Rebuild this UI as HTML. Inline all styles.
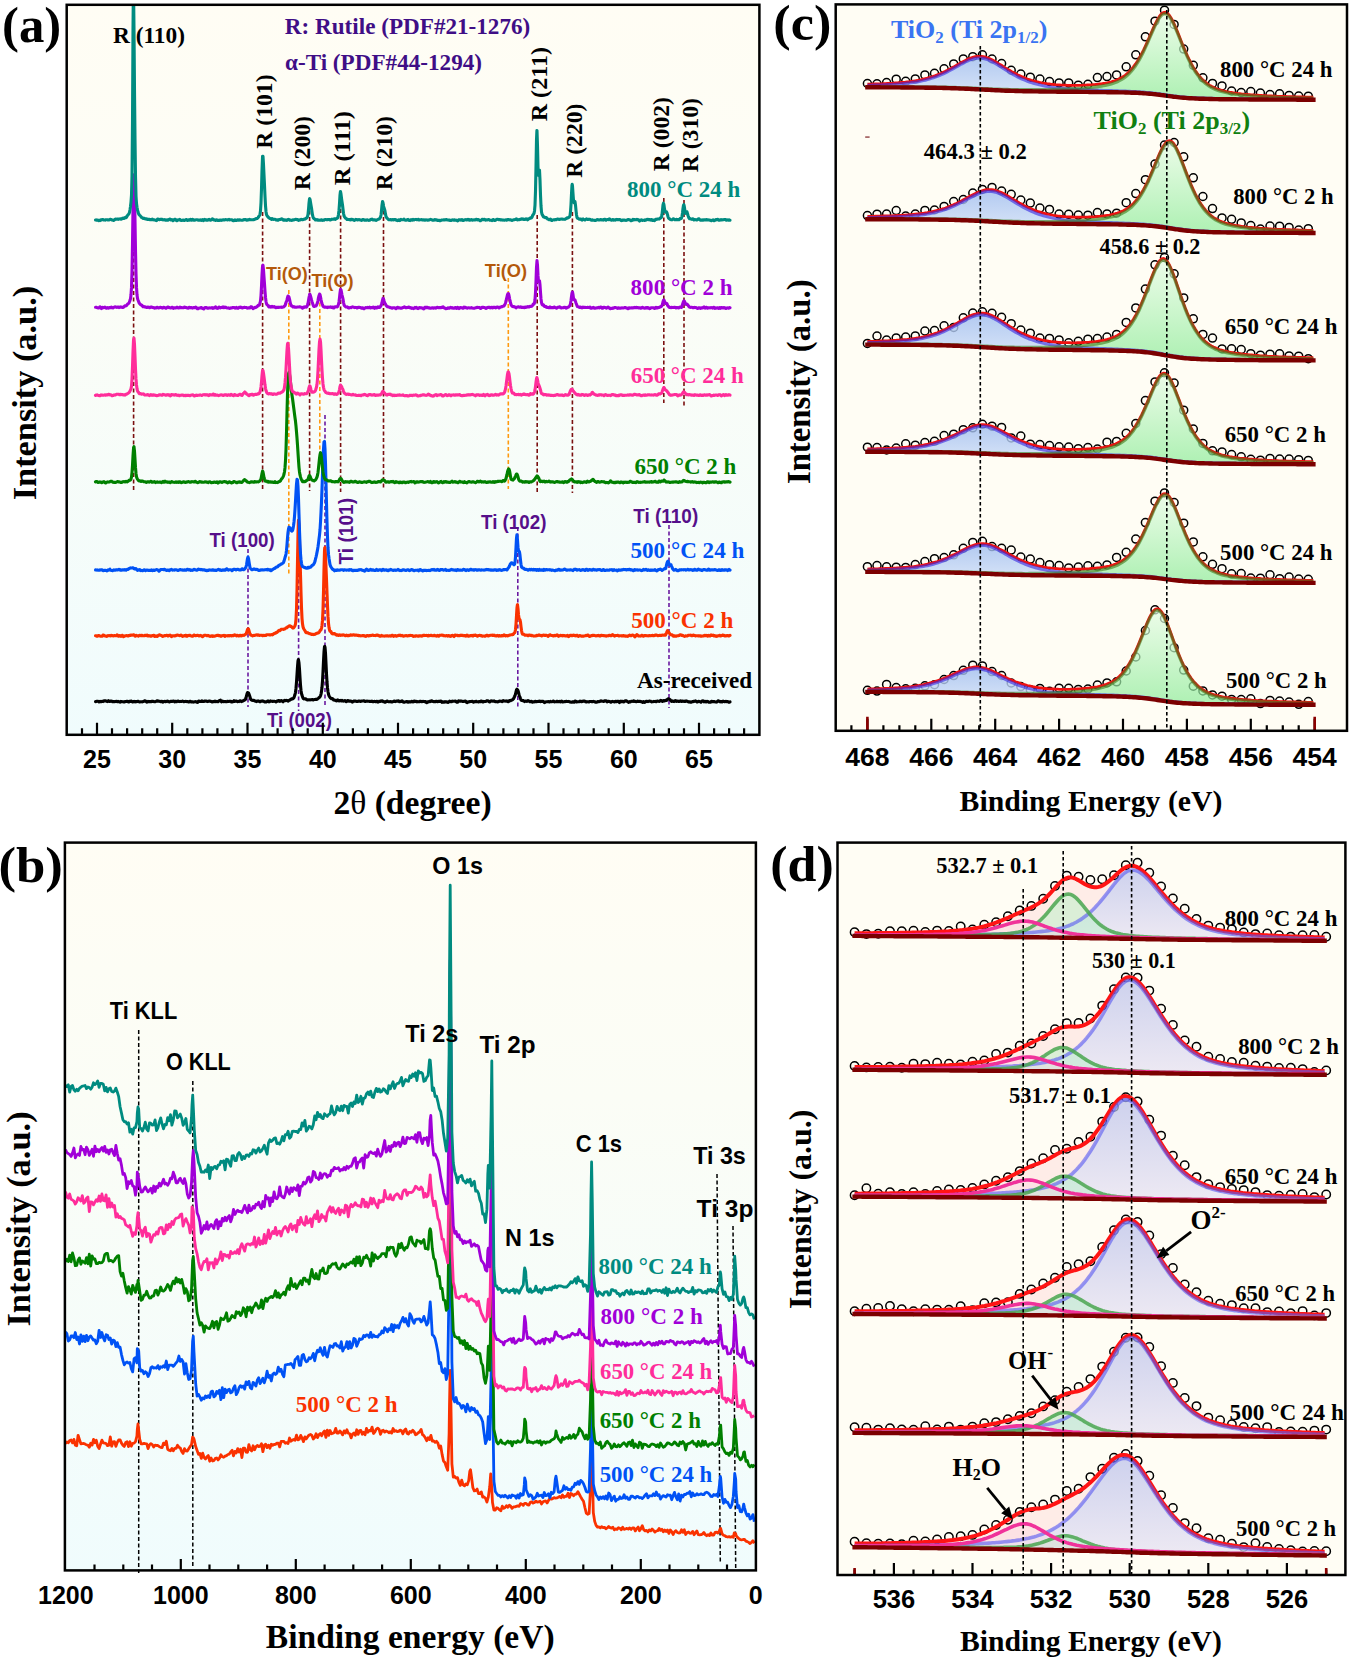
<!DOCTYPE html><html><head><meta charset="utf-8"><style>html,body{margin:0;padding:0;background:#fff}svg{display:block}</style></head><body>
<svg width="1349" height="1661" viewBox="0 0 1349 1661">
<defs>
<linearGradient id="bgA" x1="0" y1="0" x2="0" y2="1"><stop offset="0" stop-color="#fffdf4"/><stop offset="0.35" stop-color="#fcfdf6"/><stop offset="1" stop-color="#f0fcfd"/></linearGradient>
<linearGradient id="bgB" x1="0" y1="0" x2="0" y2="1"><stop offset="0" stop-color="#fffdf4"/><stop offset="0.35" stop-color="#fbfdf6"/><stop offset="1" stop-color="#f0fcfd"/></linearGradient>
<linearGradient id="gG" x1="0" y1="0" x2="0" y2="1"><stop offset="0" stop-color="#e4fce4"/><stop offset="1" stop-color="#8ceb98"/></linearGradient>
<linearGradient id="gB" x1="0" y1="0" x2="0" y2="1"><stop offset="0" stop-color="#9fbdf0"/><stop offset="1" stop-color="#d2e1f9"/></linearGradient>
<linearGradient id="dB" x1="0" y1="0" x2="0" y2="1"><stop offset="0" stop-color="#b9c6f0"/><stop offset="1" stop-color="#e6e8f8"/></linearGradient>
<clipPath id="cA"><rect x="67" y="5" width="692" height="730"/></clipPath>
<clipPath id="cB"><rect x="65" y="843" width="691" height="727"/></clipPath>
<clipPath id="cC"><rect x="836" y="5" width="511" height="726"/></clipPath>
<clipPath id="cD"><rect x="838" y="843" width="507" height="732"/></clipPath>
</defs>
<rect width="1349" height="1661" fill="#fff"/>
<rect x="66.7" y="4.8" width="692.6999999999999" height="730.0" fill="url(#bgA)"/>
<g clip-path="url(#cA)">
<line x1="133.6" y1="200" x2="133.6" y2="491" stroke="#7a1010" stroke-width="1.6" stroke-dasharray="4 2.5"/>
<line x1="262.6" y1="212" x2="262.6" y2="491" stroke="#7a1010" stroke-width="1.6" stroke-dasharray="4 2.5"/>
<line x1="309.6" y1="204" x2="309.6" y2="491" stroke="#7a1010" stroke-width="1.6" stroke-dasharray="4 2.5"/>
<line x1="340.6" y1="196" x2="340.6" y2="492" stroke="#7a1010" stroke-width="1.6" stroke-dasharray="4 2.5"/>
<line x1="383.5" y1="204" x2="383.5" y2="488" stroke="#7a1010" stroke-width="1.6" stroke-dasharray="4 2.5"/>
<line x1="537.2" y1="215" x2="537.2" y2="494" stroke="#7a1010" stroke-width="1.6" stroke-dasharray="4 2.5"/>
<line x1="572.4" y1="212" x2="572.4" y2="493" stroke="#7a1010" stroke-width="1.6" stroke-dasharray="4 2.5"/>
<line x1="663.8" y1="198" x2="663.8" y2="403" stroke="#7a1010" stroke-width="1.6" stroke-dasharray="4 2.5"/>
<line x1="684.0" y1="200" x2="684.0" y2="406" stroke="#7a1010" stroke-width="1.6" stroke-dasharray="4 2.5"/>
<line x1="288.8" y1="290" x2="288.8" y2="575" stroke="#ff9a10" stroke-width="1.6" stroke-dasharray="4 2.5"/>
<line x1="319.8" y1="296" x2="319.8" y2="452" stroke="#ff9a10" stroke-width="1.6" stroke-dasharray="4 2.5"/>
<line x1="508.3" y1="278" x2="508.3" y2="489" stroke="#ff9a10" stroke-width="1.6" stroke-dasharray="4 2.5"/>
<line x1="248.0" y1="549" x2="248.0" y2="707" stroke="#6a1aa0" stroke-width="1.6" stroke-dasharray="4 2.5"/>
<line x1="298.6" y1="560" x2="298.6" y2="711" stroke="#6a1aa0" stroke-width="1.6" stroke-dasharray="4 2.5"/>
<line x1="325.0" y1="415" x2="325.0" y2="707" stroke="#6a1aa0" stroke-width="1.6" stroke-dasharray="4 2.5"/>
<line x1="517.8" y1="527" x2="517.8" y2="708" stroke="#6a1aa0" stroke-width="1.6" stroke-dasharray="4 2.5"/>
<line x1="669.0" y1="525" x2="669.0" y2="708" stroke="#6a1aa0" stroke-width="1.6" stroke-dasharray="4 2.5"/>
</g>
<g clip-path="url(#cA)">
<path d="M95.5 701.6l.5 0 .5-.2 .5-.2 .5 0 .5 0 .5 .4 .5 .3 .5-.3 .5-.2 .5 .3 .5 .1 .5-.2 .5-.3 .5 .2 .5 .1 .5-.4 .5-.2 .5-.3 .5 0 .5 .1 .5 .3 .5 .1 .5 .3 .5 .1 .5-.4 .5-.5 .5 .4 .5 .4 .5-.1 .5-.3 .5 0 .5 0 .5 .2 .5 .4 .5-.2 .5 .1 .5 .2 .5-.3 .5 0 .5 .1 .5-.1 .5-.2 .5 .3 .5 .2 .5-.4 .5 .3 .5 0 .5 0 .5 .5 .5-.3 .5-.5 .5 .1 .5 .2 .5 0 .5 .1 .5 0 .5 .2 .5 0 .5-.4 .5-.1 .5 0 .5-.1 .5-.2 .5 0 .5 .4 .5 .4 .5-.1 .5-.6 .5-.1 .5 .2 .5-.4 .5 .2 .5 .5 .5 .3 .5-.1 .5-.4 .5-.1 .5 .3 .5 .2 .5-.3 .5-.1 .5 .1 .5 0 .5-.2 .5-.2 .5 .2 .5 .2 .5 .4 .5-.1 .5-.1 .5 0 .5-.1 .5 .2 .5-.1 .5-.2 .5-.3 .5 0 .5-.5 .5-.1 .5 .4 .5 .2 .5 .5 .5 .3 .5-.5 .5-.2 .5 .2 .5 .1 .5-.1 .5 0 .5 .2 .5-.1 .5-.4 .5 .1 .5 0 .5-.1 .5 .1 .5 .1 .5 .3 .5 0 .5-.2 .5-.2 .5-.2 .5-.4 .5 .2 .5 .2 .5-.1 .5 .2 .5-.1 .5 .3 .5 0 .5 .2 .5-.2 .5-.2 .5 .6 .5 .3 .5-.5 .5-.2 .5-.1 .5 0 .5 .3 .5-.2 .5-.1 .5-.2 .5-.1 .5 .2 .5 .5 .5 0 .5 .1 .5-.3 .5-.3 .5 0 .5 .1 .5 0 .5 0 .5-.2 .5-.2 .5 .4 .5 .4 .5-.3 .5-.2 .5 .4 .5 .1 .5-.5 .5-.1 .5-.1 .5 0 .5 .4 .5 .1 .5-.1 .5-.1 .5 .1 .5-.1 .5-.1 .5-.2 .5 .1 .5 .5 .5-.1 .5 0 .5-.1 .5-.1 .5 0 .5 .2 .5-.1 .5 0 .5 .2 .5 .3 .5 0 .5-.3 .5-.4 .5-.1 .5 .6 .5 .2 .5-.2 .5 0 .5 .2 .5 .1 .5-.2 .5-.1 .5 0 .5-.3 .5 .3 .5 .2 .5 .2 .5 .2 .5-.3 .5-.9 .5-.2 .5 .4 .5 0 .5 .1 .5 0 .5-.6 .5-.1 .5 .5 .5 .2 .5 0 .5-.1 .5-.3 .5-.1 .5 .1 .5-.1 .5 0 .5 .5 .5 .1 .5-.1 .5-.3 .5-.1 .5-.1 .5 .2 .5 .2 .5 0 .5 .2 .5 .3 .5 .1 .5-.5 .5 .1 .5 0 .5-.3 .5-.2 .5 .2 .5 .4 .5-.1 .5-.1 .5 .1 .5 .2 .5-.4 .5-.6 .5-.1 .5-.3 .5-.2 .5 .9 .5 .7 .5-.3 .5-.4 .5 .1 .5 .5 .5 0 .5-.1 .5-.1 .5 .1 .5 .2 .5 0 .5-.3 .5-.2 .5 .1 .5 .1 .5 0 .5-.3 .5 0 .5 .1 .5 0 .5 .7 .5 0 .5-.4 .5 0 .5-.3 .5-.6 .5 .4 .5 .3 .5-.2 .5-.2 .5 .1 .5 .3 .5 .3 .5-.1 .5-.1 .5 .1 .5-.4 .5-.5 .5 0 .5 .7 .5 .2 .5-.2 .5-.2 .5-.3 .5-.3 .5-.3 .5-.3 .5-.2 .5-.5 .5-1.5 .5-2 .5-2 .5-1.2 .5 0 .5 .4 .5 1.1 .5 1.5 .5 1.5 .5 1.6 .5 1 .5 .3 .5 .2 .5 .2 .5 0 .5-.1 .5 .2 .5 .2 .5 .4 .5-.1 .5 .4 .5 .2 .5-.4 .5-.2 .5 .2 .5-.1 .5 0 .5 .4 .5 .4 .5-.4 .5-.4 .5-.1 .5 .1 .5-.2 .5 .1 .5 .4 .5 0 .5 .4 .5 .2 .5-.2 .5 0 .5 .2 .5-.5 .5-.5 .5-.1 .5 .5 .5 .5 .5-.2 .5-.6 .5-.2 .5 .2 .5 .2 .5 0 .5 .1 .5 0 .5-.1 .5 0 .5 0 .5 .1 .5 .3 .5 .3 .5-.3 .5-.6 .5-.3 .5 0 .5-.3 .5 .1 .5 .7 .5 .1 .5-.4 .5-.5 .5 .2 .5 .2 .5 .5 .5 .4 .5-.6 .5-.6 .5-.2 .5 .2 .5 0 .5-.2 .5 0 .5 .1 .5 .4 .5 .2 .5-.3 .5-.4 .5-.2 .5-.2 .5-.3 .5-.4 .5-.5 .5-.1 .5 .2 .5-.3 .5-.4 .5-.7 .5-1.5 .5-1.5 .5-2.2 .5-4.1 .5-6.2 .5-7.4 .5-7.8 .5-5.9 .4-1.4 .1 .6 .5 3 .5 6.2 .5 8.4 .5 7.4 .5 5.3 .5 3.1 .5 1.8 .5 1.4 .5 1.4 .5 .5 .5 .3 .5-.1 .5 0 .5-.1 .5 .5 .5 .5 .5-.1 .5 .4 .5 0 .5-.3 .5 0 .5 .1 .5 .1 .5-.1 .5-.1 .5 0 .5-.1 .5-.1 .5 .4 .5 .1 .5-.5 .5 0 .5-.1 .5-.1 .5 .2 .5-.1 .5-.1 .5-.5 .5-.3 .5-.4 .5-.5 .5-.3 .5-.6 .5-.9 .5-1.7 .5-2.7 .5-4.1 .5-6.3 .5-9 .5-10.6 .5-9.4 .5-5.3 .2-.3 .3 .8 .5 6.1 .5 10.2 .5 10.5 .5 8 .5 5.9 .5 3.9 .5 2.4 .5 1.6 .5 .8 .5 .7 .5 .7 .5 .3 .5 .4 .5-.1 .5 0 .5 .5 .5 .9 .5 .1 .5 0 .5 .1 .5 .2 .5 .3 .5 .2 .5-.6 .5-.4 .5 .1 .5 .3 .5 .6 .5 .1 .5-.5 .5-.1 .5 .4 .5 .2 .5-.6 .5 .3 .5 .2 .5 .2 .5-.2 .5-.2 .5-.1 .5 .3 .5 .7 .5 0 .5-.5 .5-.4 .5-.2 .5 .4 .5 .3 .5 0 .5-.1 .5-.1 .5 .2 .5 .3 .5 .5 .5 .1 .5-.6 .5-.4 .5 .1 .5-.1 .5 0 .5 0 .5 .1 .5 .2 .5 .1 .5 0 .5-.2 .5-.2 .5-.1 .5 .2 .5 .1 .5 .1 .5-.1 .5-.3 .5 .1 .5-.1 .5 0 .5 0 .5-.2 .5 .4 .5 .3 .5-.1 .5-.1 .5-.1 .5-.1 .5 .1 .5 .1 .5 0 .5-.1 .5 .2 .5 .1 .5-.1 .5 0 .5 0 .5-.3 .5 .4 .5 .2 .5 0 .5-.1 .5-.3 .5 .1 .5 .3 .5 0 .5-.3 .5-.2 .5 .4 .5 .5 .5-.1 .5-.5 .5-.3 .5 .3 .5-.2 .5-.5 .5 .3 .5-.2 .5 0 .5 .4 .5 .5 .5-.2 .5 .2 .5 .5 .5-.1 .5-.5 .5-.4 .5-.3 .5 .2 .5 .4 .5 .1 .5 .1 .5 0 .5-.3 .5 0 .5 .3 .5 .2 .5 0 .5-.2 .5-.2 .5-.1 .5-.4 .5-.1 .5 .5 .5 .1 .5-.2 .5-.4 .5 .1 .5 .1 .5-.3 .5-.2 .5 .6 .5 .5 .5-.1 .5-.3 .5 .1 .5-.1 .5-.6 .5 .4 .5 .6 .5 .3 .5 .2 .5-.1 .5-.3 .5-.1 .5 0 .5-.3 .5 .1 .5 .5 .5 .1 .5-.4 .5-.2 .5 .2 .5 .2 .5-.1 .5 0 .5-.5 .5 0 .5 .2 .5 .3 .5-.1 .5-.7 .5 0 .5 .3 .5-.2 .5 0 .5 .5 .5 .2 .5-.2 .5-.1 .5 .2 .5 0 .5-.1 .5-.4 .5-.1 .5 .2 .5 .1 .5 .2 .5-.1 .5-.3 .5 .1 .5 .2 .5 .1 .5-.2 .5 .1 .5 .6 .5 .5 .5-.2 .5-.6 .5 0 .5 .1 .5-.4 .5-.3 .5 .2 .5 .1 .5-.5 .5-.3 .5 .2 .5 .4 .5 0 .5 .1 .5 .2 .5 0 .5-.1 .5 0 .5-.3 .5-.1 .5 .2 .5 .4 .5-.2 .5-.3 .5 0 .5 .2 .5 0 .5-.5 .5 0 .5 .7 .5 .7 .5-.2 .5-.4 .5 .3 .5 .1 .5-.4 .5-.2 .5 .4 .5 0 .5-.2 .5 0 .5 .5 .5 .1 .5-.3 .5-.5 .5-.4 .5 .3 .5 .1 .5 .2 .5 0 .5-.5 .5-.2 .5 .2 .5 0 .5 0 .5 0 .5-.2 .5-.1 .5 .7 .5 .3 .5 .2 .5 .1 .5-.7 .5-.7 .5 0 .5 .1 .5 .2 .5 0 .5-.2 .5 .2 .5 0 .5 .2 .5 .1 .5-.1 .5 0 .5-.1 .5-.2 .5-.1 .5 .6 .5 .8 .5 .2 .5-.3 .5-.4 .5-.2 .5 .2 .5-.2 .5-.2 .5 0 .5 0 .5-.1 .5-.1 .5-.1 .5 .4 .5 .6 .5-.4 .5-.2 .5 .2 .5-.1 .5-.4 .5 .2 .5 .3 .5 0 .5 0 .5 .1 .5-.3 .5-.1 .5 .1 .5 .1 .5-.6 .5-.1 .5 .4 .5 .4 .5 .2 .5-.2 .5-.4 .5 .1 .5 0 .5-.1 .5 .1 .5-.5 .5-.3 .5 .2 .5 0 .5 .3 .5 .4 .5 .3 .5 .1 .5-.5 .5-.6 .5 0 .5 .1 .5 .1 .5 .2 .5-.2 .5-.2 .5 .5 .5 .2 .5 0 .5 0 .5 .1 .5 0 .5 .2 .5-.1 .5-.1 .5-.3 .5-.4 .5 .1 .5 .2 .5 0 .5-.1 .5 .5 .5-.3 .5-.6 .5-.2 .5 .4 .5 .1 .5-.1 .5 .1 .5 0 .5 .1 .5-.2 .5 .2 .5 .5 .5 .1 .5-.9 .5-.4 .5 .1 .5 .1 .5-.4 .5-.1 .5-.1 .5-.4 .5-.4 .5-.6 .5-1 .5-1 .5-1.1 .5-1.6 .5-2.2 .5-2 .5-.6 .2 .4 .3 .2 .5 .8 .5 1.7 .5 2.1 .5 1.6 .5 1.2 .5 1.4 .5 1.2 .5 .5 .5 .2 .5 0 .5 .2 .5-.1 .5 .4 .5 .6 .5-.2 .5-.4 .5 0 .5 .3 .5 .1 .5-.5 .5-.3 .5 .3 .5 .3 .5 .3 .5 .3 .5-.1 .5-.2 .5-.2 .5 .5 .5 .4 .5-.2 .5-.3 .5 0 .5 .2 .5-.5 .5 0 .5 .3 .5 0 .5-.2 .5 0 .5-.1 .5 .1 .5-.2 .5-.2 .5 .3 .5 .2 .5-.3 .5 .1 .5 .1 .5-.2 .5 0 .5 .1 .5 .7 .5 .5 .5-.2 .5-.5 .5-.1 .5-.1 .5 .1 .5 0 .5-.3 .5 .2 .5 .1 .5 .2 .5-.3 .5-.3 .5 .2 .5 .2 .5-.1 .5-.1 .5-.4 .5-.2 .5 .6 .5 .3 .5-.2 .5 0 .5 .1 .5-.3 .5-.2 .5 .2 .5 .2 .5-.2 .5 .1 .5-.2 .5-.1 .5 .5 .5-.3 .5-.4 .5 .3 .5 .5 .5 .1 .5-.3 .5 0 .5 0 .5-.2 .5 .1 .5-.1 .5-.2 .5 .1 .5 .1 .5 0 .5-.1 .5 .1 .5 .4 .5 0 .5 .2 .5 .1 .5 0 .5 0 .5-.4 .5-.1 .5 .2 .5 .4 .5-.2 .5-1 .5 0 .5 .6 .5 .3 .5-.1 .5-.2 .5 .1 .5 0 .5 0 .5-.2 .5-.5 .5 .2 .5 .2 .5 .2 .5-.2 .5-.2 .5 .1 .5-.2 .5-.2 .5 0 .5 .4 .5 .4 .5 .1 .5-.1 .5 .1 .5-.2 .5 0 .5 .2 .5 0 .5-.3 .5-.1 .5 0 .5 0 .5 0 .5 .2 .5-.1 .5 0 .5-.2 .5 .2 .5 .1 .5 .1 .5 .4 .5 0 .5 .1 .5-.3 .5-.5 .5 0 .5 .2 .5 0 .5-.1 .5-.3 .5-.4 .5 .1 .5-.1 .5 .4 .5 0 .5 0 .5 .1 .5 0 .5-.5 .5-.2 .5 0 .5 0 .5 .5 .5 .6 .5-.3 .5 0 .5-.2 .5 .2 .5 0 .5 .1 .5 .4 .5 .2 .5-.3 .5-.4 .5-.1 .5 .2 .5 .1 .5 .1 .5 .1 .5-.1 .5-.6 .5 .2 .5 .3 .5-.2 .5-.2 .5-.1 .5 0 .5 .6 .5 .7 .5-.4 .5-.8 .5-.2 .5 .4 .5 .2 .5-.3 .5 0 .5 .5 .5 0 .5-.5 .5-.4 .5-.2 .5 .1 .5 0 .5 .5 .5 .2 .5 .3 .5 .4 .5-.3 .5-.4 .5 .2 .5 .1 .5-.5 .5-.2 .5 0 .5 0 .5 .3 .5-.6 .5 0 .5 .4 .5 .2 .5 .1 .5 .1 .5 0 .5-.1 .5-.5 .5 .1 .5 .2 .5 .1 .5 0 .5-.2 .5 .1 .5 .3 .5 0 .5 0 .5 .7 .5-.1 .5-.8 .5 .3 .5 .6 .5-.2 .5-.5 .5-.2 .5-.2 .5 0 .5 .1 .5 .2 .5-.2 .5-.2 .5-.1 .5 .1 .5 0 .5 .3 .5 .4 .5-.1 .5 0 .5-.1 .5-.1 .5-.2 .5 .1 .5 0 .5-.1 .5 .3 .5-.2 .5-.3 .5-.1 .5 .1 .5 .1 .5 0 .5 .2 .5-.5 .5-.6 .5 .1 .5 0 .5 .6 .5 .4 .5-.3 .5-.6 .5 0 .5 .4 .5-.4 .5-.4 .5 .1 .5 .1 .5-.6 .5-.6 .3-.1 .2-.1 .5-.2 .5 .1 .5 .4 .5 .3 .5 .5 .5 .7 .5 .5 .5-.3 .5-.1 .5 .2 .5 .4 .5 .1 .5-.4 .5-.4 .5-.2 .5 .3 .5 .5 .5-.1 .5-.2 .5 .1 .5 .3 .5 0 .5-.2 .5-.2 .5-.3 .5 .3 .5 .4 .5-.5 .5 .2 .5 .2 .5-.1 .5-.1 .5 .2 .5 .1 .5-.2 .5-.4 .5 .2 .5 .1 .5 .1 .5 .3 .5 .3 .5 0 .5-.2 .5 .3 .5 .2 .5 .1 .5-.2 .5-.4 .5-.1 .5 0 .5-.3 .5 .1 .5-.1 .5-.2 .5-.2 .5 .2 .5 .5 .5 .4 .5 0 .5-.3 .5-.3 .5 0 .5 .2 .5 .1 .5 .3 .5 .2 .5-.6 .5-.6 .5-.1 .5 0 .5 .3 .5 .6 .5-.2 .5-.3 .5 .4 .5 .3 .5-.4 .5-.3 .5 .1 .5 .3 .5 .3 .5 .2 .5 .1 .5 0 .5-.1 .5-.4 .5-.6 .5 .2 .5 .2 .5 0 .5 .1 .5-.2 .5 0 .5 .5 .5 0 .5-.1 .5 .2 .5-.1 .5-.5 .5-.7 .5 .2 .5 .2 .5 .1 .5 .4 .5 .2 .5-.4 .5 0 .5 .5 .5-.4 .5-.4 .5 .3 .5 .1 .5-.1 .5 .2 .5-.3 .5-.1 .5 .3 .5 .2 .5-.2 .5 0 .5 .4 .5 .3 .5-.3 .5-.1" fill="none" stroke="#000000" stroke-width="3.1" stroke-linejoin="round" stroke-linecap="round"/>
<path d="M95.5 635.7l.5 .1 .5 .2 .5 .2 .5 0 .5-.3 .5-.4 .5 0 .5 .4 .5 .2 .5 .1 .5 0 .5 .1 .5 0 .5-.6 .5-.6 .5-.1 .5 .3 .5 .5 .5 0 .5 .3 .5 .1 .5 .2 .5-.2 .5-.4 .5-.2 .5 .1 .5 0 .5-.1 .5 .2 .5 .1 .5-.5 .5 0 .5 .1 .5 .2 .5 .2 .5 0 .5-.2 .5-.2 .5 .2 .5 0 .5 .1 .5-.3 .5-.6 .5 .3 .5 .6 .5 .4 .5-.2 .5-.3 .5-.2 .5 .7 .5 .2 .5-.5 .5-.4 .5-.2 .5 .8 .5 .6 .5-.3 .5-.2 .5-.3 .5-.2 .5 .1 .5-.3 .5 0 .5 .3 .5 .2 .5 0 .5-.3 .5-.3 .5-.2 .5 .2 .5-.1 .5-.3 .5 .1 .5 0 .5-.2 .5-.1 .5 .2 .5 .6 .5 .5 .5 0 .5-.7 .5 0 .5 .4 .5-.1 .5 .1 .5 .3 .5-.5 .5-.4 .5 0 .5 .4 .5 0 .5-.4 .5 .1 .5 .5 .5 0 .5-.1 .5 .1 .5-.1 .5-.5 .5 .2 .5 .2 .5-.3 .5-.3 .5 .4 .5 .6 .5 0 .5-.4 .5 .4 .5-.2 .5 .2 .5 .3 .5-.2 .5-.4 .5-.2 .5 .1 .5-.3 .5 0 .5 1 .5 .2 .5-.3 .5-.3 .5 .3 .5 .3 .5-.2 .5-.6 .5-.4 .5-.1 .5-.4 .5 .1 .5 .4 .5 .1 .5 .1 .5 .4 .5 .5 .5-.1 .5-.3 .5-.1 .5-.3 .5 0 .5 .1 .5-.3 .5-.1 .5 0 .5 .4 .5 .4 .5-.4 .5-.2 .5-.2 .5-.2 .5 .3 .5 .8 .5 .4 .5-.5 .5-.4 .5 .1 .5 0 .5 .1 .5 0 .5 0 .5-.1 .5-.3 .5-.2 .5-.3 .5 .1 .5 .1 .5 .1 .5 .1 .5 .2 .5 0 .5-.4 .5-.1 .5 .3 .5 .6 .5 .4 .5-.3 .5-.2 .5 0 .5-.3 .5 .2 .5-.5 .5-.1 .5 1.1 .5 0 .5-.7 .5 0 .5 0 .5-.1 .5-.3 .5 .1 .5 .4 .5 .2 .5 .2 .5 .1 .5 .1 .5-.5 .5-.4 .5-.4 .5 .2 .5 .5 .5-.1 .5 .1 .5-.1 .5-.3 .5 .1 .5 0 .5 .2 .5 .3 .5 0 .5-.4 .5-.1 .5 .2 .5 .2 .5 .5 .5 .4 .5-.4 .5-.5 .5-.3 .5-.2 .5-.1 .5 0 .5 .2 .5 .2 .5 .2 .5-.2 .5-.2 .5 .1 .5 .6 .5 .1 .5 .2 .5-.1 .5-.1 .5-.3 .5 .3 .5 .2 .5-.6 .5 .3 .5 .2 .5-.2 .5 0 .5-.1 .5-.3 .5-.1 .5-.3 .5 0 .5 0 .5 .2 .5 .2 .5-.1 .5 0 .5 .6 .5 .1 .5-.3 .5-.4 .5 .1 .5 .1 .5-.2 .5-.3 .5 .7 .5 .3 .5-.7 .5 .2 .5 0 .5 0 .5 .1 .5-.4 .5 .2 .5 .3 .5-.3 .5-.2 .5 0 .5 .2 .5 .2 .5-.3 .5 0 .5-.2 .5 .2 .5-.3 .5-.5 .5 .3 .5 .1 .5 .3 .5 .3 .5-.5 .5 0 .5 .5 .5 .1 .5 .1 .5-.3 .5-.4 .5 .2 .5 .4 .5-.1 .5-.3 .5-.2 .5-.1 .5 0 .5 .3 .5-.5 .5-.6 .5-.1 .5-.3 .5-1 .5-1.9 .5-1.6 .5-.7 .5 .2 .5 1.7 .5 2 .5 1.1 .5 .9 .5 .5 .5 .1 .5 .1 .5 .5 .5-.3 .5-.2 .5 .1 .5-.1 .5-.2 .5 0 .5-.1 .5-.3 .5 .3 .5 .1 .5-.2 .5-.1 .5 .2 .5 .3 .5-.1 .5-.1 .5 .1 .5-.1 .5 .2 .5 .3 .5-.3 .5 0 .5 .2 .5-.2 .5-.1 .5 .2 .5-.1 .5-.7 .5 0 .5 0 .5 0 .5 0 .5 .1 .5 .1 .5-.1 .5 .1 .5-.1 .5-.2 .5 .1 .5 .2 .5-.4 .5-.6 .5-.3 .5-.3 .5 .1 .5-.2 .5-.6 .5-.1 .5-.1 .5-.5 .5-.5 .5-.6 .5-.4 .5 .2 .5 .1 .5-.7 .5-.6 .5-.2 .5 0 .5 0 .5 0 .5 .2 .5-.3 .5-.1 .5-.2 .5-.4 .5-.5 .5 0 .5-.2 .5-.6 .5-.6 .5 0 .5-.3 .5-.4 .5 0 .5 .3 .5 .4 .5 .2 .5 .5 .5 .7 .5 .2 .5-.2 .5-.6 .5-.7 .5-.9 .5-1.9 .5-4.7 .5-9.8 .5-19.5 .5-28.2 .5-27.3 .4-12.7 .1-1.4 .5 4.6 .5 15.1 .5 17.3 .5 17.8 .5 17.7 .5 15.1 .5 10.5 .5 5.5 .5 2.9 .5 1.6 .5 .9 .5 .8 .5 .8 .5 1 .5 .7 .5 .2 .5-.1 .5 .1 .5 .3 .5 .2 .5 0 .5 .6 .5-.1 .5 0 .5 .4 .5 .3 .5 0 .5 0 .5 0 .5 .2 .5-.1 .5-.2 .5 0 .5-.3 .5-.4 .5-.3 .5 0 .5-.1 .5-.4 .5 0 .5-.3 .5-.8 .5-1 .5-.4 .5-.6 .5-1.6 .5-2.6 .5-5.3 .5-10.2 .5-18.2 .5-22.8 .5-17.8 .2-3.2 .3-.5 .5 8 .5 12 .5 12.4 .5 13.2 .5 12.7 .5 10.6 .5 7.1 .5 3.9 .5 2.5 .5 1.3 .5 .1 .5 .3 .5 1.2 .5 .7 .5 .3 .5 .1 .5-.3 .5 0 .5-.1 .5 .3 .5 .6 .5 .3 .5 .5 .5-.3 .5-.2 .5 .5 .5 .3 .5-.3 .5-.4 .5 .3 .5 .3 .5-.4 .5 0 .5 .3 .5-.1 .5-.3 .5 0 .5 .1 .5 .3 .5 .2 .5 .2 .5-.2 .5-.4 .5 .3 .5 .3 .5 .1 .5-.1 .5-.4 .5-.1 .5 .2 .5-.4 .5-.2 .5 .5 .5 0 .5-.2 .5-.3 .5 0 .5 .1 .5 .3 .5 0 .5-.2 .5 .3 .5-.2 .5 .1 .5 .3 .5-.1 .5-.1 .5 .5 .5-.2 .5 0 .5 .2 .5 .1 .5-.2 .5 0 .5-.1 .5 .1 .5-.2 .5 .1 .5 .5 .5-.1 .5 0 .5 .3 .5-.4 .5-.4 .5 .1 .5-.1 .5 .4 .5 .1 .5-.5 .5-.1 .5 .2 .5-.1 .5-.1 .5 0 .5-.4 .5 .2 .5 .2 .5 .1 .5 0 .5-.1 .5 .2 .5-.1 .5-.3 .5-.2 .5 .1 .5 .3 .5 0 .5 .3 .5 .4 .5 .2 .5-.1 .5-.6 .5-.2 .5 .4 .5 .2 .5 0 .5 0 .5 .1 .5 0 .5-.1 .5-.1 .5 0 .5-.1 .5 .1 .5 0 .5 0 .5 .2 .5-.1 .5-.1 .5-.2 .5 .1 .5 .3 .5-.5 .5-.4 .5 .1 .5 .4 .5 .6 .5-.2 .5-.3 .5-.3 .5 .2 .5 .4 .5 .1 .5-.4 .5 0 .5-.1 .5-.3 .5 .1 .5-.2 .5-.3 .5 .6 .5 .2 .5-.3 .5-.1 .5 .5 .5 .2 .5 .1 .5-.1 .5-.3 .5 0 .5-.1 .5-.1 .5 0 .5 .2 .5 .2 .5-.2 .5-.2 .5 0 .5 0 .5-.2 .5 0 .5 .1 .5 0 .5 0 .5 .2 .5 .6 .5 .1 .5-.4 .5 0 .5 .3 .5-.3 .5-.2 .5 0 .5 .2 .5 .1 .5 0 .5 .1 .5-.4 .5-.1 .5 0 .5 .3 .5-.2 .5 0 .5 .3 .5-.1 .5-.5 .5-.2 .5-.1 .5 .3 .5 .1 .5-.1 .5-.1 .5 0 .5 .1 .5 .4 .5 0 .5-.6 .5 .1 .5 .2 .5 0 .5-.2 .5 0 .5 0 .5 .3 .5 .1 .5-.1 .5 0 .5-.2 .5-.2 .5 .4 .5 .1 .5 0 .5 .3 .5-.1 .5-.6 .5 .1 .5 .7 .5 0 .5-.7 .5-.3 .5 0 .5 0 .5-.1 .5 .2 .5-.2 .5 .2 .5 .4 .5-.1 .5 .1 .5 .2 .5 0 .5-.2 .5-.1 .5 .1 .5 .4 .5-.2 .5-.4 .5 .1 .5 .4 .5 .2 .5 .2 .5-.2 .5-.5 .5-.3 .5-.1 .5 .3 .5 .5 .5 .4 .5-.7 .5-.8 .5 .2 .5 .2 .5-.2 .5 0 .5 .3 .5 .2 .5-.1 .5-.1 .5 .2 .5-.2 .5-.2 .5-.2 .5 .2 .5 .2 .5-.2 .5 .2 .5 .3 .5-.1 .5-.1 .5 0 .5 .5 .5 .1 .5-.5 .5-.6 .5 .2 .5 .7 .5 .3 .5-.2 .5-.1 .5-.4 .5 0 .5 .1 .5-.1 .5-.2 .5 .5 .5 .1 .5-.7 .5-.1 .5 .3 .5-.3 .5-.2 .5 .6 .5 .1 .5 .1 .5 .4 .5-.3 .5-.4 .5-.1 .5-.1 .5 0 .5 .3 .5-.1 .5 .2 .5 .5 .5 0 .5-.1 .5-.1 .5 .1 .5 .1 .5-.1 .5 0 .5-.5 .5-.3 .5-.1 .5 .2 .5 .5 .5 .1 .5-.4 .5-.1 .5-.1 .5-.2 .5 0 .5 .1 .5-.2 .5 .3 .5 .1 .5-.2 .5-.2 .5 .2 .5 .5 .5-.1 .5 .3 .5-.1 .5-.4 .5-.1 .5 .5 .5 .2 .5-.6 .5 0 .5 .4 .5 .1 .5 .1 .5-.4 .5-.2 .5 0 .5 .3 .5-.5 .5-.5 .5 .3 .5 .5 .5 .3 .5-.3 .5-.1 .5 .2 .5 .2 .5-.3 .5 0 .5-.2 .5-.3 .5-.1 .5-.1 .5-.1 .5 0 .5-.3 .5 .2 .5-.1 .5-.7 .5-.6 .5-.4 .5-.9 .5-2.5 .5-5.4 .5-8.2 .5-8.2 .4-2.9 .1-.1 .5 4 .5 6 .5 3.5 .5 .9 .5 .7 .5 2.4 .5 4.4 .5 3.7 .5 2.7 .5 1.2 .5 0 .5 0 .5 .3 .5 .3 .5 .4 .5 .1 .5-.2 .5 .2 .5-.2 .5 .2 .5 .4 .5-.2 .5-.4 .5-.1 .5 .2 .5 .3 .5 .1 .5-.3 .5 .2 .5 .3 .5 0 .5 .1 .5 .2 .5-.1 .5 0 .5 0 .5-.1 .5-.5 .5 .3 .5-.1 .5-.3 .5-.3 .5-.1 .5 .2 .5 .3 .5 .1 .5-.1 .5 .5 .5-.1 .5-.3 .5-.2 .5-.2 .5 0 .5 .2 .5 .2 .5-.1 .5-.2 .5 .1 .5 .1 .5 .4 .5 .5 .5-.3 .5-.6 .5-.5 .5-.1 .5 .2 .5 .5 .5 0 .5 0 .5 0 .5 .3 .5 .2 .5-.4 .5-.2 .5 .1 .5 .2 .5-.4 .5-.3 .5-.1 .5 .3 .5 .7 .5 .4 .5-.4 .5 0 .5-.2 .5-.3 .5 0 .5 .1 .5 .2 .5 .2 .5-.5 .5 .2 .5 .1 .5-.1 .5 .2 .5 .2 .5-.1 .5 0 .5-.2 .5-.3 .5 .8 .5 .4 .5-.2 .5-.5 .5-.5 .5 0 .5-.1 .5 .2 .5 .3 .5-.3 .5-.2 .5-.2 .5 .3 .5 .2 .5-.2 .5 .2 .5 .3 .5-.5 .5-.2 .5 .3 .5 .7 .5 .3 .5-.5 .5-.5 .5 .1 .5 .2 .5 0 .5 .4 .5 .1 .5-.3 .5 0 .5 .2 .5-.1 .5-.4 .5 .1 .5-.2 .5-.2 .5 .2 .5-.1 .5-.3 .5-.2 .5 .4 .5 .8 .5 .3 .5-.2 .5-.2 .5-.4 .5-.1 .5 0 .5-.3 .5 0 .5 .2 .5 0 .5-.1 .5 .2 .5 .2 .5 .1 .5-.1 .5-.2 .5 .1 .5-.1 .5-.2 .5 .2 .5 .3 .5 .2 .5-.2 .5-.6 .5 0 .5 .2 .5 .1 .5-.1 .5 .1 .5 .2 .5-.1 .5-.1 .5 .4 .5 .1 .5-.3 .5 0 .5-.1 .5 .2 .5-.2 .5-.3 .5 0 .5 0 .5 .3 .5 .1 .5-.2 .5-.5 .5-.5 .5 .4 .5 .2 .5 .5 .5 .4 .5-.2 .5-.3 .5 0 .5-.1 .5-.1 .5-.1 .5 .2 .5 .4 .5 0 .5 0 .5-.2 .5 0 .5 0 .5 .2 .5 .1 .5-.2 .5-.3 .5 .1 .5 .4 .5-.2 .5 0 .5 .4 .5 .1 .5-.3 .5 0 .5 .4 .5-.2 .5-.3 .5-.4 .5-.4 .5 .1 .5 .5 .5 .1 .5-.3 .5-.4 .5 0 .5 .1 .5 .1 .5 .6 .5 .6 .5 .3 .5-.6 .5-.7 .5-.6 .5-.4 .5 .5 .5 .6 .5 .4 .5 .1 .5-.1 .5-.1 .5 .2 .5-.1 .5-.5 .5-.2 .5 .1 .5 .7 .5 .2 .5-.4 .5-.4 .5 0 .5 .1 .5 0 .5 .1 .5 .1 .5-.1 .5 .2 .5-.1 .5-.2 .5-.1 .5 .1 .5 .2 .5-.1 .5-.1 .5-.2 .5-.1 .5 .3 .5-.1 .5 .2 .5-.1 .5-.5 .5 0 .5 .1 .5-.1 .5 .1 .5 .4 .5 0 .5 0 .5-.1 .5 0 .5-.2 .5 .2 .5 .1 .5-.1 .5-.3 .5-.2 .5 .3 .5 0 .5-.3 .5-.1 .5 .2 .5 0 .5-1.1 .5-1.1 .5-1.2 .5-1.1 .3 .2 .2 .4 .5 .8 .5 .6 .5 .7 .5 .8 .5 .5 .5 .2 .5 .1 .5-.1 .5 .4 .5 .6 .5 .4 .5-.2 .5-.2 .5 .2 .5 .2 .5 .1 .5-.2 .5-.4 .5 0 .5 0 .5 0 .5-.1 .5-.5 .5-.3 .5 .1 .5 0 .5 .5 .5 0 .5-.1 .5 .4 .5 .3 .5 0 .5 .4 .5-.1 .5-.6 .5 .2 .5 .1 .5 0 .5-.1 .5-.4 .5-.2 .5-.1 .5 .1 .5 0 .5-.2 .5 .2 .5 .4 .5 0 .5-.2 .5-.4 .5 0 .5 .3 .5 .1 .5 .1 .5 .3 .5-.1 .5-.1 .5 .1 .5 0 .5 0 .5 .2 .5 0 .5-.2 .5 0 .5 .2 .5 .2 .5 0 .5-.2 .5 0 .5 0 .5 0 .5-.4 .5-.3 .5 .5 .5-.1 .5-.4 .5 .1 .5 .3 .5 .5 .5-.3 .5-.5 .5 .2 .5 .3 .5 .1 .5-.7 .5-.4 .5 .5 .5 .1 .5-.2 .5-.2 .5 .6 .5 .3 .5-.5 .5 .3 .5 .2 .5 .4 .5-.3 .5-.2 .5 .2 .5-.2 .5-.2 .5 0 .5-.3 .5 0 .5 .6 .5-.2 .5-.3 .5 0 .5-.4 .5-.1 .5 .3 .5 .2 .5 .3 .5 .2 .5-.2 .5 .1 .5-.1 .5-.3 .5 0 .5 .1 .5 .3 .5 0 .5-.3 .5-.3" fill="none" stroke="#fa3200" stroke-width="3.1" stroke-linejoin="round" stroke-linecap="round"/>
<path d="M95.5 569.9l.5 0 .5 .2 .5-.1 .5-.1 .5 .4 .5 0 .5-.2 .5 .1 .5-.2 .5-.1 .5 0 .5-.2 .5 .1 .5 .3 .5 .5 .5 0 .5-.2 .5 .1 .5-.2 .5 0 .5 .1 .5 .1 .5 .3 .5-.5 .5-.4 .5 .3 .5-.2 .5-.5 .5-.3 .5 .8 .5 .5 .5 0 .5 .1 .5 .1 .5-.4 .5-.1 .5-.3 .5 .1 .5 .3 .5-.2 .5-.4 .5 .2 .5 0 .5-.1 .5 .1 .5-.2 .5-.3 .5 .3 .5 .4 .5-.3 .5 .2 .5 .3 .5-.2 .5-.4 .5 .1 .5 .2 .5 .1 .5-.4 .5-.1 .5 .5 .5 .1 .5-.4 .5-.4 .5 0 .5 0 .5-.3 .5-.6 .5-.1 .5-.2 .5-.3 .5 .1 .5 0 .5-.1 .5 0 .5-.2 .5 .4 .5 .5 .5 .3 .5 .1 .5-.4 .5 0 .5 .7 .5 .6 .5 .5 .5-.3 .5-.3 .5 .1 .5-.3 .5 .2 .5 .8 .5-.1 .5-.1 .5 .1 .5 .2 .5-.2 .5-.2 .5-.6 .5 0 .5 .7 .5 .3 .5-.3 .5-.2 .5-.2 .5 0 .5 .5 .5 0 .5-.2 .5 0 .5 .1 .5 0 .5-.3 .5-.2 .5 .4 .5 .3 .5-.5 .5 0 .5 .3 .5 .1 .5-.4 .5-.4 .5 .1 .5-.2 .5 .1 .5 .3 .5 .1 .5 .5 .5 .6 .5-.4 .5-.6 .5-.5 .5-.2 .5 0 .5 0 .5 0 .5 .1 .5 .1 .5-.2 .5-.2 .5 .1 .5 .5 .5 .3 .5 .3 .5-.1 .5-.3 .5-.1 .5 0 .5 .6 .5 0 .5-.6 .5-.3 .5 0 .5-.3 .5 .2 .5 .5 .5 0 .5-.1 .5 .1 .5-.3 .5 .1 .5-.1 .5-.1 .5 .2 .5 .1 .5 .4 .5-.1 .5 .1 .5-.4 .5-.1 .5-.4 .5 0 .5 .4 .5 .1 .5-.1 .5 .2 .5-.2 .5 .1 .5 .2 .5-.2 .5-.2 .5 .5 .5 0 .5-.5 .5-.4 .5-.2 .5 .2 .5 .5 .5-.1 .5-.2 .5 .3 .5 .4 .5-.3 .5 0 .5 .4 .5-.1 .5-.3 .5-.4 .5-.3 .5 .1 .5 .2 .5 .3 .5 .2 .5 .1 .5 0 .5-.3 .5-.5 .5-.3 .5 .3 .5 .1 .5 .1 .5 0 .5-.2 .5 .1 .5 .3 .5 .1 .5 0 .5 .1 .5-.2 .5-.1 .5 .4 .5 .4 .5-.3 .5 .3 .5 .2 .5-.1 .5-.4 .5 .3 .5-.3 .5-.3 .5 .1 .5 .1 .5 0 .5 0 .5 .1 .5-.4 .5-.1 .5 .5 .5 .2 .5-.1 .5-.3 .5 .3 .5 .2 .5-.1 .5-.5 .5-.1 .5-.1 .5-.3 .5 .3 .5 .4 .5-.2 .5-.1 .5 .5 .5 .2 .5-.2 .5-.4 .5 .1 .5 .2 .5-.4 .5 0 .5 .5 .5 0 .5-.8 .5-.7 .5 .2 .5 .4 .5 .4 .5 .3 .5-.2 .5-.2 .5 .1 .5-.1 .5 0 .5 .4 .5 .6 .5-.3 .5-.7 .5-.3 .5 0 .5-.2 .5 .2 .5 .3 .5 .3 .5-.3 .5-.3 .5-.2 .5 .1 .5 .3 .5 .2 .5 .2 .5-.2 .5 .2 .5-.2 .5-.4 .5-.6 .5 .2 .5 .6 .5 .2 .5-.3 .5-.3 .5-.6 .5-.7 .5-1 .5-1.8 .5-3.3 .5-3.4 .5-1.4 .5 1.5 .5 3.2 .5 3.2 .5 2.6 .5 1 .5 .5 .5 .5 .5 .2 .5-.2 .5-.1 .5-.3 .5-.2 .5 .1 .5 .5 .5-.1 .5 .2 .5-.2 .5 0 .5 .3 .5 .3 .5 .3 .5 .2 .5-.2 .5-.2 .5-.2 .5 .2 .5-.1 .5-.2 .5 0 .5 .1 .5 .1 .5 0 .5-.3 .5 0 .5 .1 .5-.3 .5 .2 .5 .2 .5-.6 .5 .2 .5 .3 .5 .1 .5 .3 .5-.5 .5 .6 .5 .4 .5-.3 .5-.5 .5-.3 .5-.4 .5-.2 .5-.5 .5-.1 .5-.1 .5-.7 .5-.3 .5-.2 .5-.3 .5 .1 .5-.5 .5-.7 .5-.3 .5-.3 .5-.3 .5-.3 .5-.3 .5-.2 .5-.4 .5-.2 .5-.4 .5-.6 .5-1.3 .5-1.7 .5-1.8 .5-1.5 .5-2.1 .5-3.6 .5-5.8 .5-6.6 .5-5.6 .5-3.5 .5-1.7 .5 .2 .5 .6 .5 .6 .5 1 .5 1.2 .5 .3 .5-.6 .5-1.7 .5-3 .5-3.8 .5-5.3 .5-7.3 .5-8.3 .5-9 .5-8 .5-4.8 .5 .6 .5 6.6 .5 12.4 .5 15.9 .5 16.1 .5 13.2 .5 9.7 .5 5.9 .5 3.5 .5 2.4 .5 .9 .5 .2 .5 .2 .5 .2 .5 .5 .5 .2 .5-.2 .5 .5 .5 .2 .5-.1 .5-.4 .5-.6 .5 .1 .5 .6 .5-.4 .5-.5 .5 .1 .5-.3 .5-.7 .5-.6 .5-.2 .5-.2 .5-.6 .5-.9 .5-.8 .5-1.5 .5-2.3 .5-1.9 .5-2.2 .5-2.5 .5-2.5 .5-3.1 .5-3.7 .5-4.1 .5-3.9 .5-5.1 .5-8 .5-9.4 .5-10.7 .5-13 .5-14.7 .5-14 .5-11.1 .5-7.2 .5-.4 .5 7.6 .5 14.5 .5 19.4 .5 20.6 .5 18.5 .5 14.9 .5 10.7 .5 6.7 .5 3.9 .5 3.3 .5 2.9 .5 1.5 .5 1 .5 .8 .5 .6 .5 .8 .5 .5 .5-.2 .5 .7 .5 .6 .5-.5 .5-.2 .5 .3 .5 .1 .5-.6 .5 0 .5 .1 .5 .2 .5 0 .5 0 .5-.2 .5-.1 .5-.2 .5 0 .5 .1 .5 0 .5 0 .5 .5 .5-.3 .5-.3 .5 .3 .5 0 .5 .1 .5 0 .5 0 .5-.1 .5-.1 .5 .3 .5 .1 .5-.7 .5 .2 .5 .1 .5-.3 .5 .1 .5 .7 .5 .1 .5 .2 .5-.2 .5-.3 .5 .1 .5 .1 .5 .1 .5-.2 .5-.1 .5 .1 .5 .2 .5-.2 .5-.6 .5 0 .5 .2 .5-.1 .5-.1 .5-.1 .5 .3 .5 .3 .5 .2 .5 0 .5 .3 .5 0 .5 .4 .5-.3 .5-.6 .5-.7 .5-.4 .5 .5 .5 .6 .5 .2 .5-.3 .5 .3 .5-.2 .5-.3 .5-.5 .5 .3 .5 .3 .5 .2 .5-.2 .5-.2 .5 .4 .5 .2 .5 0 .5 .1 .5-.1 .5-.4 .5-.6 .5 .2 .5 .7 .5 .1 .5-.3 .5-.2 .5 0 .5 0 .5-.1 .5 .2 .5 .6 .5-.3 .5-.6 .5-.3 .5 .3 .5 .5 .5 .1 .5-.3 .5-.1 .5-.1 .5 0 .5 .5 .5 .3 .5 .1 .5-.6 .5-.1 .5 .2 .5-.4 .5-.4 .5 .1 .5 .4 .5 .2 .5 .1 .5 .2 .5 .1 .5-.3 .5-.2 .5 0 .5 .3 .5 .1 .5-.2 .5-.1 .5-.3 .5-.4 .5 .2 .5 .6 .5 .2 .5 .2 .5-.2 .5 .1 .5 .1 .5-.2 .5-.5 .5 0 .5 0 .5-.1 .5 .3 .5 .2 .5 0 .5 .2 .5-.4 .5-.2 .5-.1 .5 0 .5 .2 .5 .3 .5 .3 .5-.1 .5-.3 .5-.4 .5-.3 .5 .2 .5 .1 .5 .4 .5 .1 .5 .3 .5 0 .5-.2 .5-.2 .5 0 .5 .1 .5 0 .5-.3 .5 .4 .5 .4 .5-.5 .5-.5 .5-.2 .5 0 .5 .6 .5 0 .5 .2 .5 .5 .5 0 .5-.7 .5 .1 .5 .1 .5-.1 .5-.1 .5 .1 .5 .3 .5-.1 .5-.1 .5 .1 .5 0 .5-.2 .5 .1 .5 .2 .5-.2 .5-.5 .5-.2 .5-.1 .5 0 .5 .3 .5-.1 .5-.4 .5 .4 .5 .4 .5-.2 .5-.1 .5 .2 .5-.3 .5-.4 .5 .1 .5 .5 .5 .4 .5 .1 .5-.4 .5-.5 .5-.1 .5 .1 .5 0 .5-.1 .5 .4 .5 .3 .5-.1 .5-.1 .5-.4 .5-.2 .5 .4 .5 .6 .5 0 .5-.2 .5 .1 .5 0 .5 .2 .5-.2 .5-.3 .5 .1 .5-.4 .5-.3 .5 .1 .5 .3 .5 .2 .5-.1 .5 .1 .5 .3 .5-.3 .5-.1 .5 .6 .5 .1 .5-.5 .5-.6 .5 .2 .5 .4 .5 .2 .5 0 .5-.4 .5 .1 .5 .1 .5 .2 .5 0 .5-.1 .5-.5 .5-.4 .5 .1 .5 .1 .5 .3 .5 .6 .5 .2 .5-.5 .5-.4 .5 0 .5 .2 .5 .5 .5-.1 .5-.2 .5-.5 .5-.4 .5 .1 .5 .3 .5 .3 .5 0 .5-.2 .5 .3 .5 .2 .5-.4 .5-.2 .5 .1 .5 0 .5 .1 .5 .5 .5 0 .5-.6 .5 0 .5 .2 .5 0 .5 0 .5 .1 .5 .2 .5-.3 .5 0 .5 .1 .5 0 .5 .1 .5 .1 .5-.1 .5-.1 .5-.2 .5-.3 .5-.1 .5 .1 .5 .2 .5-.1 .5 0 .5 .3 .5 0 .5-.2 .5 .5 .5 0 .5-.1 .5 .1 .5-.2 .5 .1 .5 .2 .5-.4 .5 0 .5 .1 .5-.3 .5 .1 .5 .5 .5 .2 .5-.5 .5-.1 .5 .2 .5-.3 .5-.2 .5 .2 .5 .2 .5 .2 .5 .2 .5-.1 .5-.2 .5-.3 .5-.3 .5 .1 .5 .1 .5-.1 .5-.1 .5 0 .5 .5 .5-.1 .5-.9 .5-.7 .5-.6 .5-.6 .5-1.1 .5-1.2 .5-1 .5-.7 .5-.4 .5 .2 .5 .2 .5 .6 .5 .7 .5 .4 .5-.4 .5-2 .5-5.6 .5-9.1 .5-9.5 .4-3.3 .1 .2 .5 4.9 .5 7.2 .5 3.8 .5 .1 .5 .9 .5 3.3 .5 4.9 .5 4.1 .5 2.6 .5 .6 .5 .5 .5 .1 .5 0 .5 .6 .5 .5 .5 .1 .5 .2 .5-.1 .5 0 .5 .1 .5 .4 .5 .3 .5-.2 .5-.3 .5-.3 .5 .2 .5 .3 .5-.4 .5-.2 .5 .3 .5 .3 .5 .1 .5-.6 .5 .3 .5 .2 .5-.4 .5 .1 .5 .5 .5 .2 .5-.7 .5-.1 .5 .7 .5 .2 .5-.7 .5-.3 .5 .6 .5 .2 .5 0 .5-.2 .5-.2 .5 .2 .5 .5 .5-.2 .5-.9 .5 .2 .5 .6 .5-.3 .5-.4 .5 .2 .5 .2 .5-.1 .5-.1 .5 0 .5 .1 .5 .1 .5-.2 .5 .1 .5 .2 .5 .4 .5-.2 .5-.1 .5 .1 .5 .1 .5 .1 .5 .1 .5 .3 .5-.2 .5-.5 .5-.1 .5 .2 .5 0 .5-.4 .5-.5 .5 0 .5 .6 .5 .4 .5-.1 .5-.4 .5 .3 .5-.1 .5 .1 .5-.1 .5-.3 .5-.3 .5-.3 .5 .1 .5 .2 .5 .5 .5 .3 .5 .1 .5-.2 .5-.2 .5 .1 .5 0 .5 .1 .5-.1 .5-.3 .5 .2 .5 .1 .5 0 .5 .4 .5 .2 .5-.6 .5-.5 .5-.3 .5 .3 .5 0 .5-.2 .5 .5 .5 .3 .5-.3 .5-.1 .5 0 .5 .2 .5-.3 .5 .4 .5 .5 .5-.2 .5-.2 .5-.3 .5-.2 .5 .3 .5 .1 .5-.2 .5 .3 .5 .4 .5-.2 .5-.8 .5-.2 .5 .2 .5 .7 .5 .2 .5-.2 .5-.5 .5-.2 .5 .3 .5 .1 .5-.1 .5 .2 .5 .2 .5-.2 .5-.6 .5-.2 .5 .4 .5 .3 .5 0 .5-.2 .5 .1 .5 .3 .5 0 .5-.2 .5-.3 .5 .1 .5 .1 .5-.3 .5 0 .5 .4 .5 .4 .5 .1 .5 0 .5-.3 .5-.4 .5-.2 .5 .3 .5 .6 .5 0 .5 0 .5-.1 .5-.2 .5-.1 .5 .1 .5 .2 .5 0 .5-.1 .5-.2 .5-.3 .5 0 .5 .1 .5 .1 .5-.4 .5 .5 .5 .6 .5-.5 .5-.4 .5 .3 .5 .3 .5-.1 .5 0 .5-.1 .5 .2 .5 .6 .5-.5 .5-.6 .5 0 .5 .3 .5 .2 .5 0 .5-.3 .5-.3 .5 .2 .5 0 .5-.2 .5-.3 .5 .1 .5 .1 .5 .1 .5-.2 .5 .3 .5 .1 .5-.3 .5-.1 .5 .2 .5 .1 .5-.5 .5 0 .5 .1 .5 .3 .5 .4 .5-.2 .5 0 .5 .1 .5 .6 .5 0 .5-.3 .5-.7 .5 0 .5 .5 .5-.1 .5-.1 .5 0 .5-.1 .5 .3 .5 0 .5-.1 .5-.1 .5 .1 .5 0 .5 .3 .5 .3 .5-.1 .5-.2 .5-.4 .5-.5 .5 .4 .5 .2 .5-.1 .5-.2 .5-.3 .5 .3 .5 .6 .5 .1 .5-.5 .5-.1 .5 .4 .5 0 .5 .3 .5-.4 .5-.2 .5 .4 .5 .1 .5-.4 .5 .2 .5 0 .5 .1 .5-.5 .5-.3 .5 .5 .5 .5 .5 .4 .5-.1 .5-.5 .5-.5 .5-.2 .5 0 .5-.2 .5-.1 .5-.3 .5 .5 .5 .5 .5 .5 .5-.4 .5-.5 .5-.2 .5-.4 .5-.4 .5-.1 .5 .2 .5-1.2 .5-2.3 .5-2.1 .5-1.4 .3-.4 .2-.1 .5 .8 .5 1.7 .5 1.4 .5 .2 .5-.7 .5 .2 .5 1.3 .5 1.1 .5 1.3 .5 .7 .5 .6 .5 .4 .5-.1 .5-.3 .5-.4 .5 .1 .5 .5 .5 .5 .5 .2 .5 .1 .5-.5 .5-.2 .5 .1 .5-.2 .5-.3 .5 0 .5 .2 .5-.1 .5 0 .5-.1 .5 .2 .5-.1 .5 0 .5-.3 .5 .3 .5 .3 .5-.2 .5-.1 .5-.3 .5-.2 .5 .5 .5 .2 .5-.2 .5 .1 .5-.2 .5-.1 .5 .2 .5 .2 .5 .4 .5-.5 .5 .2 .5 0 .5-.8 .5 0 .5 .5 .5 .2 .5 .2 .5 .1 .5-.5 .5-.5 .5-.3 .5 .5 .5 .2 .5 .3 .5-.1 .5 0 .5 .6 .5 .1 .5-.4 .5-.5 .5-.1 .5 .1 .5-.1 .5 .1 .5 .3 .5 .1 .5 0 .5 0 .5 .2 .5-.5 .5-.7 .5 .3 .5 .6 .5 .2 .5-.2 .5-.2 .5 0 .5 .2 .5-.2 .5-.1 .5 .1 .5 .2 .5-.3 .5-.2 .5 .4 .5 0 .5 .2 .5 .2 .5 .2 .5-.1 .5-.5 .5-.2 .5 .1 .5 .6 .5 .1 .5-.1 .5-.6 .5-.2 .5 .6 .5 0 .5-.1 .5 0 .5 .1 .5-.2 .5-.3 .5 .3 .5-.1 .5 .1 .5 .6 .5-.2 .5-.6 .5-.4 .5 .5 .5 .3" fill="none" stroke="#0052f5" stroke-width="3.1" stroke-linejoin="round" stroke-linecap="round"/>
<path d="M95.5 481.9l.5-.3 .5-.1 .5 .1 .5 .5 .5 .3 .5 0 .5-.4 .5 .1 .5 .1 .5-.2 .5 .2 .5 .5 .5-.2 .5-.2 .5-.3 .5-.2 .5-.2 .5 .4 .5 .7 .5 .3 .5-.2 .5-.4 .5-.3 .5-.2 .5 .1 .5 .1 .5-.1 .5 0 .5-.4 .5-.4 .5 0 .5 0 .5 .3 .5 .6 .5 0 .5 .1 .5 .3 .5 0 .5-.3 .5 .2 .5-.1 .5-.2 .5-.2 .5-.4 .5 0 .5 .3 .5 .2 .5-.1 .5 .1 .5 .3 .5 .2 .5-.1 .5-.1 .5-.5 .5-.1 .5 0 .5-.1 .5 .1 .5 .3 .5-.4 .5-.3 .5 .4 .5 .2 .5-.3 .5-.2 .5-.5 .5-.5 .5-.3 .5 .1 .5-.3 .5-1.1 .5-1.8 .5-4.4 .5-7.3 .5-9.1 .5-7.3 .1-1.2 .4-1 .5 4.7 .5 7.9 .5 8.4 .5 5.7 .5 3.3 .5 1.6 .5 .8 .5 .7 .5 .7 .5 .3 .5 .2 .5-.1 .5 .3 .5 .3 .5-.4 .5-.2 .5 .4 .5 0 .5 .2 .5 .3 .5-.1 .5 .2 .5 0 .5 .4 .5 .1 .5-.5 .5-.2 .5 0 .5 .3 .5 .1 .5-.3 .5 0 .5-.3 .5-.2 .5 .3 .5 .7 .5 0 .5-.3 .5-.1 .5 0 .5-.4 .5 .5 .5 .6 .5-.4 .5-.1 .5 0 .5-.2 .5 .2 .5 .2 .5 0 .5-.2 .5-.1 .5 .1 .5 .2 .5 .3 .5-.2 .5-.6 .5-.4 .5 .6 .5 .2 .5-.6 .5-.4 .5 .4 .5 .4 .5-.2 .5 0 .5 .4 .5 .2 .5-.2 .5-.2 .5 .1 .5 .5 .5 0 .5-.6 .5-.4 .5 .1 .5 .3 .5 0 .5 .3 .5 0 .5 0 .5 .1 .5-.2 .5-.3 .5 .3 .5 .3 .5-.5 .5-.1 .5 .4 .5-.3 .5-.3 .5 0 .5 .5 .5 .4 .5 0 .5-.2 .5-.1 .5-.4 .5 0 .5 0 .5 .3 .5 .2 .5 0 .5-.3 .5 .2 .5-.3 .5-.3 .5 0 .5-.1 .5 .3 .5 .2 .5 0 .5 .1 .5-.2 .5-.1 .5-.3 .5 .2 .5 0 .5 0 .5 .2 .5-.1 .5-.5 .5 0 .5 .4 .5 .4 .5 .2 .5 .2 .5 0 .5-.2 .5-.4 .5-.4 .5 0 .5 .2 .5 .3 .5 .1 .5-.1 .5 0 .5 .2 .5 0 .5-.1 .5-.1 .5-.3 .5 0 .5 .3 .5 .1 .5-.1 .5 .1 .5 .4 .5-.5 .5-.1 .5 0 .5-.2 .5 .4 .5 .5 .5 0 .5-.2 .5-.1 .5-.1 .5 .1 .5-.3 .5-.1 .5 .2 .5 .2 .5 0 .5-.3 .5-.3 .5 .7 .5 .6 .5-.4 .5-.6 .5-.3 .5 .1 .5 0 .5 .2 .5 0 .5 .3 .5-.1 .5-.6 .5 .1 .5-.1 .5-.2 .5 .2 .5 .3 .5 .1 .5-.2 .5 .6 .5 .4 .5-.3 .5-.3 .5-.3 .5-.2 .5 .3 .5 .3 .5 .3 .5 .3 .5-.3 .5-.2 .5-.1 .5-.7 .5-.2 .5 .2 .5 .2 .5 .2 .5 .2 .5 .4 .5 .1 .5-.4 .5-.3 .5 .1 .5 0 .5-.4 .5 .2 .5 .2 .5 .1 .5 .2 .5-.2 .5-.7 .5-.4 .5-.6 .5-.5 .5-.5 .3 .2 .2 .1 .5 .4 .5 .3 .5 .4 .5 .9 .5 .2 .5 .2 .5 0 .5 .1 .5 .2 .5-.2 .5-.2 .5-.4 .5 .2 .5-.1 .5 0 .5 .1 .5 .2 .5 0 .5-.6 .5 0 .5 .2 .5 .2 .5-.1 .5-.1 .5-.1 .5 .2 .5 0 .5-.4 .5-.4 .5-.5 .5-.5 .5-1.4 .5-2.5 .5-2.7 .5-2.1 .1-.3 .4 .9 .5 2.6 .5 2.9 .5 2 .5 1.2 .5 .6 .5-.1 .5-.2 .5 .3 .5 .5 .5-.5 .5 .3 .5 .6 .5-.1 .5-.4 .5 .2 .5 .4 .5 0 .5-.4 .5 .2 .5 .2 .5 .2 .5 0 .5-.6 .5-.3 .5 .5 .5 .5 .5-.1 .5 0 .5 .1 .5-.5 .5-.1 .5-.3 .5-.3 .5-.2 .5-.4 .5-1 .5-.8 .5-.7 .5-.5 .5-.9 .5-1.1 .5-1.6 .5-2.4 .5-4.1 .5-7 .5-11.2 .5-17 .5-20.1 .5-18.5 .5-13.2 .5-7.1 .5-1.3 .5 1.8 .5 3.7 .5 4.4 .5 4.8 .5 4.6 .5 3.6 .5 3.4 .5 3.7 .5 3.9 .5 3.8 .5 4 .5 3.7 .5 3.6 .5 4.8 .5 5.7 .5 6.3 .5 7.1 .5 7.6 .5 7.6 .5 6.9 .5 4.7 .5 2.9 .5 2 .5 1.8 .5 1 .5 .9 .5 1.1 .5 0 .5-.4 .5 .4 .5 0 .5-.2 .5-.1 .5-.6 .5-.3 .5-.2 .5-.2 .5-.6 .5-1.7 .5-1.7 .5-.6 .1 .3 .4 .4 .5 1.3 .5 1 .5 .8 .5 .7 .5 .3 .5 0 .5 .4 .5 .2 .5-.6 .5-.1 .5-.2 .5-.8 .5-1.1 .5-1.1 .5-1.7 .5-2.9 .5-4.4 .5-4.9 .5-4.6 .5-3.9 .5-1.9 .5 1.5 .5 3.9 .5 5 .5 4.8 .5 4 .5 3 .5 1.9 .5 1.5 .5 .9 .5 .6 .5 0 .5 .2 .5 .1 .5 .3 .5 .5 .5 .1 .5 0 .5-.1 .5 0 .5-.2 .5 .2 .5 .4 .5 .3 .5 0 .5 0 .5 .2 .5 0 .5 .1 .5 0 .5-.3 .5-.1 .5 .1 .5-.1 .5 .2 .5 .2 .5-.5 .5-1 .5-1.1 .5-.7 .5-.2 .1 .1 .4 0 .5 .8 .5 1.1 .5 .6 .5 .5 .5 .8 .5 .1 .5-.2 .5-.4 .5-.2 .5 .3 .5 0 .5 0 .5-.1 .5 0 .5 .1 .5 .3 .5 .2 .5-.4 .5-.6 .5-.2 .5 0 .5 .4 .5 .4 .5 .1 .5-.2 .5 0 .5-.3 .5-.3 .5 0 .5 .4 .5 .4 .5-.1 .5 .4 .5 .1 .5-.4 .5-.2 .5-.1 .5 .2 .5 .2 .5 0 .5 .3 .5 0 .5-.2 .5-.1 .5-.1 .5-.1 .5-.2 .5 .2 .5 0 .5 .1 .5 .3 .5-.5 .5-.2 .5 0 .5-.4 .5 0 .5 0 .5 .2 .5 .4 .5 .3 .5 .3 .5 .1 .5-.1 .5-.2 .5-.2 .5 .1 .5-.3 .5 .1 .5 .4 .5 0 .5-.1 .5 0 .5-.2 .5-.5 .5 0 .5-.1 .5 .2 .5 .1 .5 .2 .5-.4 .5-.8 .5-.5 .5-.5 .5 .2 .5 .3 .5 .1 .5 0 .5 .7 .5 .7 .5 .3 .5 0 .5-.4 .5 .1 .5 0 .5 .2 .5 .2 .5 0 .5-.3 .5-.1 .5-.3 .5 0 .5 .4 .5-.1 .5-.4 .5 .2 .5 .5 .5 .5 .5 0 .5-.4 .5-.6 .5 .2 .5 .4 .5 .1 .5-.1 .5 .1 .5 .4 .5 0 .5-.6 .5-.1 .5 .4 .5-.1 .5 .3 .5 0 .5-.5 .5-.1 .5 0 .5 .2 .5 .3 .5 .2 .5-.2 .5-.2 .5 0 .5-.2 .5 .1 .5 .3 .5-.5 .5-.2 .5 0 .5-.3 .5-.1 .5 .5 .5 0 .5-.2 .5 0 .5-.1 .5 0 .5 .7 .5 .6 .5-.2 .5-.5 .5-.5 .5 0 .5 .1 .5 .3 .5 0 .5-.1 .5-.1 .5-.2 .5-.1 .5 .2 .5-.3 .5 0 .5 .2 .5 .1 .5 .4 .5 .2 .5-.1 .5-.1 .5 0 .5-.1 .5-.4 .5 .1 .5-.2 .5 0 .5 .2 .5 .2 .5 .3 .5-.2 .5-.6 .5 .5 .5 .7 .5 .1 .5-.2 .5-.5 .5-.6 .5 .1 .5 .6 .5 .1 .5-.4 .5 0 .5-.1 .5-.3 .5 .5 .5 .7 .5 .2 .5-.3 .5-.1 .5-.5 .5-.5 .5-.1 .5 .6 .5 .4 .5 .3 .5-.2 .5-.5 .5-.3 .5 .5 .5-.1 .5-.4 .5-.2 .5 .6 .5 .2 .5-.3 .5 .1 .5 .2 .5 .1 .5 0 .5 .1 .5-.4 .5-.3 .5-.3 .5-.4 .5 .5 .5 .6 .5-.1 .5-.2 .5-.1 .5-.3 .5 .3 .5 .4 .5 0 .5-.1 .5 .4 .5 .2 .5-.4 .5-.3 .5-.6 .5 0 .5 .5 .5 .2 .5-.1 .5-.1 .5 .1 .5 .5 .5 .1 .5-.6 .5-.3 .5 .6 .5 .2 .5-.1 .5 .1 .5 .3 .5-.4 .5-.4 .5-.5 .5 0 .5 .2 .5 .3 .5 0 .5 .1 .5 .2 .5-.4 .5-.1 .5 .1 .5-.1 .5 .3 .5 .2 .5 0 .5 .3 .5-.3 .5-.3 .5-.5 .5-.2 .5 .2 .5 .3 .5 .1 .5-.1 .5-.6 .5-.1 .5 .4 .5 .6 .5-.2 .5-.2 .5 0 .5 .4 .5-.1 .5-.2 .5-.2 .5 .5 .5 .2 .5 .1 .5 0 .5-.3 .5-.1 .5 .2 .5-.1 .5-.2 .5 0 .5 0 .5 .3 .5 .1 .5 0 .5 0 .5-.6 .5 .2 .5 .4 .5-.5 .5-.2 .5 .5 .5-.1 .5-.3 .5 0 .5-.3 .5-.2 .5 .2 .5 0 .5-.2 .5 0 .5 0 .5 .2 .5 .2 .5 0 .5-.5 .5-.5 .5-.1 .5 .4 .5 .3 .5-.5 .5-1.1 .5-1.1 .5-2 .5-2 .5-2.5 .5-1.9 .5-1 .1-.2 .4 .3 .5 1.4 .5 2.7 .5 3.1 .5 2.6 .5 .7 .5 0 .5 .2 .5 .2 .5-.6 .5-.5 .5-.7 .5-1.2 .5-1 .5-1.1 .5-1 .5 .2 .5 1 .5 1.7 .5 2 .5 1.3 .5 .6 .5 .3 .5 0 .5 .1 .5-.1 .5 .4 .5 .6 .5 0 .5-.4 .5 0 .5 .5 .5 0 .5-.7 .5 0 .5 .4 .5 .1 .5-.3 .5 .1 .5 .3 .5 .4 .5-.4 .5-.4 .5 0 .5 .3 .5-.2 .5-.4 .5-.1 .5-.4 .5-.3 .5-.4 .5-.6 .5-.7 .5-.9 .5-.7 .5-.7 .5-.7 .5 .2 .5 .9 .5 .6 .5 1.1 .5 1.6 .5 1 .5 .3 .5-.2 .5-.3 .5 .3 .5 .3 .5-.2 .5-.2 .5-.2 .5 .3 .5 .6 .5-.1 .5-.4 .5-.1 .5 .2 .5 .2 .5-.2 .5-.2 .5-.3 .5 .3 .5 .6 .5 .1 .5-.4 .5 0 .5 .3 .5-.1 .5-.1 .5 .3 .5 .2 .5 .1 .5-.1 .5-.4 .5 0 .5-.2 .5-.2 .5 .1 .5 .3 .5-.1 .5 .3 .5 .1 .5-.1 .5 .1 .5 .1 .5 0 .5-.3 .5-.2 .5 .3 .5 .5 .5-.3 .5-.6 .5-.1 .5 0 .5 .2 .5 .4 .5 .1 .5-.7 .5 .1 .5-.2 .5-.6 .5-.5 .5-.5 .5-.3 .5-.3 .5-.4 .5 .4 .5 .5 .5 .8 .5 .5 .5 .5 .5 .3 .5 .1 .5-.2 .5-.1 .5 .3 .5 .4 .5-.1 .5-.7 .5 .1 .5 .3 .5-.3 .5 .3 .5 .7 .5-.1 .5-.5 .5 .3 .5 .2 .5-.2 .5-.2 .5-.2 .5-.3 .5 .1 .5 .3 .5 .2 .5 .1 .5-.7 .5-.6 .5 .4 .5 .4 .5 0 .5-.3 .5-.2 .5 0 .5-.5 .5-.3 .5-.6 .5-.2 .1 .2 .4-.6 .5 .4 .5 .8 .5 .5 .5 .4 .5 .1 .5 .3 .5 .5 .5-.3 .5-.4 .5-.2 .5 .2 .5 .4 .5 .1 .5-.2 .5-.1 .5 0 .5-.4 .5 .2 .5 .1 .5 0 .5 .1 .5-.1 .5 .2 .5 .6 .5 .1 .5-.2 .5-.1 .5 .1 .5 .1 .5 .2 .5 .1 .5-.5 .5-.3 .5-.5 .5-.8 .5 .4 .5 .7 .5 .3 .5 0 .5 .3 .5 .1 .5-.3 .5 .4 .5 .1 .5-.5 .5-.2 .5 .3 .5-.2 .5-.2 .5 0 .5 .1 .5 .3 .5 .2 .5 0 .5-.3 .5-.4 .5 .1 .5 .3 .5 .2 .5 .4 .5-.6 .5-.2 .5 .3 .5 0 .5-.2 .5-.1 .5 .2 .5 .2 .5-.1 .5-.2 .5 .1 .5 .1 .5-.4 .5-.8 .5 .1 .5 .4 .5 .2 .5 .3 .5 .3 .5-.1 .5-.2 .5 .1 .5 .2 .5-.3 .5 .1 .5 .3 .5-.5 .5-.5 .5 .3 .5 .1 .5 .1 .5 .3 .5-.1 .5-.1 .5 .2 .5-.1 .5-.1 .5 0 .5-.1 .5-.1 .5-.1 .5 0 .5-.3 .5 .2 .5 .4 .5 0 .5-.2 .5 0 .5 .1 .5 0 .5-.1 .5 0 .5 .2 .5-.1 .5-.1 .5-.5 .5 .1 .5 .6 .5-.1 .5-.2 .5 0 .5-.1 .5-.2 .5-.3 .5 .2 .5 .3 .5 .4 .5 .1 .5-.2 .5 .2 .5-.6 .5-.7 .5 .2 .5 .8 .5-.1 .5-.5 .5-.3 .5-.1 .5 .3 .5-.2 .5 0 .3-.6 .2-.5 .5 .6 .5 .3 .5 .4 .5 .6 .5 0 .5 .2 .5-.2 .5-.1 .5 .1 .5 .1 .5 .4 .5 .1 .5-.2 .5 0 .5-.1 .5-.1 .5 .1 .5-.1 .5 0 .5-.2 .5 .1 .5 0 .5-.2 .5-.1 .5 .2 .5 .2 .5-.1 .5 .3 .5 .2 .5-.4 .5-.5 .5 .3 .5 .2 .5-.1 .5 0 .5-.2 .5-.5 .5-.5 .5-.4 .5 .1 .5 .2 .5 .4 .5 .2 .5 .1 .5 .2 .5 .1 .5-.4 .5 .1 .5 .2 .5 .2 .5 0 .5 0 .5 0 .5 .3 .5-.1 .5-.4 .5 .1 .5 .2 .5 .4 .5-.2 .5-.2 .5 .1 .5 0 .5 .2 .5 .4 .5-.1 .5 0 .5-.1 .5-.2 .5 .4 .5 0 .5-.2 .5-.3 .5 .2 .5 0 .5 0 .5 .5 .5-.3 .5-.3 .5 .1 .5 .2 .5 .1 .5 0 .5 .1 .5-.2 .5-.6 .5-.2 .5 .1 .5 .4 .5 .4 .5-.3 .5-.4 .5 .1 .5 .3 .5-.2 .5-.1 .5-.1 .5-.2 .5 .4 .5 .2 .5-.1 .5-.4 .5-.1 .5 .1 .5 .3 .5 .1 .5 .2 .5 .4 .5-.2 .5-.6 .5 .1 .5 .4 .5-.1 .5 .3 .5 0 .5-.6 .5-.1 .5 0 .5-.3 .5 0 .5 .3 .5 .2 .5-.1 .5-.2 .5-.1 .5 0 .5 .2 .5-.5 .5 .2 .5 .3 .5-.2 .5 .3" fill="none" stroke="#008000" stroke-width="3.1" stroke-linejoin="round" stroke-linecap="round"/>
<path d="M95.5 395.4l.5-.3 .5-.1 .5-.1 .5 .3 .5 .1 .5 .1 .5 .2 .5 0 .5 .1 .5-.4 .5-.4 .5 .2 .5 0 .5-.1 .5 .3 .5 0 .5-.2 .5-.2 .5 .2 .5 .1 .5-.2 .5-.2 .5-.1 .5 .3 .5-.4 .5-.4 .5 .2 .5 .3 .5 .3 .5-.1 .5 0 .5 .2 .5 .6 .5 0 .5-.1 .5-.5 .5-.1 .5-.1 .5 .2 .5-.1 .5-.6 .5-.1 .5-.1 .5 0 .5 .1 .5 0 .5 0 .5 .4 .5 .1 .5-.4 .5 0 .5 .2 .5-.1 .5 0 .5 .4 .5 .1 .5-.2 .5-.1 .5 .4 .5-.2 .5-.7 .5-.1 .5-.1 .5-.4 .5-.2 .5-.4 .5-.5 .5-.6 .5-.9 .5-.9 .5-1.4 .5-2.6 .5-7 .5-12.4 .5-14.9 .5-11.2 .1-1.2 .4-1.2 .5 6.5 .5 11.7 .5 12.7 .5 9.8 .5 6.1 .5 3.6 .5 2.2 .5 1.1 .5 .4 .5 1 .5 .4 .5-.3 .5 .1 .5 .4 .5 .3 .5-.2 .5-.1 .5 .1 .5-.1 .5 .5 .5 .5 .5 .1 .5 0 .5 0 .5 0 .5-.2 .5-.2 .5 .1 .5 .3 .5 .4 .5 .2 .5-.5 .5-.4 .5-.1 .5 .4 .5 .4 .5-.2 .5-.3 .5 0 .5 .3 .5 0 .5-.1 .5 .2 .5 .2 .5 0 .5 .2 .5-.1 .5-.2 .5-.1 .5-.3 .5-.2 .5 0 .5 0 .5 .3 .5 .1 .5 .1 .5-.3 .5-.7 .5 .3 .5 0 .5 .2 .5 .1 .5 .3 .5 .1 .5-.5 .5 .1 .5 0 .5-.3 .5 .5 .5 0 .5-.2 .5 .4 .5 .6 .5-.7 .5-.7 .5 .1 .5 .2 .5 .1 .5 0 .5 0 .5 .2 .5-.2 .5-.3 .5 .1 .5 .3 .5 .4 .5-.1 .5-.2 .5 .1 .5 .3 .5 .2 .5-.4 .5 0 .5 0 .5-.3 .5 .1 .5 0 .5 0 .5 .3 .5 .3 .5-.1 .5-.3 .5 .2 .5 .2 .5-.5 .5 0 .5 .2 .5 0 .5 0 .5 0 .5 .2 .5 0 .5-.3 .5-.1 .5-.1 .5-.1 .5-.1 .5 0 .5 .6 .5 .5 .5 0 .5-.4 .5-.4 .5 .2 .5-.3 .5 .2 .5 .2 .5-.3 .5 .1 .5 0 .5-.3 .5-.1 .5 .2 .5 .1 .5 .3 .5-.1 .5-.5 .5-.1 .5 0 .5-.2 .5 .1 .5 .3 .5-.1 .5-.3 .5 .2 .5 .2 .5-.2 .5 .1 .5 .7 .5-.1 .5-.8 .5-.1 .5 .3 .5-.1 .5 .1 .5 .1 .5-.1 .5-.7 .5-.2 .5 .6 .5 .6 .5-.2 .5-.3 .5 .4 .5 .2 .5-.2 .5 0 .5 .3 .5 .2 .5-.2 .5-.1 .5-.2 .5-.2 .5-.1 .5 .2 .5 0 .5 .1 .5 .3 .5 .1 .5-.3 .5-.4 .5 .2 .5-.1 .5-.2 .5 .2 .5 .5 .5 0 .5-.5 .5-.2 .5 .2 .5 .2 .5 .2 .5-.7 .5-.2 .5 .3 .5 .3 .5 .2 .5 .4 .5 .1 .5-.6 .5-.5 .5-.1 .5 .5 .5 .3 .5-.1 .5 .2 .5 0 .5 .1 .5-.4 .5-.5 .5-.2 .5-.2 .5 0 .5 .6 .5 .5 .5 .1 .5-.6 .5-.8 .5-.7 .5-.4 .5-.6 .3-.3 .2 .2 .5 .4 .5 .4 .5 1 .5 .5 .5 0 .5 .3 .5 .6 .5 .3 .5-.3 .5-.8 .5 0 .5 .2 .5-.4 .5-.2 .5 .1 .5 .8 .5 .1 .5-.3 .5-.3 .5-.2 .5 0 .5 0 .5-.1 .5 .1 .5-.4 .5-.3 .5 .2 .5-.3 .5-.6 .5-1.1 .5-1.9 .5-3 .5-5.2 .5-6.1 .5-4.9 .1-.6 .4 .3 .5 2.7 .5 3.7 .5 4 .5 4.2 .5 3.2 .5 2.3 .5 1.4 .5 .9 .5 .6 .5 .1 .5 .3 .5 0 .5-.4 .5 0 .5 .3 .5 .2 .5 0 .5-.2 .5 .5 .5 .2 .5-.4 .5-.3 .5 .1 .5 .2 .5 .1 .5 0 .5 0 .5-.1 .5-.2 .5-.7 .5-.1 .5 .2 .5-.2 .5 0 .5-.3 .5-.2 .5-.4 .5-.2 .5-.2 .5-.6 .5-.6 .5-.9 .5-2.6 .5-4.2 .5-5.7 .5-8.1 .5-9.6 .5-9.2 .5-6.2 .3-.8 .2 .6 .5 4.5 .5 8.1 .5 9.3 .5 9.3 .5 7 .5 3.8 .5 2.6 .5 1.8 .5 1.2 .5 .5 .5-.2 .5 .5 .5 .4 .5 0 .5 .5 .5 .8 .5 .1 .5-.6 .5-.5 .5 .4 .5 .4 .5 0 .5 .5 .5 .5 .5-.6 .5-.4 .5 .1 .5 0 .5 0 .5 .1 .5 .2 .5-.2 .5-.4 .5 .1 .5 .1 .5-.1 .5 .1 .5-.4 .5-1 .5-1 .5-1.5 .5-2.2 .5-1.6 .1-.2 .4 .1 .5 1.5 .5 2.4 .5 1.6 .5 .7 .5 .1 .5-.1 .5-.2 .5 0 .5-.3 .5-.5 .5-.9 .5-1.6 .5-1.7 .5-2.6 .5-5.3 .5-8.5 .5-10.5 .5-10.6 .5-7.5 .5-3 .5 2.7 .5 8.2 .5 10.6 .5 9.9 .5 7.9 .5 5.6 .5 3.3 .5 2.4 .5 1 .5 .5 .5 1 .5 .5 .5 .1 .5 .5 .5-.2 .5 .3 .5 .1 .5-.2 .5 .4 .5 .2 .5-.1 .5-.1 .5 .2 .5-.2 .5 0 .5 .1 .5 .2 .5 .4 .5-.4 .5-.1 .5 .2 .5 .2 .5 .2 .5-.1 .5-.5 .5-.4 .5-.6 .5-1.1 .5-2.2 .5-2.9 .5-1.6 .1 .7 .4 .1 .5 .6 .5 1.2 .5 1 .5 1.2 .5 1.5 .5 1.3 .5 .6 .5 .3 .5 .5 .5 .4 .5 0 .5-.2 .5-.2 .5 .3 .5 .1 .5-.2 .5 0 .5 .4 .5 .1 .5 .1 .5 .1 .5 .1 .5-.3 .5-.3 .5 .3 .5 .2 .5 .1 .5-.1 .5 0 .5 .4 .5 .2 .5 0 .5 0 .5-.1 .5 0 .5 0 .5-.1 .5-.1 .5 .2 .5 .3 .5-.4 .5-.3 .5-.1 .5 .1 .5-.1 .5-.4 .5-.1 .5 .3 .5-.1 .5 .4 .5 .3 .5 .3 .5 .1 .5-.4 .5-.5 .5-.2 .5 .1 .5 0 .5-.2 .5 .3 .5 .3 .5 .1 .5-.1 .5-.1 .5-.2 .5-.2 .5-.1 .5 .6 .5 .4 .5-.2 .5-.2 .5-.1 .5 .2 .5-.2 .5 .1 .5-.2 .5-.1 .5 .2 .5-.2 .5-.4 .5-.6 .5-1.1 .5-1 .5-.3 .5 .3 .5 .8 .5 .7 .5 .5 .5 .5 .5 .4 .5 .4 .5 .1 .5-.5 .5-.1 .5-.3 .5 .2 .5 0 .5-.3 .5 .2 .5 .6 .5 .2 .5-.1 .5 .1 .5 .5 .5-.4 .5-.1 .5 .5 .5-.1 .5-.2 .5 .2 .5-.1 .5 0 .5-.2 .5-.2 .5 .3 .5-.1 .5-.4 .5 .1 .5 .4 .5-.1 .5 0 .5 .1 .5-.2 .5-.3 .5 .5 .5 .3 .5 .1 .5 .1 .5-.2 .5 0 .5 .1 .5-.2 .5 .4 .5 .1 .5-.1 .5 0 .5-.4 .5-.3 .5 .2 .5 0 .5 0 .5 0 .5 .2 .5-.2 .5-.3 .5 .2 .5 0 .5-.3 .5-.1 .5 0 .5 .1 .5 .3 .5 .5 .5 .2 .5-.1 .5-.1 .5 0 .5-.1 .5-.4 .5 .1 .5-.1 .5-.2 .5-.2 .5 0 .5 0 .5-.1 .5 .3 .5 .1 .5 0 .5 .2 .5-.1 .5-.2 .5-.3 .5-.4 .5-.3 .5 .4 .5 .6 .5-.2 .5 .4 .5 .3 .5-.1 .5 .3 .5 .3 .5-.1 .5 .1 .5-.5 .5-.5 .5 0 .5-.2 .5-.3 .5 .3 .5 .7 .5-.3 .5-.3 .5 0 .5 .1 .5-.1 .5-.2 .5-.2 .5-.1 .5 .3 .5 .6 .5 .6 .5 0 .5-.1 .5-.4 .5-.4 .5-.3 .5-.1 .5-.2 .5 .5 .5 .6 .5 0 .5-.1 .5-.5 .5-.3 .5 .1 .5 .4 .5 .5 .5 .1 .5-.6 .5-.2 .5 0 .5-.1 .5-.1 .5 .3 .5 .2 .5-.1 .5-.4 .5 0 .5-.1 .5 .4 .5-.2 .5 0 .5 0 .5-.1 .5-.2 .5 .1 .5 .8 .5 0 .5 .1 .5 .2 .5-.3 .5-.1 .5 0 .5 .2 .5-.1 .5-.2 .5-.1 .5 .1 .5 0 .5-.6 .5 .1 .5 .1 .5-.1 .5-.2 .5 .4 .5-.1 .5 0 .5-.2 .5-.2 .5 0 .5-.1 .5 .2 .5 .3 .5 .2 .5 .1 .5 .2 .5 .4 .5-.4 .5-.6 .5-.1 .5 .1 .5 .1 .5-.1 .5 .2 .5 .5 .5-.2 .5-.3 .5 0 .5 .2 .5 .3 .5 0 .5-.4 .5-.7 .5 .5 .5 .7 .5 .2 .5-.7 .5-.4 .5 .2 .5-.2 .5-.3 .5 .4 .5 .6 .5 .2 .5-.3 .5-.2 .5 .3 .5-.5 .5-.2 .5 0 .5 .5 .5 .1 .5 0 .5-.3 .5-.1 .5-.2 .5-.3 .5 .5 .5 .2 .5-.4 .5 0 .5 .2 .5 .2 .5-.2 .5-.4 .5-.4 .5-.4 .5 .1 .5 .2 .5-.1 .5 0 .5 0 .5-.3 .5-.5 .5-.7 .5-1.4 .5-2.1 .5-3 .5-4 .5-3.8 .5-3.8 .5-2.1 .3-.3 .2 .3 .5 1.6 .5 3.4 .5 4.4 .5 3.9 .5 3 .5 2.2 .5 1.6 .5 .8 .5 .1 .5-.1 .5 .3 .5 .7 .5 .5 .5-.1 .5 0 .5 .2 .5-.2 .5 0 .5-.1 .5-.1 .5 .5 .5 0 .5-.3 .5-.1 .5 .4 .5 .3 .5-.5 .5-.2 .5 .1 .5-.4 .5-.2 .5 .4 .5 .2 .5 .1 .5 0 .5 .2 .5-.1 .5-.2 .5 .1 .5 .4 .5 .2 .5-.1 .5-.6 .5-.9 .5 .1 .5 .4 .5 0 .5-.2 .5 .3 .5-.4 .5-.7 .5-1 .5-2.2 .5-3.5 .5-4.1 .5-3.6 .3-1.1 .2 .2 .5 2 .5 2.8 .5 2 .5 .8 .5 1.3 .5 1.5 .5 1.7 .5 2 .5 1.5 .5 .3 .5 0 .5 .7 .5 .4 .5-.4 .5 .2 .5 .1 .5-.1 .5 0 .5 .2 .5 .4 .5-.1 .5-.2 .5 .2 .5-.2 .5 .1 .5 .3 .5 .1 .5 0 .5 0 .5-.1 .5 .1 .5 .1 .5 .1 .5-.3 .5 .1 .5 0 .5-.3 .5-.1 .5-.1 .5-.4 .5 .1 .5 .3 .5 0 .5 .4 .5-.1 .5-.1 .5 .1 .5 0 .5-.2 .5-.1 .5 .2 .5 .4 .5 .1 .5 0 .5-.4 .5-.4 .5-.3 .5 .5 .5 .1 .5-.2 .5 .2 .5 0 .5-.3 .5-.3 .5-1.1 .5-1.5 .5-1.3 .5-1 .5-.4 .5 0 .5 .6 .5 .8 .5 .7 .5 .6 .5 .6 .5 .6 .5 .5 .5 .5 .5 .4 .5 .4 .5 0 .5-.6 .5 .3 .5 .5 .5 .1 .5-.3 .5 .2 .5 .1 .5-.4 .5-.4 .5 .1 .5 .2 .5 .3 .5 .1 .5 .4 .5-.3 .5-.4 .5-.1 .5 0 .5 .5 .5 .3 .5-.2 .5-.2 .5-.3 .5 .2 .5 .1 .5-.7 .5-.1 .5-.5 .5-1.1 .5-.3 .1 .4 .4 .5 .5 .2 .5 .3 .5 .6 .5 .2 .5 .2 .5 .2 .5 .2 .5 0 .5 .2 .5-.3 .5-.2 .5 .3 .5-.1 .5-.5 .5 .2 .5-.1 .5 .1 .5 .3 .5-.1 .5 .1 .5 .2 .5 .4 .5-.5 .5-.5 .5-.1 .5 .2 .5 .3 .5 .2 .5 .2 .5-.1 .5-.1 .5 0 .5-.1 .5 .2 .5 .2 .5-.2 .5-.5 .5-.4 .5 .2 .5 .1 .5-.3 .5 .3 .5 .3 .5-.1 .5 .1 .5 .6 .5 .1 .5-.3 .5 .2 .5-.1 .5-.2 .5 .3 .5-.5 .5-.3 .5-.1 .5 .1 .5-.1 .5 .4 .5 .3 .5-.1 .5 0 .5 .1 .5-.2 .5 0 .5 0 .5-.1 .5 0 .5 0 .5-.1 .5-.2 .5 .1 .5 .2 .5-.1 .5-.3 .5-.1 .5 .2 .5 .2 .5 .1 .5 0 .5-.2 .5-.1 .5-.5 .5-.2 .5 .3 .5 0 .5 0 .5 .3 .5 .2 .5-.1 .5 .1 .5-.1 .5-.3 .5 0 .5 .5 .5 .3 .5 .3 .5 .1 .5-.3 .5-.2 .5-.1 .5-.1 .5-.1 .5 .1 .5 .3 .5-.5 .5 .2 .5 .2 .5-.2 .5-.2 .5 0 .5-.1 .5-.1 .5 .2 .5 0 .5 .1 .5 .1 .5-.2 .5 .1 .5 0 .5 .1 .5 0 .5-.1 .5-.3 .5-.1 .5 .1 .5 .3 .5 .3 .5 0 .5-.4 .5-.3 .5-.6 .5-.2 .5 .2 .5 0 .5-.4 .5-.2 .5-.1 .5-1.2 .5-1.5 .5-1.1 .5-1.4 .3-.6 .2 .1 .5 .8 .5 1.3 .5 .3 .5 .2 .5 .4 .5 .5 .5 .9 .5 .4 .5 .8 .5 .9 .5 .6 .5 .3 .5 .2 .5 .2 .5-.4 .5 0 .5 .1 .5-.2 .5-.2 .5 0 .5-.1 .5-.1 .5 0 .5 0 .5 .2 .5 .1 .5 .8 .5 .3 .5-.4 .5-.5 .5-.1 .5 .3 .5-.1 .5-.3 .5-.3 .5-.3 .5-.7 .5-.9 .5-.8 .5 0 .5 .5 .5 .5 .5 .7 .5 .8 .5 .4 .5 .1 .5-.4 .5 .4 .5 .1 .5-.4 .5 0 .5 .4 .5-.1 .5 0 .5 .3 .5 0 .5 0 .5-.1 .5 .2 .5 .3 .5-.4 .5-.5 .5 .4 .5 .1 .5-.1 .5 .2 .5-.2 .5 .4 .5 0 .5 .1 .5-.4 .5-.3 .5 .2 .5 .3 .5 .2 .5-.1 .5-.3 .5 .2 .5 .1 .5-.4 .5-.3 .5 .2 .5 .4 .5 0 .5-.4 .5-.1 .5 .3 .5-.2 .5 0 .5-.2 .5-.1 .5 .3 .5 .4 .5 .5 .5 .2 .5-.4 .5 0 .5-.1 .5-.4 .5 0 .5 .3 .5-.2 .5-.1 .5-.1 .5 0 .5 .1 .5 .3 .5 .1 .5-.5 .5-.3 .5 .1 .5-.2 .5 .4 .5 .7 .5 .3 .5-.5 .5-.5 .5-.1 .5-.4 .5 .4 .5 .7 .5-.2 .5-.7 .5-.1 .5 .6 .5 0 .5-.2 .5 .1 .5-.3 .5-.2 .5 .4 .5 .1" fill="none" stroke="#ff2d9a" stroke-width="3.1" stroke-linejoin="round" stroke-linecap="round"/>
<path d="M95.5 307.2l.5 0 .5 .3 .5 .1 .5 .2 .5 .1 .5 .1 .5-.4 .5-.4 .5-.4 .5 .4 .5 1 .5 .4 .5-1 .5-.3 .5 .4 .5 .1 .5-.3 .5-.1 .5-.3 .5 .4 .5 .6 .5 .2 .5-.5 .5-.2 .5 .3 .5 .2 .5-.3 .5-.3 .5 .2 .5 .1 .5-.5 .5-.2 .5 .5 .5 .2 .5 .1 .5-.3 .5-.4 .5-.1 .5-.2 .5 0 .5 .1 .5 .3 .5 .1 .5-.4 .5 0 .5 .2 .5 .4 .5-.2 .5-.3 .5 .1 .5-.2 .5 0 .5 .4 .5 0 .5 .1 .5-.3 .5-.4 .5-.6 .5-.4 .5 .1 .5-.1 .5-.3 .5-.6 .5-.8 .5-.4 .5-.1 .5-.6 .5-1.3 .5-1.3 .5-1.8 .5-3.8 .5-7.4 .5-15.5 .5-27.6 .5-35.7 .5-28.4 .1-3.5 .4-2 .5 17.5 .5 28.9 .5 29.6 .5 22.9 .5 13.8 .5 7.4 .5 3.6 .5 1.6 .5 1.3 .5 1.3 .5 .8 .5 .6 .5 .6 .5 .3 .5 .1 .5 .3 .5 .8 .5 .6 .5 0 .5-.2 .5 .4 .5 .1 .5-.1 .5 .2 .5 .4 .5 0 .5-.4 .5 0 .5 .1 .5 .1 .5 .4 .5-.2 .5-.4 .5 0 .5 .1 .5-.1 .5 .4 .5 .1 .5 0 .5 .3 .5 .2 .5-.3 .5-.1 .5 .3 .5-.4 .5-.4 .5 0 .5 .6 .5 .1 .5 0 .5-.2 .5-.2 .5-.2 .5 .1 .5 .3 .5 .3 .5 .1 .5-.5 .5-.3 .5 .2 .5 .3 .5-.2 .5 .4 .5 .3 .5-.3 .5-.4 .5-.5 .5 0 .5 0 .5 .4 .5 .2 .5 0 .5 .3 .5-.1 .5-.3 .5-.3 .5-.1 .5 .6 .5 .5 .5-.4 .5-.1 .5 0 .5 .2 .5 0 .5-.5 .5-.4 .5 .4 .5 .5 .5 0 .5-.1 .5-.4 .5-.3 .5 .5 .5 .1 .5-.2 .5 0 .5 .2 .5-.1 .5 .1 .5-.4 .5-.4 .5 .3 .5 .1 .5 .1 .5 .2 .5 .1 .5 .3 .5 .1 .5-.4 .5-.5 .5 .2 .5 .4 .5-.2 .5-.2 .5 .2 .5 .3 .5 .1 .5-.2 .5-.3 .5 0 .5 .1 .5-.2 .5-.4 .5 .2 .5 .3 .5 .7 .5 .5 .5-.1 .5-.4 .5-.3 .5 .1 .5-.1 .5-.1 .5-.4 .5 .1 .5 .5 .5 .4 .5 0 .5 .5 .5-.1 .5-1.1 .5-.3 .5 0 .5 .1 .5 0 .5 .3 .5 .4 .5 0 .5-.2 .5-.2 .5 0 .5 .1 .5 0 .5 0 .5-.2 .5-.2 .5 .6 .5 .3 .5-.5 .5-.4 .5 .4 .5-.5 .5-.7 .5 .6 .5 .6 .5 .2 .5 .2 .5-.2 .5-.5 .5-.6 .5 .1 .5 .6 .5 .1 .5-.4 .5 0 .5 .1 .5-.6 .5-.1 .5 .6 .5 .2 .5-.3 .5-.4 .5 .3 .5 .2 .5 .3 .5 .1 .5 .1 .5 0 .5-.1 .5 .3 .5 .2 .5-.1 .5-.1 .5-.3 .5 .1 .5-.1 .5-.4 .5 0 .5 0 .5 .1 .5 .3 .5 .2 .5-.3 .5-.2 .5-.2 .5 .4 .5 .5 .5 0 .5-.3 .5-.5 .5-.2 .5 .1 .5-.3 .5 .2 .5 .4 .5 .1 .5 .2 .5-.4 .5-.1 .5-.1 .5 0 .5 0 .5 .1 .5 0 .5 .1 .5 .4 .5 .1 .5-.3 .5 0 .5 0 .5 .1 .5 0 .5-.9 .5-.3 .5 0 .5 .4 .5 .7 .5 .8 .5-.4 .5-.1 .5-.3 .5-.6 .5 .1 .5 .2 .5-.5 .5-.3 .5-.4 .5-.8 .5-.2 .5 0 .5-.6 .5-1.5 .5-2.4 .5-5.2 .5-9.2 .5-11.3 .5-8.2 .1-1.1 .4-.6 .5 4.9 .5 7 .5 7 .5 7.3 .5 6 .5 4.1 .5 2.3 .5 .8 .5 .4 .5 .5 .5 .9 .5 .5 .5-.6 .5 .1 .5 .4 .5 .3 .5-.4 .5-.3 .5 .6 .5 0 .5-.2 .5-.2 .5 .1 .5 .4 .5 .5 .5 0 .5-.3 .5 .1 .5-.1 .5 0 .5 .2 .5-.1 .5-.2 .5 0 .5 .1 .5-.2 .5 0 .5 .3 .5-.2 .5-.1 .5-.1 .5-.4 .5-.7 .5-.2 .5-1.3 .5-1.9 .5-1.3 .5-1.5 .5-2.2 .5-1.5 .2 .1 .3 .4 .5 .7 .5 1.9 .5 2.4 .5 2.3 .5 1.2 .5 .9 .5 .2 .5 .3 .5 .6 .5 0 .5-.3 .5 .4 .5 .2 .5-.2 .5 .2 .5 0 .5-.2 .5-.1 .5 0 .5 0 .5-.1 .5 0 .5 0 .5 .2 .5 .1 .5 0 .5 .5 .5 .5 .5-.4 .5-.6 .5 .2 .5-.1 .5-.3 .5-.3 .5 .2 .5 .2 .5-.6 .5-1.2 .5-1.9 .5-2.8 .5-3 .5-2.4 .1-.8 .4 0 .5 1.5 .5 1.9 .5 2.1 .5 1.8 .5 1.4 .5 1.6 .5 1.4 .5 .3 .5 0 .5-.3 .5-.1 .5-.1 .5-.8 .5-1.2 .5-1.3 .5-2.1 .5-2.9 .5-2 .5-1.1 .1-.5 .4 .6 .5 2.2 .5 2.8 .5 2.4 .5 1.5 .5 1.3 .5 1.4 .5 .5 .5 .2 .5 .3 .5 .1 .5-.3 .5 .2 .5 0 .5 .3 .5 .1 .5-.5 .5 .1 .5 0 .5 0 .5 0 .5-.3 .5 .1 .5 .5 .5 .1 .5-.5 .5 0 .5 .9 .5-.1 .5-.6 .5-.5 .5-.1 .5 .1 .5-.1 .5 .3 .5-.4 .5-.8 .5-1.5 .5-2.5 .5-4 .5-4.8 .5-3.4 .1-.2 .4 .5 .5 2.5 .5 2.7 .5 1.8 .5 2.2 .5 3.1 .5 2.5 .5 1 .5 .5 .5 .4 .5 .4 .5 0 .5-.1 .5 .3 .5 .5 .5 .3 .5 0 .5-.2 .5-.3 .5 0 .5 .1 .5-.3 .5-.2 .5-.2 .5 .2 .5 .1 .5 0 .5 .4 .5-.1 .5-.1 .5 .1 .5 .1 .5 .4 .5-.2 .5-.3 .5-.2 .5 0 .5 .2 .5 0 .5 .1 .5 .3 .5 .3 .5-.3 .5-.2 .5 .3 .5 .8 .5-.1 .5-.4 .5-.3 .5-.4 .5 .1 .5 .1 .5-.1 .5-.3 .5 .1 .5 .3 .5-.2 .5-.4 .5 .5 .5 .3 .5-.3 .5-.2 .5-.1 .5 .2 .5-.3 .5-.2 .5 .6 .5 .6 .5-.7 .5-.3 .5 .3 .5 .3 .5 0 .5-.8 .5-.3 .5 .3 .5 .3 .5 .1 .5-.3 .5-.9 .5-.7 .5-1 .5-1.9 .5-2.6 .5-1.7 .5 .4 .5 1.9 .5 1.7 .5 1 .5 .7 .5 1.1 .5 .6 .5 .5 .5 .4 .5 .2 .5 0 .5 .2 .5 .2 .5 .2 .5 .2 .5 0 .5 .2 .5 .3 .5-.2 .5-.2 .5 0 .5 0 .5 0 .5 0 .5 .5 .5 .3 .5-.3 .5-.7 .5-.4 .5 .2 .5 .5 .5 .1 .5-.2 .5 .1 .5 .3 .5-.2 .5 .2 .5-.1 .5-.5 .5 0 .5-.1 .5-.3 .5-.3 .5 .2 .5 .6 .5 .1 .5-.1 .5-.2 .5 0 .5-.1 .5-.3 .5 0 .5 .6 .5 .1 .5-.2 .5 .2 .5 .5 .5 .1 .5-.4 .5 .2 .5 .4 .5-.2 .5-.4 .5-.6 .5 .5 .5-.1 .5-.4 .5 .6 .5 .5 .5 .1 .5-.2 .5-.5 .5-.3 .5 0 .5 .2 .5 .1 .5-.1 .5 .1 .5 .3 .5 .2 .5 .5 .5-.2 .5-1 .5-.4 .5-.1 .5 .1 .5 .4 .5-.3 .5 0 .5 .3 .5 .3 .5-.2 .5 0 .5 .4 .5 0 .5 0 .5-.1 .5-.4 .5 0 .5 .1 .5 .4 .5-.1 .5-.3 .5 .2 .5-.2 .5 .3 .5-.2 .5-.4 .5-.2 .5 .3 .5 .1 .5 0 .5 0 .5-.2 .5 .1 .5 0 .5-.3 .5 .2 .5-.4 .5-.3 .5 .4 .5 .6 .5 .2 .5 .1 .5 .4 .5 .2 .5-.1 .5-.1 .5-.4 .5-.3 .5 .3 .5 .2 .5-.3 .5-.4 .5-.2 .5 .5 .5-.1 .5-.3 .5 .3 .5 .3 .5-.1 .5 .2 .5-.2 .5-.5 .5 .1 .5 .5 .5 .3 .5-.2 .5-.8 .5 .3 .5 .5 .5 .4 .5-.2 .5-.7 .5-.2 .5 0 .5 .3 .5-.1 .5 .5 .5 .1 .5-.5 .5-.7 .5 .3 .5 .3 .5-.3 .5 .2 .5 .3 .5 .2 .5 0 .5-.2 .5-.2 .5 .1 .5 .1 .5 .1 .5 0 .5-.1 .5-.3 .5 .4 .5 .1 .5 .1 .5 0 .5 .1 .5 0 .5-.4 .5-.1 .5 0 .5-.2 .5-.3 .5 .2 .5 .1 .5-.1 .5-.1 .5 .1 .5 .6 .5 .3 .5-.1 .5-.7 .5-.3 .5 .2 .5-.2 .5 .2 .5 0 .5 .1 .5 .2 .5 .3 .5 .3 .5-.3 .5-.5 .5 .1 .5-.3 .5 0 .5-.2 .5 .3 .5 .4 .5-.3 .5-.2 .5 0 .5 .3 .5 .2 .5-.6 .5-.1 .5 .2 .5-.2 .5 .2 .5 .5 .5-.2 .5-.4 .5-.2 .5-.1 .5 .2 .5 .4 .5 .4 .5-.2 .5-.6 .5-.2 .5 0 .5-.4 .5 0 .5 0 .5-.4 .5-.1 .5-.1 .5-.9 .5-.9 .5-1.2 .5-1.8 .5-2.4 .5-2 .5-2.1 .5-1.1 .1-.1 .4 .3 .5 1.7 .5 2.8 .5 2.4 .5 2.1 .5 1.7 .5 .9 .5 .7 .5 .3 .5 .1 .5 .2 .5-.1 .5 .3 .5 .1 .5 .4 .5 .4 .5-.3 .5-.3 .5-.1 .5-.1 .5-.2 .5 .1 .5 .4 .5 0 .5-.4 .5 .3 .5 .3 .5-.1 .5-.2 .5 .2 .5-.2 .5 .4 .5 0 .5-.6 .5 .2 .5 .2 .5-.2 .5-.3 .5-.2 .5-.1 .5 .3 .5 .1 .5-.4 .5-.3 .5 0 .5 .1 .5-.1 .5-.3 .5-.5 .5-1 .5-.7 .5 .2 .5-.9 .5-3.6 .5-6.8 .5-11.7 .5-13.6 .5-6.8 .5 4.9 .5 10.2 .5 6.1 .5-.2 .5-.8 .5 4.2 .5 7.4 .5 6.5 .5 3.6 .5 1.8 .5 .5 .5 .3 .5-.2 .5 .7 .5 .8 .5 .1 .5 0 .5 .1 .5 .7 .5 .1 .5-.1 .5 .1 .5 .2 .5 .2 .5-.4 .5-.5 .5 .4 .5 .5 .5-.1 .5-.2 .5 .1 .5 .1 .5-.2 .5-.5 .5 .1 .5 .5 .5 0 .5 .3 .5 .3 .5-.4 .5-.3 .5-.2 .5 0 .5-.1 .5-.4 .5 .1 .5 .8 .5 .2 .5 0 .5-.1 .5-.1 .5 .1 .5-.1 .5-.3 .5 .1 .5-.2 .5 .4 .5 .5 .5-.3 .5-.2 .5-.4 .5-.1 .5-.2 .5-.4 .5-.6 .5-.7 .5-1.5 .5-3.3 .5-4.1 .5-3.3 .3-1 .2-.1 .5 2.6 .5 3.5 .5 1.6 .5 0 .5 .3 .5 1.6 .5 1.4 .5 1.3 .5 1.5 .5 .8 .5 .1 .5 0 .5 .6 .5 .1 .5-.3 .5-.1 .5 .4 .5 .3 .5 .2 .5-.5 .5-.3 .5 .2 .5 .1 .5 .1 .5-.2 .5 .1 .5 .1 .5 0 .5-.1 .5-.1 .5 .2 .5 0 .5 .1 .5-.3 .5-.3 .5 .6 .5 .6 .5-.1 .5 0 .5-.2 .5-.4 .5-.1 .5 .6 .5 .3 .5-.1 .5-.2 .5 0 .5-.1 .5 0 .5-.1 .5-.1 .5-.3 .5 .1 .5 .3 .5-.4 .5-.4 .5 .2 .5 .1 .5 .9 .5 .1 .5-.3 .5-.5 .5-.2 .5 .2 .5 .1 .5 0 .5 .2 .5 .3 .5-.2 .5-.6 .5-.3 .5 .4 .5 .2 .5 .5 .5 .5 .5 0 .5-.3 .5 .1 .5 .1 .5-.4 .5-.1 .5 .1 .5-.3 .5-.2 .5-.1 .5 .1 .5 .1 .5 .2 .5 .1 .5 .4 .5-.2 .5-.4 .5 .1 .5 .1 .5 .3 .5-.1 .5-.2 .5-.1 .5-.1 .5 .1 .5 .1 .5-.1 .5-.1 .5-.2 .5 .1 .5-.1 .5 .3 .5 .2 .5 0 .5 .1 .5 .5 .5-.5 .5-.4 .5 0 .5 .3 .5-.1 .5 0 .5-.3 .5 .1 .5 .1 .5 .1 .5-.3 .5-.1 .5 .1 .5-.3 .5 .1 .5 .2 .5-.3 .5 .3 .5 0 .5-.2 .5 .3 .5 .2 .5-.3 .5 .1 .5 .3 .5 0 .5-.3 .5-.4 .5-.1 .5 .3 .5 .4 .5 .1 .5 .1 .5 0 .5-.3 .5-.3 .5 .3 .5 .2 .5-.6 .5 .2 .5 .3 .5 .2 .5 .5 .5-.1 .5-.5 .5-.4 .5 .1 .5-.1 .5 .1 .5 0 .5-.1 .5 .4 .5 .4 .5-.2 .5-.6 .5-.4 .5 .6 .5 .2 .5-.4 .5-.2 .5 .1 .5-.2 .5 0 .5-.4 .5-.2 .5-.1 .5-.5 .5-.6 .5-1.5 .5-2.4 .5-1.4 .3-.4 .2 .2 .5 1.2 .5 1.4 .5 .7 .5-.1 .5-.1 .5 .6 .5 1.4 .5 .9 .5 .3 .5 .7 .5 .3 .5 0 .5 .2 .5 .1 .5-.3 .5 0 .5 .1 .5-.1 .5 .1 .5 0 .5-.2 .5 0 .5 .4 .5 .3 .5-.3 .5-.2 .5 .2 .5 .1 .5 .1 .5-.1 .5-.5 .5-.2 .5-.1 .5 .1 .5 .3 .5-1 .5-1.9 .5-1.6 .5-1.5 .5-.6 .5 .5 .5 1.2 .5 1.4 .5 .5 .5-.2 .5-.2 .5 .5 .5 .8 .5 .6 .5 .8 .5 .4 .5 .2 .5 .1 .5-.2 .5 0 .5 .2 .5 .2 .5 0 .5 .1 .5-.1 .5-.2 .5 .2 .5-.1 .5 .1 .5 .2 .5 .3 .5 .3 .5 .1 .5-.5 .5-.3 .5 0 .5 .5 .5 .2 .5-.3 .5-.3 .5 .1 .5 0 .5-.1 .5-.5 .5-.4 .5 .6 .5 .6 .5-.3 .5-.6 .5 .1 .5 .3 .5 .6 .5-.2 .5-.3 .5 .1 .5 0 .5 .1 .5-.1 .5-.2 .5 .1 .5 0 .5 .4 .5-.2 .5-.5 .5 0 .5 .9 .5 .1 .5-.5 .5 .3 .5-.1 .5-.3 .5 0 .5 .2 .5 .3 .5-.4 .5-.2 .5 .7 .5-.1 .5-.7 .5-.1 .5 .1 .5 .2 .5 .2 .5-.1 .5-.3 .5 .1 .5 .3 .5 .3 .5 .2 .5-.4 .5-.1 .5-.1 .5 0 .5 .3 .5-.2 .5-.4 .5 .1" fill="none" stroke="#a000d8" stroke-width="3.1" stroke-linejoin="round" stroke-linecap="round"/>
<path d="M95.5 220l.5-.1 .5 .3 .5 0 .5-.1 .5 .3 .5 .2 .5-.3 .5-.1 .5 .4 .5-.2 .5-.6 .5-.1 .5 0 .5-.2 .5 0 .5 .4 .5 .1 .5 0 .5 .1 .5-.3 .5-.1 .5 .1 .5-.1 .5 .1 .5 .2 .5 0 .5 0 .5-.3 .5-.2 .5-.2 .5 .1 .5 .2 .5 .4 .5 .1 .5 0 .5 .3 .5-.1 .5-.4 .5-.6 .5-.3 .5 .2 .5 .1 .5-.1 .5-.2 .5 0 .5 .4 .5-.4 .5 0 .5 0 .5-.2 .5 .4 .5 0 .5-.5 .5-.4 .5-.2 .5 0 .5 .4 .5-.3 .5-.5 .5-.3 .5 .2 .5-.3 .5-1 .5-.8 .5-.7 .5-.4 .5-.7 .5-1.4 .5-2.5 .5-3.3 .5-4.4 .5-7.1 .5-18.9 .5-54.2 .5-91.6 .4-44.5 .1-1 .5 44.5 .5 61.3 .5 48.2 .5 37.5 .5 19.7 .5 7.5 .5 3.8 .5 2.6 .5 2.1 .5 1.5 .5 1 .5 .6 .5 .4 .5 .5 .5 .8 .5 .6 .5 .2 .5 .2 .5 .5 .5 .2 .5-.2 .5 .2 .5 .4 .5 0 .5-.1 .5 .2 .5 .3 .5 .1 .5-.2 .5 .3 .5-.1 .5-.1 .5 .4 .5 0 .5-.2 .5 .2 .5-.4 .5-.2 .5 .4 .5 .3 .5 .1 .5 0 .5 .2 .5 .1 .5 .3 .5 .1 .5-.8 .5-.8 .5 .1 .5 .3 .5 .2 .5 0 .5-.3 .5 0 .5 .2 .5-.1 .5-.2 .5 .5 .5 .2 .5-.1 .5 0 .5-.2 .5 .2 .5 .4 .5 .1 .5-.2 .5-.3 .5 0 .5 .4 .5-.1 .5-.6 .5-.4 .5 0 .5 .3 .5 .6 .5 0 .5-.3 .5 .4 .5 .6 .5-.3 .5-.7 .5-.2 .5-.2 .5 0 .5 .7 .5 .8 .5-.1 .5-.6 .5-.2 .5 .1 .5 0 .5-.6 .5 .1 .5 .7 .5 .2 .5 .1 .5-.1 .5-.1 .5-.3 .5 .2 .5 .3 .5-.1 .5-.3 .5-.1 .5-.3 .5-.2 .5 .6 .5 .4 .5-.3 .5-.4 .5 .3 .5 0 .5-.5 .5-.3 .5 .7 .5 .3 .5-.3 .5-.7 .5 .1 .5 .7 .5 .2 .5-.1 .5-.2 .5-.1 .5-.1 .5-.1 .5 0 .5 .2 .5 .1 .5 .2 .5 0 .5-.2 .5 .2 .5-.3 .5 .2 .5 .3 .5-.2 .5-.6 .5 .5 .5 .5 .5-.4 .5-.8 .5 .1 .5 .3 .5 .2 .5 .2 .5-.1 .5 .2 .5-.2 .5-.6 .5-.1 .5 .3 .5 .3 .5 .2 .5-.1 .5-.2 .5-.7 .5-.4 .5 .7 .5 .4 .5-.1 .5-.1 .5 .5 .5 .3 .5-.4 .5-.4 .5 .2 .5 .5 .5-.1 .5 0 .5 .2 .5-.2 .5-.3 .5 .2 .5 .2 .5-.1 .5-.1 .5-.3 .5-.1 .5 0 .5 .2 .5-.1 .5-.1 .5-.2 .5 .1 .5 .1 .5 0 .5 .1 .5-.1 .5-.2 .5-.2 .5 .5 .5-.1 .5-.1 .5 0 .5 .3 .5-.2 .5 .3 .5 .4 .5 .2 .5-.2 .5-.4 .5-.3 .5 .5 .5 .2 .5-.1 .5-.2 .5-.3 .5 0 .5 .4 .5-.1 .5-.4 .5 .2 .5 .1 .5 .1 .5 0 .5 .1 .5 0 .5-.3 .5-.4 .5 .2 .5-.1 .5-.2 .5 .1 .5 0 .5 .4 .5 .2 .5-.3 .5 0 .5 0 .5-.2 .5-.3 .5 .2 .5 .1 .5 0 .5 0 .5 .1 .5-.1 .5 0 .5 0 .5-.2 .5-.1 .5-.2 .5-.3 .5-.3 .5 .1 .5-.1 .5-.5 .5-.4 .5-.7 .5-.9 .5-.6 .5-1.2 .5-3.7 .5-7.8 .5-14 .5-18.2 .5-13 .1-1.4 .4 .2 .5 8.2 .5 10.4 .5 10.3 .5 10.9 .5 9.4 .5 5.9 .5 3.1 .5 1.1 .5 .7 .5 .5 .5 .5 .5 .6 .5 .1 .5 .4 .5 0 .5 .5 .5 .3 .5-.7 .5 .1 .5 .7 .5 0 .5-.2 .5 0 .5 0 .5 .4 .5 .3 .5-.2 .5 .1 .5 .4 .5 .1 .5-.5 .5-.2 .5-.1 .5-.1 .5 0 .5-.1 .5-.4 .5 0 .5 .4 .5 .5 .5 .3 .5-.3 .5 0 .5 .3 .5 0 .5-.2 .5 .1 .5 .3 .5-.4 .5-.4 .5-.1 .5 .3 .5 .3 .5 .3 .5-.2 .5 .1 .5 .2 .5-.1 .5-.4 .5 .2 .5-.1 .5-.2 .5-.1 .5-.1 .5-.2 .5-.2 .5 .4 .5 .1 .5-.2 .5 .4 .5 .5 .5-.3 .5-.2 .5 .1 .5-.4 .5-.2 .5 0 .5 .1 .5 .3 .5-.2 .5-.3 .5-.1 .5 0 .5-.2 .5-.2 .5-.4 .5-.3 .5-.4 .5-1.1 .5-2.3 .5-4.8 .5-6.3 .5-4.3 .1-.2 .4 .6 .5 3 .5 2.9 .5 2.8 .5 3.6 .5 3.3 .5 2.1 .5 1.2 .5 .5 .5 .1 .5 .5 .5 .7 .5 0 .5-.3 .5-.1 .5 .3 .5 .4 .5-.2 .5 0 .5 .1 .5 0 .5 0 .5-.2 .5-.2 .5 .1 .5 .5 .5-.2 .5-.2 .5 .1 .5-.3 .5-.2 .5-.1 .5 .1 .5 .1 .5 .1 .5-.1 .5-.2 .5 0 .5 0 .5 .1 .5 .3 .5 0 .5-.3 .5-.3 .5 .1 .5-.2 .5 .1 .5 0 .5-.3 .5-.2 .5 .2 .5 .3 .5-.4 .5-.4 .5-.1 .5-.4 .5-1 .5-2.5 .5-4.3 .5-6.8 .5-8.2 .4-3.6 .1 0 .5 2.5 .5 4.1 .5 3.5 .5 3.3 .5 4.3 .5 4 .5 2.5 .5 1 .5 .6 .5 .8 .5 .2 .5 .4 .5 .6 .5 0 .5 0 .5 .1 .5 .1 .5 0 .5 0 .5 .3 .5-.4 .5-.3 .5 .3 .5 .2 .5-.1 .5 .3 .5 .4 .5 .1 .5-.5 .5-.2 .5-.3 .5 .1 .5 .3 .5 .1 .5 0 .5-.2 .5-.1 .5 .1 .5 .3 .5 .1 .5 .1 .5 .2 .5-.3 .5-.6 .5 0 .5 .2 .5 .1 .5 .4 .5 0 .5-.2 .5 0 .5 .2 .5-.3 .5 0 .5 .2 .5 .2 .5 .1 .5-.2 .5-.2 .5-.4 .5-.1 .5-.2 .5-.2 .5 .6 .5 .3 .5-.1 .5-.1 .5 .2 .5-.1 .5 .3 .5 .2 .5-.3 .5-.2 .5-.3 .5-.2 .5-.2 .5-.1 .5-.4 .5-.8 .5-.8 .5-2.1 .5-4.4 .5-5.5 .5-3.5 .1 0 .4 1.1 .5 3.1 .5 2.2 .5 1.1 .5 2.1 .5 3 .5 2.3 .5 .9 .5 .8 .5 .3 .5 .6 .5 .4 .5 .2 .5 .1 .5-.1 .5-.2 .5 .3 .5 .2 .5-.2 .5-.2 .5 0 .5 .3 .5-.2 .5-.2 .5 0 .5 0 .5 .3 .5 .5 .5 .1 .5 .2 .5-.2 .5-.5 .5 .3 .5 .4 .5-.1 .5-.8 .5-.3 .5 .4 .5 0 .5-.1 .5 .1 .5-.3 .5-.3 .5 .5 .5 .3 .5 .3 .5 0 .5-.2 .5-.3 .5-.3 .5-.1 .5 .4 .5 .5 .5 .2 .5 .1 .5-.6 .5-.4 .5 .5 .5 .1 .5-.6 .5-.2 .5 .5 .5 .1 .5-.3 .5-.1 .5-.1 .5-.1 .5 .1 .5 .3 .5 0 .5-.4 .5 0 .5 .6 .5-.1 .5-.2 .5 0 .5 0 .5-.1 .5 .2 .5 .2 .5 .1 .5-.4 .5 0 .5 .4 .5 .2 .5-.4 .5-.1 .5 .1 .5 .2 .5 .1 .5-.1 .5 0 .5-.1 .5-.2 .5-.2 .5-.2 .5 .2 .5 .1 .5 .2 .5 .3 .5 0 .5 .1 .5-.3 .5-.5 .5 .3 .5 .2 .5-.2 .5-.1 .5 .4 .5 .4 .5-.1 .5-.2 .5 .1 .5 .2 .5 .3 .5-.2 .5-.4 .5-.1 .5 0 .5-.1 .5 0 .5 0 .5-.2 .5-.1 .5 .2 .5-.1 .5-.2 .5-.1 .5 .4 .5 .1 .5 0 .5 .1 .5-.1 .5 .1 .5 .3 .5-.2 .5 .2 .5 .1 .5-.5 .5-.1 .5 0 .5 .2 .5-.2 .5-.1 .5 .5 .5 0 .5-.3 .5 .3 .5 .2 .5 .5 .5-.3 .5-.7 .5-.3 .5 0 .5 .2 .5 .2 .5 .1 .5-.3 .5-.4 .5 .3 .5 .6 .5 0 .5-.3 .5-.2 .5 0 .5-.2 .5-.1 .5 .3 .5 0 .5-.3 .5-.3 .5 .6 .5 .2 .5-.4 .5 .5 .5-.1 .5-.4 .5-.1 .5 .5 .5 .1 .5-.1 .5-.2 .5-.1 .5 .2 .5-.1 .5 0 .5-.4 .5-.2 .5 .3 .5 .3 .5-.4 .5 0 .5 .5 .5 .4 .5 .4 .5 0 .5-.4 .5-.4 .5-.6 .5 0 .5 .3 .5 0 .5-.3 .5 0 .5 .3 .5 .5 .5-.1 .5-.2 .5 0 .5 0 .5-.2 .5-.1 .5-.1 .5 .5 .5 .3 .5-.1 .5 0 .5 .2 .5 .2 .5-.5 .5-.6 .5 .1 .5 .5 .5 .3 .5 0 .5-.1 .5-.4 .5-.5 .5-.1 .5-.1 .5 .2 .5 .1 .5 .2 .5-.1 .5-.1 .5 .4 .5 .1 .5-.3 .5 .2 .5 .2 .5-.1 .5 .1 .5 .1 .5 0 .5-.1 .5-.2 .5 .2 .5 .1 .5-.2 .5-.3 .5-.2 .5 .1 .5 .1 .5 .1 .5 .1 .5-.1 .5 .1 .5 .2 .5 .3 .5-.1 .5-.4 .5-.1 .5-.1 .5 0 .5-.1 .5-.2 .5-.4 .5-.1 .5 .7 .5 .3 .5-.2 .5 0 .5-.1 .5 0 .5-.2 .5 0 .5-.2 .5-.3 .5 .4 .5-.1 .5-.3 .5 .4 .5 .2 .5 0 .5-.1 .5-.3 .5-.3 .5 .1 .5 .3 .5 .6 .5-.2 .5-.8 .5-.3 .5 0 .5-.2 .5-.5 .5-.2 .5 .3 .5-.7 .5-1.4 .5-1 .5-.6 .5-.9 .5-2.3 .5-5.9 .5-13.8 .5-24.4 .5-26.8 .4-9.6 .1 .2 .5 15.3 .5 21.4 .5 8 .5-4 .5-1.3 .5 10.1 .5 14.9 .5 10.9 .5 5.9 .5 2.4 .5 .7 .5 1.1 .5 .9 .5 0 .5 .2 .5 .3 .5 .2 .5-.2 .5 .2 .5 .6 .5 .5 .5 .3 .5 .2 .5 .3 .5 0 .5-.2 .5-.3 .5 .5 .5 .9 .5 0 .5-.4 .5-.2 .5-.1 .5-.1 .5 .2 .5-.3 .5 .1 .5 .1 .5-.6 .5 0 .5-.2 .5 .1 .5 .2 .5 .1 .5 0 .5-.1 .5-.1 .5-.1 .5-.1 .5 0 .5 .2 .5 0 .5 .1 .5-.1 .5 0 .5 .2 .5-.4 .5-.5 .5-.1 .5-.5 .5 .2 .5-.2 .5-.5 .5-.2 .5-.4 .5-1.2 .5-3.8 .5-7.3 .5-10.7 .5-8.6 .2-1 .3 1.8 .5 7.5 .5 7.2 .5 2 .5-1.4 .5 .3 .5 3.6 .5 5.1 .5 4.4 .5 2.7 .5 .9 .5 .1 .5 .2 .5 .4 .5 .3 .5-.1 .5-.2 .5 .2 .5 .7 .5 .2 .5-.8 .5-.4 .5 .6 .5 .1 .5 .2 .5 .2 .5-.4 .5-.5 .5-.2 .5 .4 .5 .1 .5 .1 .5-.2 .5 0 .5-.1 .5 .2 .5 .3 .5 .4 .5 .1 .5-.3 .5-.1 .5 .5 .5 0 .5-.1 .5 .1 .5 .2 .5-.1 .5-.1 .5-.2 .5-.5 .5 0 .5 .2 .5 .1 .5 0 .5 .1 .5-.1 .5-.3 .5-.1 .5 .5 .5 0 .5-.2 .5 .2 .5 .1 .5-.4 .5-.5 .5 .1 .5 .5 .5 .4 .5-.4 .5-.2 .5-.1 .5 .1 .5 0 .5-.6 .5-.1 .5 .8 .5 .2 .5 0 .5 .3 .5-.2 .5-.5 .5 .2 .5 .4 .5-.3 .5 .1 .5 .2 .5-.3 .5-.3 .5-.1 .5 .1 .5 .2 .5-.1 .5 .2 .5-.2 .5-.1 .5 0 .5 .3 .5 .5 .5 .3 .5-.1 .5-.4 .5-.1 .5 .1 .5 0 .5-.1 .5 .3 .5 0 .5 .1 .5-.1 .5-.2 .5-.4 .5-.1 .5-.1 .5 .2 .5 .2 .5 .1 .5 .1 .5 .6 .5-.2 .5-.1 .5-.3 .5-.8 .5 .4 .5 .3 .5-.5 .5 .2 .5 0 .5 0 .5 0 .5-.3 .5 .2 .5 0 .5 .2 .5 .7 .5 .6 .5-.5 .5-.5 .5-.2 .5-.1 .5 .3 .5 .3 .5-.1 .5-.1 .5 .1 .5 .1 .5-.6 .5 .1 .5 .2 .5-.2 .5-.5 .5 0 .5 .2 .5 .1 .5-.3 .5 .1 .5 .5 .5 .1 .5-.4 .5-.2 .5 .3 .5 .7 .5-.3 .5-.2 .5 .3 .5 .3 .5-.5 .5-.7 .5 0 .5 0 .5-.2 .5-.2 .5 0 .5 0 .5 .1 .5-.2 .5-.7 .5-.4 .5 0 .5-.7 .5-2.5 .5-4.7 .5-5 .5-1.7 .5 2 .5 3.7 .5 2.6 .5 .6 .5-.6 .5 .3 .5 1.1 .5 1.8 .5 2 .5 1.3 .5 .6 .5 .2 .5 .4 .5 .4 .5 .1 .5 0 .5 .2 .5-.4 .5-.5 .5-.2 .5 .3 .5 .4 .5 .3 .5 0 .5-.4 .5-.1 .5 .4 .5 .1 .5-.3 .5 0 .5 .2 .5-.4 .5-.6 .5-.4 .5 .3 .5-.5 .5-1.8 .5-3.4 .5-4.4 .5-3.3 .3-.5 .2 .3 .5 2.6 .5 3.8 .5 1.9 .5-.4 .5-1.3 .5 .2 .5 1.8 .5 1.9 .5 1.4 .5 1.2 .5 .6 .5-.1 .5 .1 .5 .4 .5 .1 .5 .2 .5-.4 .5-.2 .5 .5 .5 .6 .5-.3 .5 0 .5 .1 .5 0 .5 .3 .5 0 .5-.3 .5-.6 .5-.4 .5 .1 .5 .6 .5 .4 .5 .4 .5 .1 .5-.3 .5-.1 .5 .3 .5 .1 .5-.4 .5 0 .5 0 .5 0 .5 .1 .5-.3 .5-.1 .5 .3 .5 0 .5-.1 .5 .1 .5 .1 .5 0 .5 .2 .5 .2 .5 .2 .5 0 .5-.3 .5-.3 .5-.1 .5 .3 .5 .5 .5-.4 .5 0 .5-.1 .5-.6 .5-.1 .5 .1 .5-.2 .5 0 .5 .4 .5 .5 .5 0 .5-.2 .5-.3 .5-.2 .5 .4 .5 0 .5-.3 .5 .1 .5 0 .5-.2 .5-.1 .5 0 .5 .1 .5 .4 .5 .2 .5-.1 .5-.2 .5 .2 .5 .2 .5-.5 .5 .3 .5 .1" fill="none" stroke="#008b80" stroke-width="3.1" stroke-linejoin="round" stroke-linecap="round"/>
</g>
<text x="2" y="42" font-family="'Liberation Serif', serif" font-weight="bold" font-size="50" fill="#000" textLength="59.2" lengthAdjust="spacingAndGlyphs">(a)</text>
<text x="113" y="42.6" font-family="'Liberation Serif', serif" font-weight="bold" font-size="23" fill="#000" textLength="72" lengthAdjust="spacingAndGlyphs">R (110)</text>
<text x="284.8" y="33.7" font-family="'Liberation Serif', serif" font-weight="bold" font-size="23" fill="#3f0e86" textLength="245.5" lengthAdjust="spacingAndGlyphs">R: Rutile (PDF#21-1276)</text>
<text x="285" y="70" font-family="'Liberation Serif', serif" font-weight="bold" font-size="23" fill="#3f0e86" textLength="197" lengthAdjust="spacingAndGlyphs">α-Ti (PDF#44-1294)</text>
<text x="272.3" y="148.7" font-family="'Liberation Serif', serif" font-weight="bold" font-size="23.6" fill="#000" textLength="74.3" lengthAdjust="spacingAndGlyphs" transform="rotate(-90 272.3 148.7)">R (101)</text>
<text x="310" y="190.3" font-family="'Liberation Serif', serif" font-weight="bold" font-size="23.6" fill="#000" textLength="74.3" lengthAdjust="spacingAndGlyphs" transform="rotate(-90 310 190.3)">R (200)</text>
<text x="350" y="185.3" font-family="'Liberation Serif', serif" font-weight="bold" font-size="23.6" fill="#000" textLength="74.3" lengthAdjust="spacingAndGlyphs" transform="rotate(-90 350 185.3)">R (111)</text>
<text x="392.4" y="190.3" font-family="'Liberation Serif', serif" font-weight="bold" font-size="23.6" fill="#000" textLength="74.3" lengthAdjust="spacingAndGlyphs" transform="rotate(-90 392.4 190.3)">R (210)</text>
<text x="546.8" y="121.3" font-family="'Liberation Serif', serif" font-weight="bold" font-size="23.6" fill="#000" textLength="74.3" lengthAdjust="spacingAndGlyphs" transform="rotate(-90 546.8 121.3)">R (211)</text>
<text x="582.1" y="177.8" font-family="'Liberation Serif', serif" font-weight="bold" font-size="23.6" fill="#000" textLength="74.3" lengthAdjust="spacingAndGlyphs" transform="rotate(-90 582.1 177.8)">R (220)</text>
<text x="669.4" y="171.3" font-family="'Liberation Serif', serif" font-weight="bold" font-size="23.6" fill="#000" textLength="74.3" lengthAdjust="spacingAndGlyphs" transform="rotate(-90 669.4 171.3)">R (002)</text>
<text x="698.5" y="172.3" font-family="'Liberation Serif', serif" font-weight="bold" font-size="23.6" fill="#000" textLength="74.3" lengthAdjust="spacingAndGlyphs" transform="rotate(-90 698.5 172.3)">R (310)</text>
<text x="266.1" y="279.8" font-family="'Liberation Sans', sans-serif" font-weight="bold" font-size="18.8" fill="#b4590a" textLength="41.6" lengthAdjust="spacingAndGlyphs">Ti(O)</text>
<text x="311.4" y="287.1" font-family="'Liberation Sans', sans-serif" font-weight="bold" font-size="18.8" fill="#b4590a" textLength="42.3" lengthAdjust="spacingAndGlyphs">Ti(O)</text>
<text x="484.8" y="276.6" font-family="'Liberation Sans', sans-serif" font-weight="bold" font-size="18.8" fill="#b4590a" textLength="42.3" lengthAdjust="spacingAndGlyphs">Ti(O)</text>
<text x="627" y="196.6" font-family="'Liberation Serif', serif" font-weight="bold" font-size="23" fill="#008b80" textLength="113.4" lengthAdjust="spacingAndGlyphs">800 °C 24 h</text>
<text x="630.6" y="294.5" font-family="'Liberation Serif', serif" font-weight="bold" font-size="23" fill="#a000d8" textLength="102" lengthAdjust="spacingAndGlyphs">800 °C 2 h</text>
<text x="630.7" y="383" font-family="'Liberation Serif', serif" font-weight="bold" font-size="23" fill="#ff2d9a" textLength="113.1" lengthAdjust="spacingAndGlyphs">650 °C 24 h</text>
<text x="634.5" y="474.2" font-family="'Liberation Serif', serif" font-weight="bold" font-size="23" fill="#008000" textLength="101.8" lengthAdjust="spacingAndGlyphs">650 °C 2 h</text>
<text x="630.5" y="557.6" font-family="'Liberation Serif', serif" font-weight="bold" font-size="23" fill="#0052f5" textLength="113.8" lengthAdjust="spacingAndGlyphs">500 °C 24 h</text>
<text x="631.2" y="627.7" font-family="'Liberation Serif', serif" font-weight="bold" font-size="23" fill="#fa3200" textLength="102.2" lengthAdjust="spacingAndGlyphs">500 °C 2 h</text>
<text x="637" y="688.1" font-family="'Liberation Serif', serif" font-weight="bold" font-size="23" fill="#000000" textLength="115.1" lengthAdjust="spacingAndGlyphs">As-received</text>
<text x="209.5" y="546.8" font-family="'Liberation Sans', sans-serif" font-weight="bold" font-size="21" fill="#560f8a" textLength="65.3" lengthAdjust="spacingAndGlyphs">Ti (100)</text>
<text x="267" y="726.6" font-family="'Liberation Sans', sans-serif" font-weight="bold" font-size="21" fill="#560f8a" textLength="64.9" lengthAdjust="spacingAndGlyphs">Ti (002)</text>
<text x="481" y="528.5" font-family="'Liberation Sans', sans-serif" font-weight="bold" font-size="21" fill="#560f8a" textLength="65.4" lengthAdjust="spacingAndGlyphs">Ti (102)</text>
<text x="633.3" y="523.4" font-family="'Liberation Sans', sans-serif" font-weight="bold" font-size="21" fill="#560f8a" textLength="64.9" lengthAdjust="spacingAndGlyphs">Ti (110)</text>
<text x="353" y="564.5" font-family="'Liberation Sans', sans-serif" font-weight="bold" font-size="21" fill="#560f8a" textLength="66.5" lengthAdjust="spacingAndGlyphs" transform="rotate(-90 353 564.5)">Ti (101)</text>
<g stroke="#000" stroke-width="2.2" fill="none">
<path d="M82 734.8V728.3M97 734.8V722.8M112 734.8V728.3M127.1 734.8V728.3M142.2 734.8V728.3M157.2 734.8V728.3M172.2 734.8V722.8M187.3 734.8V728.3M202.4 734.8V728.3M217.4 734.8V728.3M232.5 734.8V728.3M247.5 734.8V722.8M262.6 734.8V728.3M277.6 734.8V728.3M292.6 734.8V728.3M307.7 734.8V728.3M322.8 734.8V722.8M337.8 734.8V728.3M352.9 734.8V728.3M367.9 734.8V728.3M382.9 734.8V728.3M398 734.8V722.8M413.1 734.8V728.3M428.1 734.8V728.3M443.2 734.8V728.3M458.2 734.8V728.3M473.2 734.8V722.8M488.3 734.8V728.3M503.4 734.8V728.3M518.4 734.8V728.3M533.5 734.8V728.3M548.5 734.8V722.8M563.5 734.8V728.3M578.6 734.8V728.3M593.7 734.8V728.3M608.7 734.8V728.3M623.8 734.8V722.8M638.8 734.8V728.3M653.9 734.8V728.3M668.9 734.8V728.3M684 734.8V728.3M699 734.8V722.8M714.1 734.8V728.3M729.1 734.8V728.3M744.1 734.8V728.3"/>
<rect x="66.7" y="4.8" width="692.6999999999999" height="730.0" stroke-width="2.5"/>
</g>
<text x="97" y="767.8" font-family="'Liberation Sans', sans-serif" font-weight="bold" font-size="25" fill="#000" text-anchor="middle">25</text>
<text x="172.2" y="767.8" font-family="'Liberation Sans', sans-serif" font-weight="bold" font-size="25" fill="#000" text-anchor="middle">30</text>
<text x="247.5" y="767.8" font-family="'Liberation Sans', sans-serif" font-weight="bold" font-size="25" fill="#000" text-anchor="middle">35</text>
<text x="322.8" y="767.8" font-family="'Liberation Sans', sans-serif" font-weight="bold" font-size="25" fill="#000" text-anchor="middle">40</text>
<text x="398" y="767.8" font-family="'Liberation Sans', sans-serif" font-weight="bold" font-size="25" fill="#000" text-anchor="middle">45</text>
<text x="473.2" y="767.8" font-family="'Liberation Sans', sans-serif" font-weight="bold" font-size="25" fill="#000" text-anchor="middle">50</text>
<text x="548.5" y="767.8" font-family="'Liberation Sans', sans-serif" font-weight="bold" font-size="25" fill="#000" text-anchor="middle">55</text>
<text x="623.8" y="767.8" font-family="'Liberation Sans', sans-serif" font-weight="bold" font-size="25" fill="#000" text-anchor="middle">60</text>
<text x="699" y="767.8" font-family="'Liberation Sans', sans-serif" font-weight="bold" font-size="25" fill="#000" text-anchor="middle">65</text>
<text x="333.4" y="814" font-family="'Liberation Serif', serif" font-weight="bold" font-size="33" textLength="158.2" lengthAdjust="spacingAndGlyphs">2<tspan font-weight="normal">θ</tspan> (degree)</text>
<text x="36" y="500.3" font-family="'Liberation Serif', serif" font-weight="bold" font-size="34.3" fill="#000" textLength="214.5" lengthAdjust="spacingAndGlyphs" transform="rotate(-90 36 500.3)">Intensity (a.u.)</text>
<rect x="64.9" y="842.6" width="691.0" height="727.8000000000001" fill="url(#bgB)"/>
<g stroke="#000" stroke-width="1.5" stroke-dasharray="4 2.5" fill="none">
<line x1="138.7" y1="1030" x2="138.7" y2="1573"/>
<line x1="192.8" y1="1081" x2="192.8" y2="1566"/>
<line x1="717" y1="1174" x2="720.3" y2="1562"/>
<line x1="733" y1="1226" x2="735.7" y2="1569"/>
</g>
<g clip-path="url(#cB)">
<path d="M65.5 1443.4l1.4-1.4 1.4 .7 1.4-2.2 1.4-.5 1.4 2.9 1.4-3.5 1.4 5.7 1.4 .6 1.4-10.4 1.4 4.3 1.4 4.2 1.4-.2 1.4-.2 1.4 .7 1.4 .8 1.4 .2 1.4 2.1 1.4-4 1.4 1.9 1.4-5.7 1.4 3.4 1.4-2.5 1.4 6 1.4 2.2 1.4-4.2 1.4-4.2 1.4 2.7 1.4 .3 1.4 .4 1.4 2.1 1.4-.4 1.4-8.3 1.4 9.3 1.4-4.3 1.4-.2 1.4 4.6 1.4-3.9 1.4-2.6 1.4 .1 1.4 3.2 1.4 2 1.4 1.3 1.4-3.9 1.4-.7 1.4 4.8 1.4-4.8 1.4 4.4 1.4-2.9 1.4-.2 1.4-1.5 1.4-5.5 .4-6.6 .7-5.7 .7 6.6 1 8.8 1.4 4.7 1.4-.1 1.4-.4 1.4 .3 1.4 .2 1.4 4.7 1.4-3.8 1.4-1.1 1.4 .9 1.4 2.4 1.4-1.8 1.4 .3 1.4 0 1.4 1.1 1.4 .8 1.4 .3 1.4-4.6 1.4 1.5 1.4-3.4 1.4 8.1 1.4 .9 1.4 .6 1.4-2.4 1.4 2.5 1.4-2.5 1.4 0 1.4-3.1 1.4 1.9 1.4 .7 1.4 3.6 1.4 1.9 1.4-4.7 1.4 2.2 1.4 .1 1.4-2.2 1.4-2.3 1.4-1.9 1.1-7.5 .7 .5 .7 1.5 1.7 7.5 1.4 3.8 1.4 4 1.4-1 1.4 5 1.4-5.3 1.4 4.5 1.4 1.4 1.4-2.2 1.4-1.2 1.4 5.6 1.4-3.2 1.4 3 1.4-.4 1.4-2.2 1.4-.4 1.4 1.9 1.4-1.8 1.4-3.4 1.4 2.1 1.4 .5 1.4-1.2 1.4-.5 1.4-1.1 1.4-.4 1.4-2.2 1.4-1.6 1.4 5.5 1.4-4.4 1.4 1.5 1.4-4.3 1.4 3.4 1.4-2.7 1.4 8.3 1.4-9.4 1.4-.1 1.4 4 1.4 .2 1.4-7.7 1.4 5.1 1.4 1.2 1.4-5.1 1.4 4 1.4-3 1.4-1.4 1.4 1.2 1.4-.5 1.4-2.4 1.4 8 1.4-6.5 1.4-.9 1.4 3.3 1.4-2.4 1.4 3 1.4-4 1.4 1.1 1.4-.8 1.4-.2 1.4-1.1 1.4 0 1.4 3.7 1.4-5.6 1.4 0 1.4 .2 1.4 1.7 1.4-.6 1.4 .9 1.4-5.5 1.4 3.3 1.4-1.2 1.4-.6 1.4 .7 1.4-5.1 1.4 4.8 1.4-.6 1.4-3.9 1.4 2.8 1.4 3.4 1.4-4.7 1.4 1.9 1.4-2.1 1.4-1.7 1.4-.5 1.4 .9 1.4 3.6 1.4-1.4 1.4-3.8 1.4 3.8 1.4-2.8 1.4-1.4 1.4 2.4 1.4-3.2 1.4-1.6 1.4 6.4 1.4-7.3 1.4 5.3 1.4-4.9 1.4 3.3 1.4-.6 1.4-.7 1.4-4.1 1.4 4.6 1.4 0 1.4-2.1 1.4 1.8 1.4 2.2 1.4-4 1.4 2.1 1.4-3.3 1.4 3.5 1.4 .5 1.4 4.2 1.4-3.7 1.4-1.1 1.4 2.2 1.4-5.5 1.4 4.6 1.4-3.7 1.4-.2 1.4 3.8 1.4-2 1.4 2.4 1.4-6.3 1.4 3.8 1.4-1.8 1.4 .5 1.4-3.8 1.4 6.4 1.4-1.7 1.4-2.7 1.4-.9 1.4 1.1 1.4 5 1.4-3.4 1.4-.6 1.4 1.8 1.4-1.1 1.4 .5 1.4 1.2 1.4-.9 1.4 1.3 1.4-4.6 1.4 2.9 1.4-.8 1.4 1.1 1.4-.3 1.4-1.3 1.4 .7 1.4 3 1.4-3.3 1.4-1.5 1.4 4.2 1.4 .9 1.4-2.7 1.4 .9 1.4-2.1 1.4 1.5 1.4 3 1.4-.6 1.4-1.4 1.4-.9 1.4-2.4 1.4 5.2 1.4 1.1 1.4 2.1 1.4 2.9 1.4-2.9 1.4 1.8 1.4-4.2 1.4 5.7 1.4-.3 1.4 1.6 1.4-1.1 1.4 1.9 1.4 5 1.4-2.3 1.4 8.5 1.4 6.6 1.4 1.5 1.4 4.3 1.4 3.4 1.4-36.3 .4-29.2 .7-34.4 .7 32.5 1 61 1.4 13.4 1.4-.7 1.4 1.6 1.4-.4 1.4 4.7 1.4 3 1.4-5.3 1.4 4.7 1.4 1 1.4-1.9 1.4 .8 1.4-4.1 1.1-9.2 .7-1.7 .7 5 1.7 13 1.4 3.2 1.4-.3 1.4-1.5 1.4 4.5 1.4 .1 1.4-1.8 1.4 5.3 1.4-.2 1.4 1.2 1.4 3.9 1.4-5 1.4-10.1 1-13.2 .4 3.2 1.4 25.5 1.4 7.5 1.4 0 1.4-2.2 1.4 .6 1.4 1.5 1.4 .8 1.4-4.5 1.4 2.2 1.4-.9 1.4-1.8 1.4 1.5 1.4-1.9 1.4 .9 1.4 2.2 1.4-1.5 1.4 0 1.4-.5 1.4-.5 1.4 .4 1.4-2.7 1.4 .6 1.4 1.1 1.4-2 1.4 0 1.4 1.6 1.4 .1 1.4-2.7 1.4-.5 1.4 1.3 1.4-.7 1.4-1.3 1.4 1.1 1.4-.3 1.4-.8 1.4 2.9 1.4-2 1.4-.9 1.4-.1 1.4 1.9 1.4-2.3 1.4-2.4 1.4 .9 1.4-.5 1.4-1 1.4 .6 1.4-.3 1.4-.6 1.4-.8 1.4 1.3 1.4-2.9 1.4 2.5 1.4-1.2 1.4 .1 1.4-3.1 1.4 4.3 1.4-4 1.4 .7 1.4 1.5 1.4-1.6 1.4 0 1.4-2.3 1.4 2.5 1.4 2.6 1.4 2.4 1.4 2 1.4 6.2 1.4 5.6 1.4 1.2 1.4-.7 1.4-24.4 .4-23.5 .7-19.3 .7 21.9 1 44.2 1.4 8.9 1.4 4 1.4 1.8 1.4-.3 1.4 .9 1.4-1.1 1.4 .9 1.4-.3 1.4 1.4 1.4-.8 1.4-1.4 1.4 1.2 1.4 .4 1.4-.8 1.4 2.6 1.4-1 1.4 .5 1.4-1.7 1.4 .5 1.4 1.6 1.4-2.6 1.4 2.1 1.4-.3 1.4-.6 1.4 .7 1.4-1.2 1.4 1.5 1.4-1.5 1.4 0 1.4 3 1.4-2.3 1.4-1.5 1.4 3.6 1.4-2 1.4-3 1.4 4 1.4 1.2 1.4-.6 1.4 1.6 1.4-2 1.4 .9 1.4-1.8 1.4 1.4 1.4 1.7 1.4-1.1 1.4-.3 1.4-2.3 1.4 1.9 1.4-1 1.4 2.5 1.4-1.7 1.4 1.4 1.4-1.5 1.4 3.4 1.4-3.4 1.4 1.6 1.4 2.9 1.4-2.7 1.4-1.1 1.4 1.8 1.4 .5 1.4-.1 1.4-3.1 1.4 2.6 1.4-2.6 1.4 4.7 1.4-2 1.4-.5 1.4 1.3 1.4-.1 1.4-1.8 1.4 3.3 1.4-2 1.4-1.7 1.4 3.7 1.4 .2 1.4-.2 1.4-.7 1.4-1.5 1.4 2.1 1.4 1.1 1.4-1.1 1.4 1 1.4-2.6 1.4 2.1 1.4 0 1.4-2.7 1.4-.2 1.4 .9 1.4-2.2 1-2.3 .4-.1 1.4 5.4 1.4 1.3 1.4 .6 1.4 .9 1.4 .3 1.4-.4 1.4 .6 1.4-.6 1.4 .7 1-4.5 .4 1.3 1-.4 .4 1.9 1.4 1.8 1.4 1.2 1.4 1 1.4 .2 1.4-.3 1.4-.2 1.4 1.8 1.4 .5 1.4 .8 1.4 1.2 1.4-1.4 1.4-1.5 1.4 2.5" fill="none" stroke="#fa3200" stroke-width="2.8" stroke-linejoin="round"/>
<path d="M65.5 1331.9l1.4 1.8 1.4 7.4 1.4-1.4 1.4-3.8 1.4 .1 1.4 1.7 1.4-5.2 1.4 7.1 1.4-2.6 1.4 7 1.4-9.2 1.4 6.6 1.4-5.3 1.4 5.5 1.4-6.3 1.4 5.4 1.4-3.6 1.4-1.2 1.4 2.2 1.4 2 1.4-.2 1.4 3.8 1.4-2.4 1.4-11 1.4 7.2 1.4-5 1.4 5.1 1.4 3.3 1.4-6.2 1.4 .5 1.4 4.3 1.4-1.4 1.4 6 1.4-4 1.4 .7 1.4 5.9 1.4-4.1 1.4 4.7 1.4-.1 1.4 7.4 1.4 5.8 1.4 4.4 1.4-2.1 1.4-.7 1.4 1.2 1.4-.7 1.4 6.2 1.4 3.2 1.4-13.2 1.4-1 1.4 5.1 .4-14.1 .7 1.5 .7 .7 1 16.9 1.4 3.3 1.4-.6 1.4 3.3 1.4-2.1 1.4 1.2 1.4 3.6 1.4-2.8 1.4-6 1.4-.9 1.4 1.3 1.4-.4 1.4 .5 1.4-2.6 1.4 3.5 1.4-2.4 1.4 .6 1.4-1.6 1.4 1.5 1.4-6.2 1.4 8.5 1.4-4.4 1.4 0 1.4 .1 1.4 1.1 1.4-1.5 1.4-2 1.4-1.7 1.4-5.1 1.4 5.5 1.4-2.1 1.4 2.6 1.4 12 1.4-10.4 1.4 9.2 1.4 6.7 1.4-.7 1.4-8.6 1.1-29.1 .7-4.9 .7 15.8 1.7 31.7 1.4 12.5 1.4-1.8 1.4 2.5 1.4 3.4 1.4-2.3 1.4 .9 1.4-3 1.4 1.6 1.4-1.8 1.4 1.9 1.4-5.8 1.4-.7 1.4 5.8 1.4-1.2 1.4-4.3 1.4 1.9 1.4-3.1 1.4 9.5 1.4-12 1.4 10 1.4-8.6 1.4 3.5 1.4-2.6 1.4-.8 1.4 3.7 1.4-.8 1.4-4 1.4-2.5 1.4 9.1 1.4-2.6 1.4-4.5 1.4-1.9 1.4 1.5 1.4-1.2 1.4 3.1 1.4-7.3 1.4 2.7 1.4-3.1 1.4 6.3 1.4 1.1 1.4-6.5 1.4 1.5 1.4 2.3 1.4-5.9 1.4-2.5 1.4 5.9 1.4-2.4 1.4-3 1.4 4.7 1.4-4.6 1.4-7.1 1.4 6.2 1.4-2 1.4 5.6 1.4-6.8 1.4-1.2 1.4 1.4 1.4-1.3 1.4-6 1.4 4.3 1.4-2.1 1.4 4.9 1.4 2.5 1.4-11.9 1.4-.2 1.4-.3 1.4 0 1.4-.8 1.4 1.7 1.4 2.7 1.4-8.3 1.4-1.5 1.4-1.6 1.4 8.8 1.4 0 1.4-9.8 1.4-1 1.4 5 1.4 2.4 1.4-.9 1.4-3.3 1.4 1 1.4-1.8 1.4-3.5 1.4 7.4 1.4-6.6 1.4-4 1.4 1.6 1.4-4 1.4 4.6 1.4 2.9 1.4-8 1.4 7.2 1.4 2.6 1.4-6 1.4-5.4 1.4 .5 1.4 1.2 1.4-3.5 1.4-.4 1.4 2.7 1.4-.2 1.4 2 1.4-6.3 1.4 9.4 1.4-3.1 1.4-1 1.4-5.4 1.4 7.1 1.4-7.1 1.4 6.4 1.4-2.8 1.4-6.8 1.4 .9 1.4 7 1.4-3.3 1.4-4.2 1.4 .7 1.4-.5 1.4-3.6 1.4 1.4 1.4-2 1.4 .3 1.4 2.3 1.4-5 1.4 4.9 1.4-2.4 1.4 1.6 1.4-.1 1.4 .7 1.4-2.5 1.4-.3 1.4-3.3 1.4 1.8 1.4-5.2 1.4 1.6 1.4 2.6 1.4-3.1 1.4 1.1 1.4-5.4 1.4 7.3 1.4-6.8 1.4 2.6 1.4-1.9 1.4 2.5 1.4-4.7 1.4-2.5 1.4-3.5 1.4 4.6 1.4-3.4 1.4 5 1.4 2.4 1.4-12.3 1.4 2.5 1.4 4.5 1.4 2.5 1.4-3.6 1.4-.5 1.4 .1 1.4-.4 1.4 3.1 1.4-1.4 1.4-4.1 1.4 4.3 1.4 4.4 1.4-2.4 1.4-13.1 .7-7.7 .7 8.8 1.4 24.1 1.4 1 1.4 2.9 1.4 6.2 1.4 7.3 1.4 11.5 1.4-1.1 1.4 8.7 1.4 1.5 1.4-4.1 1.4 10.8 1.4-5.7 1.4-92 .4-76.7 .7-79.6 .7 81.9 1 154.6 1.4 36.9 1.4 3 1.4-4.4 1.4 5.8 1.4-.1 1.4 1.8 1.4 3.2 1.4-2.8 1.4 1.3 1.4 5.1 1.4-7.6 1.4 4.2 1.4 2.6 1.4-3.5 1.4 2 1.4-1 1.4 3.9 1.4-1.3 1.4 3.6 1.4 .9 1.4 2.5 1.4 3.9 1.4 11.4 1.4 10.2 1.4-4 .9-13.7 .5-9.2 .9 14.4 .5 8.4 1.4-63.8 .7-43.4 .7 51.6 1.4 97 1.4 10.6 1.4 2 1.4 1.8 1.4 .1 1.4 1.6 1.4-1.4 1.4 1.2 1.4-1.5 1.4 1.3 1.4 1.4 1.4-2.4 1.4 1.9 1.4-2.6 1.4 .8 1.4 .2 1.4 2.3 1.4-3.3 1.4 3.1 1.4-4.5 1.4 1.8 1.4-.6 1-10 .4-6.9 1 3.7 .4 8.2 1.4 3.3 1.4 3.4 1.4-1.7 1.4 .9 1.4 3.7 1.4-1.2 1.4-1.2 1.4-3.6 1.4 2.7 1.4-.5 1.4-.3 1.4 2.3 1.4-5 1.4 3.2 1.4-.4 1.4-1.5 1.4 3.9 1.4-5.4 1.4 1.3 1.4-1.7 1.2-12.6 .7-3.2 .7 4.6 1.6 11.4 1.4 .3 1.4-1 1.4-1.1 1.4-4.5 1.4 3.4 1.4-1.7 1.4 2.1 1.4-.2 1.4 .8 1.4-3 1.4-.4 1.4-3.6 1.4 1.2 1.4-2.8 1.4 2.8 1.4-4 1.4 1.1 1.4 2.2 1.4 3.5 1.4 4.3 1.4 .7 1.4-.8 1.4-42.5 .4-25.2 .7-34.6 .7 34.4 1 60.5 1.4 6.7 1.4 4.3 1.4 1.9 1.4 2.6 1.4-2.6 1.4 1.5 1.4-1.7 1.4 2.1 1.4-2.9 1.4 3.3 1.4-6.2 1.4 1.7 1.4 6 1.4-2.7 1.4-1.8 1.4 5 1.4-1.9 1.4 .1 1.4-2.6 1.4 1.7 1.4-.3 1.4-3.5 1.4 3.6 1.4-1.3 1.4 2.3 1.4 0 1.4-3.2 1.4 0 1.4 1.2 1.4 .7 1.4-1.7 1.4 .4 1.4 1.1 1.4-.3 1.4 1.1 1.4-1.5 1.4-1.9 1.4-1.5 1.4 4.2 1.4-2 1.4 0 1.4 0 1.4-2.1 1.4 1.8 1.4-3.6 1.4 3.5 1.4-.8 1.4 4.4 1.4-2.3 1.4-1.2 1.4 .6 1.4 .9 1.4-2.5 1.4 .8 1.4-.3 1.4 4.6 1.4-4 1.4-3.3 1.4 4.4 1.4 2.9 1.4-5.8 1.4 7.2 1.4-5.9 1.4 1.7 1.4-2.6 1.4 .4 1.4-1.6 1.4 .2 1.4-1.8 1.4 5.3 1.4-3.8 1.4 2.5 1.4-.2 1.4-1.6 1.4 1.1 1.4-.3 1.4-.7 1.4 .8 1.4 0 1.4-1.9 1.4-.5 1.4 .7 1.4 1.5 1.4 2 1.4 .1 1.4-2 1.4 .9 1.4-1.2 1.4 2.3 1.4-10.2 1-10 .4 1.7 1.4 19 1.4 6.3 1.4-3.9 1.4 2.9 1.4-.1 1.4 3.3 1.4 2.1 1.4-3.2 1.4-8 1-14.4 .4-8.5 1 5.5 .4 13 1.4 15.5 1.4-1.8 1.4 6 1.4 .1 1.3-3.8 .7-3.9 .7 3.2 1.5 5.6 1.4 2.9 1.4-1.6 1.4 4.9 1.4-1 1.4-3.5 1.4 7.2" fill="none" stroke="#0052f5" stroke-width="2.8" stroke-linejoin="round"/>
<path d="M65.5 1261.7l1.4-2.4 1.4 2.2 1.4-6.4 1.4 6.7 1.4-8.8 1.4 4.8 1.4 7.9 1.4-.4 1.4-5.3 1.4-2.1 1.4 6.4 1.4-3.3 1.4 .9 1.4 1.3 1.4-5.6 1.4 6.2 1.4-9.7 1.4 11.9 1.4-10.1 1.4 3.2 1.4-.2 1.4 4.7 1.4 0 1.4-1.3 1.4 .6 1.4-.2 1.4-1.8 1.4-6.1 1.4-1.4 1.4 .1 1.4 7.5 1.4-.6 1.4 .3 1.4 1.2 1.4-1.6 1.4-2.5 1.4-1.7 1.4-.5 1.4 16 1.4 4.5 1.4-2.8 1.4 7.8 1.4 6.5 1.4 5.5 1.4-6.5 1.4 3.4 1.4 4.1 1.4-8.8 1.4 4 1.4 3.1 1.4-8 .4 4.9 .7-8.9 .7 3.7 1 6.8 1.4 9.5 1.4-1 1.4-4.2 1.4-.1 1.4-3.9 1.4 4.2 1.4 2.7 1.4-.2 1.4-2.1 1.4 .2 1.4-5.5 1.4-.3 1.4 4.9 1.4-3.2 1.4-4.9 1.4 3.7 1.4 .4 1.4-1.1 1.4-2.7 1.4-2.8 1.4 2.3 1.4 3.6 1.4-5.8 1.4-3.5 1.4 2.7 1.4-6 1.4 4.2 1.4-2.5 1.4 3.5 1.4-3.6 1.4 5.9 1.4 8 1.4-4.7 1.4 2.9 1.4 9.3 1.4-1.2 1.4-10.9 1.1-28.2 .7-4 .7 10.4 1.7 31.7 1.4 14.3 1.4 5.8 1.4 6.4 1.4-2.4 1.4 2.7 1.4 6.8 1.4-6.4 1.4 1.8 1.4 .7 1.4 .3 1.4-3 1.4-4.3 1.4 6.5 1.4-5.4 1.4-.9 1.4 7.8 1.4-4.3 1.4-7 1.4 1.3 1.4 .2 1.4-2.3 1.4-4.4 1.4 8.4 1.4-.7 1.4-2.3 1.4-2.7 1.4 1.4 1.4 .8 1.4-6.1 1.4 1.7 1.4-1.3 1.4 3.6 1.4-2.1 1.4-5.7 1.4 1.6 1.4 7.4 1.4-9.7 1.4 3.1 1.4-3.2 1.4 5.7 1.4-5 1.4-1.8 1.4-3 1.4 2.5 1.4 2.9 1.4-1.1 1.4-7.4 1.4 8.8 1.4-6.8 1.4-3.5 1.4 3.1 1.4-3.2 1.4-.7 1.4-1 1.4 1 1.4-2.1 1.4-4.8 1.4 6.6 1.4-4.3 1.4 4.9 1.4-2.9 1.4-.6 1.4-2.2 1.4 2.9 1.4-6.2 1.4-3 1.4 3.7 1.4-11 1.4 7 1.4 1.2 1.4-2.9 1.4 4.7 1.4-2.6 1.4-2.7 1.4-2.5 1.4 4.1 1.4-6.6 1.4 0 1.4 3.1 1.4-1.3 1.4 4 1.4-8.3 1.4-6.3 1.4 7.7 1.4 1.6 1.4-5.2 1.4 5.3 1.4 .3 1.4-8.5 1.4 .2 1.4-2.9 1.4 5.5 1.4 .1 1.4-.8 1.4-6.5 1.4 1.2 1.4-2.6 1.4-1.1 1.4 .5 1.4-1.2 1.4 4.2 1.4 1.6 1.4 .2 1.4-2.5 1.4-2.6 1.4 1.8 1.4 1.5 1.4-3.3 1.4 .7 1.4-1.6 1.4-1.1 1.4 1.4 1.4-4.2 1.4 6.7 1.4-9 1.4 6.2 1.4-6.4 1.4 9.1 1.4-2.6 1.4-5.9 1.4 .7 1.4-2.6 1.4 3.1 1.4 1.1 1.4 6.7 1.4-13.4 1.4 8.2 1.4-6.4 1.4 2.4 1.4 1.6 1.4-1.6 1.4-.8 1.4-2.6 1.4 .1 1.4 0 1.4 3 1.4-9.3 1.4 2.7 1.4-3 1.4 .4 1.4 0 1.4 5.8 1.4 2.9 1.4-3.1 1.4-8.9 1.4 3.6 1.4-4.5 1.4 4.7 1.4 2.2 1.4-2.7 1.4 .4 1.4-3.9 1.4-6.5 1.4-.6 1.4 5.7 1.4 1.7 1.4 1.8 1.4-5.9 1.4 .9 1.4 0 1.4 2.3 1.4-2 1.4-1.8 1.4 8.9 1.4-.1 1.4 .9 1.4-18.6 .7-2 .7 2.9 1.4 16.9 1.4 9.5 1.4 2.1 1.4 8.4 1.4 7.9 1.4 .1 1.4 12.2 1.4-.3 1.4 11.6 1.4 .3 1.4 10 1.4-2 1.4-87.9 .4-73 .7-93.1 .7 96.1 1 146.2 1.4 34.6 1.4 5.5 1.4 .1 1.4 1.6 1.4-1 1.4 5.8 1.4-2.4 1.4 3.8 1.4-4.1 1.4 8.1 1.4-5.3 1.4 6.2 1.4-3.2 1.4 3.1 1.4-.9 1.4 2.6 1.4-.9 1.4 3.6 1.4-.8 1.4 .6 1.4 9.3 1.4 2.5 1.4 12.6 1.4 5.3 1.4-7.7 .9-18.4 .5-11 .9 15.6 .5 8.6 1.4-69 .7-42.8 .7 55.5 1.4 115.3 1.4 6.2 1.4 6.6 1.4 1.8 1.4-1.8 1.4-2.1 1.4 3.1 1.4 0 1.4 1 1.4-1.7 1.4-1.4 1.4 1.7 1.4-1.3 1.4 4.4 1.4-4.2 1.4 .1 1.4 .9 1.4-2 1.4 1.2 1.4 .3 1.4-1 1.4-3 1-11.7 .4-7.4 1 3.1 .4 8.6 1.4 11.8 1.4-1.6 1.4 1.4 1.4-.2 1.4 1 1.4-1.2 1.4 .1 1.4-1.2 1.4 1.9 1.4-2.1 1.4 4.3 1.4-2.9 1.4-.4 1.4 1.6 1.4-1.5 1.4 .3 1.4-.3 1.4-1.5 1.4-.8 1.4-.7 1.2-2.3 .7-5.6 .7 2.7 1.6 5.1 1.4 1.8 1.4 1.9 1.4-5.1 1.4 2.1 1.4-1 1.4-1 1.4 1 1.4-3.3 1.4 3.1 1.4-1.3 1.4-2.4 1.4 3.8 1.4-2.9 1.4-1.2 1.4-6 1.4 2.1 1.4 1.5 1.4 3.9 1.4 3 1.4-3.7 1.4 4.3 1.4-2.3 1.4-37.1 .4-29.8 .7-32.2 .7 32.5 1 55.4 1.4 14.1 1.4 3.4 1.4-.2 1.4 1.6 1.4-2.7 1.4 6.4 1.4-1.7 1.4-.8 1.4-3.3 1.4-1.4 1.4 2.1 1.4 1.1 1.4 4 1.4-1.5 1.4-3 1.4 2.8 1.4 .1 1.4-2 1.4 1.9 1.4-1.4 1.4-1.6 1.4-.9 1.4 1.7 1.4 1.8 1.4-3.8 1.4-.5 1.4 3.6 1.4-5.4 1.4 7.4 1.4-3.7 1.4 1.9 1.4 1.9 1.4-5.5 1.4 .7 1.4 5.4 1.4-4.2 1.4 .3 1.4 .5 1.4 1.4 1.4 .4 1.4-2 1.4-.7 1.4 .4 1.4 .6 1.4 1.6 1.4-1.9 1.4 2.7 1.4-4.4 1.4 2.3 1.4 2 1.4-.8 1.4-1.6 1.4-2 1.4 .3 1.4 .9 1.4 .8 1.4-1 1.4-2 1.4 1.2 1.4 2 1.4 .6 1.4-3.7 1.4 1.7 1.4-2.2 1.4 1.8 1.4 6.7 1.4-5.7 1.4-.7 1.4-.4 1.4-1 1.4-1.1 1.4 3 1.4-.4 1.4 2.8 1.4-5.1 1.4 3.4 1.4 1.5 1.4-5.4 1.4 4.2 1.4-3.7 1.4 3.5 1.4 1.5 1.4-2.5 1.4 .5 1.4-1.7 1.4 1.6 1.4 1.2 1.4-1.9 1.4 .7 1.4-8.1 1-10 .4-1.1 1.4 21.8 1.4 2 1.4 2.9 1.4 1.8 1.4-.5 1.4 2.3 1.4-3.2 1.4 1.1 1.4-5.3 1-19.7 .4-9 1 9.3 .4 9.5 1.4 17.9 1.4 1.2 1.4 2.7 1.4-1.2 1.3-2.6 .7-3.9 .7-.3 1.5 9.5 1.4-.9 1.4 4.8 1.4 1.6 1.4-1.6 1.4 1.5 1.4-2.3" fill="none" stroke="#008000" stroke-width="2.8" stroke-linejoin="round"/>
<path d="M65.5 1191.6l1.4 5.6 1.4 1 1.4-4.2 1.4 5.3 1.4 .7 1.4 1.1 1.4 3 1.4-2.4 1.4-3.9 1.4 1.5 1.4 1.7 1.4-5.4 1.4 7.7 1.4-1.3 1.4-3.7 1.4-1.4 1.4 14.6 1.4-9.7 1.4 .3 1.4 2.8 1.4-2.7 1.4-2.5 1.4 1.6 1.4-5.3 1.4 5.3 1.4-7.3 1.4 6.4 1.4 .4 1.4-6 1.4 12.6 1.4-8.8 1.4 8.4 1.4-4 1.4 4.1 1.4-1.7 1.4 11.7 1.4-3.4 1.4 3.9 1.4-1.2 1.4 2 1.4 .4 1.4 1 1.4 5.1 1.4 .8 1.4 1.3 1.4-1.7 1.4 5.8 1.4 5.2 1.4-3.6 1.4 1.7 1.4-8.8 .4-7.9 .7-5 .7 5.4 1 10.7 1.4 1.9 1.4 5.4 1.4-6.5 1.4-2.5 1.4 9.6 1.4-3.2 1.4 .5 1.4 8.2 1.4-4.1 1.4-3.5 1.4 .6 1.4-3.3 1.4 2.2 1.4-5.7 1.4-.9 1.4 .2 1.4 6.2 1.4-.7 1.4-8.2 1.4 4.7 1.4-5.5 1.4 3 1.4-5.7 1.4 3 1.4-4.6 1.4-1.7 1.4-.3 1.4-.5 1.4-2.9 1.4-.5 1.4 12.1 1.4-4.8 1.4-2.7 1.4 3.4 1.4 3.1 1.4 7.8 1.4-7.7 .5-18.3 .7 1.2 .7 3.4 .9 26.5 1.4 10.6 1.4 5.2 1.4 8 1.4 5.5 1.4 2.4 1.4-5.2 1.4-3.1 1.4 .3 1.4-2.9 1.4 11.1 1.4-7.2 1.4 .4 1.4-.5 1.4 5.4 1.4-9.1 1.4 5.1 1.4-3.6 1.4-2.1 1.4-6.5 1.4 8.7 1.4-6.1 1.4 .3 1.4 1.6 1.4-1.1 1.4 2.8 1.4-6.6 1.4 2.1 1.4-.2 1.4-1.5 1.4 1.5 1.4-3.7 1.4 4.1 1.4-6.9 1.4-3.1 1.4 4 1.4 3.4 1.4-6.3 1.4-1 1.4 .3 1.4 1 1.4-1.7 1.4 .9 1.4-7.3 1.4 10 1.4-3.7 1.4-5.4 1.4 6.7 1.4-3.6 1.4 2.8 1.4-9.3 1.4 8.7 1.4-5.9 1.4-7.5 1.4 8.7 1.4-4.1 1.4-2.9 1.4 2.1 1.4-6.3 1.4 7.7 1.4-3.2 1.4-.7 1.4 4.9 1.4-5.1 1.4-2.9 1.4-1.5 1.4 2.3 1.4 3.2 1.4-6 1.4-2.1 1.4 5.9 1.4-3.5 1.4-.8 1.4 6.3 1.4-11.4 1.4 4.1 1.4-7.1 1.4 4.3 1.4 2.3 1.4 1.2 1.4-8.5 1.4 6.4 1.4-.8 1.4-3.5 1.4 7.9 1.4-8.7 1.4-3.2 1.4 3.9 1.4-7.9 1.4 10.9 1.4-2.3 1.4-4.9 1.4 2.9 1.4-.6 1.4 4.2 1.4-8.7 1.4-2.6 1.4-2.9 1.4 5.4 1.4-4.6 1.4 4.2 1.4 1.6 1.4-3.2 1.4-2 1.4 6.6 1.4-4.9 1.4 1 1.4 2 1.4-7.8 1.4 .9 1.4 10.9 1.4-9.2 1.4-3.3 1.4 2.3 1.4-1.5 1.4-2.5 1.4 2.3 1.4 .9 1.4-.3 1.4 1.4 1.4-7.8 1.4 .4 1.4 7.1 1.4-4.4 1.4 5.1 1.4-3.4 1.4-6 1.4 6 1.4-5.5 1.4 3.8 1.4 2.8 1.4 2.6 1.4-7.6 1.4 2.2 1.4-1.8 1.4 1.2 1.4-11.4 1.4 6.7 1.4 1.9 1.4 .1 1.4-4.4 1.4 4.8 1.4 .5 1.4-3.8 1.4-1.4 1.4-.9 1.4 1.3 1.4 3 1.4 .6 1.4-6.9 1.4-1.9 1.4 0 1.4 5.5 1.4-3 1.4-.1 1.4 .2 1.4-.8 1.4-2.1 1.4-3.4 1.4 1 1.4 2 1.4 .4 1.4-2.7 1.4 2.2 1.4 8.3 1.4-4 1.4 3.5 1.4-1.6 1.4-13 .7-7.4 .7 9.9 1.4 13 1.4 7.9 1.4-4.6 1.4 8 1.4 9 1.4 3 1.4 8.9 1.4 9.4 1.4 .1 1.4 11.5 1.4 4.8 1.4 7.1 1.4-92 .4-73.7 .7-82.1 .7 84 1 150.1 1.4 32.8 1.4 6.1 1.4 9.2 1.4-.1 1.4 1.3 1.4-2 1.4-.5 1.4 .5 1.4 .5 1.4-2.9 1.4 5.6 1.4 1.5 1.4-1.7 1.4-.8 1.4 1.7 1.4 .8 1.4 .6 1.4 3.6 1.4-4.2 1.4 7 1.4 5 1.4 2.8 1.4 3.6 1.4 2.1 1.4-3.3 .9-13.8 .5-5.5 .9 5.8 .5 11.8 1.4-74.6 .7-41.6 .7 60.2 1.4 115.4 1.4 9.8 1.4-1.3 1.4 3.4 1.4-2.1 1.4 .1 1.4 2 1.4-1.1 1.4 3.3 1.4 .8 1.4-2.1 1.4 .3 1.4-.2 1.4-.1 1.4 .6 1.4 .3 1.4-1.4 1.4-.6 1.4 .3 1.4 1.9 1.4-2.4 1.4-.3 1-16.7 .4-3.3 1 1.7 .4 7.8 1.4 11.6 1.4 .7 1.4-.9 1.4 3.6 1.4-3.2 1.4 .4 1.4-1.5 1.4 3.6 1.4-1.3 1.4-.8 1.4-3.4 1.4 3.2 1.4-1.4 1.4 1.3 1.4 .8 1.4-2.7 1.4 1.4 1.4 .8 1.4-1.6 1.4-1.9 1.2-7.3 .7-2.5 .7 1.8 1.6 9.8 1.4-1.3 1.4-2.3 1.4 1.7 1.4-2.3 1.4-3.5 1.4 6.9 1.4-.3 1.4-4.5 1.4 .9 1.4 1.2 1.4-1.3 1.4-1 1.4-.1 1.4-.1 1.4-1.1 1.4 1.6 1.4 .8 1.4 .6 1.4 2.6 1.4-1.6 1.4 5.6 1.4-7.2 1.4-35.6 .4-26.8 .7-29.5 .7 29.9 1 57.3 1.4 9.6 1.4 3.7 1.4 1 1.4-.7 1.4 0 1.4 3.2 1.4-3.2 1.4 .5 1.4 .3 1.4 .1 1.4 .7 1.4-.6 1.4 .9 1.4-.4 1.4 .6 1.4 1.4 1.4-3.6 1.4 4 1.4-3.3 1.4 1.7 1.4-.8 1.4-.7 1.4-2.7 1.4 5.7 1.4-3.8 1.4 0 1.4 2.9 1.4-1.6 1.4 2.9 1.4-.3 1.4-1.6 1.4-.7 1.4 .8 1.4-3.4 1.4 2.4 1.4 0 1.4-1 1.4 1.1 1.4-2.7 1.4 3.7 1.4 .6 1.4-4.1 1.4 2.3 1.4 2.2 1.4-1.8 1.4-2.3 1.4 0 1.4 2.9 1.4 1.6 1.4-4.7 1.4 1.8 1.4-1.3 1.4 .8 1.4 .9 1.4-.6 1.4-1 1.4 4.4 1.4-3.6 1.4 0 1.4 2 1.4-1.8 1.4-.3 1.4 1.8 1.4-3.2 1.4 2.9 1.4 .4 1.4-.6 1.4-1.3 1.4 .2 1.4-2.7 1.4 2.5 1.4 .6 1.4 .9 1.4-1.1 1.4-.9 1.4-.7 1.4 1.2 1.4 .3 1.4 1.7 1.4-1.9 1.4-.9 1.4 .6 1.4-.6 1.4 .4 1.4-3.2 1.4 .9 1.4 .5 1.4 3 1.4-.1 1.4-6.9 1-7.2 .4-1 1.4 19.6 1.4 1.5 1.4-.7 1.4 4.3 1.4-3.9 1.4 1.1 1.4 2 1.4 1.1 1.4-5.5 1-25.2 .4-6.5 1 10.5 .4 15.8 1.4 14.8 1.4 0 1.4-.8 1.4 2.6 1.3-7.8 .7-.4 .7 3.7 1.5 6.2 1.4 2.4 1.4 0 1.4 .5 1.4 4.1 1.4-.6 1.4-.6" fill="none" stroke="#ff2d9a" stroke-width="2.8" stroke-linejoin="round"/>
<path d="M65.5 1149.6l1.4 2.9 1.4 1.1 1.4 .9 1.4 1.9 1.4-3.3 1.4-5.1 1.4 9.9 1.4-2.9 1.4-1.1 1.4 1.5 1.4-9 1.4 3.5 1.4-.5 1.4 5.3 1.4-7.6 1.4 2.6 1.4 5.7 1.4-2.8 1.4-3.3 1.4 7 1.4-10.2 1.4 5.6 1.4-2.3 1.4 2.3 1.4-2.5 1.4-1.6 1.4 3.5 1.4-4.7 1.4 6 1.4-2.5 1.4 4.1 1.4-4.2 1.4-.5 1.4 3.5 1.4 2.8 1.4-10.2 1.4 8.1 1.4 6.6 1.4-1.4 1.4 6.7 1.4 9 1.4-1 1.4 4.2 1.4 10.9 1.4-6.8 1.4 1.8 1.4-3 1.4 5.3 1.4 .9 1.4 8.5 1.4-9.6 .4-13.5 .7 4.1 .7 2.2 1 8 1.4 5.6 1.4-.2 1.4-2.7 1.4-2.2 1.4 2.8 1.4 2.2 1.4-1.7 1.4-1.9 1.4 4.8 1.4-7.1 1.4 5.5 1.4-5 1.4 1.2 1.4-4.6 1.4 2.9 1.4-3.1 1.4-3.7 1.4 4.8 1.4-.8 1.4 2.1 1.4-2.4 1.4-4.7 1.4 .6 1.4-6.6 1.4 3.7 1.4 6.9 1.4 0 1.4-3 1.4-1.5 1.4 3.2 1.4 2 1.4-4.8 1.4 4.9 1.4 10.5 1.4 4 1.4-2.3 1.4-13.2 1.1-24.8 .7-7.5 .7 11 1.7 36.3 1.4 15.1 1.4 3.6 1.4 5.9 1.4 11.1 1.4-3.2 1.4-4.6 1.4 3.5 1.4-7.1 1.4 7.5 1.4-3 1.4-2 1.4 1.8 1.4 2.3 1.4-6.7 1.4-2.2 1.4 9.2 1.4-7.2 1.4 4.1 1.4-7.4 1.4 2.8 1.4-3.8 1.4 3.4 1.4-3.4 1.4-1.8 1.4 6.4 1.4-4.4 1.4-8.1 1.4 5.1 1.4-2.7 1.4-1.5 1.4 1.4 1.4-.2 1.4 1 1.4-3.2 1.4-3.9 1.4 3.6 1.4 3.9 1.4-7.7 1.4 5.7 1.4-1 1.4-3.5 1.4 1.8 1.4-3.9 1.4 .5 1.4-2.5 1.4 4.1 1.4 2.2 1.4-7.1 1.4 5.3 1.4-11.3 1.4 3.3 1.4-1 1.4 8 1.4-8 1.4 3.7 1.4-9.7 1.4 6.2 1.4 .8 1.4-2.6 1.4-9.2 1.4 8.6 1.4 1.4 1.4 .9 1.4-3.6 1.4-7.3 1.4 4.1 1.4 2.9 1.4-6.2 1.4 3.8 1.4-4 1.4 1.1 1.4 1.5 1.4-5.3 1.4 10.7 1.4-9.3 1.4-.1 1.4-4.1 1.4 1.9 1.4-1.7 1.4-4.5 1.4-.9 1.4 5.2 1.4-1.9 1.4-8.7 1.4 .9 1.4 5.3 1.4 .2 1.4 1.6 1.4-6.5 1.4 5.2 1.4-3.4 1.4-1.2 1.4 .5 1.4 3.1 1.4-2 1.4 .5 1.4-5.6 1.4 .7 1.4-3.4 1.4 1.3 1.4-.1 1.4-.8 1.4 3.2 1.4-1.5 1.4 .5 1.4-2.6 1.4 2.4 1.4-3.6 1.4 2.1 1.4-2 1.4 .1 1.4-3.1 1.4-4.4 1.4-1.2 1.4 10.3 1.4-5.6 1.4-.4 1.4-2.6 1.4-1.5 1.4 10.1 1.4-13.4 1.4 2.8 1.4-.5 1.4-4.1 1.4-1 1.4 1.2 1.4 .6 1.4-1.1 1.4 3.6 1.4-6.9 1.4 4.4 1.4 2.8 1.4-2.4 1.4-7.1 1.4-6.4 1.4 11.5 1.4-1.7 1.4-4.1 1.4 5.3 1.4-6 1.4 1 1.4-4.2 1.4 3.7 1.4-3 1.4-.9 1.4 4.5 1.4-3.4 1.4-6.1 1.4 6.4 1.4-.2 1.4-5.9 1.4 .7 1.4 .8 1.4-1.5 1.4 .5 1.4 1.1 1.4-4.3 1.4 7.6 1.4-9.6 1.4-.1 1.4 7.6 1.4 3.4 1.4-5.5 1.4 1.1 1.4-1.6 1.4 7.9 1.4-10.3 .6-15 .7-4.7 .7 13.3 .8 13.9 1.4 12.4 1.4-1 1.4 3.2 1.4 3.8 1.4 7.1 1.4 8.9 1.4 7 1.4 8.7 1.4 4.9 1.4 6.2 1.4-.7 1.4-91 .4-77.4 .7-74.8 .7 86.1 1 144.8 1.4 34.8 1.4 7.6 1.4-1.9 1.4 5.5 1.4-2.3 1.4 5.2 1.4-.1 1.4 3.9 1.4-2.7 1.4 1.9 1.4-1.1 1.4 .4 1.4-1.9 1.4 6.2 1.4-1.4 1.4-1.2 1.4 2.3 1.4-.9 1.4 1.4 1.4 7.1 1.4 6.8 1.4 1.7 1.4 2.1 1.4 5.6 1.4 1.2 .9-20.6 .5-2.4 .9 7.6 .5 11.2 1.4-76.2 .7-44.9 .7 64.3 1.4 120.8 1.4 5.1 1.4 3.5 1.4-.2 1.4 1.2 1.4 1.2 1.4 .3 1.4 2.9 1.4-3.6 1.4-.2 1.4-.8 1.4-1.1 1.4-.5 1.4 3.6 1.4-4.1 1.4 5.2 1.4-.9 1.4-2 1.4-1.5 1.4 1.7 1.4-.5 1.4-1.5 1-16.9 .4-5.4 1 6.4 .4 6.6 1.4 9.1 1.4-1 1.4 .3 1.4 1.6 1.4 .7 1.4 1.9 1.4 2.1 1.4-1 1.4-2.1 1.4 2.3 1.4-3.2 1.4-.8 1.4 4.5 1.4-5.4 1.4 1 1.4 .1 1.4 2.7 1.4-3.6 1.4 1.8 1.4-2.8 1.2-5.8 .7 0 .7 1.9 1.6 2.3 1.4 .4 1.4-.1 1.4 2.6 1.4-1.1 1.4-.6 1.4 .1 1.4-1.8 1.4 1.3 1.4-2.1 1.4-1.4 1.4 .7 1.4 1.1 1.4-1 1.4 .6 1.4-5.3 1.4 2.8 1.4 2.6 1.4-.6 1.4 3.5 1.4 .2 1.4-.3 1.4 1.3 1.4-43 .4-24.2 .7-32.4 .7 29.7 1 56.5 1.4 13.7 1.4 1.7 1.4 2.4 1.4-3 1.4 5.1 1.4-.5 1.4 .9 1.4-3.7 1.4-2.2 1.4 2.8 1.4 .7 1.4 .7 1.4-1.3 1.4 .7 1.4 .4 1.4-2.8 1.4 5.4 1.4-4.7 1.4 2.2 1.4 1.3 1.4-3 1.4 1.2 1.4 2.6 1.4-3.1 1.4 2.1 1.4-1.2 1.4-.1 1.4 .7 1.4-1.5 1.4 0 1.4 1.8 1.4-1.1 1.4 .4 1.4-2.8 1.4 1.9 1.4 1.9 1.4-.5 1.4-.9 1.4-1.4 1.4-.2 1.4 1.7 1.4 1.5 1.4-2.2 1.4 2 1.4-2.6 1.4 2.4 1.4-3.5 1.4 1.8 1.4-2 1.4 2.7 1.4-.1 1.4-2.5 1.4 .3 1.4 .5 1.4-1.7 1.4 .9 1.4 0 1.4 2.6 1.4 1 1.4-3 1.4 .3 1.4 .7 1.4-1.2 1.4 .4 1.4 1.8 1.4-1 1.4-.6 1.4-.8 1.4 3.3 1.4-3.4 1.4 1.2 1.4-1.9 1.4 .7 1.4 1.1 1.4-.8 1.4 1.4 1.4-.8 1.4-2.3 1.4-1.5 1.4 5.2 1.4-2.5 1.4 3.2 1.4-2.3 1.4-1.3 1.4 2 1.4-1.4 1.4 .3 1.4-1.2 1.4 3.2 1.4-6.8 1-11.8 .4 6.3 1.4 12.9 1.4 4.2 1.4-2 1.4 .3 1.4 7.2 1.4-.4 1.4 0 1.4-4.4 1.4-1.5 1-22.3 .4-10.1 1 10.7 .4 9.8 1.4 18 1.4 .2 1.4 2.3 1.4 1.2 1.3-8 .7-2.1 .7 3.4 1.5 8.8 1.4 2.8 1.4-.1 1.4 1.1 1.4-2.1 1.4 2.5 1.4 2.7" fill="none" stroke="#a000d8" stroke-width="2.8" stroke-linejoin="round"/>
<path d="M65.5 1085.3l1.4 1.3 1.4-1.8 1.4 7.4 1.4-5.8 1.4-.9 1.4 4.2 1.4 1.5 1.4-1.9 1.4 1.5 1.4-2.5 1.4-1.1 1.4-1.1 1.4-.2 1.4-.4 1.4 3.1 1.4-1.6 1.4 .6 1.4 1.6 1.4-2.1 1.4-4.3 1.4 1.8 1.4-1.1 1.4-2.5 1.4 6.4 1.4-4.1 1.4 .1 1.4 .9 1.4 6.6 1.4-3.5 1.4 4.5 1.4-3.1 1.4-.8 1.4 3.5 1.4 .5 1.4-.9 1.4-3 1.4 3.9 1.4 4.7 1.4 10 1.4 6.4 1.4 6.7 1.4 2 1.4-.2 1.4 2.4 1.4-1.2 1.4 9.4 1.4-2.9 1.4 4.8 1.4-6.3 1.4-.2 1.4-6 .4-8.7 .7-5.9 .7 2.5 1 18.4 1.4 .6 1.4 2.6 1.4-3.6 1.4-5.3 1.4 7 1.4 1.7 1.4-8.1 1.4 .6 1.4 1.7 1.4-.2 1.4-5 1.4 10.6 1.4-2.7 1.4-5.6 1.4-4.3 1.4 6.3 1.4 4.6 1.4-4.3 1.4 .4 1.4-7.3 1.4 3.2 1.4-6.2 1.4 10.6 1.4-5.2 1.4-9.1 1.4 .2 1.4 6.8 1.4-1.7 1.4-2.1 1.4 4 1.4 7.2 1.4-2.5 1.4-4.3 1.4 10.8 1.4 1.7 1.4 1.9 1.4-15.7 .5-12.3 .7-9.8 .7 14.2 .9 20.8 1.4 20.3 1.4 4.1 1.4 8 1.4 3.7 1.4 6 1.4-.4 1.4 .5 1.4-2.3 1.4 1.7 1.4-6.7 1.4 13.7 1.4-11.3 1.4 2 1.4-2.4 1.4-.6 1.4 2.3 1.4-3.5 1.4-.3 1.4-3.6 1.4 .9 1.4-1.4 1.4 9 1.4-10.6 1.4 .3 1.4 3.4 1.4 3.4 1.4-10.5 1.4-.1 1.4 4.8 1.4 .1 1.4-6.2 1.4-1.8 1.4 2.1 1.4 4.9 1.4-3.1 1.4 2 1.4-3.3 1.4-.3 1.4 1.5 1.4-2.9 1.4 .5 1.4-4.2 1.4 .4 1.4 2.9 1.4-2.9 1.4-2.1 1.4 3.9 1.4-1.1 1.4-2.5 1.4-3.2 1.4 4.6 1.4 4.4 1.4-11.4 1.4-3 1.4 1.7 1.4-1.3 1.4-1.8 1.4-.5 1.4 5.8 1.4-.7 1.4 1.2 1.4-3 1.4-4.7 1.4 4.3 1.4-6.2 1.4 .1 1.4-3.4 1.4 7 1.4-1.5 1.4-5.4 1.4-.3 1.4 .4 1.4-.2 1.4 1.3 1.4-3.2 1.4 .3 1.4-6.8 1.4 3.1 1.4-5.6 1.4 10.7 1.4-1.9 1.4-2.9 1.4 .5 1.4 2.1 1.4-4.1 1.4-8.8 1.4 3.8 1.4-7.5 1.4 4.3 1.4-2 1.4 3.4 1.4 .6 1.4-4.8 1.4 1.4 1.4 1.2 1.4-2 1.4-.7 1.4-7.8 1.4 5.7 1.4 3.3 1.4-2.4 1.4-6.2 1.4 3.3 1.4 1.1 1.4-4.6 1.4 4.6 1.4-5.3 1.4 .9 1.4 0 1.4 6.9 1.4-8.8 1.4-1.4 1.4 3.5 1.4-4.5 1.4 1.5 1.4-8.4 1.4 7.5 1.4-1.6 1.4-4.7 1.4 7.8 1.4-5.7 1.4-.5 1.4-4.2 1.4-1.6 1.4 2.7 1.4-3.7 1.4 5.9 1.4 .5 1.4-5.4 1.4-3.7 1.4 3.2 1.4-2.7 1.4 3.2 1.4-.7 1.4-2.6 1.4 .9 1.4 2.3 1.4 1.4 1.4-7.8 1.4 3.3 1.4-3.8 1.4-3.4 1.4 6.8 1.4-3.6 1.4-1.5 1.4 0 1.4-2.4 1.4-3.6 1.4 8.4 1.4-3.6 1.4-2.7 1.4 1.5 1.4 .3 1.4-5.5 1.4 1.8 1.4-3.6 1.4 2.3 1.4-3.6 1.4 7.9 1.4-9.7 1.4 2.1 1.4-.6 1.4 1.2 1.4 7.8 1.4-.8 1.4-3.2 1.4-1.7 1.4-15.7 .7 .1 .7 8.2 1.4 22.2 1.4-2.5 1.4 8.4 1.4-.3 1.4 5.7 1.4 6.7 1.4 3.1 1.4 8.3 1.4 13.4 1.4 8.6 1.4 9.1 1.4-13 1.4-84.1 .4-79.7 .7-89 .7 96.3 1 150.6 1.4 31 1.4 8.5 1.4 4.1 1.4 7.2 1.4-5.9 1.4-.3 1.4-1.3 1.4 5 1.4 1 1.4 1.6 1.4-3.3 1.4 2.3 1.4-2.9 1.4 6.8 1.4-3 1.4-1.6 1.4 9.9 1.4-.5 1.4 2.6 1.4 6.5 1.4 3.5 1.4 10.7 1.4-.1 1.4 8.6 1.4-13.1 .9-35.2 .5-8.9 .9 13.1 .5 9.7 1.4-73.7 .7-53.5 .7 72.9 1.4 134.1 1.4 17.9 1.4 .2 1.4 3.4 1.4-1 1.4 1 1.4 3.4 1.4-2.3 1.4 0 1.4-1.4 1.4 2.4 1.4 .9 1.4-2.1 1.4 .4 1.4-1.7 1.4 4.1 1.4-3.3 1.4 .7 1.4 2.8 1.4-3.3 1.4-2.6 1.4-2.6 1-14.1 .4-2.9 1 3.8 .4 6.8 1.4 12 1.4 1.5 1.4-3.1 1.4 3.6 1.4-1 1.4-.6 1.4-4.6 1.4 4.1 1.4 1.8 1.4-2.7 1.4 3.9 1.4-3.8 1.4-2 1.4 2.4 1.4-.7 1.4 .6 1.4-1.9 1.4 2.2 1.4-3.2 1.4 .9 1.2-2 .7 .8 .7 1.3 1.6-2.1 1.4 .1 1.4 .1 1.4 .5 1.4 .6 1.4-.2 1.4 .2 1.4-1.6 1.4-1.5 1.4-2.3 1.4 1.1 1.4-1.6 1.4-2.6 1.4 4.7 1.4-6.5 1.4 3.9 1.4 .8 1.4-.8 1.4 5.7 1.4-1.7 1.4 1 1.4 5.7 1.4-6.9 1.4-50.4 .4-34.7 .7-37.5 .7 39.6 1 71.8 1.4 13.9 1.4 5.1 1.4 3.8 1.4-4.3 1.4 1.1 1.4 1.5 1.4 .8 1.4-3 1.4-.4 1.4-.1 1.4 3.4 1.4-.4 1.4-5 1.4 0 1.4 1.4 1.4-.4 1.4 3 1.4-.3 1.4 2.8 1.4-2 1.4-1.1 1.4 1.7 1.4-3.4 1.4-.9 1.4 2.3 1.4 1.4 1.4-4.2 1.4 4 1.4-.1 1.4-2.3 1.4 1.1 1.4-.8 1.4 .5 1.4 1.2 1.4-2.7 1.4 3 1.4-.4 1.4 0 1.4-4.7 1.4 .1 1.4 4.1 1.4-2.1 1.4-.2 1.4-.2 1.4-.9 1.4 1.6 1.4-.7 1.4 .1 1.4 1.8 1.4-2.8 1.4 3.7 1.4-5.5 1.4 7.7 1.4-6.3 1.4 3.1 1.4 .5 1.4-1.6 1.4 1.2 1.4-1.4 1.4-2.8 1.4 3.4 1.4 1.3 1.4-2.8 1.4-1.9 1.4 1.7 1.4 1.5 1.4-.1 1.4 1.3 1.4-1 1.4-.1 1.4-4.1 1.4 6.8 1.4-3.6 1.4 1.3 1.4-2 1.4 .3 1.4 .3 1.4 2.4 1.4-.2 1.4-1.5 1.4 2.2 1.4-3.9 1.4 1.4 1.4-1.7 1.4 2.8 1.4-2.1 1.4 1.3 1.4 1.4 1.4-5.7 1.4-1.7 1-13.4 .4 1.7 1.4 15.3 1.4 5.5 1.4-2.3 1.4 4.6 1.4 .2 1.4 3.8 1.4-3.2 1.4 2.2 1.4-5.2 1-23.7 .4-14.5 1 13.6 .4 9.6 1.4 20.1 1.4 3.9 1.4 1.7 1.4-1.8 1.3-5.2 .7-1.2 .7 2 1.5 8.8 1.4 0 1.4 5 1.4 2.2 1.4-1 1.4 1 1.4 4.4" fill="none" stroke="#008b80" stroke-width="2.8" stroke-linejoin="round"/>
</g>
<text x="-1.6" y="881.9" font-family="'Liberation Serif', serif" font-weight="bold" font-size="50" fill="#000" textLength="64.5" lengthAdjust="spacingAndGlyphs">(b)</text>
<text x="109.8" y="1019.4" font-family="'Liberation Sans', sans-serif" font-weight="bold" font-size="24.5" fill="#000" textLength="67.4" lengthAdjust="spacingAndGlyphs">Ti KLL</text>
<text x="166" y="1069.9" font-family="'Liberation Sans', sans-serif" font-weight="bold" font-size="24.5" fill="#000" textLength="64.8" lengthAdjust="spacingAndGlyphs">O KLL</text>
<text x="432.3" y="874.4" font-family="'Liberation Sans', sans-serif" font-weight="bold" font-size="24.5" fill="#000" textLength="50.6" lengthAdjust="spacingAndGlyphs">O 1s</text>
<text x="405.3" y="1042" font-family="'Liberation Sans', sans-serif" font-weight="bold" font-size="24.5" fill="#000" textLength="52.9" lengthAdjust="spacingAndGlyphs">Ti 2s</text>
<text x="479.5" y="1052.5" font-family="'Liberation Sans', sans-serif" font-weight="bold" font-size="24.5" fill="#000" textLength="56.1" lengthAdjust="spacingAndGlyphs">Ti 2p</text>
<text x="575.7" y="1152" font-family="'Liberation Sans', sans-serif" font-weight="bold" font-size="24.5" fill="#000" textLength="46.4" lengthAdjust="spacingAndGlyphs">C 1s</text>
<text x="505" y="1246.1" font-family="'Liberation Sans', sans-serif" font-weight="bold" font-size="24.5" fill="#000" textLength="49.5" lengthAdjust="spacingAndGlyphs">N 1s</text>
<text x="693.2" y="1164" font-family="'Liberation Sans', sans-serif" font-weight="bold" font-size="24.5" fill="#000" textLength="52.6" lengthAdjust="spacingAndGlyphs">Ti 3s</text>
<text x="696.6" y="1217" font-family="'Liberation Sans', sans-serif" font-weight="bold" font-size="24.5" fill="#000" textLength="56.8" lengthAdjust="spacingAndGlyphs">Ti 3p</text>
<text x="598.6" y="1274.1" font-family="'Liberation Serif', serif" font-weight="bold" font-size="23" fill="#008b80" textLength="113.1" lengthAdjust="spacingAndGlyphs">800 °C 24 h</text>
<text x="600.5" y="1324.3" font-family="'Liberation Serif', serif" font-weight="bold" font-size="23" fill="#a000d8" textLength="102.4" lengthAdjust="spacingAndGlyphs">800 °C 2 h</text>
<text x="600" y="1379" font-family="'Liberation Serif', serif" font-weight="bold" font-size="23" fill="#ff2d9a" textLength="112.3" lengthAdjust="spacingAndGlyphs">650 °C 24 h</text>
<text x="599.7" y="1427.6" font-family="'Liberation Serif', serif" font-weight="bold" font-size="23" fill="#008000" textLength="101.3" lengthAdjust="spacingAndGlyphs">650 °C 2 h</text>
<text x="599.7" y="1481.7" font-family="'Liberation Serif', serif" font-weight="bold" font-size="23" fill="#0052f5" textLength="112.6" lengthAdjust="spacingAndGlyphs">500 °C 24 h</text>
<text x="295.7" y="1412.4" font-family="'Liberation Serif', serif" font-weight="bold" font-size="23" fill="#fa3200" textLength="101.9" lengthAdjust="spacingAndGlyphs">500 °C 2 h</text>
<path d="M727 1570.4V1564.4M698.3 1570.4V1564.4M669.5 1570.4V1564.4M640.8 1570.4V1558.9M612 1570.4V1564.4M583.3 1570.4V1564.4M554.5 1570.4V1564.4M525.8 1570.4V1558.9M497 1570.4V1564.4M468.3 1570.4V1564.4M439.5 1570.4V1564.4M410.8 1570.4V1558.9M382.1 1570.4V1564.4M353.3 1570.4V1564.4M324.6 1570.4V1564.4M295.8 1570.4V1558.9M267.1 1570.4V1564.4M238.3 1570.4V1564.4M209.5 1570.4V1564.4M180.8 1570.4V1558.9M152 1570.4V1564.4M123.3 1570.4V1564.4M94.5 1570.4V1564.4" stroke="#000" stroke-width="2.2" fill="none"/>
<rect x="64.9" y="842.6" width="691.0" height="727.8000000000001" stroke="#000" stroke-width="2.5" fill="none"/>
<text x="755.8" y="1604" font-family="'Liberation Sans', sans-serif" font-weight="bold" font-size="25" fill="#000" text-anchor="middle">0</text>
<text x="640.8" y="1604" font-family="'Liberation Sans', sans-serif" font-weight="bold" font-size="25" fill="#000" text-anchor="middle">200</text>
<text x="525.8" y="1604" font-family="'Liberation Sans', sans-serif" font-weight="bold" font-size="25" fill="#000" text-anchor="middle">400</text>
<text x="410.8" y="1604" font-family="'Liberation Sans', sans-serif" font-weight="bold" font-size="25" fill="#000" text-anchor="middle">600</text>
<text x="295.8" y="1604" font-family="'Liberation Sans', sans-serif" font-weight="bold" font-size="25" fill="#000" text-anchor="middle">800</text>
<text x="180.8" y="1604" font-family="'Liberation Sans', sans-serif" font-weight="bold" font-size="25" fill="#000" text-anchor="middle">1000</text>
<text x="65.8" y="1604" font-family="'Liberation Sans', sans-serif" font-weight="bold" font-size="25" fill="#000" text-anchor="middle">1200</text>
<text x="265.8" y="1648.4" font-family="'Liberation Serif', serif" font-weight="bold" font-size="33.8" fill="#000" textLength="288.8" lengthAdjust="spacingAndGlyphs">Binding energy (eV)</text>
<text x="30.5" y="1326.6" font-family="'Liberation Serif', serif" font-weight="bold" font-size="34.4" fill="#000" textLength="215.3" lengthAdjust="spacingAndGlyphs" transform="rotate(-90 30.5 1326.6)">Intensity (a.u.)</text>
<rect x="835.7" y="4.4" width="511.29999999999995" height="726.4" fill="#fffdf4"/>
<g clip-path="url(#cC)">
<path d="M863.4 83.5a4.0 4.0 0 1 0 8.0 0a4.0 4.0 0 1 0 -8.0 0M873 83.8a4.0 4.0 0 1 0 8.0 0a4.0 4.0 0 1 0 -8.0 0M882.6 82.5a4.0 4.0 0 1 0 8.0 0a4.0 4.0 0 1 0 -8.0 0M892.2 79.2a4.0 4.0 0 1 0 8.0 0a4.0 4.0 0 1 0 -8.0 0M901.7 81.3a4.0 4.0 0 1 0 8.0 0a4.0 4.0 0 1 0 -8.0 0M911.3 78.9a4.0 4.0 0 1 0 8.0 0a4.0 4.0 0 1 0 -8.0 0M920.9 74.9a4.0 4.0 0 1 0 8.0 0a4.0 4.0 0 1 0 -8.0 0M930.5 73.3a4.0 4.0 0 1 0 8.0 0a4.0 4.0 0 1 0 -8.0 0M940.1 68.8a4.0 4.0 0 1 0 8.0 0a4.0 4.0 0 1 0 -8.0 0M949.7 63.9a4.0 4.0 0 1 0 8.0 0a4.0 4.0 0 1 0 -8.0 0M959.3 58.9a4.0 4.0 0 1 0 8.0 0a4.0 4.0 0 1 0 -8.0 0M968.8 56.7a4.0 4.0 0 1 0 8.0 0a4.0 4.0 0 1 0 -8.0 0M978.4 54.8a4.0 4.0 0 1 0 8.0 0a4.0 4.0 0 1 0 -8.0 0M988 59a4.0 4.0 0 1 0 8.0 0a4.0 4.0 0 1 0 -8.0 0M997.6 63.5a4.0 4.0 0 1 0 8.0 0a4.0 4.0 0 1 0 -8.0 0M1007.2 70.3a4.0 4.0 0 1 0 8.0 0a4.0 4.0 0 1 0 -8.0 0M1016.8 74.1a4.0 4.0 0 1 0 8.0 0a4.0 4.0 0 1 0 -8.0 0M1026.3 77.2a4.0 4.0 0 1 0 8.0 0a4.0 4.0 0 1 0 -8.0 0M1035.9 79a4.0 4.0 0 1 0 8.0 0a4.0 4.0 0 1 0 -8.0 0M1045.5 81.5a4.0 4.0 0 1 0 8.0 0a4.0 4.0 0 1 0 -8.0 0M1055.1 82.9a4.0 4.0 0 1 0 8.0 0a4.0 4.0 0 1 0 -8.0 0M1064.7 82.9a4.0 4.0 0 1 0 8.0 0a4.0 4.0 0 1 0 -8.0 0M1074.3 85.2a4.0 4.0 0 1 0 8.0 0a4.0 4.0 0 1 0 -8.0 0M1083.9 84.3a4.0 4.0 0 1 0 8.0 0a4.0 4.0 0 1 0 -8.0 0M1093.4 77.6a4.0 4.0 0 1 0 8.0 0a4.0 4.0 0 1 0 -8.0 0M1103 76.6a4.0 4.0 0 1 0 8.0 0a4.0 4.0 0 1 0 -8.0 0M1112.6 74.9a4.0 4.0 0 1 0 8.0 0a4.0 4.0 0 1 0 -8.0 0M1122.2 66.8a4.0 4.0 0 1 0 8.0 0a4.0 4.0 0 1 0 -8.0 0M1131.8 54.8a4.0 4.0 0 1 0 8.0 0a4.0 4.0 0 1 0 -8.0 0M1141.4 36.8a4.0 4.0 0 1 0 8.0 0a4.0 4.0 0 1 0 -8.0 0M1151 21.2a4.0 4.0 0 1 0 8.0 0a4.0 4.0 0 1 0 -8.0 0M1160.5 10.2a4.0 4.0 0 1 0 8.0 0a4.0 4.0 0 1 0 -8.0 0M1170.1 24.4a4.0 4.0 0 1 0 8.0 0a4.0 4.0 0 1 0 -8.0 0M1179.7 49.1a4.0 4.0 0 1 0 8.0 0a4.0 4.0 0 1 0 -8.0 0M1189.3 65.3a4.0 4.0 0 1 0 8.0 0a4.0 4.0 0 1 0 -8.0 0M1198.9 77.8a4.0 4.0 0 1 0 8.0 0a4.0 4.0 0 1 0 -8.0 0M1208.5 83.4a4.0 4.0 0 1 0 8.0 0a4.0 4.0 0 1 0 -8.0 0M1218 85.9a4.0 4.0 0 1 0 8.0 0a4.0 4.0 0 1 0 -8.0 0M1227.6 91a4.0 4.0 0 1 0 8.0 0a4.0 4.0 0 1 0 -8.0 0M1237.2 92.5a4.0 4.0 0 1 0 8.0 0a4.0 4.0 0 1 0 -8.0 0M1246.8 91.5a4.0 4.0 0 1 0 8.0 0a4.0 4.0 0 1 0 -8.0 0M1256.4 93.1a4.0 4.0 0 1 0 8.0 0a4.0 4.0 0 1 0 -8.0 0M1266 94.6a4.0 4.0 0 1 0 8.0 0a4.0 4.0 0 1 0 -8.0 0M1275.6 93.8a4.0 4.0 0 1 0 8.0 0a4.0 4.0 0 1 0 -8.0 0M1285.1 95.4a4.0 4.0 0 1 0 8.0 0a4.0 4.0 0 1 0 -8.0 0M1294.7 96a4.0 4.0 0 1 0 8.0 0a4.0 4.0 0 1 0 -8.0 0M1304.3 96.2a4.0 4.0 0 1 0 8.0 0a4.0 4.0 0 1 0 -8.0 0" fill="none" stroke="#000" stroke-width="1.5"/>
<path d="M867.4 84.8l2 0 2-.1 2-.1 2 0 2-.1 2-.1 2 0 2-.1 2-.1 2-.1 2-.1 2-.1 2-.1 2-.1 2-.2 2-.1 2-.2 2-.2 2-.2 2-.2 2-.2 2-.3 2-.3 2-.3 2-.3 2-.4 2-.4 2-.5 2-.4 2-.6 2-.5 2-.7 2-.6 2-.7 2-.8 2-.8 2-.8 2-.9 2-1 2-1 2-1 2-1.1 2-1.1 2-1.1 2-1.1 2-1.1 2-1.2 2-1 2-1.1 2-.9 2-.9 2-.7 2-.6 2-.5 2-.2 2-.1 2 .1 2 .3 2 .5 2 .6 2 .8 2 1 2 1 2 1.2 2 1.2 2 1.2 2 1.3 2 1.3 2 1.2 2 1.3 2 1.2 2 1.2 2 1.2 2 1.1 2 1 2 1 2 1 2 .8 2 .9 2 .8 2 .7 2 .7 2 .6 2 .6 2 .5 2 .5 2 .5 2 .4 2 .4 2 .4 2 .3 2 .3 2 .2 2 .3 2 .2 2 .2 2 .2 2 .2 2 .2 2 .1 2 .2 2 .1 2 .1 2 .2 2 .1 2 .1 2 .1 2 .1 2 .1 2 .1 2 0 2 .1 2 .1 2 .1 2 0 2 .1 2 .1 2 .1 2 0 2 .1 2 .1 2 0 2 .1 2 .1 2 0 2 .1 2 .1 2 0 2 .1 2 .1 2 .1 2 .1 2 .1 2 .1 2 .1 2 .1 2 .2 2 .1 2 .2 2 .1 2 .2 2 .2 2 .3 2 .2 2 .2 2 .3 2 .3 2 .2 2 .3 2 .3 2 .3 2 .3 2 .3 2 .2 2 .3 2 .2 2 .2 2 .2 2 .2 2 .1 2 .2 2 .1 2 .1 2 .1 2 .1 2 .1 2 .1 2 .1 2 0 2 .1 2 .1 2 0 2 0 2 .1 2 0 2 .1 2 0 2 0 2 .1 2 0 2 0 2 0 2 .1 2 0 2 0 2 0 2 .1 2 0 2 0 2 0 2 0 2 .1 2 0 2 0 2 0 2 0 2 0 2 0 2 .1 2 0 2 0 2 0 2 0 2 0 2 0 2 0 2 0 2 .1 2 0 2 0 2 0 2 0 2 0 2 0 2 0 2 0 2 0 2 0 2 .1 2 0 2 0 2 0 2 0 0 .2-2 0-2 0-2 0-2 0-2 0-2 0-2 0-2 0-2-.1-2 0-2 0-2 0-2 0-2 0-2 0-2 0-2 0-2 0-2 0-2 0-2 0-2 0-2-.1-2 0-2 0-2 0-2 0-2 0-2 0-2 0-2 0-2 0-2-.1-2 0-2 0-2 0-2 0-2 0-2-.1-2 0-2 0-2 0-2 0-2-.1-2 0-2 0-2 0-2-.1-2 0-2 0-2-.1-2 0-2-.1-2 0-2-.1-2 0-2-.1-2-.1-2-.1-2-.1-2-.1-2-.1-2-.1-2-.2-2-.2-2-.1-2-.2-2-.3-2-.2-2-.2-2-.3-2-.3-2-.2-2-.3-2-.3-2-.2-2-.3-2-.2-2-.3-2-.2-2-.2-2-.2-2-.1-2-.2-2-.1-2-.2-2-.1-2-.1-2-.1-2-.1-2 0-2-.1-2-.1-2 0-2-.1-2 0-2 0-2-.1-2 0-2-.1-2 0-2 0-2 0-2-.1-2 0-2 0-2 0-2-.1-2 0-2 0-2 0-2 0-2-.1-2 0-2 0-2 0-2 0-2-.1-2 0-2 0-2 0-2 0-2 0-2-.1-2 0-2 0-2 0-2 0-2-.1-2 0-2 0-2 0-2 0-2-.1-2 0-2 0-2 0-2-.1-2 0-2 0-2-.1-2 0-2 0-2-.1-2 0-2-.1-2 0-2-.1-2 0-2-.1-2 0-2-.1-2-.1-2 0-2-.1-2-.1-2-.1-2-.1-2-.1-2-.1-2-.1-2-.1-2-.1-2-.1-2-.1-2-.1-2-.1-2-.1-2-.1-2-.1-2-.1-2-.1-2-.1-2-.1-2-.1-2 0-2-.1-2-.1-2-.1-2 0-2-.1-2-.1-2 0-2-.1-2 0-2-.1-2 0-2 0-2-.1-2 0-2-.1-2 0-2 0-2 0-2-.1-2 0-2 0-2 0-2 0-2-.1-2 0-2 0-2 0-2 0-2 0-2 0-2-.1-2 0-2 0-2 0-2 0-2 0-2 0-2 0-2 0-2 0-2-.1-2 0-2 0-2 0-2 0-2 0-2 0Z" fill="url(#gB)" fill-opacity="0.8"/>
<path d="M867.4 86.2l2 0 2 0 2 0 2 0 2 0 2 0 2 0 2 0 2 0 2 0 2 .1 2 0 2 0 2 0 2 0 2 0 2 0 2 0 2 0 2 0 2 0 2 0 2 0 2 0 2 .1 2 0 2 0 2 0 2 0 2 0 2 .1 2 0 2 0 2 0 2 .1 2 0 2 0 2 .1 2 0 2 0 2 .1 2 0 2 .1 2 0 2 .1 2 .1 2 0 2 .1 2 .1 2 .1 2 0 2 .1 2 .1 2 .1 2 .1 2 .1 2 .1 2 .1 2 .1 2 0 2 .1 2 .1 2 .1 2 .1 2 0 2 .1 2 .1 2 0 2 .1 2 0 2 .1 2 0 2 0 2 .1 2 0 2 0 2 0 2 0 2 0 2 0 2 0 2 0 2 0 2 0 2 0 2 0 2 0 2-.1 2 0 2 0 2-.1 2 0 2-.1 2 0 2-.1 2 0 2-.1 2 0 2-.1 2-.1 2-.1 2-.1 2-.1 2-.1 2-.1 2-.1 2-.1 2-.2 2-.1 2-.2 2-.2 2-.2 2-.2 2-.2 2-.2 2-.3 2-.3 2-.4 2-.3 2-.5 2-.5 2-.5 2-.6 2-.8 2-.8 2-1 2-1.1 2-1.2 2-1.5 2-1.7 2-1.9 2-2.2 2-2.4 2-2.7 2-3.1 2-3.3 2-3.7 2-3.9 2-4.3 2-4.4 2-4.6 2-4.6 2-4.6 2-4.4 2-3.9 2-3.3 2-2.5 2-1.4 2-.3 2 .9 2 2.1 2 3.1 2 3.9 2 4.4 2 4.9 2 5 2 5 2 5 2 4.7 2 4.5 2 4.2 2 3.8 2 3.6 2 3.2 2 2.8 2 2.6 2 2.3 2 2 2 1.8 2 1.5 2 1.4 2 1.1 2 1.1 2 .8 2 .8 2 .7 2 .6 2 .5 2 .5 2 .4 2 .4 2 .4 2 .3 2 .3 2 .2 2 .3 2 .2 2 .2 2 .2 2 .2 2 .2 2 .1 2 .2 2 .1 2 .1 2 .2 2 .1 2 .1 2 .1 2 .1 2 .1 2 .1 2 .1 2 0 2 .1 2 .1 2 .1 2 0 2 .1 2 .1 2 0 2 .1 2 0 2 .1 2 0 2 .1 2 0 2 .1 2 0 2 0 2 .1 2 0 2 .1 0 1.1-2 0-2 0-2 0-2 0-2 0-2 0-2 0-2 0-2-.1-2 0-2 0-2 0-2 0-2 0-2 0-2 0-2 0-2 0-2 0-2 0-2 0-2 0-2-.1-2 0-2 0-2 0-2 0-2 0-2 0-2 0-2 0-2 0-2-.1-2 0-2 0-2 0-2 0-2 0-2-.1-2 0-2 0-2 0-2 0-2-.1-2 0-2 0-2 0-2-.1-2 0-2 0-2-.1-2 0-2-.1-2 0-2-.1-2 0-2-.1-2-.1-2-.1-2-.1-2-.1-2-.1-2-.1-2-.2-2-.2-2-.1-2-.2-2-.3-2-.2-2-.2-2-.3-2-.3-2-.2-2-.3-2-.3-2-.2-2-.3-2-.2-2-.3-2-.2-2-.2-2-.2-2-.1-2-.2-2-.1-2-.2-2-.1-2-.1-2-.1-2-.1-2 0-2-.1-2-.1-2 0-2-.1-2 0-2 0-2-.1-2 0-2-.1-2 0-2 0-2 0-2-.1-2 0-2 0-2 0-2-.1-2 0-2 0-2 0-2 0-2-.1-2 0-2 0-2 0-2 0-2-.1-2 0-2 0-2 0-2 0-2 0-2-.1-2 0-2 0-2 0-2 0-2-.1-2 0-2 0-2 0-2 0-2-.1-2 0-2 0-2 0-2-.1-2 0-2 0-2-.1-2 0-2 0-2-.1-2 0-2-.1-2 0-2-.1-2 0-2-.1-2 0-2-.1-2-.1-2 0-2-.1-2-.1-2-.1-2-.1-2-.1-2-.1-2-.1-2-.1-2-.1-2-.1-2-.1-2-.1-2-.1-2-.1-2-.1-2-.1-2-.1-2-.1-2-.1-2-.1-2-.1-2 0-2-.1-2-.1-2-.1-2 0-2-.1-2-.1-2 0-2-.1-2 0-2-.1-2 0-2 0-2-.1-2 0-2-.1-2 0-2 0-2 0-2-.1-2 0-2 0-2 0-2 0-2-.1-2 0-2 0-2 0-2 0-2 0-2 0-2-.1-2 0-2 0-2 0-2 0-2 0-2 0-2 0-2 0-2 0-2-.1-2 0-2 0-2 0-2 0-2 0-2 0Z" fill="url(#gG)" fill-opacity="0.7"/>
<path d="M867.4 84.2l2 0 2-.1 2-.1 2 0 2-.1 2-.1 2 0 2-.1 2-.1 2-.1 2-.1 2-.1 2-.1 2-.2 2-.1 2-.2 2-.2 2-.1 2-.2 2-.3 2-.2 2-.3 2-.3 2-.3 2-.3 2-.4 2-.4 2-.5 2-.5 2-.5 2-.6 2-.6 2-.7 2-.7 2-.8 2-.8 2-.8 2-1 2-.9 2-1 2-1.1 2-1 2-1.1 2-1.2 2-1.1 2-1.1 2-1.2 2-1.1 2-1 2-1 2-.8 2-.8 2-.6 2-.5 2-.3 2-.1 2 .1 2 .3 2 .5 2 .6 2 .8 2 .9 2 1.1 2 1.1 2 1.2 2 1.2 2 1.2 2 1.3 2 1.3 2 1.2 2 1.2 2 1.2 2 1.1 2 1 2 1.1 2 .9 2 .9 2 .9 2 .8 2 .8 2 .6 2 .7 2 .6 2 .5 2 .5 2 .5 2 .4 2 .3 2 .4 2 .3 2 .2 2 .3 2 .2 2 .2 2 .1 2 .1 2 .2 2 .1 2 0 2 .1 2 0 2 .1 2 0 2 0 2 0 2-.1 2 0 2-.1 2-.1 2-.1 2-.1 2-.1 2-.2 2-.1 2-.2 2-.3 2-.2 2-.3 2-.3 2-.4 2-.5 2-.5 2-.6 2-.7 2-.8 2-.9 2-1.1 2-1.2 2-1.5 2-1.6 2-1.9 2-2.1 2-2.5 2-2.7 2-3 2-3.3 2-3.7 2-3.9 2-4.2 2-4.4 2-4.6 2-4.6 2-4.6 2-4.3 2-4 2-3.2 2-2.5 2-1.4 2-.2 2 .9 2 2.1 2 3.1 2 3.9 2 4.4 2 4.9 2 5 2 5.1 2 4.9 2 4.7 2 4.5 2 4.2 2 3.9 2 3.6 2 3.2 2 2.9 2 2.5 2 2.3 2 2 2 1.8 2 1.6 2 1.3 2 1.2 2 1 2 .9 2 .8 2 .7 2 .6 2 .6 2 .4 2 .5 2 .4 2 .3 2 .3 2 .3 2 .3 2 .2 2 .3 2 .2 2 .2 2 .2 2 .1 2 .2 2 .2 2 .1 2 .1 2 .2 2 .1 2 .1 2 .1 2 .1 2 .1 2 .1 2 .1 2 .1 2 .1 2 0 2 .1 2 .1 2 0 2 .1 2 .1 2 0 2 .1 2 0 2 .1 2 0 2 .1 2 0 2 .1 2 0 2 .1 2 0 2 0" fill="none" stroke="#f01010" stroke-width="2.8"/>
<path d="M867.4 85.4l2 0 2-.1 2-.1 2 0 2-.1 2-.1 2 0 2-.1 2-.1 2-.1 2-.1 2-.1 2-.1 2-.1 2-.2 2-.1 2-.2 2-.2 2-.2 2-.2 2-.2 2-.3 2-.3 2-.3 2-.3 2-.4 2-.4 2-.5 2-.4 2-.6 2-.5 2-.7 2-.6 2-.7 2-.8 2-.8 2-.8 2-.9 2-1 2-1 2-1 2-1.1 2-1.1 2-1.1 2-1.1 2-1.1 2-1.2 2-1 2-1.1 2-.9 2-.9 2-.7 2-.6 2-.5 2-.2 2-.1 2 .1 2 .3 2 .5 2 .6 2 .8 2 1 2 1 2 1.2 2 1.2 2 1.2 2 1.3 2 1.3 2 1.2 2 1.3 2 1.2 2 1.2 2 1.2 2 1.1 2 1 2 1 2 1 2 .8 2 .9 2 .8 2 .7 2 .7 2 .6 2 .6 2 .5 2 .5 2 .5 2 .4 2 .4 2 .4 2 .3 2 .3 2 .2 2 .3 2 .2 2 .2 2 .2 2 .2 2 .2 2 .1 2 .2 2 .1 2 .1 2 .2 2 .1 2 .1 2 .1 2 .1 2 .1 2 .1 2 0 2 .1 2 .1 2 .1 2 0 2 .1 2 .1 2 .1 2 0 2 .1 2 .1 2 0 2 .1 2 .1 2 0 2 .1 2 .1 2 0 2 .1 2 .1 2 .1 2 .1 2 .1 2 .1 2 .1 2 .1 2 .2 2 .1 2 .2 2 .1 2 .2 2 .2 2 .3 2 .2 2 .2 2 .3 2 .3 2 .2 2 .3 2 .3 2 .3 2 .3 2 .3 2 .2 2 .3 2 .2 2 .2 2 .2 2 .2 2 .1 2 .2 2 .1 2 .1 2 .1 2 .1 2 .1 2 .1 2 .1 2 0 2 .1 2 .1 2 0 2 0 2 .1 2 0 2 .1 2 0 2 0 2 .1 2 0 2 0 2 0 2 .1 2 0 2 0 2 0 2 .1 2 0 2 0 2 0 2 0 2 .1 2 0 2 0 2 0 2 0 2 0 2 0 2 .1 2 0 2 0 2 0 2 0 2 0 2 0 2 0 2 0 2 .1 2 0 2 0 2 0 2 0 2 0 2 0 2 0 2 0 2 0 2 0 2 .1 2 0 2 0 2 0 2 0" fill="none" stroke="#3a2ae0" stroke-width="3.2" stroke-opacity="0.62"/>
<path d="M867.4 86.7l2 0 2 0 2 0 2 0 2 0 2 0 2 0 2 0 2 0 2 0 2 .1 2 0 2 0 2 0 2 0 2 0 2 0 2 0 2 0 2 0 2 0 2 0 2 0 2 0 2 .1 2 0 2 0 2 0 2 0 2 0 2 .1 2 0 2 0 2 0 2 .1 2 0 2 0 2 .1 2 0 2 0 2 .1 2 0 2 .1 2 0 2 .1 2 .1 2 0 2 .1 2 .1 2 .1 2 0 2 .1 2 .1 2 .1 2 .1 2 .1 2 .1 2 .1 2 .1 2 0 2 .1 2 .1 2 .1 2 .1 2 0 2 .1 2 .1 2 0 2 .1 2 0 2 .1 2 0 2 0 2 .1 2 0 2 0 2 0 2 0 2 0 2 0 2 0 2 0 2 0 2 0 2 0 2 0 2 0 2-.1 2 0 2 0 2-.1 2 0 2-.1 2 0 2-.1 2 0 2-.1 2 0 2-.1 2-.1 2-.1 2-.1 2-.1 2-.1 2-.1 2-.1 2-.1 2-.2 2-.1 2-.2 2-.2 2-.2 2-.2 2-.2 2-.2 2-.3 2-.3 2-.4 2-.3 2-.5 2-.5 2-.5 2-.6 2-.8 2-.8 2-1 2-1.1 2-1.2 2-1.5 2-1.7 2-1.9 2-2.2 2-2.4 2-2.7 2-3.1 2-3.3 2-3.7 2-3.9 2-4.3 2-4.4 2-4.6 2-4.6 2-4.6 2-4.4 2-3.9 2-3.3 2-2.5 2-1.4 2-.3 2 .9 2 2.1 2 3.1 2 3.9 2 4.4 2 4.9 2 5 2 5 2 5 2 4.7 2 4.5 2 4.2 2 3.8 2 3.6 2 3.2 2 2.8 2 2.6 2 2.3 2 2 2 1.8 2 1.5 2 1.4 2 1.1 2 1.1 2 .8 2 .8 2 .7 2 .6 2 .5 2 .5 2 .4 2 .4 2 .4 2 .3 2 .3 2 .2 2 .3 2 .2 2 .2 2 .2 2 .2 2 .2 2 .1 2 .2 2 .1 2 .1 2 .2 2 .1 2 .1 2 .1 2 .1 2 .1 2 .1 2 .1 2 0 2 .1 2 .1 2 .1 2 0 2 .1 2 .1 2 0 2 .1 2 0 2 .1 2 0 2 .1 2 0 2 .1 2 0 2 0 2 .1 2 0 2 .1" fill="none" stroke="#3f7f1f" stroke-width="3.2" stroke-opacity="0.62"/>
<path d="M867.4 87.3l2 0 2 0 2 0 2 0 2 0 2 0 2 .1 2 0 2 0 2 0 2 0 2 0 2 0 2 0 2 0 2 0 2 .1 2 0 2 0 2 0 2 0 2 0 2 0 2 .1 2 0 2 0 2 0 2 0 2 .1 2 0 2 0 2 0 2 .1 2 0 2 .1 2 0 2 0 2 .1 2 0 2 .1 2 0 2 .1 2 .1 2 0 2 .1 2 .1 2 .1 2 0 2 .1 2 .1 2 .1 2 .1 2 .1 2 .1 2 .1 2 .1 2 .1 2 .1 2 .1 2 .1 2 .1 2 .1 2 .1 2 .1 2 .1 2 .1 2 .1 2 .1 2 .1 2 0 2 .1 2 .1 2 0 2 .1 2 0 2 .1 2 0 2 .1 2 0 2 .1 2 0 2 0 2 .1 2 0 2 0 2 .1 2 0 2 0 2 0 2 .1 2 0 2 0 2 0 2 0 2 .1 2 0 2 0 2 0 2 0 2 .1 2 0 2 0 2 0 2 0 2 0 2 .1 2 0 2 0 2 0 2 0 2 .1 2 0 2 0 2 0 2 0 2 .1 2 0 2 0 2 0 2 .1 2 0 2 0 2 0 2 .1 2 0 2 .1 2 0 2 0 2 .1 2 0 2 .1 2 .1 2 0 2 .1 2 .1 2 .1 2 .1 2 .2 2 .1 2 .2 2 .1 2 .2 2 .2 2 .2 2 .3 2 .2 2 .3 2 .2 2 .3 2 .3 2 .2 2 .3 2 .3 2 .2 2 .2 2 .3 2 .2 2 .1 2 .2 2 .2 2 .1 2 .1 2 .1 2 .1 2 .1 2 .1 2 .1 2 0 2 .1 2 0 2 .1 2 0 2 .1 2 0 2 0 2 .1 2 0 2 0 2 0 2 .1 2 0 2 0 2 0 2 0 2 .1 2 0 2 0 2 0 2 0 2 0 2 .1 2 0 2 0 2 0 2 0 2 0 2 0 2 0 2 0 2 0 2 .1 2 0 2 0 2 0 2 0 2 0 2 0 2 0 2 0 2 0 2 0 2 0 2 0 2 0 2 .1 2 0 2 0 2 0 2 0 2 0 2 0 2 0 2 0" fill="none" stroke="#7c0000" stroke-width="4.4" stroke-linecap="square"/>
<path d="M863.4 215.6a4.0 4.0 0 1 0 8.0 0a4.0 4.0 0 1 0 -8.0 0M873 214.2a4.0 4.0 0 1 0 8.0 0a4.0 4.0 0 1 0 -8.0 0M882.6 214a4.0 4.0 0 1 0 8.0 0a4.0 4.0 0 1 0 -8.0 0M892.2 210.5a4.0 4.0 0 1 0 8.0 0a4.0 4.0 0 1 0 -8.0 0M901.7 216.1a4.0 4.0 0 1 0 8.0 0a4.0 4.0 0 1 0 -8.0 0M911.3 214.1a4.0 4.0 0 1 0 8.0 0a4.0 4.0 0 1 0 -8.0 0M920.9 210.4a4.0 4.0 0 1 0 8.0 0a4.0 4.0 0 1 0 -8.0 0M930.5 210a4.0 4.0 0 1 0 8.0 0a4.0 4.0 0 1 0 -8.0 0M940.1 206.4a4.0 4.0 0 1 0 8.0 0a4.0 4.0 0 1 0 -8.0 0M949.7 201.5a4.0 4.0 0 1 0 8.0 0a4.0 4.0 0 1 0 -8.0 0M959.3 199.5a4.0 4.0 0 1 0 8.0 0a4.0 4.0 0 1 0 -8.0 0M968.8 193.1a4.0 4.0 0 1 0 8.0 0a4.0 4.0 0 1 0 -8.0 0M978.4 189.4a4.0 4.0 0 1 0 8.0 0a4.0 4.0 0 1 0 -8.0 0M988 187.4a4.0 4.0 0 1 0 8.0 0a4.0 4.0 0 1 0 -8.0 0M997.6 191a4.0 4.0 0 1 0 8.0 0a4.0 4.0 0 1 0 -8.0 0M1007.2 194.3a4.0 4.0 0 1 0 8.0 0a4.0 4.0 0 1 0 -8.0 0M1016.8 200.1a4.0 4.0 0 1 0 8.0 0a4.0 4.0 0 1 0 -8.0 0M1026.3 203.1a4.0 4.0 0 1 0 8.0 0a4.0 4.0 0 1 0 -8.0 0M1035.9 208.1a4.0 4.0 0 1 0 8.0 0a4.0 4.0 0 1 0 -8.0 0M1045.5 209.4a4.0 4.0 0 1 0 8.0 0a4.0 4.0 0 1 0 -8.0 0M1055.1 214.1a4.0 4.0 0 1 0 8.0 0a4.0 4.0 0 1 0 -8.0 0M1064.7 214.3a4.0 4.0 0 1 0 8.0 0a4.0 4.0 0 1 0 -8.0 0M1074.3 215.1a4.0 4.0 0 1 0 8.0 0a4.0 4.0 0 1 0 -8.0 0M1083.9 215.2a4.0 4.0 0 1 0 8.0 0a4.0 4.0 0 1 0 -8.0 0M1093.4 212.6a4.0 4.0 0 1 0 8.0 0a4.0 4.0 0 1 0 -8.0 0M1103 213.9a4.0 4.0 0 1 0 8.0 0a4.0 4.0 0 1 0 -8.0 0M1112.6 213.2a4.0 4.0 0 1 0 8.0 0a4.0 4.0 0 1 0 -8.0 0M1122.2 202.7a4.0 4.0 0 1 0 8.0 0a4.0 4.0 0 1 0 -8.0 0M1131.8 193.6a4.0 4.0 0 1 0 8.0 0a4.0 4.0 0 1 0 -8.0 0M1141.4 179.7a4.0 4.0 0 1 0 8.0 0a4.0 4.0 0 1 0 -8.0 0M1151 164.1a4.0 4.0 0 1 0 8.0 0a4.0 4.0 0 1 0 -8.0 0M1160.5 145.1a4.0 4.0 0 1 0 8.0 0a4.0 4.0 0 1 0 -8.0 0M1170.1 142.5a4.0 4.0 0 1 0 8.0 0a4.0 4.0 0 1 0 -8.0 0M1179.7 156.8a4.0 4.0 0 1 0 8.0 0a4.0 4.0 0 1 0 -8.0 0M1189.3 177.8a4.0 4.0 0 1 0 8.0 0a4.0 4.0 0 1 0 -8.0 0M1198.9 196.5a4.0 4.0 0 1 0 8.0 0a4.0 4.0 0 1 0 -8.0 0M1208.5 208.6a4.0 4.0 0 1 0 8.0 0a4.0 4.0 0 1 0 -8.0 0M1218 217.9a4.0 4.0 0 1 0 8.0 0a4.0 4.0 0 1 0 -8.0 0M1227.6 219.3a4.0 4.0 0 1 0 8.0 0a4.0 4.0 0 1 0 -8.0 0M1237.2 222.9a4.0 4.0 0 1 0 8.0 0a4.0 4.0 0 1 0 -8.0 0M1246.8 225.5a4.0 4.0 0 1 0 8.0 0a4.0 4.0 0 1 0 -8.0 0M1256.4 229a4.0 4.0 0 1 0 8.0 0a4.0 4.0 0 1 0 -8.0 0M1266 226a4.0 4.0 0 1 0 8.0 0a4.0 4.0 0 1 0 -8.0 0M1275.6 226.2a4.0 4.0 0 1 0 8.0 0a4.0 4.0 0 1 0 -8.0 0M1285.1 227.4a4.0 4.0 0 1 0 8.0 0a4.0 4.0 0 1 0 -8.0 0M1294.7 230.1a4.0 4.0 0 1 0 8.0 0a4.0 4.0 0 1 0 -8.0 0M1304.3 228.7a4.0 4.0 0 1 0 8.0 0a4.0 4.0 0 1 0 -8.0 0" fill="none" stroke="#000" stroke-width="1.5"/>
<path d="M867.4 217l2 0 2-.1 2 0 2 0 2-.1 2 0 2-.1 2 0 2-.1 2-.1 2 0 2-.1 2-.1 2-.1 2 0 2-.1 2-.1 2-.1 2-.2 2-.1 2-.1 2-.2 2-.2 2-.2 2-.2 2-.2 2-.2 2-.3 2-.3 2-.3 2-.4 2-.4 2-.4 2-.5 2-.5 2-.5 2-.6 2-.6 2-.7 2-.7 2-.8 2-.8 2-.9 2-.9 2-.9 2-1 2-1 2-1.1 2-1 2-1.1 2-1.1 2-1 2-1.1 2-.9 2-.9 2-.9 2-.7 2-.6 2-.4 2-.3 2 0 2 .1 2 .3 2 .4 2 .7 2 .7 2 .9 2 1.1 2 1.1 2 1.1 2 1.2 2 1.3 2 1.2 2 1.2 2 1.2 2 1.2 2 1.2 2 1.1 2 1 2 1.1 2 .9 2 .9 2 .9 2 .8 2 .8 2 .7 2 .6 2 .7 2 .5 2 .5 2 .5 2 .5 2 .4 2 .4 2 .3 2 .3 2 .3 2 .3 2 .2 2 .3 2 .2 2 .2 2 .1 2 .2 2 .1 2 .2 2 .1 2 .1 2 .2 2 .1 2 .1 2 .1 2 .1 2 .1 2 .1 2 0 2 .1 2 .1 2 .1 2 .1 2 0 2 .1 2 .1 2 .1 2 0 2 .1 2 .1 2 .1 2 .1 2 0 2 .1 2 .1 2 .1 2 .1 2 .1 2 .1 2 .2 2 .1 2 .1 2 .2 2 .2 2 .2 2 .2 2 .2 2 .2 2 .3 2 .3 2 .3 2 .3 2 .3 2 .3 2 .4 2 .3 2 .3 2 .3 2 .3 2 .3 2 .3 2 .2 2 .2 2 .2 2 .2 2 .2 2 .2 2 .1 2 .1 2 .1 2 .2 2 0 2 .1 2 .1 2 .1 2 0 2 .1 2 .1 2 0 2 0 2 .1 2 0 2 .1 2 0 2 0 2 .1 2 0 2 0 2 0 2 .1 2 0 2 0 2 0 2 .1 2 0 2 0 2 0 2 0 2 .1 2 0 2 0 2 0 2 0 2 0 2 .1 2 0 2 0 2 0 2 0 2 0 2 0 2 0 2 .1 2 0 2 0 2 0 2 0 2 0 2 0 2 0 2 0 2 0 2 .1 2 0 2 0 2 0 0 .2-2 0-2 0-2 0-2 0-2 0-2 0-2 0-2-.1-2 0-2 0-2 0-2 0-2 0-2 0-2 0-2 0-2 0-2 0-2 0-2-.1-2 0-2 0-2 0-2 0-2 0-2 0-2 0-2 0-2-.1-2 0-2 0-2 0-2 0-2 0-2-.1-2 0-2 0-2 0-2 0-2-.1-2 0-2 0-2 0-2-.1-2 0-2 0-2-.1-2 0-2-.1-2 0-2-.1-2 0-2-.1-2-.1-2-.1-2-.1-2-.1-2-.1-2-.1-2-.2-2-.1-2-.2-2-.2-2-.2-2-.2-2-.3-2-.3-2-.3-2-.2-2-.4-2-.3-2-.3-2-.3-2-.3-2-.3-2-.3-2-.2-2-.3-2-.2-2-.2-2-.2-2-.2-2-.1-2-.2-2-.1-2-.1-2-.1-2-.1-2-.1-2-.1-2 0-2-.1-2 0-2-.1-2 0-2-.1-2 0-2-.1-2 0-2 0-2 0-2-.1-2 0-2 0-2-.1-2 0-2 0-2 0-2-.1-2 0-2 0-2 0-2 0-2-.1-2 0-2 0-2 0-2 0-2-.1-2 0-2 0-2 0-2-.1-2 0-2 0-2 0-2 0-2-.1-2 0-2 0-2-.1-2 0-2 0-2 0-2-.1-2 0-2-.1-2 0-2 0-2-.1-2 0-2-.1-2 0-2-.1-2-.1-2 0-2-.1-2-.1-2 0-2-.1-2-.1-2-.1-2-.1-2-.1-2-.1-2-.1-2-.1-2-.1-2-.1-2-.1-2-.1-2-.1-2-.2-2-.1-2-.1-2-.1-2-.1-2-.1-2-.1-2-.1-2-.1-2 0-2-.1-2-.1-2-.1-2 0-2-.1-2 0-2-.1-2-.1-2 0-2 0-2-.1-2 0-2-.1-2 0-2 0-2-.1-2 0-2 0-2 0-2-.1-2 0-2 0-2 0-2 0-2 0-2-.1-2 0-2 0-2 0-2 0-2 0-2 0-2-.1-2 0-2 0-2 0-2 0-2 0-2 0-2 0-2 0-2 0-2 0-2-.1-2 0-2 0-2 0-2 0-2 0-2 0-2 0Z" fill="url(#gB)" fill-opacity="0.8"/>
<path d="M867.4 218.1l2 0 2 0 2 0 2 0 2 0 2 0 2 0 2 0 2 0 2 0 2 0 2 0 2 0 2 0 2 .1 2 0 2 0 2 0 2 0 2 0 2 0 2 0 2 0 2 0 2 0 2 0 2 0 2 0 2 .1 2 0 2 0 2 0 2 0 2 0 2 0 2 .1 2 0 2 0 2 0 2 .1 2 0 2 0 2 .1 2 0 2 .1 2 0 2 .1 2 0 2 .1 2 0 2 .1 2 .1 2 0 2 .1 2 .1 2 .1 2 .1 2 .1 2 .1 2 0 2 .1 2 .1 2 .1 2 .1 2 .1 2 .1 2 .1 2 .1 2 0 2 .1 2 .1 2 0 2 .1 2 .1 2 0 2 0 2 .1 2 0 2 0 2 .1 2 0 2 0 2 0 2 0 2 0 2 0 2 0 2 0 2 0 2-.1 2 0 2 0 2 0 2-.1 2 0 2-.1 2 0 2-.1 2 0 2-.1 2-.1 2-.1 2 0 2-.1 2-.1 2-.1 2-.2 2-.1 2-.1 2-.1 2-.2 2-.2 2-.1 2-.2 2-.3 2-.2 2-.2 2-.3 2-.3 2-.4 2-.4 2-.4 2-.5 2-.5 2-.7 2-.7 2-.8 2-1 2-1.1 2-1.3 2-1.5 2-1.6 2-2 2-2.2 2-2.4 2-2.8 2-3.1 2-3.4 2-3.8 2-4 2-4.4 2-4.6 2-4.7 2-4.9 2-4.8 2-4.7 2-4.3 2-3.6 2-2.9 2-1.8 2-.6 2 .6 2 1.8 2 3 2 3.9 2 4.5 2 5.1 2 5.2 2 5.3 2 5.3 2 5.1 2 4.8 2 4.5 2 4.2 2 3.8 2 3.5 2 3.1 2 2.8 2 2.5 2 2.2 2 1.9 2 1.7 2 1.5 2 1.3 2 1.1 2 1 2 .9 2 .7 2 .7 2 .6 2 .5 2 .5 2 .4 2 .3 2 .4 2 .3 2 .3 2 .2 2 .3 2 .2 2 .2 2 .2 2 .2 2 .2 2 .1 2 .2 2 .1 2 .2 2 .1 2 .1 2 .1 2 .1 2 .1 2 .1 2 .1 2 .1 2 .1 2 .1 2 0 2 .1 2 .1 2 .1 2 0 2 .1 2 0 2 .1 2 0 2 .1 2 0 2 .1 2 0 2 .1 2 0 0 1.3-2 0-2 0-2 0-2 0-2 0-2 0-2 0-2-.1-2 0-2 0-2 0-2 0-2 0-2 0-2 0-2 0-2 0-2 0-2 0-2-.1-2 0-2 0-2 0-2 0-2 0-2 0-2 0-2 0-2-.1-2 0-2 0-2 0-2 0-2 0-2-.1-2 0-2 0-2 0-2 0-2-.1-2 0-2 0-2 0-2-.1-2 0-2 0-2-.1-2 0-2-.1-2 0-2-.1-2 0-2-.1-2-.1-2-.1-2-.1-2-.1-2-.1-2-.1-2-.2-2-.1-2-.2-2-.2-2-.2-2-.2-2-.3-2-.3-2-.3-2-.2-2-.4-2-.3-2-.3-2-.3-2-.3-2-.3-2-.3-2-.2-2-.3-2-.2-2-.2-2-.2-2-.2-2-.1-2-.2-2-.1-2-.1-2-.1-2-.1-2-.1-2-.1-2 0-2-.1-2 0-2-.1-2 0-2-.1-2 0-2-.1-2 0-2 0-2 0-2-.1-2 0-2 0-2-.1-2 0-2 0-2 0-2-.1-2 0-2 0-2 0-2 0-2-.1-2 0-2 0-2 0-2 0-2-.1-2 0-2 0-2 0-2-.1-2 0-2 0-2 0-2 0-2-.1-2 0-2 0-2-.1-2 0-2 0-2 0-2-.1-2 0-2-.1-2 0-2 0-2-.1-2 0-2-.1-2 0-2-.1-2-.1-2 0-2-.1-2-.1-2 0-2-.1-2-.1-2-.1-2-.1-2-.1-2-.1-2-.1-2-.1-2-.1-2-.1-2-.1-2-.1-2-.1-2-.2-2-.1-2-.1-2-.1-2-.1-2-.1-2-.1-2-.1-2-.1-2 0-2-.1-2-.1-2-.1-2 0-2-.1-2 0-2-.1-2-.1-2 0-2 0-2-.1-2 0-2-.1-2 0-2 0-2-.1-2 0-2 0-2 0-2-.1-2 0-2 0-2 0-2 0-2 0-2-.1-2 0-2 0-2 0-2 0-2 0-2 0-2-.1-2 0-2 0-2 0-2 0-2 0-2 0-2 0-2 0-2 0-2 0-2-.1-2 0-2 0-2 0-2 0-2 0-2 0-2 0Z" fill="url(#gG)" fill-opacity="0.7"/>
<path d="M867.4 216.4l2 0 2-.1 2 0 2-.1 2 0 2-.1 2 0 2-.1 2 0 2-.1 2-.1 2 0 2-.1 2-.1 2-.1 2-.1 2-.1 2-.1 2-.1 2-.2 2-.1 2-.2 2-.2 2-.2 2-.2 2-.2 2-.3 2-.2 2-.4 2-.3 2-.4 2-.3 2-.5 2-.5 2-.5 2-.5 2-.6 2-.6 2-.7 2-.8 2-.7 2-.9 2-.8 2-.9 2-1 2-1 2-1 2-1.1 2-1.1 2-1 2-1.1 2-1.1 2-1 2-1 2-1 2-.8 2-.7 2-.6 2-.5 2-.3 2 0 2 0 2 .3 2 .4 2 .7 2 .7 2 .9 2 1 2 1.1 2 1.1 2 1.2 2 1.2 2 1.2 2 1.2 2 1.2 2 1.2 2 1.1 2 1.1 2 1 2 1 2 .9 2 .9 2 .8 2 .8 2 .7 2 .6 2 .7 2 .5 2 .5 2 .5 2 .4 2 .4 2 .4 2 .3 2 .3 2 .2 2 .2 2 .2 2 .2 2 .1 2 .1 2 .1 2 .1 2 0 2 .1 2 0 2 0 2 0 2-.1 2 0 2-.1 2-.1 2-.1 2-.1 2-.2 2-.1 2-.2 2-.2 2-.3 2-.3 2-.3 2-.4 2-.5 2-.5 2-.6 2-.7 2-.8 2-.9 2-1.1 2-1.2 2-1.5 2-1.6 2-1.9 2-2.2 2-2.4 2-2.8 2-3 2-3.4 2-3.8 2-4 2-4.3 2-4.6 2-4.7 2-4.9 2-4.8 2-4.7 2-4.2 2-3.7 2-2.8 2-1.8 2-.6 2 .6 2 1.9 2 3 2 3.9 2 4.5 2 5.1 2 5.2 2 5.4 2 5.2 2 5.1 2 4.8 2 4.5 2 4.2 2 3.9 2 3.5 2 3.1 2 2.8 2 2.5 2 2.2 2 2 2 1.7 2 1.5 2 1.3 2 1.1 2 1 2 .9 2 .7 2 .7 2 .6 2 .5 2 .5 2 .4 2 .4 2 .3 2 .3 2 .3 2 .3 2 .2 2 .3 2 .2 2 .2 2 .2 2 .2 2 .1 2 .2 2 .1 2 .2 2 .1 2 .1 2 .1 2 .2 2 .1 2 .1 2 .1 2 0 2 .1 2 .1 2 .1 2 .1 2 0 2 .1 2 .1 2 0 2 .1 2 .1 2 0 2 .1 2 0 2 .1 2 0 2 .1 2 0" fill="none" stroke="#f01010" stroke-width="2.8"/>
<path d="M867.4 217.6l2 0 2-.1 2 0 2 0 2-.1 2 0 2-.1 2 0 2-.1 2-.1 2 0 2-.1 2-.1 2-.1 2 0 2-.1 2-.1 2-.1 2-.2 2-.1 2-.1 2-.2 2-.2 2-.2 2-.2 2-.2 2-.2 2-.3 2-.3 2-.3 2-.4 2-.4 2-.4 2-.5 2-.5 2-.5 2-.6 2-.6 2-.7 2-.7 2-.8 2-.8 2-.9 2-.9 2-.9 2-1 2-1 2-1.1 2-1 2-1.1 2-1.1 2-1 2-1.1 2-.9 2-.9 2-.9 2-.7 2-.6 2-.4 2-.3 2 0 2 .1 2 .3 2 .4 2 .7 2 .7 2 .9 2 1.1 2 1.1 2 1.1 2 1.2 2 1.3 2 1.2 2 1.2 2 1.2 2 1.2 2 1.2 2 1.1 2 1 2 1.1 2 .9 2 .9 2 .9 2 .8 2 .8 2 .7 2 .6 2 .7 2 .5 2 .5 2 .5 2 .5 2 .4 2 .4 2 .3 2 .3 2 .3 2 .3 2 .2 2 .3 2 .2 2 .2 2 .1 2 .2 2 .1 2 .2 2 .1 2 .1 2 .2 2 .1 2 .1 2 .1 2 .1 2 .1 2 .1 2 0 2 .1 2 .1 2 .1 2 .1 2 0 2 .1 2 .1 2 .1 2 0 2 .1 2 .1 2 .1 2 .1 2 0 2 .1 2 .1 2 .1 2 .1 2 .1 2 .1 2 .2 2 .1 2 .1 2 .2 2 .2 2 .2 2 .2 2 .2 2 .2 2 .3 2 .3 2 .3 2 .3 2 .3 2 .3 2 .4 2 .3 2 .3 2 .3 2 .3 2 .3 2 .3 2 .2 2 .2 2 .2 2 .2 2 .2 2 .2 2 .1 2 .1 2 .1 2 .2 2 0 2 .1 2 .1 2 .1 2 0 2 .1 2 .1 2 0 2 0 2 .1 2 0 2 .1 2 0 2 0 2 .1 2 0 2 0 2 0 2 .1 2 0 2 0 2 0 2 .1 2 0 2 0 2 0 2 0 2 .1 2 0 2 0 2 0 2 0 2 0 2 .1 2 0 2 0 2 0 2 0 2 0 2 0 2 0 2 .1 2 0 2 0 2 0 2 0 2 0 2 0 2 0 2 0 2 0 2 .1 2 0 2 0 2 0" fill="none" stroke="#3a2ae0" stroke-width="3.2" stroke-opacity="0.62"/>
<path d="M867.4 218.6l2 0 2 0 2 0 2 0 2 0 2 0 2 0 2 0 2 0 2 0 2 0 2 0 2 0 2 0 2 .1 2 0 2 0 2 0 2 0 2 0 2 0 2 0 2 0 2 0 2 0 2 0 2 0 2 0 2 .1 2 0 2 0 2 0 2 0 2 0 2 0 2 .1 2 0 2 0 2 0 2 .1 2 0 2 0 2 .1 2 0 2 .1 2 0 2 .1 2 0 2 .1 2 0 2 .1 2 .1 2 0 2 .1 2 .1 2 .1 2 .1 2 .1 2 .1 2 0 2 .1 2 .1 2 .1 2 .1 2 .1 2 .1 2 .1 2 .1 2 0 2 .1 2 .1 2 0 2 .1 2 .1 2 0 2 0 2 .1 2 0 2 0 2 .1 2 0 2 0 2 0 2 0 2 0 2 0 2 0 2 0 2 0 2-.1 2 0 2 0 2 0 2-.1 2 0 2-.1 2 0 2-.1 2 0 2-.1 2-.1 2-.1 2 0 2-.1 2-.1 2-.1 2-.2 2-.1 2-.1 2-.1 2-.2 2-.2 2-.1 2-.2 2-.3 2-.2 2-.2 2-.3 2-.3 2-.4 2-.4 2-.4 2-.5 2-.5 2-.7 2-.7 2-.8 2-1 2-1.1 2-1.3 2-1.5 2-1.6 2-2 2-2.2 2-2.4 2-2.8 2-3.1 2-3.4 2-3.8 2-4 2-4.4 2-4.6 2-4.7 2-4.9 2-4.8 2-4.7 2-4.3 2-3.6 2-2.9 2-1.8 2-.6 2 .6 2 1.8 2 3 2 3.9 2 4.5 2 5.1 2 5.2 2 5.3 2 5.3 2 5.1 2 4.8 2 4.5 2 4.2 2 3.8 2 3.5 2 3.1 2 2.8 2 2.5 2 2.2 2 1.9 2 1.7 2 1.5 2 1.3 2 1.1 2 1 2 .9 2 .7 2 .7 2 .6 2 .5 2 .5 2 .4 2 .3 2 .4 2 .3 2 .3 2 .2 2 .3 2 .2 2 .2 2 .2 2 .2 2 .2 2 .1 2 .2 2 .1 2 .2 2 .1 2 .1 2 .1 2 .1 2 .1 2 .1 2 .1 2 .1 2 .1 2 .1 2 0 2 .1 2 .1 2 .1 2 0 2 .1 2 0 2 .1 2 0 2 .1 2 0 2 .1 2 0 2 .1 2 0" fill="none" stroke="#3f7f1f" stroke-width="3.2" stroke-opacity="0.62"/>
<path d="M867.4 219.2l2 0 2 0 2 0 2 0 2 0 2 0 2 0 2 .1 2 0 2 0 2 0 2 0 2 0 2 0 2 0 2 0 2 0 2 0 2 .1 2 0 2 0 2 0 2 0 2 0 2 0 2 .1 2 0 2 0 2 0 2 0 2 0 2 .1 2 0 2 0 2 0 2 .1 2 0 2 0 2 .1 2 0 2 .1 2 0 2 0 2 .1 2 .1 2 0 2 .1 2 0 2 .1 2 .1 2 .1 2 0 2 .1 2 .1 2 .1 2 .1 2 .1 2 .1 2 .1 2 .1 2 .2 2 .1 2 .1 2 .1 2 .1 2 .1 2 .1 2 .1 2 .1 2 .1 2 .1 2 .1 2 .1 2 .1 2 0 2 .1 2 .1 2 0 2 .1 2 .1 2 0 2 .1 2 0 2 .1 2 0 2 0 2 .1 2 0 2 .1 2 0 2 0 2 0 2 .1 2 0 2 0 2 .1 2 0 2 0 2 0 2 0 2 .1 2 0 2 0 2 0 2 .1 2 0 2 0 2 0 2 0 2 .1 2 0 2 0 2 0 2 0 2 .1 2 0 2 0 2 0 2 .1 2 0 2 0 2 .1 2 0 2 0 2 0 2 .1 2 0 2 .1 2 0 2 .1 2 0 2 .1 2 0 2 .1 2 .1 2 .1 2 .1 2 .1 2 .1 2 .2 2 .1 2 .2 2 .2 2 .2 2 .2 2 .3 2 .2 2 .3 2 .3 2 .3 2 .3 2 .3 2 .3 2 .4 2 .2 2 .3 2 .3 2 .3 2 .2 2 .2 2 .2 2 .2 2 .1 2 .2 2 .1 2 .1 2 .1 2 .1 2 .1 2 .1 2 .1 2 0 2 .1 2 0 2 .1 2 0 2 .1 2 0 2 0 2 .1 2 0 2 0 2 0 2 .1 2 0 2 0 2 0 2 0 2 .1 2 0 2 0 2 0 2 0 2 0 2 .1 2 0 2 0 2 0 2 0 2 0 2 0 2 0 2 0 2 .1 2 0 2 0 2 0 2 0 2 0 2 0 2 0 2 0 2 0 2 0 2 0 2 .1 2 0 2 0 2 0 2 0 2 0 2 0 2 0" fill="none" stroke="#7c0000" stroke-width="4.4" stroke-linecap="square"/>
<path d="M863.4 343.4a4.0 4.0 0 1 0 8.0 0a4.0 4.0 0 1 0 -8.0 0M873 336.1a4.0 4.0 0 1 0 8.0 0a4.0 4.0 0 1 0 -8.0 0M882.6 340.1a4.0 4.0 0 1 0 8.0 0a4.0 4.0 0 1 0 -8.0 0M892.2 337.9a4.0 4.0 0 1 0 8.0 0a4.0 4.0 0 1 0 -8.0 0M901.7 337a4.0 4.0 0 1 0 8.0 0a4.0 4.0 0 1 0 -8.0 0M911.3 335.9a4.0 4.0 0 1 0 8.0 0a4.0 4.0 0 1 0 -8.0 0M920.9 331a4.0 4.0 0 1 0 8.0 0a4.0 4.0 0 1 0 -8.0 0M930.5 330.6a4.0 4.0 0 1 0 8.0 0a4.0 4.0 0 1 0 -8.0 0M940.1 325.8a4.0 4.0 0 1 0 8.0 0a4.0 4.0 0 1 0 -8.0 0M949.7 327.4a4.0 4.0 0 1 0 8.0 0a4.0 4.0 0 1 0 -8.0 0M959.3 317.8a4.0 4.0 0 1 0 8.0 0a4.0 4.0 0 1 0 -8.0 0M968.8 313a4.0 4.0 0 1 0 8.0 0a4.0 4.0 0 1 0 -8.0 0M978.4 311.8a4.0 4.0 0 1 0 8.0 0a4.0 4.0 0 1 0 -8.0 0M988 313.3a4.0 4.0 0 1 0 8.0 0a4.0 4.0 0 1 0 -8.0 0M997.6 317.3a4.0 4.0 0 1 0 8.0 0a4.0 4.0 0 1 0 -8.0 0M1007.2 323.7a4.0 4.0 0 1 0 8.0 0a4.0 4.0 0 1 0 -8.0 0M1016.8 330.1a4.0 4.0 0 1 0 8.0 0a4.0 4.0 0 1 0 -8.0 0M1026.3 333.2a4.0 4.0 0 1 0 8.0 0a4.0 4.0 0 1 0 -8.0 0M1035.9 338a4.0 4.0 0 1 0 8.0 0a4.0 4.0 0 1 0 -8.0 0M1045.5 338.4a4.0 4.0 0 1 0 8.0 0a4.0 4.0 0 1 0 -8.0 0M1055.1 339.9a4.0 4.0 0 1 0 8.0 0a4.0 4.0 0 1 0 -8.0 0M1064.7 342.8a4.0 4.0 0 1 0 8.0 0a4.0 4.0 0 1 0 -8.0 0M1074.3 341.3a4.0 4.0 0 1 0 8.0 0a4.0 4.0 0 1 0 -8.0 0M1083.9 339.2a4.0 4.0 0 1 0 8.0 0a4.0 4.0 0 1 0 -8.0 0M1093.4 338.5a4.0 4.0 0 1 0 8.0 0a4.0 4.0 0 1 0 -8.0 0M1103 337.1a4.0 4.0 0 1 0 8.0 0a4.0 4.0 0 1 0 -8.0 0M1112.6 334.4a4.0 4.0 0 1 0 8.0 0a4.0 4.0 0 1 0 -8.0 0M1122.2 322.4a4.0 4.0 0 1 0 8.0 0a4.0 4.0 0 1 0 -8.0 0M1131.8 307.9a4.0 4.0 0 1 0 8.0 0a4.0 4.0 0 1 0 -8.0 0M1141.4 289.1a4.0 4.0 0 1 0 8.0 0a4.0 4.0 0 1 0 -8.0 0M1151 264.8a4.0 4.0 0 1 0 8.0 0a4.0 4.0 0 1 0 -8.0 0M1160.5 257.6a4.0 4.0 0 1 0 8.0 0a4.0 4.0 0 1 0 -8.0 0M1170.1 273.8a4.0 4.0 0 1 0 8.0 0a4.0 4.0 0 1 0 -8.0 0M1179.7 297.9a4.0 4.0 0 1 0 8.0 0a4.0 4.0 0 1 0 -8.0 0M1189.3 318.8a4.0 4.0 0 1 0 8.0 0a4.0 4.0 0 1 0 -8.0 0M1198.9 334.4a4.0 4.0 0 1 0 8.0 0a4.0 4.0 0 1 0 -8.0 0M1208.5 338.1a4.0 4.0 0 1 0 8.0 0a4.0 4.0 0 1 0 -8.0 0M1218 348.9a4.0 4.0 0 1 0 8.0 0a4.0 4.0 0 1 0 -8.0 0M1227.6 348.8a4.0 4.0 0 1 0 8.0 0a4.0 4.0 0 1 0 -8.0 0M1237.2 349.5a4.0 4.0 0 1 0 8.0 0a4.0 4.0 0 1 0 -8.0 0M1246.8 353.7a4.0 4.0 0 1 0 8.0 0a4.0 4.0 0 1 0 -8.0 0M1256.4 355.2a4.0 4.0 0 1 0 8.0 0a4.0 4.0 0 1 0 -8.0 0M1266 354.2a4.0 4.0 0 1 0 8.0 0a4.0 4.0 0 1 0 -8.0 0M1275.6 353.8a4.0 4.0 0 1 0 8.0 0a4.0 4.0 0 1 0 -8.0 0M1285.1 355.9a4.0 4.0 0 1 0 8.0 0a4.0 4.0 0 1 0 -8.0 0M1294.7 356.2a4.0 4.0 0 1 0 8.0 0a4.0 4.0 0 1 0 -8.0 0M1304.3 358.7a4.0 4.0 0 1 0 8.0 0a4.0 4.0 0 1 0 -8.0 0" fill="none" stroke="#000" stroke-width="1.5"/>
<path d="M867.4 342.1l2 0 2-.1 2 0 2-.1 2 0 2-.1 2-.1 2-.1 2 0 2-.1 2-.1 2-.1 2-.1 2-.1 2-.2 2-.1 2-.2 2-.1 2-.2 2-.2 2-.2 2-.3 2-.2 2-.3 2-.3 2-.4 2-.3 2-.5 2-.4 2-.5 2-.5 2-.6 2-.6 2-.7 2-.7 2-.8 2-.8 2-.9 2-.9 2-.9 2-1 2-1.1 2-1.1 2-1.1 2-1.1 2-1.2 2-1.1 2-1.1 2-1.1 2-1.1 2-.9 2-.9 2-.8 2-.6 2-.5 2-.2 2-.1 2 .1 2 .3 2 .5 2 .6 2 .9 2 .9 2 1.1 2 1.2 2 1.2 2 1.3 2 1.4 2 1.3 2 1.3 2 1.3 2 1.3 2 1.2 2 1.2 2 1.1 2 1.1 2 1.1 2 1 2 .9 2 .9 2 .8 2 .7 2 .7 2 .7 2 .6 2 .6 2 .5 2 .5 2 .4 2 .4 2 .4 2 .3 2 .3 2 .3 2 .3 2 .2 2 .3 2 .2 2 .2 2 .1 2 .2 2 .2 2 .1 2 .1 2 .2 2 .1 2 .1 2 .1 2 .1 2 .1 2 .1 2 .1 2 .1 2 .1 2 .1 2 .1 2 0 2 .1 2 .1 2 .1 2 .1 2 0 2 .1 2 .1 2 .1 2 .1 2 .1 2 .1 2 .1 2 .1 2 .1 2 .1 2 .1 2 .2 2 .1 2 .2 2 .2 2 .2 2 .2 2 .3 2 .2 2 .3 2 .3 2 .3 2 .4 2 .3 2 .4 2 .4 2 .3 2 .4 2 .4 2 .3 2 .4 2 .3 2 .3 2 .3 2 .2 2 .3 2 .2 2 .2 2 .2 2 .1 2 .2 2 .1 2 .1 2 .1 2 .1 2 .1 2 .1 2 .1 2 0 2 .1 2 .1 2 0 2 .1 2 0 2 0 2 .1 2 0 2 .1 2 0 2 0 2 .1 2 0 2 0 2 0 2 .1 2 0 2 0 2 0 2 .1 2 0 2 0 2 0 2 0 2 0 2 .1 2 0 2 0 2 0 2 0 2 0 2 .1 2 0 2 0 2 0 2 0 2 0 2 0 2 0 2 .1 2 0 2 0 2 0 2 0 2 0 2 0 2 0 2 0 2 0 2 .1 2 0 2 0 0 .2-2 0-2 0-2 0-2 0-2 0-2 0-2-.1-2 0-2 0-2 0-2 0-2 0-2 0-2 0-2 0-2 0-2 0-2 0-2-.1-2 0-2 0-2 0-2 0-2 0-2 0-2 0-2 0-2-.1-2 0-2 0-2 0-2 0-2 0-2-.1-2 0-2 0-2 0-2 0-2 0-2-.1-2 0-2 0-2 0-2-.1-2 0-2 0-2-.1-2 0-2-.1-2 0-2 0-2-.1-2-.1-2 0-2-.1-2-.1-2-.1-2-.1-2-.1-2-.1-2-.1-2-.2-2-.1-2-.2-2-.2-2-.3-2-.2-2-.3-2-.3-2-.3-2-.3-2-.4-2-.3-2-.4-2-.3-2-.4-2-.3-2-.4-2-.3-2-.3-2-.3-2-.3-2-.2-2-.2-2-.2-2-.2-2-.2-2-.1-2-.1-2-.2-2-.1-2-.1-2 0-2-.1-2-.1-2-.1-2 0-2-.1-2 0-2-.1-2 0-2 0-2-.1-2 0-2-.1-2 0-2 0-2 0-2-.1-2 0-2 0-2-.1-2 0-2 0-2 0-2-.1-2 0-2 0-2 0-2 0-2-.1-2 0-2 0-2 0-2-.1-2 0-2 0-2 0-2-.1-2 0-2 0-2 0-2-.1-2 0-2 0-2-.1-2 0-2 0-2-.1-2 0-2-.1-2 0-2-.1-2 0-2-.1-2 0-2-.1-2 0-2-.1-2-.1-2-.1-2 0-2-.1-2-.1-2-.1-2-.1-2-.1-2-.1-2-.1-2-.2-2-.1-2-.1-2-.1-2-.1-2-.2-2-.1-2-.1-2-.1-2-.2-2-.1-2-.1-2-.1-2-.1-2-.1-2-.1-2-.1-2-.1-2-.1-2-.1-2 0-2-.1-2-.1-2 0-2-.1-2 0-2-.1-2 0-2-.1-2 0-2-.1-2 0-2 0-2-.1-2 0-2 0-2 0-2-.1-2 0-2 0-2 0-2 0-2-.1-2 0-2 0-2 0-2 0-2 0-2-.1-2 0-2 0-2 0-2 0-2 0-2 0-2 0-2 0-2-.1-2 0-2 0-2 0-2 0-2 0-2 0Z" fill="url(#gB)" fill-opacity="0.8"/>
<path d="M867.4 343.5l2 0 2 0 2 0 2 0 2 0 2 0 2 0 2 0 2 0 2 0 2 0 2 0 2 0 2 0 2 0 2 0 2 0 2 .1 2 0 2 0 2 0 2 0 2 0 2 0 2 0 2 0 2 .1 2 0 2 0 2 0 2 0 2 .1 2 0 2 0 2 0 2 .1 2 0 2 .1 2 0 2 0 2 .1 2 0 2 .1 2 .1 2 0 2 .1 2 .1 2 .1 2 0 2 .1 2 .1 2 .1 2 .1 2 .1 2 .1 2 .1 2 .1 2 .1 2 .1 2 .1 2 .1 2 .1 2 .1 2 .1 2 .1 2 .1 2 .1 2 .1 2 0 2 .1 2 0 2 .1 2 0 2 .1 2 0 2 0 2 .1 2 0 2 0 2 0 2 0 2 0 2 0 2 0 2 0 2-.1 2 0 2 0 2-.1 2 0 2 0 2-.1 2 0 2-.1 2-.1 2 0 2-.1 2-.1 2-.1 2-.1 2-.1 2-.1 2-.1 2-.1 2-.1 2-.2 2-.1 2-.2 2-.2 2-.2 2-.2 2-.2 2-.3 2-.3 2-.3 2-.3 2-.4 2-.4 2-.5 2-.5 2-.7 2-.7 2-.8 2-.9 2-1.1 2-1.2 2-1.4 2-1.6 2-1.9 2-2.1 2-2.5 2-2.7 2-3.1 2-3.4 2-3.8 2-4.1 2-4.5 2-4.8 2-5 2-5.3 2-5.4 2-5.3 2-5.1 2-4.6 2-4 2-3.1 2-1.9 2-.6 2 .7 2 2.2 2 3.3 2 4.3 2 5.1 2 5.6 2 5.8 2 5.8 2 5.8 2 5.6 2 5.3 2 5 2 4.6 2 4.2 2 3.8 2 3.5 2 3 2 2.8 2 2.4 2 2.1 2 1.9 2 1.6 2 1.4 2 1.2 2 1.1 2 1 2 .8 2 .7 2 .7 2 .5 2 .5 2 .5 2 .4 2 .4 2 .3 2 .3 2 .3 2 .3 2 .2 2 .3 2 .2 2 .2 2 .2 2 .2 2 .1 2 .2 2 .1 2 .2 2 .1 2 .1 2 .1 2 .2 2 .1 2 .1 2 .1 2 0 2 .1 2 .1 2 .1 2 .1 2 0 2 .1 2 .1 2 0 2 .1 2 .1 2 0 2 .1 2 0 2 .1 2 0 2 .1 2 0 2 .1 2 0 0 1.3-2 0-2 0-2 0-2 0-2 0-2 0-2-.1-2 0-2 0-2 0-2 0-2 0-2 0-2 0-2 0-2 0-2 0-2 0-2-.1-2 0-2 0-2 0-2 0-2 0-2 0-2 0-2 0-2-.1-2 0-2 0-2 0-2 0-2 0-2-.1-2 0-2 0-2 0-2 0-2 0-2-.1-2 0-2 0-2 0-2-.1-2 0-2 0-2-.1-2 0-2-.1-2 0-2 0-2-.1-2-.1-2 0-2-.1-2-.1-2-.1-2-.1-2-.1-2-.1-2-.1-2-.2-2-.1-2-.2-2-.2-2-.3-2-.2-2-.3-2-.3-2-.3-2-.3-2-.4-2-.3-2-.4-2-.3-2-.4-2-.3-2-.4-2-.3-2-.3-2-.3-2-.3-2-.2-2-.2-2-.2-2-.2-2-.2-2-.1-2-.1-2-.2-2-.1-2-.1-2 0-2-.1-2-.1-2-.1-2 0-2-.1-2 0-2-.1-2 0-2 0-2-.1-2 0-2-.1-2 0-2 0-2 0-2-.1-2 0-2 0-2-.1-2 0-2 0-2 0-2-.1-2 0-2 0-2 0-2 0-2-.1-2 0-2 0-2 0-2-.1-2 0-2 0-2 0-2-.1-2 0-2 0-2 0-2-.1-2 0-2 0-2-.1-2 0-2 0-2-.1-2 0-2-.1-2 0-2-.1-2 0-2-.1-2 0-2-.1-2 0-2-.1-2-.1-2-.1-2 0-2-.1-2-.1-2-.1-2-.1-2-.1-2-.1-2-.1-2-.2-2-.1-2-.1-2-.1-2-.1-2-.2-2-.1-2-.1-2-.1-2-.2-2-.1-2-.1-2-.1-2-.1-2-.1-2-.1-2-.1-2-.1-2-.1-2-.1-2 0-2-.1-2-.1-2 0-2-.1-2 0-2-.1-2 0-2-.1-2 0-2-.1-2 0-2 0-2-.1-2 0-2 0-2 0-2-.1-2 0-2 0-2 0-2 0-2-.1-2 0-2 0-2 0-2 0-2 0-2-.1-2 0-2 0-2 0-2 0-2 0-2 0-2 0-2 0-2-.1-2 0-2 0-2 0-2 0-2 0-2 0Z" fill="url(#gG)" fill-opacity="0.7"/>
<path d="M867.4 341.5l2-.1 2 0 2-.1 2 0 2-.1 2-.1 2-.1 2 0 2-.1 2-.1 2-.1 2-.1 2-.1 2-.1 2-.2 2-.1 2-.2 2-.2 2-.1 2-.2 2-.3 2-.2 2-.3 2-.3 2-.3 2-.4 2-.3 2-.5 2-.4 2-.5 2-.6 2-.6 2-.6 2-.7 2-.7 2-.8 2-.8 2-.9 2-.9 2-1 2-1 2-1 2-1.1 2-1.2 2-1.1 2-1.2 2-1.1 2-1.2 2-1.1 2-1 2-1 2-.9 2-.8 2-.6 2-.5 2-.3 2-.1 2 .1 2 .2 2 .5 2 .7 2 .8 2 .9 2 1.1 2 1.1 2 1.3 2 1.2 2 1.3 2 1.3 2 1.3 2 1.3 2 1.2 2 1.2 2 1.2 2 1.1 2 1 2 1 2 1 2 .9 2 .8 2 .8 2 .7 2 .6 2 .7 2 .5 2 .5 2 .5 2 .4 2 .4 2 .3 2 .3 2 .3 2 .2 2 .2 2 .2 2 .1 2 .2 2 .1 2 0 2 .1 2 0 2 .1 2 0 2 0 2-.1 2 0 2-.1 2-.1 2-.1 2-.1 2-.1 2-.2 2-.2 2-.2 2-.3 2-.3 2-.3 2-.4 2-.4 2-.5 2-.6 2-.6 2-.8 2-.9 2-1 2-1.2 2-1.4 2-1.6 2-1.8 2-2.1 2-2.4 2-2.7 2-3.1 2-3.4 2-3.7 2-4.2 2-4.4 2-4.8 2-5 2-5.3 2-5.3 2-5.3 2-5.1 2-4.6 2-4 2-3.1 2-1.9 2-.6 2 .8 2 2.2 2 3.3 2 4.4 2 5.1 2 5.5 2 5.9 2 5.8 2 5.8 2 5.6 2 5.4 2 4.9 2 4.6 2 4.3 2 3.8 2 3.4 2 3.1 2 2.8 2 2.4 2 2.1 2 1.9 2 1.6 2 1.5 2 1.2 2 1.1 2 .9 2 .9 2 .7 2 .6 2 .6 2 .5 2 .5 2 .4 2 .4 2 .3 2 .4 2 .3 2 .2 2 .3 2 .2 2 .2 2 .2 2 .2 2 .2 2 .2 2 .2 2 .1 2 .2 2 .1 2 .1 2 .1 2 .2 2 .1 2 .1 2 .1 2 .1 2 .1 2 .1 2 0 2 .1 2 .1 2 .1 2 0 2 .1 2 .1 2 0 2 .1 2 0 2 .1 2 0 2 .1 2 0 2 .1 2 0 2 .1" fill="none" stroke="#f01010" stroke-width="2.8"/>
<path d="M867.4 342.7l2 0 2-.1 2 0 2-.1 2 0 2-.1 2-.1 2-.1 2 0 2-.1 2-.1 2-.1 2-.1 2-.1 2-.2 2-.1 2-.2 2-.1 2-.2 2-.2 2-.2 2-.3 2-.2 2-.3 2-.3 2-.4 2-.3 2-.5 2-.4 2-.5 2-.5 2-.6 2-.6 2-.7 2-.7 2-.8 2-.8 2-.9 2-.9 2-.9 2-1 2-1.1 2-1.1 2-1.1 2-1.1 2-1.2 2-1.1 2-1.1 2-1.1 2-1.1 2-.9 2-.9 2-.8 2-.6 2-.5 2-.2 2-.1 2 .1 2 .3 2 .5 2 .6 2 .9 2 .9 2 1.1 2 1.2 2 1.2 2 1.3 2 1.4 2 1.3 2 1.3 2 1.3 2 1.3 2 1.2 2 1.2 2 1.1 2 1.1 2 1.1 2 1 2 .9 2 .9 2 .8 2 .7 2 .7 2 .7 2 .6 2 .6 2 .5 2 .5 2 .4 2 .4 2 .4 2 .3 2 .3 2 .3 2 .3 2 .2 2 .3 2 .2 2 .2 2 .1 2 .2 2 .2 2 .1 2 .1 2 .2 2 .1 2 .1 2 .1 2 .1 2 .1 2 .1 2 .1 2 .1 2 .1 2 .1 2 .1 2 0 2 .1 2 .1 2 .1 2 .1 2 0 2 .1 2 .1 2 .1 2 .1 2 .1 2 .1 2 .1 2 .1 2 .1 2 .1 2 .1 2 .2 2 .1 2 .2 2 .2 2 .2 2 .2 2 .3 2 .2 2 .3 2 .3 2 .3 2 .4 2 .3 2 .4 2 .4 2 .3 2 .4 2 .4 2 .3 2 .4 2 .3 2 .3 2 .3 2 .2 2 .3 2 .2 2 .2 2 .2 2 .1 2 .2 2 .1 2 .1 2 .1 2 .1 2 .1 2 .1 2 .1 2 0 2 .1 2 .1 2 0 2 .1 2 0 2 0 2 .1 2 0 2 .1 2 0 2 0 2 .1 2 0 2 0 2 0 2 .1 2 0 2 0 2 0 2 .1 2 0 2 0 2 0 2 0 2 0 2 .1 2 0 2 0 2 0 2 0 2 0 2 .1 2 0 2 0 2 0 2 0 2 0 2 0 2 0 2 .1 2 0 2 0 2 0 2 0 2 0 2 0 2 0 2 0 2 0 2 .1 2 0 2 0" fill="none" stroke="#3a2ae0" stroke-width="3.2" stroke-opacity="0.62"/>
<path d="M867.4 344l2 0 2 0 2 0 2 0 2 0 2 0 2 0 2 0 2 0 2 0 2 0 2 0 2 0 2 0 2 0 2 0 2 0 2 .1 2 0 2 0 2 0 2 0 2 0 2 0 2 0 2 0 2 .1 2 0 2 0 2 0 2 0 2 .1 2 0 2 0 2 0 2 .1 2 0 2 .1 2 0 2 0 2 .1 2 0 2 .1 2 .1 2 0 2 .1 2 .1 2 .1 2 0 2 .1 2 .1 2 .1 2 .1 2 .1 2 .1 2 .1 2 .1 2 .1 2 .1 2 .1 2 .1 2 .1 2 .1 2 .1 2 .1 2 .1 2 .1 2 .1 2 0 2 .1 2 0 2 .1 2 0 2 .1 2 0 2 0 2 .1 2 0 2 0 2 0 2 0 2 0 2 0 2 0 2 0 2-.1 2 0 2 0 2-.1 2 0 2 0 2-.1 2 0 2-.1 2-.1 2 0 2-.1 2-.1 2-.1 2-.1 2-.1 2-.1 2-.1 2-.1 2-.1 2-.2 2-.1 2-.2 2-.2 2-.2 2-.2 2-.2 2-.3 2-.3 2-.3 2-.3 2-.4 2-.4 2-.5 2-.5 2-.7 2-.7 2-.8 2-.9 2-1.1 2-1.2 2-1.4 2-1.6 2-1.9 2-2.1 2-2.5 2-2.7 2-3.1 2-3.4 2-3.8 2-4.1 2-4.5 2-4.8 2-5 2-5.3 2-5.4 2-5.3 2-5.1 2-4.6 2-4 2-3.1 2-1.9 2-.6 2 .7 2 2.2 2 3.3 2 4.3 2 5.1 2 5.6 2 5.8 2 5.8 2 5.8 2 5.6 2 5.3 2 5 2 4.6 2 4.2 2 3.8 2 3.5 2 3 2 2.8 2 2.4 2 2.1 2 1.9 2 1.6 2 1.4 2 1.2 2 1.1 2 1 2 .8 2 .7 2 .7 2 .5 2 .5 2 .5 2 .4 2 .4 2 .3 2 .3 2 .3 2 .3 2 .2 2 .3 2 .2 2 .2 2 .2 2 .2 2 .1 2 .2 2 .1 2 .2 2 .1 2 .1 2 .1 2 .2 2 .1 2 .1 2 .1 2 0 2 .1 2 .1 2 .1 2 .1 2 0 2 .1 2 .1 2 0 2 .1 2 .1 2 0 2 .1 2 0 2 .1 2 0 2 .1 2 0 2 .1 2 0" fill="none" stroke="#3f7f1f" stroke-width="3.2" stroke-opacity="0.62"/>
<path d="M867.4 344.6l2 0 2 0 2 0 2 0 2 0 2 0 2 .1 2 0 2 0 2 0 2 0 2 0 2 0 2 0 2 0 2 .1 2 0 2 0 2 0 2 0 2 0 2 .1 2 0 2 0 2 0 2 0 2 .1 2 0 2 0 2 0 2 .1 2 0 2 0 2 .1 2 0 2 .1 2 0 2 .1 2 0 2 .1 2 0 2 .1 2 .1 2 0 2 .1 2 .1 2 .1 2 .1 2 .1 2 .1 2 .1 2 .1 2 .1 2 .1 2 .2 2 .1 2 .1 2 .1 2 .2 2 .1 2 .1 2 .1 2 .1 2 .2 2 .1 2 .1 2 .1 2 .1 2 .1 2 .1 2 .1 2 0 2 .1 2 .1 2 .1 2 0 2 .1 2 0 2 .1 2 0 2 .1 2 0 2 .1 2 0 2 .1 2 0 2 0 2 .1 2 0 2 0 2 .1 2 0 2 0 2 0 2 .1 2 0 2 0 2 0 2 .1 2 0 2 0 2 0 2 .1 2 0 2 0 2 0 2 0 2 .1 2 0 2 0 2 0 2 .1 2 0 2 0 2 .1 2 0 2 0 2 0 2 .1 2 0 2 .1 2 0 2 0 2 .1 2 0 2 .1 2 0 2 .1 2 .1 2 .1 2 0 2 .1 2 .1 2 .2 2 .1 2 .1 2 .2 2 .2 2 .2 2 .2 2 .2 2 .3 2 .3 2 .3 2 .3 2 .4 2 .3 2 .4 2 .3 2 .4 2 .3 2 .4 2 .3 2 .3 2 .3 2 .3 2 .2 2 .3 2 .2 2 .2 2 .1 2 .2 2 .1 2 .1 2 .1 2 .1 2 .1 2 .1 2 .1 2 0 2 .1 2 .1 2 0 2 0 2 .1 2 0 2 .1 2 0 2 0 2 .1 2 0 2 0 2 0 2 .1 2 0 2 0 2 0 2 0 2 0 2 .1 2 0 2 0 2 0 2 0 2 0 2 .1 2 0 2 0 2 0 2 0 2 0 2 0 2 0 2 0 2 .1 2 0 2 0 2 0 2 0 2 0 2 0 2 0 2 0 2 0 2 0 2 0 2 .1 2 0 2 0 2 0 2 0 2 0 2 0" fill="none" stroke="#7c0000" stroke-width="4.4" stroke-linecap="square"/>
<path d="M863.4 447.2a4.0 4.0 0 1 0 8.0 0a4.0 4.0 0 1 0 -8.0 0M873 447.6a4.0 4.0 0 1 0 8.0 0a4.0 4.0 0 1 0 -8.0 0M882.6 450a4.0 4.0 0 1 0 8.0 0a4.0 4.0 0 1 0 -8.0 0M892.2 448a4.0 4.0 0 1 0 8.0 0a4.0 4.0 0 1 0 -8.0 0M901.7 443.8a4.0 4.0 0 1 0 8.0 0a4.0 4.0 0 1 0 -8.0 0M911.3 445.2a4.0 4.0 0 1 0 8.0 0a4.0 4.0 0 1 0 -8.0 0M920.9 442.6a4.0 4.0 0 1 0 8.0 0a4.0 4.0 0 1 0 -8.0 0M930.5 441.3a4.0 4.0 0 1 0 8.0 0a4.0 4.0 0 1 0 -8.0 0M940.1 435.5a4.0 4.0 0 1 0 8.0 0a4.0 4.0 0 1 0 -8.0 0M949.7 434.2a4.0 4.0 0 1 0 8.0 0a4.0 4.0 0 1 0 -8.0 0M959.3 429.7a4.0 4.0 0 1 0 8.0 0a4.0 4.0 0 1 0 -8.0 0M968.8 427.8a4.0 4.0 0 1 0 8.0 0a4.0 4.0 0 1 0 -8.0 0M978.4 424.3a4.0 4.0 0 1 0 8.0 0a4.0 4.0 0 1 0 -8.0 0M988 426.2a4.0 4.0 0 1 0 8.0 0a4.0 4.0 0 1 0 -8.0 0M997.6 427.4a4.0 4.0 0 1 0 8.0 0a4.0 4.0 0 1 0 -8.0 0M1007.2 437.9a4.0 4.0 0 1 0 8.0 0a4.0 4.0 0 1 0 -8.0 0M1016.8 436.1a4.0 4.0 0 1 0 8.0 0a4.0 4.0 0 1 0 -8.0 0M1026.3 444.2a4.0 4.0 0 1 0 8.0 0a4.0 4.0 0 1 0 -8.0 0M1035.9 444.6a4.0 4.0 0 1 0 8.0 0a4.0 4.0 0 1 0 -8.0 0M1045.5 445.5a4.0 4.0 0 1 0 8.0 0a4.0 4.0 0 1 0 -8.0 0M1055.1 446.8a4.0 4.0 0 1 0 8.0 0a4.0 4.0 0 1 0 -8.0 0M1064.7 447.1a4.0 4.0 0 1 0 8.0 0a4.0 4.0 0 1 0 -8.0 0M1074.3 448.7a4.0 4.0 0 1 0 8.0 0a4.0 4.0 0 1 0 -8.0 0M1083.9 447.5a4.0 4.0 0 1 0 8.0 0a4.0 4.0 0 1 0 -8.0 0M1093.4 449a4.0 4.0 0 1 0 8.0 0a4.0 4.0 0 1 0 -8.0 0M1103 442.2a4.0 4.0 0 1 0 8.0 0a4.0 4.0 0 1 0 -8.0 0M1112.6 441.4a4.0 4.0 0 1 0 8.0 0a4.0 4.0 0 1 0 -8.0 0M1122.2 433.3a4.0 4.0 0 1 0 8.0 0a4.0 4.0 0 1 0 -8.0 0M1131.8 423.5a4.0 4.0 0 1 0 8.0 0a4.0 4.0 0 1 0 -8.0 0M1141.4 400.6a4.0 4.0 0 1 0 8.0 0a4.0 4.0 0 1 0 -8.0 0M1151 381.9a4.0 4.0 0 1 0 8.0 0a4.0 4.0 0 1 0 -8.0 0M1160.5 372.8a4.0 4.0 0 1 0 8.0 0a4.0 4.0 0 1 0 -8.0 0M1170.1 383.1a4.0 4.0 0 1 0 8.0 0a4.0 4.0 0 1 0 -8.0 0M1179.7 410.2a4.0 4.0 0 1 0 8.0 0a4.0 4.0 0 1 0 -8.0 0M1189.3 429a4.0 4.0 0 1 0 8.0 0a4.0 4.0 0 1 0 -8.0 0M1198.9 443.4a4.0 4.0 0 1 0 8.0 0a4.0 4.0 0 1 0 -8.0 0M1208.5 450.8a4.0 4.0 0 1 0 8.0 0a4.0 4.0 0 1 0 -8.0 0M1218 451.9a4.0 4.0 0 1 0 8.0 0a4.0 4.0 0 1 0 -8.0 0M1227.6 454.5a4.0 4.0 0 1 0 8.0 0a4.0 4.0 0 1 0 -8.0 0M1237.2 456.8a4.0 4.0 0 1 0 8.0 0a4.0 4.0 0 1 0 -8.0 0M1246.8 459.3a4.0 4.0 0 1 0 8.0 0a4.0 4.0 0 1 0 -8.0 0M1256.4 460.2a4.0 4.0 0 1 0 8.0 0a4.0 4.0 0 1 0 -8.0 0M1266 458.4a4.0 4.0 0 1 0 8.0 0a4.0 4.0 0 1 0 -8.0 0M1275.6 459a4.0 4.0 0 1 0 8.0 0a4.0 4.0 0 1 0 -8.0 0M1285.1 459.1a4.0 4.0 0 1 0 8.0 0a4.0 4.0 0 1 0 -8.0 0M1294.7 459.7a4.0 4.0 0 1 0 8.0 0a4.0 4.0 0 1 0 -8.0 0M1304.3 460.4a4.0 4.0 0 1 0 8.0 0a4.0 4.0 0 1 0 -8.0 0" fill="none" stroke="#000" stroke-width="1.5"/>
<path d="M867.4 449.6l2 0 2-.1 2 0 2-.1 2 0 2-.1 2 0 2-.1 2-.1 2 0 2-.1 2-.1 2-.1 2-.1 2-.1 2-.1 2-.1 2-.2 2-.1 2-.2 2-.2 2-.2 2-.2 2-.2 2-.3 2-.3 2-.3 2-.3 2-.4 2-.4 2-.4 2-.5 2-.5 2-.6 2-.6 2-.6 2-.7 2-.7 2-.8 2-.8 2-.8 2-.9 2-.9 2-1 2-.9 2-1 2-1 2-1 2-.9 2-.9 2-.9 2-.8 2-.7 2-.6 2-.4 2-.4 2-.1 2 0 2 .2 2 .3 2 .5 2 .7 2 .7 2 .9 2 1 2 1 2 1.1 2 1.1 2 1.1 2 1.1 2 1.1 2 1.1 2 1.1 2 1 2 1 2 .9 2 .9 2 .8 2 .8 2 .8 2 .7 2 .7 2 .6 2 .6 2 .5 2 .5 2 .4 2 .4 2 .4 2 .4 2 .3 2 .3 2 .3 2 .2 2 .3 2 .2 2 .2 2 .1 2 .2 2 .2 2 .1 2 .1 2 .2 2 .1 2 .1 2 .1 2 .1 2 .1 2 .1 2 .1 2 0 2 .1 2 .1 2 .1 2 0 2 .1 2 .1 2 0 2 .1 2 .1 2 0 2 .1 2 .1 2 0 2 .1 2 .1 2 .1 2 0 2 .1 2 .1 2 .1 2 .1 2 .1 2 .1 2 .1 2 .2 2 .1 2 .2 2 .1 2 .2 2 .2 2 .2 2 .3 2 .2 2 .3 2 .3 2 .3 2 .3 2 .3 2 .3 2 .3 2 .3 2 .2 2 .3 2 .3 2 .2 2 .2 2 .2 2 .2 2 .1 2 .2 2 .1 2 .1 2 .2 2 .1 2 0 2 .1 2 .1 2 .1 2 0 2 .1 2 0 2 .1 2 0 2 .1 2 0 2 0 2 .1 2 0 2 0 2 0 2 .1 2 0 2 0 2 0 2 .1 2 0 2 0 2 0 2 0 2 .1 2 0 2 0 2 0 2 0 2 0 2 .1 2 0 2 0 2 0 2 0 2 0 2 0 2 0 2 .1 2 0 2 0 2 0 2 0 2 0 2 0 2 0 2 0 2 0 2 0 2 .1 2 0 2 0 2 0 2 0 2 0 2 0 2 0 0 .2-2 0-2 0-2 0-2 0-2 0-2 0-2 0-2 0-2-.1-2 0-2 0-2 0-2 0-2 0-2 0-2 0-2 0-2 0-2 0-2 0-2 0-2 0-2-.1-2 0-2 0-2 0-2 0-2 0-2 0-2 0-2 0-2-.1-2 0-2 0-2 0-2 0-2 0-2 0-2-.1-2 0-2 0-2 0-2 0-2-.1-2 0-2 0-2 0-2-.1-2 0-2 0-2-.1-2 0-2-.1-2 0-2-.1-2-.1-2 0-2-.1-2-.1-2-.1-2-.1-2-.1-2-.2-2-.1-2-.2-2-.2-2-.2-2-.2-2-.3-2-.2-2-.3-2-.3-2-.2-2-.3-2-.3-2-.3-2-.3-2-.2-2-.3-2-.2-2-.3-2-.2-2-.1-2-.2-2-.2-2-.1-2-.1-2-.1-2-.1-2-.1-2-.1-2-.1-2-.1-2 0-2-.1-2 0-2-.1-2 0-2 0-2-.1-2 0-2-.1-2 0-2 0-2 0-2-.1-2 0-2 0-2 0-2-.1-2 0-2 0-2 0-2 0-2-.1-2 0-2 0-2 0-2 0-2 0-2-.1-2 0-2 0-2 0-2 0-2-.1-2 0-2 0-2 0-2 0-2-.1-2 0-2 0-2 0-2 0-2-.1-2 0-2 0-2-.1-2 0-2 0-2-.1-2 0-2 0-2-.1-2 0-2-.1-2 0-2-.1-2 0-2-.1-2 0-2-.1-2-.1-2-.1-2 0-2-.1-2-.1-2-.1-2-.1-2-.1-2-.1-2-.1-2-.1-2 0-2-.1-2-.1-2-.1-2-.1-2-.1-2-.1-2-.1-2-.1-2 0-2-.1-2-.1-2 0-2-.1-2-.1-2 0-2-.1-2 0-2-.1-2 0-2 0-2-.1-2 0-2 0-2-.1-2 0-2 0-2 0-2-.1-2 0-2 0-2 0-2 0-2-.1-2 0-2 0-2 0-2 0-2 0-2 0-2-.1-2 0-2 0-2 0-2 0-2 0-2 0-2 0-2 0-2 0-2 0-2-.1-2 0-2 0-2 0-2 0-2 0-2 0-2 0Z" fill="url(#gB)" fill-opacity="0.8"/>
<path d="M867.4 450.7l2 0 2 0 2 0 2 0 2 0 2 0 2 0 2 0 2 0 2 0 2 0 2 0 2 0 2 0 2 0 2 0 2 0 2 .1 2 0 2 0 2 0 2 0 2 0 2 0 2 0 2 0 2 0 2 0 2 0 2 .1 2 0 2 0 2 0 2 0 2 0 2 .1 2 0 2 0 2 0 2 .1 2 0 2 .1 2 0 2 0 2 .1 2 0 2 .1 2 0 2 .1 2 .1 2 0 2 .1 2 .1 2 0 2 .1 2 .1 2 .1 2 .1 2 0 2 .1 2 .1 2 .1 2 0 2 .1 2 .1 2 0 2 .1 2 0 2 .1 2 0 2 .1 2 0 2 0 2 .1 2 0 2 0 2 0 2 0 2 0 2 0 2 0 2 0 2 0 2 0 2 0 2-.1 2 0 2 0 2 0 2-.1 2 0 2-.1 2 0 2-.1 2 0 2-.1 2-.1 2 0 2-.1 2-.1 2-.1 2-.1 2-.1 2-.1 2-.1 2-.2 2-.1 2-.1 2-.2 2-.2 2-.2 2-.2 2-.2 2-.2 2-.3 2-.3 2-.3 2-.4 2-.4 2-.5 2-.5 2-.6 2-.7 2-.8 2-1 2-1 2-1.2 2-1.4 2-1.6 2-1.9 2-2.1 2-2.4 2-2.6 2-3 2-3.3 2-3.6 2-4 2-4.2 2-4.5 2-4.7 2-4.8 2-4.8 2-4.7 2-4.4 2-3.9 2-3.1 2-2.2 2-1 2 .3 2 1.4 2 2.6 2 3.6 2 4.3 2 4.9 2 5.1 2 5.3 2 5.2 2 5 2 4.9 2 4.5 2 4.3 2 3.9 2 3.5 2 3.2 2 2.9 2 2.6 2 2.2 2 2 2 1.8 2 1.5 2 1.3 2 1.2 2 1 2 .9 2 .7 2 .7 2 .6 2 .5 2 .5 2 .4 2 .4 2 .4 2 .3 2 .3 2 .2 2 .3 2 .2 2 .2 2 .2 2 .2 2 .2 2 .1 2 .2 2 .1 2 .2 2 .1 2 .1 2 .1 2 .1 2 .1 2 .1 2 .1 2 .1 2 .1 2 .1 2 0 2 .1 2 .1 2 0 2 .1 2 .1 2 0 2 .1 2 0 2 .1 2 0 2 .1 2 0 2 .1 2 0 2 0 2 .1 2 0 0 1.2-2 0-2 0-2 0-2 0-2 0-2 0-2 0-2 0-2-.1-2 0-2 0-2 0-2 0-2 0-2 0-2 0-2 0-2 0-2 0-2 0-2 0-2 0-2-.1-2 0-2 0-2 0-2 0-2 0-2 0-2 0-2 0-2-.1-2 0-2 0-2 0-2 0-2 0-2 0-2-.1-2 0-2 0-2 0-2 0-2-.1-2 0-2 0-2 0-2-.1-2 0-2 0-2-.1-2 0-2-.1-2 0-2-.1-2-.1-2 0-2-.1-2-.1-2-.1-2-.1-2-.1-2-.2-2-.1-2-.2-2-.2-2-.2-2-.2-2-.3-2-.2-2-.3-2-.3-2-.2-2-.3-2-.3-2-.3-2-.3-2-.2-2-.3-2-.2-2-.3-2-.2-2-.1-2-.2-2-.2-2-.1-2-.1-2-.1-2-.1-2-.1-2-.1-2-.1-2-.1-2 0-2-.1-2 0-2-.1-2 0-2 0-2-.1-2 0-2-.1-2 0-2 0-2 0-2-.1-2 0-2 0-2 0-2-.1-2 0-2 0-2 0-2 0-2-.1-2 0-2 0-2 0-2 0-2 0-2-.1-2 0-2 0-2 0-2 0-2-.1-2 0-2 0-2 0-2 0-2-.1-2 0-2 0-2 0-2 0-2-.1-2 0-2 0-2-.1-2 0-2 0-2-.1-2 0-2 0-2-.1-2 0-2-.1-2 0-2-.1-2 0-2-.1-2 0-2-.1-2-.1-2-.1-2 0-2-.1-2-.1-2-.1-2-.1-2-.1-2-.1-2-.1-2-.1-2 0-2-.1-2-.1-2-.1-2-.1-2-.1-2-.1-2-.1-2-.1-2 0-2-.1-2-.1-2 0-2-.1-2-.1-2 0-2-.1-2 0-2-.1-2 0-2 0-2-.1-2 0-2 0-2-.1-2 0-2 0-2 0-2-.1-2 0-2 0-2 0-2 0-2-.1-2 0-2 0-2 0-2 0-2 0-2 0-2-.1-2 0-2 0-2 0-2 0-2 0-2 0-2 0-2 0-2 0-2 0-2-.1-2 0-2 0-2 0-2 0-2 0-2 0-2 0Z" fill="url(#gG)" fill-opacity="0.7"/>
<path d="M867.4 449l2-.1 2 0 2 0 2-.1 2-.1 2 0 2-.1 2 0 2-.1 2-.1 2-.1 2-.1 2-.1 2-.1 2-.1 2-.1 2-.1 2-.2 2-.1 2-.2 2-.2 2-.2 2-.2 2-.2 2-.3 2-.3 2-.3 2-.4 2-.4 2-.4 2-.4 2-.5 2-.5 2-.6 2-.6 2-.6 2-.7 2-.8 2-.7 2-.9 2-.8 2-.9 2-.9 2-1 2-1 2-.9 2-1 2-1 2-1 2-.9 2-.9 2-.8 2-.7 2-.6 2-.5 2-.3 2-.2 2 0 2 .2 2 .3 2 .5 2 .6 2 .7 2 .9 2 .9 2 1 2 1.1 2 1.1 2 1.1 2 1 2 1.1 2 1.1 2 1 2 1 2 .9 2 1 2 .8 2 .8 2 .8 2 .7 2 .7 2 .6 2 .6 2 .5 2 .5 2 .4 2 .4 2 .4 2 .3 2 .3 2 .3 2 .2 2 .2 2 .2 2 .1 2 .2 2 .1 2 .1 2 0 2 .1 2 0 2 0 2 0 2 0 2 0 2-.1 2 0 2-.1 2-.1 2-.1 2-.1 2-.2 2-.2 2-.1 2-.3 2-.2 2-.3 2-.3 2-.4 2-.4 2-.5 2-.6 2-.7 2-.7 2-.9 2-1.1 2-1.1 2-1.4 2-1.6 2-1.8 2-2.1 2-2.3 2-2.7 2-2.9 2-3.3 2-3.6 2-3.9 2-4.3 2-4.4 2-4.7 2-4.8 2-4.8 2-4.7 2-4.4 2-3.9 2-3.1 2-2.1 2-1 2 .3 2 1.4 2 2.7 2 3.5 2 4.4 2 4.8 2 5.2 2 5.2 2 5.3 2 5.1 2 4.8 2 4.6 2 4.2 2 3.9 2 3.6 2 3.2 2 2.9 2 2.5 2 2.3 2 2 2 1.7 2 1.6 2 1.3 2 1.2 2 1 2 .9 2 .8 2 .6 2 .7 2 .5 2 .5 2 .4 2 .4 2 .3 2 .4 2 .2 2 .3 2 .3 2 .2 2 .2 2 .2 2 .2 2 .2 2 .1 2 .2 2 .2 2 .1 2 .1 2 .1 2 .2 2 .1 2 .1 2 .1 2 .1 2 .1 2 0 2 .1 2 .1 2 .1 2 .1 2 0 2 .1 2 0 2 .1 2 .1 2 0 2 .1 2 0 2 .1 2 0 2 .1 2 0 2 0 2 .1 2 0" fill="none" stroke="#f01010" stroke-width="2.8"/>
<path d="M867.4 450.2l2 0 2-.1 2 0 2-.1 2 0 2-.1 2 0 2-.1 2-.1 2 0 2-.1 2-.1 2-.1 2-.1 2-.1 2-.1 2-.1 2-.2 2-.1 2-.2 2-.2 2-.2 2-.2 2-.2 2-.3 2-.3 2-.3 2-.3 2-.4 2-.4 2-.4 2-.5 2-.5 2-.6 2-.6 2-.6 2-.7 2-.7 2-.8 2-.8 2-.8 2-.9 2-.9 2-1 2-.9 2-1 2-1 2-1 2-.9 2-.9 2-.9 2-.8 2-.7 2-.6 2-.4 2-.4 2-.1 2 0 2 .2 2 .3 2 .5 2 .7 2 .7 2 .9 2 1 2 1 2 1.1 2 1.1 2 1.1 2 1.1 2 1.1 2 1.1 2 1.1 2 1 2 1 2 .9 2 .9 2 .8 2 .8 2 .8 2 .7 2 .7 2 .6 2 .6 2 .5 2 .5 2 .4 2 .4 2 .4 2 .4 2 .3 2 .3 2 .3 2 .2 2 .3 2 .2 2 .2 2 .1 2 .2 2 .2 2 .1 2 .1 2 .2 2 .1 2 .1 2 .1 2 .1 2 .1 2 .1 2 .1 2 0 2 .1 2 .1 2 .1 2 0 2 .1 2 .1 2 0 2 .1 2 .1 2 0 2 .1 2 .1 2 0 2 .1 2 .1 2 .1 2 0 2 .1 2 .1 2 .1 2 .1 2 .1 2 .1 2 .1 2 .2 2 .1 2 .2 2 .1 2 .2 2 .2 2 .2 2 .3 2 .2 2 .3 2 .3 2 .3 2 .3 2 .3 2 .3 2 .3 2 .3 2 .2 2 .3 2 .3 2 .2 2 .2 2 .2 2 .2 2 .1 2 .2 2 .1 2 .1 2 .2 2 .1 2 0 2 .1 2 .1 2 .1 2 0 2 .1 2 0 2 .1 2 0 2 .1 2 0 2 0 2 .1 2 0 2 0 2 0 2 .1 2 0 2 0 2 0 2 .1 2 0 2 0 2 0 2 0 2 .1 2 0 2 0 2 0 2 0 2 0 2 .1 2 0 2 0 2 0 2 0 2 0 2 0 2 0 2 .1 2 0 2 0 2 0 2 0 2 0 2 0 2 0 2 0 2 0 2 0 2 .1 2 0 2 0 2 0 2 0 2 0 2 0 2 0" fill="none" stroke="#3a2ae0" stroke-width="3.2" stroke-opacity="0.62"/>
<path d="M867.4 451.2l2 0 2 0 2 0 2 0 2 0 2 0 2 0 2 0 2 0 2 0 2 0 2 0 2 0 2 0 2 0 2 0 2 0 2 .1 2 0 2 0 2 0 2 0 2 0 2 0 2 0 2 0 2 0 2 0 2 0 2 .1 2 0 2 0 2 0 2 0 2 0 2 .1 2 0 2 0 2 0 2 .1 2 0 2 .1 2 0 2 0 2 .1 2 0 2 .1 2 0 2 .1 2 .1 2 0 2 .1 2 .1 2 0 2 .1 2 .1 2 .1 2 .1 2 0 2 .1 2 .1 2 .1 2 0 2 .1 2 .1 2 0 2 .1 2 0 2 .1 2 0 2 .1 2 0 2 0 2 .1 2 0 2 0 2 0 2 0 2 0 2 0 2 0 2 0 2 0 2 0 2 0 2-.1 2 0 2 0 2 0 2-.1 2 0 2-.1 2 0 2-.1 2 0 2-.1 2-.1 2 0 2-.1 2-.1 2-.1 2-.1 2-.1 2-.1 2-.1 2-.2 2-.1 2-.1 2-.2 2-.2 2-.2 2-.2 2-.2 2-.2 2-.3 2-.3 2-.3 2-.4 2-.4 2-.5 2-.5 2-.6 2-.7 2-.8 2-1 2-1 2-1.2 2-1.4 2-1.6 2-1.9 2-2.1 2-2.4 2-2.6 2-3 2-3.3 2-3.6 2-4 2-4.2 2-4.5 2-4.7 2-4.8 2-4.8 2-4.7 2-4.4 2-3.9 2-3.1 2-2.2 2-1 2 .3 2 1.4 2 2.6 2 3.6 2 4.3 2 4.9 2 5.1 2 5.3 2 5.2 2 5 2 4.9 2 4.5 2 4.3 2 3.9 2 3.5 2 3.2 2 2.9 2 2.6 2 2.2 2 2 2 1.8 2 1.5 2 1.3 2 1.2 2 1 2 .9 2 .7 2 .7 2 .6 2 .5 2 .5 2 .4 2 .4 2 .4 2 .3 2 .3 2 .2 2 .3 2 .2 2 .2 2 .2 2 .2 2 .2 2 .1 2 .2 2 .1 2 .2 2 .1 2 .1 2 .1 2 .1 2 .1 2 .1 2 .1 2 .1 2 .1 2 .1 2 0 2 .1 2 .1 2 0 2 .1 2 .1 2 0 2 .1 2 0 2 .1 2 0 2 .1 2 0 2 .1 2 0 2 0 2 .1 2 0" fill="none" stroke="#3f7f1f" stroke-width="3.2" stroke-opacity="0.62"/>
<path d="M867.4 451.8l2 0 2 0 2 0 2 0 2 0 2 0 2 0 2 .1 2 0 2 0 2 0 2 0 2 0 2 0 2 0 2 0 2 0 2 0 2 .1 2 0 2 0 2 0 2 0 2 0 2 0 2 .1 2 0 2 0 2 0 2 0 2 .1 2 0 2 0 2 0 2 .1 2 0 2 0 2 .1 2 0 2 0 2 .1 2 0 2 .1 2 0 2 .1 2 .1 2 0 2 .1 2 .1 2 0 2 .1 2 .1 2 .1 2 .1 2 .1 2 .1 2 .1 2 .1 2 0 2 .1 2 .1 2 .1 2 .1 2 .1 2 .1 2 .1 2 .1 2 0 2 .1 2 .1 2 .1 2 0 2 .1 2 0 2 .1 2 0 2 .1 2 0 2 .1 2 0 2 0 2 .1 2 0 2 0 2 .1 2 0 2 0 2 .1 2 0 2 0 2 0 2 0 2 .1 2 0 2 0 2 0 2 0 2 .1 2 0 2 0 2 0 2 0 2 .1 2 0 2 0 2 0 2 0 2 0 2 .1 2 0 2 0 2 0 2 0 2 .1 2 0 2 0 2 0 2 .1 2 0 2 0 2 0 2 .1 2 0 2 .1 2 0 2 0 2 .1 2 0 2 .1 2 0 2 .1 2 .1 2 .1 2 .1 2 .1 2 .1 2 .1 2 .1 2 .2 2 .2 2 .1 2 .2 2 .3 2 .2 2 .3 2 .2 2 .3 2 .3 2 .3 2 .3 2 .2 2 .3 2 .3 2 .2 2 .3 2 .2 2 .2 2 .2 2 .2 2 .1 2 .2 2 .1 2 .1 2 .1 2 .1 2 .1 2 0 2 .1 2 .1 2 0 2 .1 2 0 2 .1 2 0 2 0 2 .1 2 0 2 0 2 0 2 .1 2 0 2 0 2 0 2 0 2 .1 2 0 2 0 2 0 2 0 2 0 2 0 2 .1 2 0 2 0 2 0 2 0 2 0 2 0 2 0 2 0 2 .1 2 0 2 0 2 0 2 0 2 0 2 0 2 0 2 0 2 0 2 0 2 0 2 0 2 0 2 .1 2 0 2 0 2 0 2 0 2 0 2 0 2 0 2 0" fill="none" stroke="#7c0000" stroke-width="4.4" stroke-linecap="square"/>
<path d="M863.4 566.7a4.0 4.0 0 1 0 8.0 0a4.0 4.0 0 1 0 -8.0 0M873 565.6a4.0 4.0 0 1 0 8.0 0a4.0 4.0 0 1 0 -8.0 0M882.6 566.8a4.0 4.0 0 1 0 8.0 0a4.0 4.0 0 1 0 -8.0 0M892.2 567.2a4.0 4.0 0 1 0 8.0 0a4.0 4.0 0 1 0 -8.0 0M901.7 567.4a4.0 4.0 0 1 0 8.0 0a4.0 4.0 0 1 0 -8.0 0M911.3 564.5a4.0 4.0 0 1 0 8.0 0a4.0 4.0 0 1 0 -8.0 0M920.9 561.6a4.0 4.0 0 1 0 8.0 0a4.0 4.0 0 1 0 -8.0 0M930.5 558.7a4.0 4.0 0 1 0 8.0 0a4.0 4.0 0 1 0 -8.0 0M940.1 557.6a4.0 4.0 0 1 0 8.0 0a4.0 4.0 0 1 0 -8.0 0M949.7 554.8a4.0 4.0 0 1 0 8.0 0a4.0 4.0 0 1 0 -8.0 0M959.3 548.3a4.0 4.0 0 1 0 8.0 0a4.0 4.0 0 1 0 -8.0 0M968.8 542.4a4.0 4.0 0 1 0 8.0 0a4.0 4.0 0 1 0 -8.0 0M978.4 541.3a4.0 4.0 0 1 0 8.0 0a4.0 4.0 0 1 0 -8.0 0M988 546.6a4.0 4.0 0 1 0 8.0 0a4.0 4.0 0 1 0 -8.0 0M997.6 548.3a4.0 4.0 0 1 0 8.0 0a4.0 4.0 0 1 0 -8.0 0M1007.2 550.1a4.0 4.0 0 1 0 8.0 0a4.0 4.0 0 1 0 -8.0 0M1016.8 557a4.0 4.0 0 1 0 8.0 0a4.0 4.0 0 1 0 -8.0 0M1026.3 559.1a4.0 4.0 0 1 0 8.0 0a4.0 4.0 0 1 0 -8.0 0M1035.9 562.6a4.0 4.0 0 1 0 8.0 0a4.0 4.0 0 1 0 -8.0 0M1045.5 564.7a4.0 4.0 0 1 0 8.0 0a4.0 4.0 0 1 0 -8.0 0M1055.1 565.5a4.0 4.0 0 1 0 8.0 0a4.0 4.0 0 1 0 -8.0 0M1064.7 567.9a4.0 4.0 0 1 0 8.0 0a4.0 4.0 0 1 0 -8.0 0M1074.3 567a4.0 4.0 0 1 0 8.0 0a4.0 4.0 0 1 0 -8.0 0M1083.9 565.8a4.0 4.0 0 1 0 8.0 0a4.0 4.0 0 1 0 -8.0 0M1093.4 566.3a4.0 4.0 0 1 0 8.0 0a4.0 4.0 0 1 0 -8.0 0M1103 564.9a4.0 4.0 0 1 0 8.0 0a4.0 4.0 0 1 0 -8.0 0M1112.6 557.4a4.0 4.0 0 1 0 8.0 0a4.0 4.0 0 1 0 -8.0 0M1122.2 552.3a4.0 4.0 0 1 0 8.0 0a4.0 4.0 0 1 0 -8.0 0M1131.8 539.1a4.0 4.0 0 1 0 8.0 0a4.0 4.0 0 1 0 -8.0 0M1141.4 522.6a4.0 4.0 0 1 0 8.0 0a4.0 4.0 0 1 0 -8.0 0M1151 501.2a4.0 4.0 0 1 0 8.0 0a4.0 4.0 0 1 0 -8.0 0M1160.5 492.9a4.0 4.0 0 1 0 8.0 0a4.0 4.0 0 1 0 -8.0 0M1170.1 502.5a4.0 4.0 0 1 0 8.0 0a4.0 4.0 0 1 0 -8.0 0M1179.7 523.2a4.0 4.0 0 1 0 8.0 0a4.0 4.0 0 1 0 -8.0 0M1189.3 541.9a4.0 4.0 0 1 0 8.0 0a4.0 4.0 0 1 0 -8.0 0M1198.9 556.8a4.0 4.0 0 1 0 8.0 0a4.0 4.0 0 1 0 -8.0 0M1208.5 564.3a4.0 4.0 0 1 0 8.0 0a4.0 4.0 0 1 0 -8.0 0M1218 568.7a4.0 4.0 0 1 0 8.0 0a4.0 4.0 0 1 0 -8.0 0M1227.6 573.8a4.0 4.0 0 1 0 8.0 0a4.0 4.0 0 1 0 -8.0 0M1237.2 573.5a4.0 4.0 0 1 0 8.0 0a4.0 4.0 0 1 0 -8.0 0M1246.8 578.1a4.0 4.0 0 1 0 8.0 0a4.0 4.0 0 1 0 -8.0 0M1256.4 578.2a4.0 4.0 0 1 0 8.0 0a4.0 4.0 0 1 0 -8.0 0M1266 574.8a4.0 4.0 0 1 0 8.0 0a4.0 4.0 0 1 0 -8.0 0M1275.6 578.7a4.0 4.0 0 1 0 8.0 0a4.0 4.0 0 1 0 -8.0 0M1285.1 577a4.0 4.0 0 1 0 8.0 0a4.0 4.0 0 1 0 -8.0 0M1294.7 579a4.0 4.0 0 1 0 8.0 0a4.0 4.0 0 1 0 -8.0 0M1304.3 579.3a4.0 4.0 0 1 0 8.0 0a4.0 4.0 0 1 0 -8.0 0" fill="none" stroke="#000" stroke-width="1.5"/>
<path d="M867.4 569.6l2 0 2 0 2-.1 2 0 2-.1 2-.1 2 0 2-.1 2 0 2-.1 2-.1 2-.1 2-.1 2-.1 2-.1 2-.1 2-.1 2-.2 2-.1 2-.2 2-.2 2-.2 2-.2 2-.3 2-.3 2-.3 2-.3 2-.3 2-.4 2-.4 2-.5 2-.5 2-.5 2-.6 2-.6 2-.7 2-.7 2-.8 2-.7 2-.9 2-.9 2-.9 2-.9 2-1 2-1 2-1 2-1.1 2-1 2-1 2-.9 2-.9 2-.9 2-.7 2-.6 2-.5 2-.3 2-.2 2 0 2 .2 2 .3 2 .5 2 .7 2 .8 2 .9 2 .9 2 1.1 2 1.1 2 1.1 2 1.2 2 1.1 2 1.2 2 1.1 2 1 2 1.1 2 1 2 1 2 .9 2 .9 2 .8 2 .8 2 .7 2 .7 2 .6 2 .6 2 .5 2 .5 2 .5 2 .4 2 .4 2 .4 2 .3 2 .3 2 .3 2 .3 2 .2 2 .2 2 .2 2 .2 2 .2 2 .1 2 .2 2 .1 2 .1 2 .2 2 .1 2 .1 2 .1 2 .1 2 0 2 .1 2 .1 2 .1 2 .1 2 0 2 .1 2 .1 2 0 2 .1 2 .1 2 0 2 .1 2 .1 2 0 2 .1 2 .1 2 0 2 .1 2 .1 2 0 2 .1 2 .1 2 .1 2 .1 2 .1 2 .1 2 .1 2 .1 2 .1 2 .2 2 .2 2 .1 2 .2 2 .2 2 .2 2 .3 2 .2 2 .3 2 .2 2 .3 2 .3 2 .2 2 .3 2 .2 2 .3 2 .2 2 .2 2 .2 2 .2 2 .1 2 .2 2 .1 2 .1 2 .2 2 .1 2 .1 2 0 2 .1 2 .1 2 0 2 .1 2 0 2 .1 2 0 2 .1 2 0 2 0 2 .1 2 0 2 0 2 .1 2 0 2 0 2 0 2 .1 2 0 2 0 2 0 2 0 2 0 2 .1 2 0 2 0 2 0 2 0 2 0 2 .1 2 0 2 0 2 0 2 0 2 0 2 0 2 0 2 0 2 .1 2 0 2 0 2 0 2 0 2 0 2 0 2 0 2 0 2 0 2 0 2 .1 2 0 2 0 2 0 2 0 2 0 2 0 2 0 0 .2-2 0-2 0-2 0-2 0-2 0-2 0-2 0-2 0-2 0-2-.1-2 0-2 0-2 0-2 0-2 0-2 0-2 0-2 0-2 0-2 0-2 0-2 0-2 0-2 0-2-.1-2 0-2 0-2 0-2 0-2 0-2 0-2 0-2 0-2-.1-2 0-2 0-2 0-2 0-2 0-2 0-2-.1-2 0-2 0-2 0-2 0-2-.1-2 0-2 0-2 0-2-.1-2 0-2-.1-2 0-2 0-2-.1-2-.1-2 0-2-.1-2-.1-2-.1-2-.1-2-.1-2-.1-2-.2-2-.1-2-.2-2-.2-2-.2-2-.2-2-.2-2-.2-2-.3-2-.2-2-.3-2-.2-2-.3-2-.2-2-.3-2-.2-2-.2-2-.2-2-.1-2-.2-2-.1-2-.2-2-.1-2-.1-2-.1-2-.1-2 0-2-.1-2-.1-2 0-2-.1-2 0-2-.1-2 0-2 0-2-.1-2 0-2 0-2-.1-2 0-2 0-2 0-2-.1-2 0-2 0-2 0-2 0-2 0-2-.1-2 0-2 0-2 0-2 0-2-.1-2 0-2 0-2 0-2 0-2 0-2 0-2-.1-2 0-2 0-2 0-2 0-2 0-2-.1-2 0-2 0-2 0-2 0-2-.1-2 0-2 0-2 0-2-.1-2 0-2 0-2-.1-2 0-2 0-2-.1-2 0-2-.1-2 0-2 0-2-.1-2-.1-2 0-2-.1-2 0-2-.1-2-.1-2 0-2-.1-2-.1-2-.1-2-.1-2-.1-2 0-2-.1-2-.1-2-.1-2-.1-2-.1-2-.1-2 0-2-.1-2-.1-2-.1-2 0-2-.1-2-.1-2 0-2-.1-2 0-2-.1-2 0-2-.1-2 0-2-.1-2 0-2 0-2-.1-2 0-2 0-2 0-2-.1-2 0-2 0-2 0-2 0-2-.1-2 0-2 0-2 0-2 0-2 0-2 0-2-.1-2 0-2 0-2 0-2 0-2 0-2 0-2 0-2 0-2 0-2 0-2 0-2-.1-2 0-2 0-2 0-2 0-2 0-2 0-2 0-2 0Z" fill="url(#gB)" fill-opacity="0.8"/>
<path d="M867.4 570.8l2 0 2 0 2 0 2 0 2 0 2 0 2 0 2 0 2 0 2 0 2 0 2 0 2 0 2 0 2 0 2 0 2 0 2 0 2 .1 2 0 2 0 2 0 2 0 2 0 2 0 2 0 2 0 2 0 2 0 2 0 2 0 2 .1 2 0 2 0 2 0 2 0 2 .1 2 0 2 0 2 0 2 .1 2 0 2 0 2 .1 2 0 2 .1 2 0 2 .1 2 0 2 .1 2 0 2 .1 2 .1 2 0 2 .1 2 .1 2 0 2 .1 2 .1 2 0 2 .1 2 .1 2 0 2 .1 2 .1 2 0 2 .1 2 0 2 .1 2 0 2 0 2 .1 2 0 2 0 2 0 2 0 2 0 2 .1 2 0 2 0 2-.1 2 0 2 0 2 0 2 0 2 0 2-.1 2 0 2 0 2-.1 2 0 2 0 2-.1 2 0 2-.1 2-.1 2 0 2-.1 2-.1 2-.1 2-.1 2-.1 2-.1 2-.1 2-.1 2-.1 2-.1 2-.2 2-.1 2-.2 2-.2 2-.2 2-.2 2-.2 2-.3 2-.3 2-.3 2-.4 2-.4 2-.4 2-.5 2-.6 2-.6 2-.8 2-.8 2-1 2-1.2 2-1.3 2-1.5 2-1.7 2-2 2-2.2 2-2.5 2-2.8 2-3.2 2-3.4 2-3.8 2-4.1 2-4.3 2-4.6 2-4.7 2-4.8 2-4.8 2-4.5 2-4 2-3.4 2-2.6 2-1.5 2-.3 2 .9 2 2.1 2 3.2 2 3.9 2 4.6 2 4.9 2 5.2 2 5.1 2 5.1 2 4.8 2 4.6 2 4.3 2 3.9 2 3.7 2 3.2 2 3 2 2.6 2 2.4 2 2 2 1.8 2 1.6 2 1.4 2 1.2 2 1 2 .9 2 .8 2 .7 2 .7 2 .5 2 .5 2 .4 2 .4 2 .4 2 .3 2 .3 2 .2 2 .3 2 .2 2 .2 2 .2 2 .2 2 .2 2 .1 2 .2 2 .1 2 .2 2 .1 2 .1 2 .1 2 .1 2 .1 2 .1 2 .1 2 .1 2 .1 2 .1 2 .1 2 0 2 .1 2 .1 2 0 2 .1 2 0 2 .1 2 0 2 .1 2 0 2 .1 2 0 2 .1 2 0 2 0 2 .1 2 0 0 1.2-2 0-2 0-2 0-2 0-2 0-2 0-2 0-2 0-2 0-2-.1-2 0-2 0-2 0-2 0-2 0-2 0-2 0-2 0-2 0-2 0-2 0-2 0-2 0-2 0-2-.1-2 0-2 0-2 0-2 0-2 0-2 0-2 0-2 0-2-.1-2 0-2 0-2 0-2 0-2 0-2 0-2-.1-2 0-2 0-2 0-2 0-2-.1-2 0-2 0-2 0-2-.1-2 0-2-.1-2 0-2 0-2-.1-2-.1-2 0-2-.1-2-.1-2-.1-2-.1-2-.1-2-.1-2-.2-2-.1-2-.2-2-.2-2-.2-2-.2-2-.2-2-.2-2-.3-2-.2-2-.3-2-.2-2-.3-2-.2-2-.3-2-.2-2-.2-2-.2-2-.1-2-.2-2-.1-2-.2-2-.1-2-.1-2-.1-2-.1-2 0-2-.1-2-.1-2 0-2-.1-2 0-2-.1-2 0-2 0-2-.1-2 0-2 0-2-.1-2 0-2 0-2 0-2-.1-2 0-2 0-2 0-2 0-2 0-2-.1-2 0-2 0-2 0-2 0-2-.1-2 0-2 0-2 0-2 0-2 0-2 0-2-.1-2 0-2 0-2 0-2 0-2 0-2-.1-2 0-2 0-2 0-2 0-2-.1-2 0-2 0-2 0-2-.1-2 0-2 0-2-.1-2 0-2 0-2-.1-2 0-2-.1-2 0-2 0-2-.1-2-.1-2 0-2-.1-2 0-2-.1-2-.1-2 0-2-.1-2-.1-2-.1-2-.1-2-.1-2 0-2-.1-2-.1-2-.1-2-.1-2-.1-2-.1-2 0-2-.1-2-.1-2-.1-2 0-2-.1-2-.1-2 0-2-.1-2 0-2-.1-2 0-2-.1-2 0-2-.1-2 0-2 0-2-.1-2 0-2 0-2 0-2-.1-2 0-2 0-2 0-2 0-2-.1-2 0-2 0-2 0-2 0-2 0-2 0-2-.1-2 0-2 0-2 0-2 0-2 0-2 0-2 0-2 0-2 0-2 0-2 0-2-.1-2 0-2 0-2 0-2 0-2 0-2 0-2 0-2 0Z" fill="url(#gG)" fill-opacity="0.7"/>
<path d="M867.4 569.1l2-.1 2 0 2-.1 2-.1 2 0 2-.1 2 0 2-.1 2-.1 2-.1 2 0 2-.1 2-.1 2-.1 2-.2 2-.1 2-.1 2-.2 2-.1 2-.2 2-.2 2-.2 2-.2 2-.3 2-.3 2-.3 2-.3 2-.4 2-.4 2-.4 2-.5 2-.5 2-.5 2-.6 2-.6 2-.7 2-.7 2-.8 2-.8 2-.8 2-.9 2-1 2-.9 2-1 2-1 2-1 2-1.1 2-1 2-1 2-1 2-.9 2-.8 2-.8 2-.6 2-.5 2-.4 2-.2 2 0 2 .2 2 .3 2 .5 2 .6 2 .8 2 .9 2 .9 2 1.1 2 1 2 1.1 2 1.2 2 1.1 2 1.1 2 1.1 2 1 2 1.1 2 .9 2 1 2 .9 2 .8 2 .8 2 .7 2 .7 2 .6 2 .6 2 .6 2 .5 2 .4 2 .4 2 .4 2 .4 2 .3 2 .2 2 .3 2 .2 2 .2 2 .1 2 .2 2 .1 2 .1 2 .1 2 0 2 .1 2 0 2 0 2 0 2 0 2-.1 2 0 2-.1 2-.1 2-.1 2-.1 2-.2 2-.1 2-.2 2-.2 2-.2 2-.3 2-.3 2-.4 2-.4 2-.4 2-.6 2-.6 2-.7 2-.8 2-1 2-1.1 2-1.3 2-1.5 2-1.7 2-1.9 2-2.2 2-2.5 2-2.8 2-3.1 2-3.5 2-3.7 2-4.1 2-4.3 2-4.6 2-4.7 2-4.8 2-4.7 2-4.4 2-4.1 2-3.4 2-2.5 2-1.5 2-.3 2 .9 2 2.2 2 3.1 2 4 2 4.5 2 5 2 5.1 2 5.2 2 5 2 4.9 2 4.6 2 4.3 2 4 2 3.6 2 3.3 2 2.9 2 2.7 2 2.3 2 2.1 2 1.8 2 1.6 2 1.4 2 1.2 2 1 2 1 2 .8 2 .7 2 .6 2 .5 2 .5 2 .5 2 .4 2 .3 2 .3 2 .3 2 .3 2 .3 2 .2 2 .2 2 .2 2 .2 2 .2 2 .2 2 .1 2 .2 2 .1 2 .1 2 .2 2 .1 2 .1 2 .1 2 .1 2 .1 2 .1 2 .1 2 0 2 .1 2 .1 2 .1 2 0 2 .1 2 .1 2 0 2 .1 2 0 2 .1 2 0 2 .1 2 0 2 .1 2 0 2 0 2 .1 2 0" fill="none" stroke="#f01010" stroke-width="2.8"/>
<path d="M867.4 570.2l2 0 2 0 2-.1 2 0 2-.1 2-.1 2 0 2-.1 2 0 2-.1 2-.1 2-.1 2-.1 2-.1 2-.1 2-.1 2-.1 2-.2 2-.1 2-.2 2-.2 2-.2 2-.2 2-.3 2-.3 2-.3 2-.3 2-.3 2-.4 2-.4 2-.5 2-.5 2-.5 2-.6 2-.6 2-.7 2-.7 2-.8 2-.7 2-.9 2-.9 2-.9 2-.9 2-1 2-1 2-1 2-1.1 2-1 2-1 2-.9 2-.9 2-.9 2-.7 2-.6 2-.5 2-.3 2-.2 2 0 2 .2 2 .3 2 .5 2 .7 2 .8 2 .9 2 .9 2 1.1 2 1.1 2 1.1 2 1.2 2 1.1 2 1.2 2 1.1 2 1 2 1.1 2 1 2 1 2 .9 2 .9 2 .8 2 .8 2 .7 2 .7 2 .6 2 .6 2 .5 2 .5 2 .5 2 .4 2 .4 2 .4 2 .3 2 .3 2 .3 2 .3 2 .2 2 .2 2 .2 2 .2 2 .2 2 .1 2 .2 2 .1 2 .1 2 .2 2 .1 2 .1 2 .1 2 .1 2 0 2 .1 2 .1 2 .1 2 .1 2 0 2 .1 2 .1 2 0 2 .1 2 .1 2 0 2 .1 2 .1 2 0 2 .1 2 .1 2 0 2 .1 2 .1 2 0 2 .1 2 .1 2 .1 2 .1 2 .1 2 .1 2 .1 2 .1 2 .1 2 .2 2 .2 2 .1 2 .2 2 .2 2 .2 2 .3 2 .2 2 .3 2 .2 2 .3 2 .3 2 .2 2 .3 2 .2 2 .3 2 .2 2 .2 2 .2 2 .2 2 .1 2 .2 2 .1 2 .1 2 .2 2 .1 2 .1 2 0 2 .1 2 .1 2 0 2 .1 2 0 2 .1 2 0 2 .1 2 0 2 0 2 .1 2 0 2 0 2 .1 2 0 2 0 2 0 2 .1 2 0 2 0 2 0 2 0 2 0 2 .1 2 0 2 0 2 0 2 0 2 0 2 .1 2 0 2 0 2 0 2 0 2 0 2 0 2 0 2 0 2 .1 2 0 2 0 2 0 2 0 2 0 2 0 2 0 2 0 2 0 2 0 2 .1 2 0 2 0 2 0 2 0 2 0 2 0 2 0" fill="none" stroke="#3a2ae0" stroke-width="3.2" stroke-opacity="0.62"/>
<path d="M867.4 571.3l2 0 2 0 2 0 2 0 2 0 2 0 2 0 2 0 2 0 2 0 2 0 2 0 2 0 2 0 2 0 2 0 2 0 2 0 2 .1 2 0 2 0 2 0 2 0 2 0 2 0 2 0 2 0 2 0 2 0 2 0 2 0 2 .1 2 0 2 0 2 0 2 0 2 .1 2 0 2 0 2 0 2 .1 2 0 2 0 2 .1 2 0 2 .1 2 0 2 .1 2 0 2 .1 2 0 2 .1 2 .1 2 0 2 .1 2 .1 2 0 2 .1 2 .1 2 0 2 .1 2 .1 2 0 2 .1 2 .1 2 0 2 .1 2 0 2 .1 2 0 2 0 2 .1 2 0 2 0 2 0 2 0 2 0 2 .1 2 0 2 0 2-.1 2 0 2 0 2 0 2 0 2 0 2-.1 2 0 2 0 2-.1 2 0 2 0 2-.1 2 0 2-.1 2-.1 2 0 2-.1 2-.1 2-.1 2-.1 2-.1 2-.1 2-.1 2-.1 2-.1 2-.1 2-.2 2-.1 2-.2 2-.2 2-.2 2-.2 2-.2 2-.3 2-.3 2-.3 2-.4 2-.4 2-.4 2-.5 2-.6 2-.6 2-.8 2-.8 2-1 2-1.2 2-1.3 2-1.5 2-1.7 2-2 2-2.2 2-2.5 2-2.8 2-3.2 2-3.4 2-3.8 2-4.1 2-4.3 2-4.6 2-4.7 2-4.8 2-4.8 2-4.5 2-4 2-3.4 2-2.6 2-1.5 2-.3 2 .9 2 2.1 2 3.2 2 3.9 2 4.6 2 4.9 2 5.2 2 5.1 2 5.1 2 4.8 2 4.6 2 4.3 2 3.9 2 3.7 2 3.2 2 3 2 2.6 2 2.4 2 2 2 1.8 2 1.6 2 1.4 2 1.2 2 1 2 .9 2 .8 2 .7 2 .7 2 .5 2 .5 2 .4 2 .4 2 .4 2 .3 2 .3 2 .2 2 .3 2 .2 2 .2 2 .2 2 .2 2 .2 2 .1 2 .2 2 .1 2 .2 2 .1 2 .1 2 .1 2 .1 2 .1 2 .1 2 .1 2 .1 2 .1 2 .1 2 .1 2 0 2 .1 2 .1 2 0 2 .1 2 0 2 .1 2 0 2 .1 2 0 2 .1 2 0 2 .1 2 0 2 0 2 .1 2 0" fill="none" stroke="#3f7f1f" stroke-width="3.2" stroke-opacity="0.62"/>
<path d="M867.4 571.9l2 0 2 0 2 0 2 0 2 0 2 0 2 0 2 0 2 .1 2 0 2 0 2 0 2 0 2 0 2 0 2 0 2 0 2 0 2 0 2 0 2 .1 2 0 2 0 2 0 2 0 2 0 2 0 2 .1 2 0 2 0 2 0 2 0 2 .1 2 0 2 0 2 0 2 .1 2 0 2 0 2 .1 2 0 2 .1 2 0 2 .1 2 0 2 .1 2 0 2 .1 2 .1 2 0 2 .1 2 .1 2 .1 2 0 2 .1 2 .1 2 .1 2 .1 2 .1 2 .1 2 0 2 .1 2 .1 2 .1 2 .1 2 .1 2 0 2 .1 2 .1 2 0 2 .1 2 0 2 .1 2 .1 2 0 2 0 2 .1 2 0 2 .1 2 0 2 0 2 .1 2 0 2 0 2 .1 2 0 2 0 2 0 2 .1 2 0 2 0 2 0 2 0 2 .1 2 0 2 0 2 0 2 0 2 0 2 .1 2 0 2 0 2 0 2 0 2 0 2 0 2 .1 2 0 2 0 2 0 2 0 2 .1 2 0 2 0 2 0 2 0 2 0 2 .1 2 0 2 0 2 0 2 .1 2 0 2 0 2 .1 2 0 2 0 2 .1 2 0 2 .1 2 0 2 .1 2 .1 2 0 2 .1 2 .1 2 .1 2 .1 2 .2 2 .1 2 .2 2 .1 2 .2 2 .2 2 .2 2 .3 2 .2 2 .3 2 .2 2 .3 2 .2 2 .3 2 .2 2 .2 2 .2 2 .2 2 .2 2 .2 2 .1 2 .2 2 .1 2 .1 2 .1 2 .1 2 .1 2 .1 2 0 2 .1 2 .1 2 0 2 0 2 .1 2 0 2 .1 2 0 2 0 2 0 2 .1 2 0 2 0 2 0 2 0 2 .1 2 0 2 0 2 0 2 0 2 0 2 0 2 .1 2 0 2 0 2 0 2 0 2 0 2 0 2 0 2 0 2 .1 2 0 2 0 2 0 2 0 2 0 2 0 2 0 2 0 2 0 2 0 2 0 2 0 2 0 2 0 2 .1 2 0 2 0 2 0 2 0 2 0 2 0 2 0 2 0 2 0" fill="none" stroke="#7c0000" stroke-width="4.4" stroke-linecap="square"/>
<path d="M863.4 690.3a4.0 4.0 0 1 0 8.0 0a4.0 4.0 0 1 0 -8.0 0M873 691.1a4.0 4.0 0 1 0 8.0 0a4.0 4.0 0 1 0 -8.0 0M882.6 684.4a4.0 4.0 0 1 0 8.0 0a4.0 4.0 0 1 0 -8.0 0M892.2 687.6a4.0 4.0 0 1 0 8.0 0a4.0 4.0 0 1 0 -8.0 0M901.7 688.8a4.0 4.0 0 1 0 8.0 0a4.0 4.0 0 1 0 -8.0 0M911.3 688.3a4.0 4.0 0 1 0 8.0 0a4.0 4.0 0 1 0 -8.0 0M920.9 685.8a4.0 4.0 0 1 0 8.0 0a4.0 4.0 0 1 0 -8.0 0M930.5 684.7a4.0 4.0 0 1 0 8.0 0a4.0 4.0 0 1 0 -8.0 0M940.1 679.5a4.0 4.0 0 1 0 8.0 0a4.0 4.0 0 1 0 -8.0 0M949.7 675.6a4.0 4.0 0 1 0 8.0 0a4.0 4.0 0 1 0 -8.0 0M959.3 670.3a4.0 4.0 0 1 0 8.0 0a4.0 4.0 0 1 0 -8.0 0M968.8 665.2a4.0 4.0 0 1 0 8.0 0a4.0 4.0 0 1 0 -8.0 0M978.4 665.9a4.0 4.0 0 1 0 8.0 0a4.0 4.0 0 1 0 -8.0 0M988 671.6a4.0 4.0 0 1 0 8.0 0a4.0 4.0 0 1 0 -8.0 0M997.6 675.5a4.0 4.0 0 1 0 8.0 0a4.0 4.0 0 1 0 -8.0 0M1007.2 683a4.0 4.0 0 1 0 8.0 0a4.0 4.0 0 1 0 -8.0 0M1016.8 686.6a4.0 4.0 0 1 0 8.0 0a4.0 4.0 0 1 0 -8.0 0M1026.3 689.7a4.0 4.0 0 1 0 8.0 0a4.0 4.0 0 1 0 -8.0 0M1035.9 688.4a4.0 4.0 0 1 0 8.0 0a4.0 4.0 0 1 0 -8.0 0M1045.5 691.3a4.0 4.0 0 1 0 8.0 0a4.0 4.0 0 1 0 -8.0 0M1055.1 688.2a4.0 4.0 0 1 0 8.0 0a4.0 4.0 0 1 0 -8.0 0M1064.7 688.3a4.0 4.0 0 1 0 8.0 0a4.0 4.0 0 1 0 -8.0 0M1074.3 689.4a4.0 4.0 0 1 0 8.0 0a4.0 4.0 0 1 0 -8.0 0M1083.9 689.1a4.0 4.0 0 1 0 8.0 0a4.0 4.0 0 1 0 -8.0 0M1093.4 685.1a4.0 4.0 0 1 0 8.0 0a4.0 4.0 0 1 0 -8.0 0M1103 682.9a4.0 4.0 0 1 0 8.0 0a4.0 4.0 0 1 0 -8.0 0M1112.6 681.8a4.0 4.0 0 1 0 8.0 0a4.0 4.0 0 1 0 -8.0 0M1122.2 671a4.0 4.0 0 1 0 8.0 0a4.0 4.0 0 1 0 -8.0 0M1131.8 657a4.0 4.0 0 1 0 8.0 0a4.0 4.0 0 1 0 -8.0 0M1141.4 630.5a4.0 4.0 0 1 0 8.0 0a4.0 4.0 0 1 0 -8.0 0M1151 609.8a4.0 4.0 0 1 0 8.0 0a4.0 4.0 0 1 0 -8.0 0M1160.5 618.5a4.0 4.0 0 1 0 8.0 0a4.0 4.0 0 1 0 -8.0 0M1170.1 647.7a4.0 4.0 0 1 0 8.0 0a4.0 4.0 0 1 0 -8.0 0M1179.7 670.1a4.0 4.0 0 1 0 8.0 0a4.0 4.0 0 1 0 -8.0 0M1189.3 686.2a4.0 4.0 0 1 0 8.0 0a4.0 4.0 0 1 0 -8.0 0M1198.9 690.9a4.0 4.0 0 1 0 8.0 0a4.0 4.0 0 1 0 -8.0 0M1208.5 694.9a4.0 4.0 0 1 0 8.0 0a4.0 4.0 0 1 0 -8.0 0M1218 696.2a4.0 4.0 0 1 0 8.0 0a4.0 4.0 0 1 0 -8.0 0M1227.6 699.4a4.0 4.0 0 1 0 8.0 0a4.0 4.0 0 1 0 -8.0 0M1237.2 699.5a4.0 4.0 0 1 0 8.0 0a4.0 4.0 0 1 0 -8.0 0M1246.8 698.8a4.0 4.0 0 1 0 8.0 0a4.0 4.0 0 1 0 -8.0 0M1256.4 703.6a4.0 4.0 0 1 0 8.0 0a4.0 4.0 0 1 0 -8.0 0M1266 700.4a4.0 4.0 0 1 0 8.0 0a4.0 4.0 0 1 0 -8.0 0M1275.6 701.1a4.0 4.0 0 1 0 8.0 0a4.0 4.0 0 1 0 -8.0 0M1285.1 702.1a4.0 4.0 0 1 0 8.0 0a4.0 4.0 0 1 0 -8.0 0M1294.7 704.3a4.0 4.0 0 1 0 8.0 0a4.0 4.0 0 1 0 -8.0 0M1304.3 701.6a4.0 4.0 0 1 0 8.0 0a4.0 4.0 0 1 0 -8.0 0" fill="none" stroke="#000" stroke-width="1.5"/>
<path d="M867.4 689.7l2 0 2-.1 2 0 2-.1 2-.1 2 0 2-.1 2 0 2-.1 2-.1 2-.1 2-.1 2-.1 2-.1 2-.1 2-.2 2-.1 2-.2 2-.1 2-.2 2-.2 2-.3 2-.2 2-.3 2-.3 2-.4 2-.3 2-.4 2-.4 2-.5 2-.5 2-.5 2-.6 2-.6 2-.7 2-.7 2-.7 2-.8 2-.8 2-.8 2-.8 2-.9 2-.9 2-.9 2-.9 2-.8 2-.9 2-.8 2-.7 2-.7 2-.5 2-.4 2-.3 2-.2 2 0 2 .1 2 .3 2 .5 2 .5 2 .7 2 .8 2 .9 2 .9 2 1 2 1 2 1 2 1 2 1 2 1 2 1 2 .9 2 .9 2 .9 2 .8 2 .8 2 .8 2 .7 2 .6 2 .6 2 .6 2 .5 2 .5 2 .5 2 .4 2 .4 2 .3 2 .4 2 .3 2 .2 2 .3 2 .2 2 .2 2 .2 2 .2 2 .2 2 .1 2 .2 2 .1 2 .1 2 .2 2 .1 2 .1 2 .1 2 .1 2 0 2 .1 2 .1 2 .1 2 .1 2 0 2 .1 2 .1 2 0 2 .1 2 .1 2 0 2 .1 2 .1 2 0 2 .1 2 .1 2 0 2 .1 2 .1 2 .1 2 .1 2 0 2 .1 2 .1 2 .2 2 .1 2 .1 2 .2 2 .1 2 .2 2 .2 2 .2 2 .2 2 .3 2 .2 2 .3 2 .3 2 .3 2 .3 2 .3 2 .4 2 .3 2 .3 2 .3 2 .3 2 .3 2 .3 2 .2 2 .2 2 .2 2 .2 2 .2 2 .1 2 .2 2 .1 2 .1 2 .1 2 .1 2 .1 2 .1 2 0 2 .1 2 .1 2 0 2 .1 2 0 2 0 2 .1 2 0 2 0 2 .1 2 0 2 0 2 .1 2 0 2 0 2 0 2 .1 2 0 2 0 2 0 2 0 2 .1 2 0 2 0 2 0 2 0 2 0 2 .1 2 0 2 0 2 0 2 0 2 0 2 0 2 0 2 .1 2 0 2 0 2 0 2 0 2 0 2 0 2 0 2 0 2 0 2 0 2 .1 2 0 2 0 2 0 2 0 2 0 2 0 2 0 2 0 2 0 2 0 0 .2-2 0-2 0-2 0-2 0-2 0-2 0-2 0-2 0-2-.1-2 0-2 0-2 0-2 0-2 0-2 0-2 0-2 0-2 0-2 0-2 0-2 0-2 0-2-.1-2 0-2 0-2 0-2 0-2 0-2 0-2 0-2 0-2 0-2-.1-2 0-2 0-2 0-2 0-2 0-2 0-2-.1-2 0-2 0-2 0-2 0-2-.1-2 0-2 0-2 0-2-.1-2 0-2 0-2-.1-2 0-2 0-2-.1-2 0-2-.1-2 0-2-.1-2-.1-2-.1-2-.1-2-.1-2-.1-2-.1-2-.2-2-.1-2-.2-2-.2-2-.2-2-.3-2-.2-2-.3-2-.3-2-.3-2-.3-2-.3-2-.3-2-.3-2-.3-2-.3-2-.3-2-.3-2-.2-2-.2-2-.2-2-.2-2-.2-2-.2-2-.1-2-.1-2-.1-2-.1-2-.1-2-.1-2-.1-2-.1-2 0-2-.1-2 0-2-.1-2 0-2-.1-2 0-2 0-2-.1-2 0-2 0-2 0-2-.1-2 0-2 0-2 0-2-.1-2 0-2 0-2 0-2-.1-2 0-2 0-2 0-2 0-2-.1-2 0-2 0-2 0-2 0-2 0-2-.1-2 0-2 0-2 0-2 0-2-.1-2 0-2 0-2 0-2-.1-2 0-2 0-2 0-2-.1-2 0-2 0-2-.1-2 0-2 0-2-.1-2 0-2-.1-2 0-2-.1-2 0-2-.1-2 0-2-.1-2-.1-2 0-2-.1-2-.1-2-.1-2 0-2-.1-2-.1-2-.1-2-.1-2-.1-2-.1-2-.1-2-.1-2 0-2-.1-2-.1-2-.1-2-.1-2 0-2-.1-2-.1-2 0-2-.1-2-.1-2 0-2-.1-2 0-2-.1-2 0-2 0-2-.1-2 0-2-.1-2 0-2 0-2 0-2-.1-2 0-2 0-2 0-2 0-2-.1-2 0-2 0-2 0-2 0-2 0-2 0-2-.1-2 0-2 0-2 0-2 0-2 0-2 0-2 0-2 0-2 0-2-.1-2 0-2 0-2 0-2 0-2 0-2 0-2 0Z" fill="url(#gB)" fill-opacity="0.8"/>
<path d="M867.4 690.8l2 0 2 0 2 0 2 0 2 0 2 0 2 0 2 0 2 0 2 0 2 0 2 0 2 0 2 0 2 0 2 0 2 0 2 0 2 0 2 0 2 0 2 0 2 .1 2 0 2 0 2 0 2 0 2 0 2 0 2 0 2 .1 2 0 2 0 2 0 2 0 2 .1 2 0 2 0 2 .1 2 0 2 0 2 .1 2 0 2 .1 2 0 2 .1 2 0 2 .1 2 .1 2 0 2 .1 2 .1 2 0 2 .1 2 .1 2 0 2 .1 2 .1 2 0 2 .1 2 .1 2 0 2 .1 2 0 2 .1 2 0 2 .1 2 0 2 0 2 .1 2 0 2 0 2 0 2 0 2 0 2 0 2 0 2 0 2 0 2 0 2 0 2 0 2-.1 2 0 2 0 2-.1 2 0 2-.1 2 0 2-.1 2 0 2-.1 2-.1 2 0 2-.1 2-.1 2-.1 2-.1 2-.1 2-.1 2-.1 2-.2 2-.1 2-.2 2-.1 2-.2 2-.2 2-.2 2-.2 2-.3 2-.2 2-.3 2-.4 2-.3 2-.4 2-.5 2-.5 2-.6 2-.7 2-.8 2-.8 2-1.1 2-1.1 2-1.4 2-1.6 2-1.8 2-2 2-2.3 2-2.6 2-3 2-3.3 2-3.6 2-3.9 2-4.3 2-4.6 2-4.8 2-5 2-5.1 2-5.1 2-4.8 2-4.4 2-3.8 2-2.9 2-1.8 2-.5 2 .7 2 2.1 2 3.2 2 4.1 2 4.8 2 5.3 2 5.5 2 5.5 2 5.5 2 5.3 2 4.9 2 4.7 2 4.3 2 4 2 3.6 2 3.2 2 2.9 2 2.6 2 2.3 2 2 2 1.7 2 1.5 2 1.4 2 1.1 2 1 2 .9 2 .8 2 .7 2 .6 2 .5 2 .5 2 .4 2 .4 2 .4 2 .3 2 .3 2 .2 2 .3 2 .2 2 .2 2 .2 2 .2 2 .2 2 .2 2 .1 2 .2 2 .1 2 .2 2 .1 2 .1 2 .1 2 .1 2 .1 2 .1 2 .1 2 .1 2 .1 2 0 2 .1 2 .1 2 .1 2 0 2 .1 2 0 2 .1 2 0 2 .1 2 .1 2 0 2 0 2 .1 2 0 2 .1 2 0 2 0 2 .1 2 0 2 .1 0 1.1-2 0-2 0-2 0-2 0-2 0-2 0-2 0-2 0-2-.1-2 0-2 0-2 0-2 0-2 0-2 0-2 0-2 0-2 0-2 0-2 0-2 0-2 0-2-.1-2 0-2 0-2 0-2 0-2 0-2 0-2 0-2 0-2 0-2-.1-2 0-2 0-2 0-2 0-2 0-2 0-2-.1-2 0-2 0-2 0-2 0-2-.1-2 0-2 0-2 0-2-.1-2 0-2 0-2-.1-2 0-2 0-2-.1-2 0-2-.1-2 0-2-.1-2-.1-2-.1-2-.1-2-.1-2-.1-2-.1-2-.2-2-.1-2-.2-2-.2-2-.2-2-.3-2-.2-2-.3-2-.3-2-.3-2-.3-2-.3-2-.3-2-.3-2-.3-2-.3-2-.3-2-.3-2-.2-2-.2-2-.2-2-.2-2-.2-2-.2-2-.1-2-.1-2-.1-2-.1-2-.1-2-.1-2-.1-2-.1-2 0-2-.1-2 0-2-.1-2 0-2-.1-2 0-2 0-2-.1-2 0-2 0-2 0-2-.1-2 0-2 0-2 0-2-.1-2 0-2 0-2 0-2-.1-2 0-2 0-2 0-2 0-2-.1-2 0-2 0-2 0-2 0-2 0-2-.1-2 0-2 0-2 0-2 0-2-.1-2 0-2 0-2 0-2-.1-2 0-2 0-2 0-2-.1-2 0-2 0-2-.1-2 0-2 0-2-.1-2 0-2-.1-2 0-2-.1-2 0-2-.1-2 0-2-.1-2-.1-2 0-2-.1-2-.1-2-.1-2 0-2-.1-2-.1-2-.1-2-.1-2-.1-2-.1-2-.1-2-.1-2 0-2-.1-2-.1-2-.1-2-.1-2 0-2-.1-2-.1-2 0-2-.1-2-.1-2 0-2-.1-2 0-2-.1-2 0-2 0-2-.1-2 0-2-.1-2 0-2 0-2 0-2-.1-2 0-2 0-2 0-2 0-2-.1-2 0-2 0-2 0-2 0-2 0-2 0-2-.1-2 0-2 0-2 0-2 0-2 0-2 0-2 0-2 0-2 0-2-.1-2 0-2 0-2 0-2 0-2 0-2 0-2 0Z" fill="url(#gG)" fill-opacity="0.7"/>
<path d="M867.4 689.1l2-.1 2 0 2-.1 2 0 2-.1 2-.1 2 0 2-.1 2-.1 2-.1 2-.1 2-.1 2-.1 2-.1 2-.1 2-.2 2-.1 2-.2 2-.2 2-.2 2-.2 2-.2 2-.3 2-.3 2-.3 2-.3 2-.4 2-.4 2-.5 2-.4 2-.5 2-.6 2-.6 2-.6 2-.7 2-.7 2-.7 2-.8 2-.8 2-.8 2-.9 2-.9 2-.9 2-.9 2-.9 2-.9 2-.8 2-.8 2-.8 2-.6 2-.6 2-.4 2-.4 2-.1 2-.1 2 .2 2 .2 2 .5 2 .5 2 .7 2 .7 2 .9 2 .9 2 .9 2 1 2 1 2 1 2 1 2 .9 2 1 2 .9 2 .9 2 .8 2 .8 2 .7 2 .7 2 .7 2 .6 2 .5 2 .6 2 .4 2 .5 2 .4 2 .4 2 .3 2 .3 2 .2 2 .3 2 .2 2 .2 2 .1 2 .1 2 .1 2 .1 2 .1 2 .1 2 0 2 0 2 0 2 0 2 0 2-.1 2-.1 2 0 2-.1 2-.1 2-.2 2-.1 2-.2 2-.2 2-.2 2-.3 2-.3 2-.3 2-.3 2-.5 2-.5 2-.5 2-.6 2-.8 2-.9 2-.9 2-1.2 2-1.3 2-1.6 2-1.7 2-2.1 2-2.3 2-2.6 2-2.9 2-3.2 2-3.6 2-4 2-4.2 2-4.6 2-4.8 2-5 2-5.1 2-5 2-4.8 2-4.4 2-3.8 2-2.9 2-1.8 2-.5 2 .8 2 2.1 2 3.2 2 4.1 2 4.8 2 5.3 2 5.5 2 5.6 2 5.4 2 5.3 2 5 2 4.7 2 4.3 2 4 2 3.6 2 3.2 2 2.9 2 2.6 2 2.3 2 2 2 1.8 2 1.5 2 1.3 2 1.2 2 1 2 .9 2 .8 2 .6 2 .7 2 .5 2 .5 2 .4 2 .4 2 .4 2 .3 2 .3 2 .3 2 .2 2 .2 2 .3 2 .2 2 .2 2 .2 2 .1 2 .2 2 .1 2 .2 2 .1 2 .1 2 .2 2 .1 2 .1 2 .1 2 .1 2 .1 2 .1 2 0 2 .1 2 .1 2 .1 2 .1 2 0 2 .1 2 0 2 .1 2 .1 2 0 2 .1 2 0 2 .1 2 0 2 .1 2 0 2 0 2 .1 2 0 2 .1 2 0" fill="none" stroke="#f01010" stroke-width="2.8"/>
<path d="M867.4 690.3l2 0 2-.1 2 0 2-.1 2-.1 2 0 2-.1 2 0 2-.1 2-.1 2-.1 2-.1 2-.1 2-.1 2-.1 2-.2 2-.1 2-.2 2-.1 2-.2 2-.2 2-.3 2-.2 2-.3 2-.3 2-.4 2-.3 2-.4 2-.4 2-.5 2-.5 2-.5 2-.6 2-.6 2-.7 2-.7 2-.7 2-.8 2-.8 2-.8 2-.8 2-.9 2-.9 2-.9 2-.9 2-.8 2-.9 2-.8 2-.7 2-.7 2-.5 2-.4 2-.3 2-.2 2 0 2 .1 2 .3 2 .5 2 .5 2 .7 2 .8 2 .9 2 .9 2 1 2 1 2 1 2 1 2 1 2 1 2 1 2 .9 2 .9 2 .9 2 .8 2 .8 2 .8 2 .7 2 .6 2 .6 2 .6 2 .5 2 .5 2 .5 2 .4 2 .4 2 .3 2 .4 2 .3 2 .2 2 .3 2 .2 2 .2 2 .2 2 .2 2 .2 2 .1 2 .2 2 .1 2 .1 2 .2 2 .1 2 .1 2 .1 2 .1 2 0 2 .1 2 .1 2 .1 2 .1 2 0 2 .1 2 .1 2 0 2 .1 2 .1 2 0 2 .1 2 .1 2 0 2 .1 2 .1 2 0 2 .1 2 .1 2 .1 2 .1 2 0 2 .1 2 .1 2 .2 2 .1 2 .1 2 .2 2 .1 2 .2 2 .2 2 .2 2 .2 2 .3 2 .2 2 .3 2 .3 2 .3 2 .3 2 .3 2 .4 2 .3 2 .3 2 .3 2 .3 2 .3 2 .3 2 .2 2 .2 2 .2 2 .2 2 .2 2 .1 2 .2 2 .1 2 .1 2 .1 2 .1 2 .1 2 .1 2 0 2 .1 2 .1 2 0 2 .1 2 0 2 0 2 .1 2 0 2 0 2 .1 2 0 2 0 2 .1 2 0 2 0 2 0 2 .1 2 0 2 0 2 0 2 0 2 .1 2 0 2 0 2 0 2 0 2 0 2 .1 2 0 2 0 2 0 2 0 2 0 2 0 2 0 2 .1 2 0 2 0 2 0 2 0 2 0 2 0 2 0 2 0 2 0 2 0 2 .1 2 0 2 0 2 0 2 0 2 0 2 0 2 0 2 0 2 0 2 0" fill="none" stroke="#3a2ae0" stroke-width="3.2" stroke-opacity="0.62"/>
<path d="M867.4 691.3l2 0 2 0 2 0 2 0 2 0 2 0 2 0 2 0 2 0 2 0 2 0 2 0 2 0 2 0 2 0 2 0 2 0 2 0 2 0 2 0 2 0 2 0 2 .1 2 0 2 0 2 0 2 0 2 0 2 0 2 0 2 .1 2 0 2 0 2 0 2 0 2 .1 2 0 2 0 2 .1 2 0 2 0 2 .1 2 0 2 .1 2 0 2 .1 2 0 2 .1 2 .1 2 0 2 .1 2 .1 2 0 2 .1 2 .1 2 0 2 .1 2 .1 2 0 2 .1 2 .1 2 0 2 .1 2 0 2 .1 2 0 2 .1 2 0 2 0 2 .1 2 0 2 0 2 0 2 0 2 0 2 0 2 0 2 0 2 0 2 0 2 0 2 0 2-.1 2 0 2 0 2-.1 2 0 2-.1 2 0 2-.1 2 0 2-.1 2-.1 2 0 2-.1 2-.1 2-.1 2-.1 2-.1 2-.1 2-.1 2-.2 2-.1 2-.2 2-.1 2-.2 2-.2 2-.2 2-.2 2-.3 2-.2 2-.3 2-.4 2-.3 2-.4 2-.5 2-.5 2-.6 2-.7 2-.8 2-.8 2-1.1 2-1.1 2-1.4 2-1.6 2-1.8 2-2 2-2.3 2-2.6 2-3 2-3.3 2-3.6 2-3.9 2-4.3 2-4.6 2-4.8 2-5 2-5.1 2-5.1 2-4.8 2-4.4 2-3.8 2-2.9 2-1.8 2-.5 2 .7 2 2.1 2 3.2 2 4.1 2 4.8 2 5.3 2 5.5 2 5.5 2 5.5 2 5.3 2 4.9 2 4.7 2 4.3 2 4 2 3.6 2 3.2 2 2.9 2 2.6 2 2.3 2 2 2 1.7 2 1.5 2 1.4 2 1.1 2 1 2 .9 2 .8 2 .7 2 .6 2 .5 2 .5 2 .4 2 .4 2 .4 2 .3 2 .3 2 .2 2 .3 2 .2 2 .2 2 .2 2 .2 2 .2 2 .2 2 .1 2 .2 2 .1 2 .2 2 .1 2 .1 2 .1 2 .1 2 .1 2 .1 2 .1 2 .1 2 .1 2 0 2 .1 2 .1 2 .1 2 0 2 .1 2 0 2 .1 2 0 2 .1 2 .1 2 0 2 0 2 .1 2 0 2 .1 2 0 2 0 2 .1 2 0 2 .1" fill="none" stroke="#3f7f1f" stroke-width="3.2" stroke-opacity="0.62"/>
<path d="M867.4 691.9l2 0 2 0 2 0 2 0 2 0 2 0 2 0 2 .1 2 0 2 0 2 0 2 0 2 0 2 0 2 0 2 0 2 0 2 .1 2 0 2 0 2 0 2 0 2 0 2 0 2 .1 2 0 2 0 2 0 2 0 2 .1 2 0 2 0 2 0 2 .1 2 0 2 .1 2 0 2 0 2 .1 2 0 2 .1 2 0 2 .1 2 .1 2 0 2 .1 2 .1 2 0 2 .1 2 .1 2 .1 2 .1 2 0 2 .1 2 .1 2 .1 2 .1 2 .1 2 .1 2 .1 2 .1 2 0 2 .1 2 .1 2 .1 2 0 2 .1 2 .1 2 0 2 .1 2 0 2 .1 2 0 2 .1 2 0 2 .1 2 0 2 0 2 .1 2 0 2 0 2 .1 2 0 2 0 2 0 2 .1 2 0 2 0 2 0 2 .1 2 0 2 0 2 0 2 0 2 .1 2 0 2 0 2 0 2 0 2 0 2 .1 2 0 2 0 2 0 2 0 2 .1 2 0 2 0 2 0 2 .1 2 0 2 0 2 0 2 .1 2 0 2 0 2 0 2 .1 2 0 2 0 2 .1 2 0 2 .1 2 0 2 .1 2 0 2 .1 2 .1 2 .1 2 .1 2 .1 2 .1 2 .1 2 .1 2 .2 2 .2 2 .2 2 .2 2 .2 2 .2 2 .3 2 .3 2 .3 2 .3 2 .3 2 .3 2 .3 2 .3 2 .3 2 .3 2 .3 2 .2 2 .3 2 .2 2 .2 2 .2 2 .1 2 .2 2 .1 2 .1 2 .1 2 .1 2 .1 2 .1 2 .1 2 0 2 .1 2 0 2 .1 2 0 2 0 2 .1 2 0 2 0 2 .1 2 0 2 0 2 0 2 .1 2 0 2 0 2 0 2 0 2 .1 2 0 2 0 2 0 2 0 2 0 2 0 2 .1 2 0 2 0 2 0 2 0 2 0 2 0 2 0 2 0 2 0 2 .1 2 0 2 0 2 0 2 0 2 0 2 0 2 0 2 0 2 0 2 0 2 0 2 0 2 0 2 .1 2 0 2 0 2 0 2 0 2 0 2 0 2 0 2 0" fill="none" stroke="#7c0000" stroke-width="4.4" stroke-linecap="square"/>
</g>
<rect x="865.2" y="136.2" width="4.4" height="1.8" fill="#a86a6a"/>
<g stroke="#000" stroke-width="1.6" stroke-dasharray="3.5 2.5">
<line x1="980.3" y1="46" x2="980.3" y2="730"/>
<line x1="1166.8" y1="10" x2="1166.8" y2="730"/>
</g>
<text x="773.3" y="40.2" font-family="'Liberation Serif', serif" font-weight="bold" font-size="50" fill="#000" textLength="58" lengthAdjust="spacingAndGlyphs">(c)</text>
<text x="891" y="37.6" font-family="'Liberation Serif', serif" font-weight="bold" font-size="26" fill="#3a74f2">TiO<tspan font-size="17" dy="5">2</tspan><tspan dy="-5"> (Ti 2p</tspan><tspan font-size="17" dy="5">1/2</tspan><tspan dy="-5">)</tspan></text>
<text x="1093.6" y="129.4" font-family="'Liberation Serif', serif" font-weight="bold" font-size="26" fill="#108010">TiO<tspan font-size="17" dy="5">2</tspan><tspan dy="-5"> (Ti 2p</tspan><tspan font-size="17" dy="5">3/2</tspan><tspan dy="-5">)</tspan></text>
<text x="923.8" y="158.5" font-family="'Liberation Serif', serif" font-weight="bold" font-size="23" fill="#000" textLength="103" lengthAdjust="spacingAndGlyphs">464.3 ± 0.2</text>
<text x="1099.6" y="254" font-family="'Liberation Serif', serif" font-weight="bold" font-size="23" fill="#000" textLength="100.8" lengthAdjust="spacingAndGlyphs">458.6 ± 0.2</text>
<text x="1220" y="77.4" font-family="'Liberation Serif', serif" font-weight="bold" font-size="23" fill="#000" textLength="112.5" lengthAdjust="spacingAndGlyphs">800 °C 24 h</text>
<text x="1233.3" y="203.8" font-family="'Liberation Serif', serif" font-weight="bold" font-size="23" fill="#000" textLength="100.3" lengthAdjust="spacingAndGlyphs">800 °C 2 h</text>
<text x="1224.7" y="334.3" font-family="'Liberation Serif', serif" font-weight="bold" font-size="23" fill="#000" textLength="112.7" lengthAdjust="spacingAndGlyphs">650 °C 24 h</text>
<text x="1224.7" y="441.9" font-family="'Liberation Serif', serif" font-weight="bold" font-size="23" fill="#000" textLength="101.3" lengthAdjust="spacingAndGlyphs">650 °C 2 h</text>
<text x="1220.1" y="559.8" font-family="'Liberation Serif', serif" font-weight="bold" font-size="23" fill="#000" textLength="112.4" lengthAdjust="spacingAndGlyphs">500 °C 24 h</text>
<text x="1226" y="687.6" font-family="'Liberation Serif', serif" font-weight="bold" font-size="23" fill="#000" textLength="100.6" lengthAdjust="spacingAndGlyphs">500 °C 2 h</text>
<path d="M851.4 730.8V725.3M867.4 730.8V718.8M883.4 730.8V725.3M899.4 730.8V725.3M915.3 730.8V725.3M931.3 730.8V718.8M947.3 730.8V725.3M963.2 730.8V725.3M979.2 730.8V725.3M995.2 730.8V718.8M1011.2 730.8V725.3M1027.2 730.8V725.3M1043.1 730.8V725.3M1059.1 730.8V718.8M1075.1 730.8V725.3M1091 730.8V725.3M1107 730.8V725.3M1123 730.8V718.8M1139 730.8V725.3M1155 730.8V725.3M1170.9 730.8V725.3M1186.9 730.8V718.8M1202.9 730.8V725.3M1218.8 730.8V725.3M1234.8 730.8V725.3M1250.8 730.8V718.8M1266.8 730.8V725.3M1282.8 730.8V725.3M1298.7 730.8V725.3M1314.7 730.8V718.8" stroke="#000" stroke-width="2.2" fill="none"/>
<path d="M867.4 730.8V716.8M1314.7 730.8V716.8" stroke="#8a0000" stroke-width="2.6" fill="none"/>
<rect x="835.7" y="4.4" width="511.29999999999995" height="726.4" stroke="#000" stroke-width="2.5" fill="none"/>
<text x="1314.7" y="765.6" font-family="'Liberation Sans', sans-serif" font-weight="bold" font-size="26.5" fill="#000" text-anchor="middle">454</text>
<text x="1250.8" y="765.6" font-family="'Liberation Sans', sans-serif" font-weight="bold" font-size="26.5" fill="#000" text-anchor="middle">456</text>
<text x="1186.9" y="765.6" font-family="'Liberation Sans', sans-serif" font-weight="bold" font-size="26.5" fill="#000" text-anchor="middle">458</text>
<text x="1123" y="765.6" font-family="'Liberation Sans', sans-serif" font-weight="bold" font-size="26.5" fill="#000" text-anchor="middle">460</text>
<text x="1059.1" y="765.6" font-family="'Liberation Sans', sans-serif" font-weight="bold" font-size="26.5" fill="#000" text-anchor="middle">462</text>
<text x="995.2" y="765.6" font-family="'Liberation Sans', sans-serif" font-weight="bold" font-size="26.5" fill="#000" text-anchor="middle">464</text>
<text x="931.3" y="765.6" font-family="'Liberation Sans', sans-serif" font-weight="bold" font-size="26.5" fill="#000" text-anchor="middle">466</text>
<text x="867.4" y="765.6" font-family="'Liberation Sans', sans-serif" font-weight="bold" font-size="26.5" fill="#000" text-anchor="middle">468</text>
<text x="959.6" y="810.7" font-family="'Liberation Serif', serif" font-weight="bold" font-size="30" fill="#000" textLength="262.8" lengthAdjust="spacingAndGlyphs">Binding Energy (eV)</text>
<text x="809.9" y="484.1" font-family="'Liberation Serif', serif" font-weight="bold" font-size="33" fill="#000" textLength="204.7" lengthAdjust="spacingAndGlyphs" transform="rotate(-90 809.9 484.1)">Intensity (a.u.)</text>
<rect x="837.5" y="842.6" width="507.9000000000001" height="732.4" fill="#fffdf4"/>
<g clip-path="url(#cD)">
<path d="M854.6 933.9l2-.1 2 0 2 0 2 0 2 0 2 0 2 0 2 0 2 0 2-.1 2 0 2 0 2 0 2 0 2-.1 2 0 2 0 2 0 2 0 2-.1 2 0 2 0 2-.1 2 0 2 0 2-.1 2 0 2 0 2-.1 2 0 2-.1 2 0 2-.1 2 0 2-.1 2 0 2-.1 2-.1 2 0 2-.1 2-.1 2-.1 2-.1 2-.1 2-.1 2-.1 2-.1 2-.2 2-.1 2-.2 2-.1 2-.2 2-.2 2-.2 2-.3 2-.2 2-.3 2-.3 2-.3 2-.4 2-.3 2-.4 2-.5 2-.4 2-.5 2-.6 2-.6 2-.6 2-.6 2-.7 2-.7 2-.8 2-.7 2-.9 2-.8 2-.9 2-.8 2-.9 2-.9 2-.9 2-.9 2-.9 2-.9 2-.9 2-.9 2-.9 2-.8 2-.9 2-1 2-1 2-1.1 2-1.2 2-1.4 2-1.5 2-1.7 2-1.8 2-2 2-2.1 2-2.2 2-2.2 2-2.3 2-2.1 2-1.9 2-1.8 2-1.3 2-1 2-.6 2-.1 2 .2 2 .7 2 .9 2 1.1 2 1.2 2 1.2 2 1.2 2 1.1 2 .9 2 .7 2 .5 2 .2 2-.1 2-.3 2-.6 2-.9 2-1.1 2-1.3 2-1.6 2-1.6 2-1.8 2-1.9 2-1.8 2-1.8 2-1.7 2-1.6 2-1.3 2-1.1 2-.7 2-.3 2 0 2 .4 2 .7 2 1.1 2 1.3 2 1.5 2 1.8 2 2 2 2.1 2 2.3 2 2.4 2 2.4 2 2.4 2 2.5 2 2.4 2 2.4 2 2.4 2 2.3 2 2.2 2 2.2 2 2.1 2 2 2 1.9 2 1.8 2 1.7 2 1.6 2 1.6 2 1.4 2 1.3 2 1.3 2 1.2 2 1.1 2 1 2 1 2 .9 2 .8 2 .8 2 .7 2 .6 2 .6 2 .6 2 .5 2 .5 2 .4 2 .4 2 .4 2 .4 2 .3 2 .3 2 .3 2 .3 2 .2 2 .3 2 .2 2 .2 2 .2 2 .2 2 .2 2 .1 2 .2 2 .2 2 .1 2 .2 2 .1 2 .1 2 .1 2 .2 2 .1 2 .1 2 .1 2 .1 2 .1 2 .1 2 .1 2 .1 2 .1 2 .1 2 .1 2 0 2 .1 2 .1 2 .1 2 0 2 .1 2 .1 2 0 2 .1 2 .1 2 0 2 .1 2 0 2 .1 2 .1 2 0 2 .1 2 0 2 .1 0 1.9-2 0-2 0-2 0-2-.1-2 0-2 0-2 0-2 0-2 0-2 0-2 0-2-.1-2 0-2 0-2 0-2 0-2 0-2 0-2-.1-2 0-2 0-2 0-2 0-2 0-2 0-2-.1-2 0-2 0-2 0-2 0-2 0-2 0-2-.1-2 0-2 0-2 0-2 0-2 0-2 0-2-.1-2 0-2 0-2 0-2 0-2 0-2 0-2-.1-2 0-2 0-2 0-2 0-2 0-2 0-2-.1-2 0-2 0-2 0-2 0-2 0-2-.1-2 0-2 0-2 0-2 0-2-.1-2 0-2 0-2 0-2 0-2-.1-2 0-2 0-2 0-2-.1-2 0-2 0-2 0-2-.1-2 0-2 0-2 0-2-.1-2 0-2 0-2-.1-2 0-2 0-2-.1-2 0-2-.1-2 0-2 0-2-.1-2 0-2 0-2-.1-2 0-2-.1-2 0-2-.1-2 0-2 0-2-.1-2 0-2 0-2-.1-2 0-2 0-2-.1-2 0-2 0-2-.1-2 0-2 0-2-.1-2 0-2 0-2-.1-2 0-2 0-2-.1-2 0-2 0-2-.1-2 0-2 0-2-.1-2 0-2 0-2-.1-2 0-2 0-2-.1-2 0-2 0-2-.1-2 0-2 0-2-.1-2 0-2 0-2 0-2-.1-2 0-2 0-2 0-2-.1-2 0-2 0-2 0-2-.1-2 0-2 0-2 0-2 0-2-.1-2 0-2 0-2 0-2 0-2-.1-2 0-2 0-2 0-2 0-2 0-2-.1-2 0-2 0-2 0-2 0-2 0-2-.1-2 0-2 0-2 0-2 0-2 0-2 0-2-.1-2 0-2 0-2 0-2 0-2 0-2 0-2-.1-2 0-2 0-2 0-2 0-2 0-2 0-2-.1-2 0-2 0-2 0-2 0-2 0-2 0-2-.1-2 0-2 0-2 0-2 0-2 0-2 0-2 0-2-.1-2 0-2 0-2 0-2 0-2 0-2 0-2-.1-2 0-2 0-2 0-2 0-2 0-2 0-2 0-2-.1-2 0-2 0-2 0-2 0-2 0-2 0-2 0-2-.1-2 0-2 0-2 0Z" fill="#fcd8d8" fill-opacity="0.45"/>
<path d="M850.4 932.3a4.2 4.2 0 1 0 8.4 0a4.2 4.2 0 1 0 -8.4 0M862.2 934.1a4.2 4.2 0 1 0 8.4 0a4.2 4.2 0 1 0 -8.4 0M874 933.8a4.2 4.2 0 1 0 8.4 0a4.2 4.2 0 1 0 -8.4 0M885.8 931.2a4.2 4.2 0 1 0 8.4 0a4.2 4.2 0 1 0 -8.4 0M897.6 931.3a4.2 4.2 0 1 0 8.4 0a4.2 4.2 0 1 0 -8.4 0M909.3 930.7a4.2 4.2 0 1 0 8.4 0a4.2 4.2 0 1 0 -8.4 0M921.1 931.9a4.2 4.2 0 1 0 8.4 0a4.2 4.2 0 1 0 -8.4 0M932.9 930.6a4.2 4.2 0 1 0 8.4 0a4.2 4.2 0 1 0 -8.4 0M944.7 931a4.2 4.2 0 1 0 8.4 0a4.2 4.2 0 1 0 -8.4 0M956.5 926.4a4.2 4.2 0 1 0 8.4 0a4.2 4.2 0 1 0 -8.4 0M968.3 929.5a4.2 4.2 0 1 0 8.4 0a4.2 4.2 0 1 0 -8.4 0M980.1 924.7a4.2 4.2 0 1 0 8.4 0a4.2 4.2 0 1 0 -8.4 0M991.9 922.2a4.2 4.2 0 1 0 8.4 0a4.2 4.2 0 1 0 -8.4 0M1003.7 916.3a4.2 4.2 0 1 0 8.4 0a4.2 4.2 0 1 0 -8.4 0M1015.5 910.5a4.2 4.2 0 1 0 8.4 0a4.2 4.2 0 1 0 -8.4 0M1027.2 905.9a4.2 4.2 0 1 0 8.4 0a4.2 4.2 0 1 0 -8.4 0M1039 898.8a4.2 4.2 0 1 0 8.4 0a4.2 4.2 0 1 0 -8.4 0M1050.8 885.9a4.2 4.2 0 1 0 8.4 0a4.2 4.2 0 1 0 -8.4 0M1062.6 875.6a4.2 4.2 0 1 0 8.4 0a4.2 4.2 0 1 0 -8.4 0M1074.4 876.8a4.2 4.2 0 1 0 8.4 0a4.2 4.2 0 1 0 -8.4 0M1086.2 880a4.2 4.2 0 1 0 8.4 0a4.2 4.2 0 1 0 -8.4 0M1098 879.3a4.2 4.2 0 1 0 8.4 0a4.2 4.2 0 1 0 -8.4 0M1109.8 875.2a4.2 4.2 0 1 0 8.4 0a4.2 4.2 0 1 0 -8.4 0M1121.6 865.3a4.2 4.2 0 1 0 8.4 0a4.2 4.2 0 1 0 -8.4 0M1133.4 862.7a4.2 4.2 0 1 0 8.4 0a4.2 4.2 0 1 0 -8.4 0M1145.1 872.8a4.2 4.2 0 1 0 8.4 0a4.2 4.2 0 1 0 -8.4 0M1156.9 886.4a4.2 4.2 0 1 0 8.4 0a4.2 4.2 0 1 0 -8.4 0M1168.7 898.5a4.2 4.2 0 1 0 8.4 0a4.2 4.2 0 1 0 -8.4 0M1180.5 908.8a4.2 4.2 0 1 0 8.4 0a4.2 4.2 0 1 0 -8.4 0M1192.3 919a4.2 4.2 0 1 0 8.4 0a4.2 4.2 0 1 0 -8.4 0M1204.1 925.6a4.2 4.2 0 1 0 8.4 0a4.2 4.2 0 1 0 -8.4 0M1215.9 927.6a4.2 4.2 0 1 0 8.4 0a4.2 4.2 0 1 0 -8.4 0M1227.7 929.3a4.2 4.2 0 1 0 8.4 0a4.2 4.2 0 1 0 -8.4 0M1239.5 932.5a4.2 4.2 0 1 0 8.4 0a4.2 4.2 0 1 0 -8.4 0M1251.3 934.1a4.2 4.2 0 1 0 8.4 0a4.2 4.2 0 1 0 -8.4 0M1263 933.5a4.2 4.2 0 1 0 8.4 0a4.2 4.2 0 1 0 -8.4 0M1274.8 935.3a4.2 4.2 0 1 0 8.4 0a4.2 4.2 0 1 0 -8.4 0M1286.6 936.6a4.2 4.2 0 1 0 8.4 0a4.2 4.2 0 1 0 -8.4 0M1298.4 935.3a4.2 4.2 0 1 0 8.4 0a4.2 4.2 0 1 0 -8.4 0M1310.2 934.9a4.2 4.2 0 1 0 8.4 0a4.2 4.2 0 1 0 -8.4 0M1322 936.8a4.2 4.2 0 1 0 8.4 0a4.2 4.2 0 1 0 -8.4 0" fill="none" stroke="#000" stroke-width="1.5"/>
<path d="M854.6 934.4l2 0 2 0 2 .1 2 0 2 0 2 0 2 0 2 0 2 0 2 0 2 0 2 0 2 0 2 0 2 0 2 0 2 0 2 0 2 0 2 0 2 0 2 0 2 0 2 0 2 0 2 0 2-.1 2 0 2 0 2 0 2 0 2 0 2 0 2 0 2 0 2 0 2 0 2 0 2 0 2-.1 2 0 2 0 2 0 2 0 2 0 2 0 2 0 2-.1 2 0 2 0 2 0 2 0 2-.1 2 0 2 0 2 0 2-.1 2 0 2 0 2-.1 2 0 2 0 2-.1 2 0 2 0 2-.1 2 0 2-.1 2 0 2-.1 2 0 2-.1 2-.1 2 0 2-.1 2-.1 2 0 2-.1 2-.1 2-.1 2-.1 2-.1 2-.1 2-.1 2-.1 2-.1 2-.1 2-.2 2-.1 2-.2 2-.2 2-.2 2-.2 2-.2 2-.2 2-.3 2-.3 2-.3 2-.3 2-.4 2-.4 2-.5 2-.5 2-.5 2-.6 2-.7 2-.7 2-.8 2-.9 2-1 2-1 2-1.2 2-1.2 2-1.3 2-1.5 2-1.5 2-1.7 2-1.8 2-1.8 2-2 2-2.2 2-2.2 2-2.3 2-2.4 2-2.5 2-2.5 2-2.6 2-2.6 2-2.6 2-2.6 2-2.4 2-2.3 2-2.2 2-1.9 2-1.7 2-1.3 2-1 2-.5 2-.2 2 .2 2 .6 2 .9 2 1.1 2 1.5 2 1.7 2 1.9 2 2 2 2.2 2 2.3 2 2.3 2 2.4 2 2.4 2 2.4 2 2.3 2 2.4 2 2.2 2 2.2 2 2.1 2 2.1 2 1.9 2 1.9 2 1.7 2 1.7 2 1.6 2 1.5 2 1.4 2 1.3 2 1.3 2 1.1 2 1.1 2 1 2 .9 2 .9 2 .8 2 .7 2 .7 2 .7 2 .6 2 .5 2 .5 2 .5 2 .4 2 .4 2 .4 2 .3 2 .3 2 .3 2 .3 2 .2 2 .3 2 .2 2 .2 2 .2 2 .2 2 .2 2 .2 2 .1 2 .2 2 .1 2 .2 2 .1 2 .1 2 .1 2 .2 2 .1 2 .1 2 .1 2 .1 2 .1 2 .1 2 .1 2 .1 2 0 2 .1 2 .1 2 .1 2 .1 2 0 2 .1 2 .1 2 0 2 .1 2 .1 2 0 2 .1 2 0 2 .1 2 .1 2 0 2 .1 2 0 2 .1 2 0 2 .1 2 0 0 1.7-2 0-2 0-2 0-2-.1-2 0-2 0-2 0-2 0-2 0-2 0-2 0-2-.1-2 0-2 0-2 0-2 0-2 0-2 0-2-.1-2 0-2 0-2 0-2 0-2 0-2 0-2-.1-2 0-2 0-2 0-2 0-2 0-2 0-2-.1-2 0-2 0-2 0-2 0-2 0-2 0-2-.1-2 0-2 0-2 0-2 0-2 0-2 0-2-.1-2 0-2 0-2 0-2 0-2 0-2 0-2-.1-2 0-2 0-2 0-2 0-2 0-2-.1-2 0-2 0-2 0-2 0-2-.1-2 0-2 0-2 0-2 0-2-.1-2 0-2 0-2 0-2-.1-2 0-2 0-2 0-2-.1-2 0-2 0-2 0-2-.1-2 0-2 0-2-.1-2 0-2 0-2-.1-2 0-2-.1-2 0-2 0-2-.1-2 0-2 0-2-.1-2 0-2-.1-2 0-2-.1-2 0-2 0-2-.1-2 0-2 0-2-.1-2 0-2 0-2-.1-2 0-2 0-2-.1-2 0-2 0-2-.1-2 0-2 0-2-.1-2 0-2 0-2-.1-2 0-2 0-2-.1-2 0-2 0-2-.1-2 0-2 0-2-.1-2 0-2 0-2-.1-2 0-2 0-2-.1-2 0-2 0-2-.1-2 0-2 0-2 0-2-.1-2 0-2 0-2 0-2-.1-2 0-2 0-2 0-2-.1-2 0-2 0-2 0-2 0-2-.1-2 0-2 0-2 0-2 0-2-.1-2 0-2 0-2 0-2 0-2 0-2-.1-2 0-2 0-2 0-2 0-2 0-2-.1-2 0-2 0-2 0-2 0-2 0-2 0-2-.1-2 0-2 0-2 0-2 0-2 0-2 0-2-.1-2 0-2 0-2 0-2 0-2 0-2 0-2-.1-2 0-2 0-2 0-2 0-2 0-2 0-2-.1-2 0-2 0-2 0-2 0-2 0-2 0-2 0-2-.1-2 0-2 0-2 0-2 0-2 0-2 0-2-.1-2 0-2 0-2 0-2 0-2 0-2 0-2 0-2-.1-2 0-2 0-2 0-2 0-2 0-2 0-2 0-2-.1-2 0-2 0-2 0Z" fill="url(#dB)" fill-opacity="0.7"/>
<path d="M854.6 934.9l2 0 2 0 2 0 2 0 2 0 2 0 2 0 2 0 2 .1 2 0 2 0 2 0 2 0 2 0 2 0 2 0 2 0 2 0 2 0 2 0 2 0 2 0 2 0 2 0 2 .1 2 0 2 0 2 0 2 0 2 0 2 0 2 0 2 0 2 0 2 0 2 0 2 0 2 0 2 0 2 0 2 0 2 0 2 0 2 0 2 0 2-.1 2 0 2 0 2 0 2 0 2 0 2 0 2 0 2 0 2-.1 2 0 2 0 2 0 2-.1 2 0 2 0 2 0 2-.1 2 0 2-.1 2 0 2-.1 2 0 2-.1 2-.1 2 0 2-.1 2-.1 2-.1 2-.2 2-.1 2-.2 2-.2 2-.3 2-.3 2-.3 2-.4 2-.5 2-.6 2-.7 2-.7 2-.9 2-1.1 2-1.2 2-1.3 2-1.5 2-1.7 2-1.8 2-2 2-2.1 2-2.2 2-2.4 2-2.4 2-2.5 2-2.4 2-2.3 2-2.2 2-1.9 2-1.6 2-1.2 2-.6 2-.2 2 .4 2 .9 2 1.4 2 1.7 2 2.1 2 2.3 2 2.4 2 2.5 2 2.5 2 2.5 2 2.4 2 2.3 2 2.1 2 2 2 1.8 2 1.7 2 1.5 2 1.3 2 1.2 2 1.1 2 .9 2 .8 2 .7 2 .6 2 .5 2 .5 2 .4 2 .3 2 .3 2 .3 2 .2 2 .2 2 .2 2 .2 2 .1 2 .2 2 .1 2 .1 2 .1 2 .2 2 .1 2 .1 2 0 2 .1 2 .1 2 .1 2 .1 2 0 2 .1 2 .1 2 0 2 .1 2 .1 2 0 2 .1 2 0 2 .1 2 0 2 .1 2 0 2 0 2 .1 2 0 2 .1 2 0 2 0 2 .1 2 0 2 0 2 .1 2 0 2 0 2 .1 2 0 2 0 2 0 2 .1 2 0 2 0 2 0 2 .1 2 0 2 0 2 0 2 .1 2 0 2 0 2 0 2 0 2 .1 2 0 2 0 2 0 2 .1 2 0 2 0 2 0 2 0 2 0 2 .1 2 0 2 0 2 0 2 0 2 .1 2 0 2 0 2 0 2 0 2 0 2 .1 2 0 2 0 2 0 2 0 2 .1 2 0 2 0 2 0 2 0 2 0 2 0 2 .1 2 0 2 0 2 0 2 0 2 0 0 .2-2 0-2 0-2 0-2-.1-2 0-2 0-2 0-2 0-2 0-2 0-2 0-2-.1-2 0-2 0-2 0-2 0-2 0-2 0-2-.1-2 0-2 0-2 0-2 0-2 0-2 0-2-.1-2 0-2 0-2 0-2 0-2 0-2 0-2-.1-2 0-2 0-2 0-2 0-2 0-2 0-2-.1-2 0-2 0-2 0-2 0-2 0-2 0-2-.1-2 0-2 0-2 0-2 0-2 0-2 0-2-.1-2 0-2 0-2 0-2 0-2 0-2-.1-2 0-2 0-2 0-2 0-2-.1-2 0-2 0-2 0-2 0-2-.1-2 0-2 0-2 0-2-.1-2 0-2 0-2 0-2-.1-2 0-2 0-2 0-2-.1-2 0-2 0-2-.1-2 0-2 0-2-.1-2 0-2-.1-2 0-2 0-2-.1-2 0-2 0-2-.1-2 0-2-.1-2 0-2-.1-2 0-2 0-2-.1-2 0-2 0-2-.1-2 0-2 0-2-.1-2 0-2 0-2-.1-2 0-2 0-2-.1-2 0-2 0-2-.1-2 0-2 0-2-.1-2 0-2 0-2-.1-2 0-2 0-2-.1-2 0-2 0-2-.1-2 0-2 0-2-.1-2 0-2 0-2-.1-2 0-2 0-2-.1-2 0-2 0-2 0-2-.1-2 0-2 0-2 0-2-.1-2 0-2 0-2 0-2-.1-2 0-2 0-2 0-2 0-2-.1-2 0-2 0-2 0-2 0-2-.1-2 0-2 0-2 0-2 0-2 0-2-.1-2 0-2 0-2 0-2 0-2 0-2-.1-2 0-2 0-2 0-2 0-2 0-2 0-2-.1-2 0-2 0-2 0-2 0-2 0-2 0-2-.1-2 0-2 0-2 0-2 0-2 0-2 0-2-.1-2 0-2 0-2 0-2 0-2 0-2 0-2-.1-2 0-2 0-2 0-2 0-2 0-2 0-2 0-2-.1-2 0-2 0-2 0-2 0-2 0-2 0-2-.1-2 0-2 0-2 0-2 0-2 0-2 0-2 0-2-.1-2 0-2 0-2 0-2 0-2 0-2 0-2 0-2-.1-2 0-2 0-2 0Z" fill="#b8f0c8" fill-opacity="0.5"/>
<path d="M854.6 934.7l2 0 2 0 2 0 2 .1 2 0 2 0 2 0 2 0 2 0 2 0 2 0 2 0 2 0 2 0 2 0 2 0 2 0 2 0 2 0 2 0 2-.1 2 0 2 0 2 0 2 0 2 0 2 0 2 0 2 0 2 0 2-.1 2 0 2 0 2 0 2 0 2-.1 2 0 2 0 2 0 2-.1 2 0 2-.1 2 0 2-.1 2 0 2-.1 2-.1 2 0 2-.1 2-.1 2-.1 2-.1 2-.2 2-.1 2-.2 2-.2 2-.2 2-.2 2-.2 2-.3 2-.3 2-.3 2-.3 2-.4 2-.3 2-.5 2-.4 2-.5 2-.5 2-.5 2-.5 2-.6 2-.6 2-.6 2-.6 2-.6 2-.6 2-.6 2-.5 2-.5 2-.4 2-.3 2-.3 2-.1 2-.1 2 .1 2 .2 2 .3 2 .4 2 .6 2 .6 2 .7 2 .7 2 .7 2 .8 2 .7 2 .7 2 .7 2 .7 2 .6 2 .6 2 .5 2 .6 2 .5 2 .4 2 .4 2 .4 2 .4 2 .3 2 .3 2 .3 2 .2 2 .2 2 .2 2 .2 2 .2 2 .2 2 .1 2 .2 2 .1 2 .1 2 .1 2 .1 2 .1 2 .1 2 .1 2 .1 2 .1 2 0 2 .1 2 .1 2 .1 2 0 2 .1 2 .1 2 0 2 .1 2 .1 2 0 2 .1 2 .1 2 0 2 .1 2 0 2 .1 2 0 2 .1 2 .1 2 0 2 .1 2 0 2 0 2 .1 2 0 2 .1 2 0 2 .1 2 0 2 0 2 .1 2 0 2 0 2 .1 2 0 2 0 2 .1 2 0 2 0 2 0 2 .1 2 0 2 0 2 0 2 .1 2 0 2 0 2 0 2 0 2 .1 2 0 2 0 2 0 2 .1 2 0 2 0 2 0 2 0 2 .1 2 0 2 0 2 0 2 0 2 0 2 .1 2 0 2 0 2 0 2 0 2 0 2 .1 2 0 2 0 2 0 2 0 2 0 2 .1 2 0 2 0 2 0 2 0 2 0 2 .1 2 0 2 0 2 0 2 0 2 0 2 .1 2 0 2 0 2 0 2 0 2 0 2 0 2 .1 2 0 2 0 2 0 2 0 2 0 2 0 2 .1 2 0 2 0 2 0 0 .1-2 0-2 0-2 0-2-.1-2 0-2 0-2 0-2 0-2 0-2 0-2 0-2-.1-2 0-2 0-2 0-2 0-2 0-2 0-2-.1-2 0-2 0-2 0-2 0-2 0-2 0-2-.1-2 0-2 0-2 0-2 0-2 0-2 0-2-.1-2 0-2 0-2 0-2 0-2 0-2 0-2-.1-2 0-2 0-2 0-2 0-2 0-2 0-2-.1-2 0-2 0-2 0-2 0-2 0-2 0-2-.1-2 0-2 0-2 0-2 0-2 0-2-.1-2 0-2 0-2 0-2 0-2-.1-2 0-2 0-2 0-2 0-2-.1-2 0-2 0-2 0-2-.1-2 0-2 0-2 0-2-.1-2 0-2 0-2 0-2-.1-2 0-2 0-2-.1-2 0-2 0-2-.1-2 0-2-.1-2 0-2 0-2-.1-2 0-2 0-2-.1-2 0-2-.1-2 0-2-.1-2 0-2 0-2-.1-2 0-2 0-2-.1-2 0-2 0-2-.1-2 0-2 0-2-.1-2 0-2 0-2-.1-2 0-2 0-2-.1-2 0-2 0-2-.1-2 0-2 0-2-.1-2 0-2 0-2-.1-2 0-2 0-2-.1-2 0-2 0-2-.1-2 0-2 0-2-.1-2 0-2 0-2-.1-2 0-2 0-2 0-2-.1-2 0-2 0-2 0-2-.1-2 0-2 0-2 0-2-.1-2 0-2 0-2 0-2 0-2-.1-2 0-2 0-2 0-2 0-2-.1-2 0-2 0-2 0-2 0-2 0-2-.1-2 0-2 0-2 0-2 0-2 0-2-.1-2 0-2 0-2 0-2 0-2 0-2 0-2-.1-2 0-2 0-2 0-2 0-2 0-2 0-2-.1-2 0-2 0-2 0-2 0-2 0-2 0-2-.1-2 0-2 0-2 0-2 0-2 0-2 0-2-.1-2 0-2 0-2 0-2 0-2 0-2 0-2 0-2-.1-2 0-2 0-2 0-2 0-2 0-2 0-2-.1-2 0-2 0-2 0-2 0-2 0-2 0-2 0-2-.1-2 0-2 0-2 0-2 0-2 0-2 0-2 0-2-.1-2 0-2 0-2 0Z" fill="#f8d0e0" fill-opacity="0.35"/>
<path d="M854.6 933.3l2-.1 2 0 2 0 2 0 2 0 2 0 2 0 2 0 2 0 2-.1 2 0 2 0 2 0 2 0 2-.1 2 0 2 0 2 0 2 0 2-.1 2 0 2 0 2-.1 2 0 2 0 2-.1 2 0 2 0 2-.1 2 0 2-.1 2 0 2-.1 2 0 2-.1 2 0 2-.1 2-.1 2 0 2-.1 2-.1 2-.1 2-.1 2-.1 2-.1 2-.1 2-.1 2-.2 2-.1 2-.2 2-.1 2-.2 2-.2 2-.2 2-.3 2-.2 2-.3 2-.3 2-.3 2-.4 2-.3 2-.4 2-.5 2-.4 2-.5 2-.6 2-.6 2-.6 2-.6 2-.7 2-.7 2-.8 2-.7 2-.9 2-.8 2-.9 2-.8 2-.9 2-.9 2-.9 2-.9 2-.9 2-.9 2-.9 2-.9 2-.9 2-.8 2-.9 2-1 2-1 2-1.1 2-1.2 2-1.4 2-1.5 2-1.7 2-1.8 2-2 2-2.1 2-2.2 2-2.2 2-2.3 2-2.1 2-1.9 2-1.8 2-1.3 2-1 2-.6 2-.1 2 .2 2 .7 2 .9 2 1.1 2 1.2 2 1.2 2 1.2 2 1.1 2 .9 2 .7 2 .5 2 .2 2-.1 2-.3 2-.6 2-.9 2-1.1 2-1.3 2-1.6 2-1.6 2-1.8 2-1.9 2-1.8 2-1.8 2-1.7 2-1.6 2-1.3 2-1.1 2-.7 2-.3 2 0 2 .4 2 .7 2 1.1 2 1.3 2 1.5 2 1.8 2 2 2 2.1 2 2.3 2 2.4 2 2.4 2 2.4 2 2.5 2 2.4 2 2.4 2 2.4 2 2.3 2 2.2 2 2.2 2 2.1 2 2 2 1.9 2 1.8 2 1.7 2 1.6 2 1.6 2 1.4 2 1.3 2 1.3 2 1.2 2 1.1 2 1 2 1 2 .9 2 .8 2 .8 2 .7 2 .6 2 .6 2 .6 2 .5 2 .5 2 .4 2 .4 2 .4 2 .4 2 .3 2 .3 2 .3 2 .3 2 .2 2 .3 2 .2 2 .2 2 .2 2 .2 2 .2 2 .1 2 .2 2 .2 2 .1 2 .2 2 .1 2 .1 2 .1 2 .2 2 .1 2 .1 2 .1 2 .1 2 .1 2 .1 2 .1 2 .1 2 .1 2 .1 2 .1 2 0 2 .1 2 .1 2 .1 2 0 2 .1 2 .1 2 0 2 .1 2 .1 2 0 2 .1 2 0 2 .1 2 .1 2 0 2 .1 2 0 2 .1" fill="none" stroke="#ff1414" stroke-width="4.0"/>
<path d="M854.6 935l2 0 2 0 2 .1 2 0 2 0 2 0 2 0 2 0 2 0 2 0 2 0 2 0 2 0 2 0 2 0 2 0 2 0 2 0 2 0 2 0 2 0 2 0 2 0 2 0 2 0 2 0 2-.1 2 0 2 0 2 0 2 0 2 0 2 0 2 0 2 0 2 0 2 0 2 0 2 0 2-.1 2 0 2 0 2 0 2 0 2 0 2 0 2 0 2-.1 2 0 2 0 2 0 2 0 2-.1 2 0 2 0 2 0 2-.1 2 0 2 0 2-.1 2 0 2 0 2-.1 2 0 2 0 2-.1 2 0 2-.1 2 0 2-.1 2 0 2-.1 2-.1 2 0 2-.1 2-.1 2 0 2-.1 2-.1 2-.1 2-.1 2-.1 2-.1 2-.1 2-.1 2-.1 2-.1 2-.2 2-.1 2-.2 2-.2 2-.2 2-.2 2-.2 2-.2 2-.3 2-.3 2-.3 2-.3 2-.4 2-.4 2-.5 2-.5 2-.5 2-.6 2-.7 2-.7 2-.8 2-.9 2-1 2-1 2-1.2 2-1.2 2-1.3 2-1.5 2-1.5 2-1.7 2-1.8 2-1.8 2-2 2-2.2 2-2.2 2-2.3 2-2.4 2-2.5 2-2.5 2-2.6 2-2.6 2-2.6 2-2.6 2-2.4 2-2.3 2-2.2 2-1.9 2-1.7 2-1.3 2-1 2-.5 2-.2 2 .2 2 .6 2 .9 2 1.1 2 1.5 2 1.7 2 1.9 2 2 2 2.2 2 2.3 2 2.3 2 2.4 2 2.4 2 2.4 2 2.3 2 2.4 2 2.2 2 2.2 2 2.1 2 2.1 2 1.9 2 1.9 2 1.7 2 1.7 2 1.6 2 1.5 2 1.4 2 1.3 2 1.3 2 1.1 2 1.1 2 1 2 .9 2 .9 2 .8 2 .7 2 .7 2 .7 2 .6 2 .5 2 .5 2 .5 2 .4 2 .4 2 .4 2 .3 2 .3 2 .3 2 .3 2 .2 2 .3 2 .2 2 .2 2 .2 2 .2 2 .2 2 .2 2 .1 2 .2 2 .1 2 .2 2 .1 2 .1 2 .1 2 .2 2 .1 2 .1 2 .1 2 .1 2 .1 2 .1 2 .1 2 .1 2 0 2 .1 2 .1 2 .1 2 .1 2 0 2 .1 2 .1 2 0 2 .1 2 .1 2 0 2 .1 2 0 2 .1 2 .1 2 0 2 .1 2 0 2 .1 2 0 2 .1 2 0" fill="none" stroke="#5a5af0" stroke-width="3.6" stroke-opacity="0.62"/>
<path d="M854.6 934.9l2 0 2 0 2 0 2 0 2 0 2 0 2 0 2 0 2 .1 2 0 2 0 2 0 2 0 2 0 2 0 2 0 2 0 2 0 2 0 2 0 2 0 2 0 2 0 2 0 2 .1 2 0 2 0 2 0 2 0 2 0 2 0 2 0 2 0 2 0 2 0 2 0 2 0 2 0 2 0 2 0 2 0 2 0 2 0 2 0 2 0 2-.1 2 0 2 0 2 0 2 0 2 0 2 0 2 0 2 0 2-.1 2 0 2 0 2 0 2-.1 2 0 2 0 2 0 2-.1 2 0 2-.1 2 0 2-.1 2 0 2-.1 2-.1 2 0 2-.1 2-.1 2-.1 2-.2 2-.1 2-.2 2-.2 2-.3 2-.3 2-.3 2-.4 2-.5 2-.6 2-.7 2-.7 2-.9 2-1.1 2-1.2 2-1.3 2-1.5 2-1.7 2-1.8 2-2 2-2.1 2-2.2 2-2.4 2-2.4 2-2.5 2-2.4 2-2.3 2-2.2 2-1.9 2-1.6 2-1.2 2-.6 2-.2 2 .4 2 .9 2 1.4 2 1.7 2 2.1 2 2.3 2 2.4 2 2.5 2 2.5 2 2.5 2 2.4 2 2.3 2 2.1 2 2 2 1.8 2 1.7 2 1.5 2 1.3 2 1.2 2 1.1 2 .9 2 .8 2 .7 2 .6 2 .5 2 .5 2 .4 2 .3 2 .3 2 .3 2 .2 2 .2 2 .2 2 .2 2 .1 2 .2 2 .1 2 .1 2 .1 2 .2 2 .1 2 .1 2 0 2 .1 2 .1 2 .1 2 .1 2 0 2 .1 2 .1 2 0 2 .1 2 .1 2 0 2 .1 2 0 2 .1 2 0 2 .1 2 0 2 0 2 .1 2 0 2 .1 2 0 2 0 2 .1 2 0 2 0 2 .1 2 0 2 0 2 .1 2 0 2 0 2 0 2 .1 2 0 2 0 2 0 2 .1 2 0 2 0 2 0 2 .1 2 0 2 0 2 0 2 0 2 .1 2 0 2 0 2 0 2 .1 2 0 2 0 2 0 2 0 2 0 2 .1 2 0 2 0 2 0 2 0 2 .1 2 0 2 0 2 0 2 0 2 0 2 .1 2 0 2 0 2 0 2 0 2 .1 2 0 2 0 2 0 2 0 2 0 2 0 2 .1 2 0 2 0 2 0 2 0 2 0" fill="none" stroke="#4aa650" stroke-width="3.6" stroke-opacity="0.85"/>
<path d="M854.6 934.7l2 0 2 0 2 0 2 .1 2 0 2 0 2 0 2 0 2 0 2 0 2 0 2 0 2 0 2 0 2 0 2 0 2 0 2 0 2 0 2 0 2-.1 2 0 2 0 2 0 2 0 2 0 2 0 2 0 2 0 2 0 2-.1 2 0 2 0 2 0 2 0 2-.1 2 0 2 0 2 0 2-.1 2 0 2-.1 2 0 2-.1 2 0 2-.1 2-.1 2 0 2-.1 2-.1 2-.1 2-.1 2-.2 2-.1 2-.2 2-.2 2-.2 2-.2 2-.2 2-.3 2-.3 2-.3 2-.3 2-.4 2-.3 2-.5 2-.4 2-.5 2-.5 2-.5 2-.5 2-.6 2-.6 2-.6 2-.6 2-.6 2-.6 2-.6 2-.5 2-.5 2-.4 2-.3 2-.3 2-.1 2-.1 2 .1 2 .2 2 .3 2 .4 2 .6 2 .6 2 .7 2 .7 2 .7 2 .8 2 .7 2 .7 2 .7 2 .7 2 .6 2 .6 2 .5 2 .6 2 .5 2 .4 2 .4 2 .4 2 .4 2 .3 2 .3 2 .3 2 .2 2 .2 2 .2 2 .2 2 .2 2 .2 2 .1 2 .2 2 .1 2 .1 2 .1 2 .1 2 .1 2 .1 2 .1 2 .1 2 .1 2 0 2 .1 2 .1 2 .1 2 0 2 .1 2 .1 2 0 2 .1 2 .1 2 0 2 .1 2 .1 2 0 2 .1 2 0 2 .1 2 0 2 .1 2 .1 2 0 2 .1 2 0 2 0 2 .1 2 0 2 .1 2 0 2 .1 2 0 2 0 2 .1 2 0 2 0 2 .1 2 0 2 0 2 .1 2 0 2 0 2 0 2 .1 2 0 2 0 2 0 2 .1 2 0 2 0 2 0 2 0 2 .1 2 0 2 0 2 0 2 .1 2 0 2 0 2 0 2 0 2 .1 2 0 2 0 2 0 2 0 2 0 2 .1 2 0 2 0 2 0 2 0 2 0 2 .1 2 0 2 0 2 0 2 0 2 0 2 .1 2 0 2 0 2 0 2 0 2 0 2 .1 2 0 2 0 2 0 2 0 2 0 2 .1 2 0 2 0 2 0 2 0 2 0 2 0 2 .1 2 0 2 0 2 0 2 0 2 0 2 0 2 .1 2 0 2 0 2 0" fill="none" stroke="#f0329a" stroke-width="3.6"/>
<path d="M854.6 935.9l2 0 2 0 2 0 2 .1 2 0 2 0 2 0 2 0 2 0 2 0 2 0 2 .1 2 0 2 0 2 0 2 0 2 0 2 0 2 0 2 .1 2 0 2 0 2 0 2 0 2 0 2 0 2 .1 2 0 2 0 2 0 2 0 2 0 2 0 2 0 2 .1 2 0 2 0 2 0 2 0 2 0 2 0 2 .1 2 0 2 0 2 0 2 0 2 0 2 0 2 .1 2 0 2 0 2 0 2 0 2 0 2 0 2 .1 2 0 2 0 2 0 2 0 2 0 2 0 2 .1 2 0 2 0 2 0 2 0 2 0 2 .1 2 0 2 0 2 0 2 0 2 0 2 .1 2 0 2 0 2 0 2 0 2 .1 2 0 2 0 2 0 2 0 2 .1 2 0 2 0 2 0 2 .1 2 0 2 0 2 0 2 .1 2 0 2 0 2 0 2 .1 2 0 2 0 2 .1 2 0 2 0 2 .1 2 0 2 0 2 .1 2 0 2 0 2 .1 2 0 2 0 2 .1 2 0 2 0 2 .1 2 0 2 0 2 .1 2 0 2 0 2 .1 2 0 2 0 2 .1 2 0 2 0 2 .1 2 0 2 0 2 .1 2 0 2 0 2 .1 2 0 2 0 2 .1 2 0 2 .1 2 0 2 .1 2 0 2 0 2 .1 2 0 2 0 2 .1 2 0 2 .1 2 0 2 0 2 .1 2 0 2 0 2 .1 2 0 2 0 2 0 2 .1 2 0 2 0 2 0 2 .1 2 0 2 0 2 0 2 .1 2 0 2 0 2 0 2 0 2 .1 2 0 2 0 2 0 2 0 2 .1 2 0 2 0 2 0 2 0 2 0 2 .1 2 0 2 0 2 0 2 0 2 0 2 0 2 .1 2 0 2 0 2 0 2 0 2 0 2 0 2 .1 2 0 2 0 2 0 2 0 2 0 2 0 2 .1 2 0 2 0 2 0 2 0 2 0 2 0 2 .1 2 0 2 0 2 0 2 0 2 0 2 0 2 .1 2 0 2 0 2 0 2 0 2 0 2 0 2 .1 2 0 2 0 2 0 2 0 2 0 2 0 2 0 2 .1 2 0 2 0 2 0" fill="none" stroke="#7c0000" stroke-width="4.4" stroke-linecap="square"/>
<path d="M854.6 1067.7l2 0 2-.1 2 0 2 0 2 0 2 0 2 0 2 0 2 0 2-.1 2 0 2 0 2 0 2 0 2 0 2-.1 2 0 2 0 2 0 2-.1 2 0 2 0 2 0 2-.1 2 0 2 0 2-.1 2 0 2 0 2-.1 2 0 2-.1 2 0 2-.1 2 0 2-.1 2 0 2-.1 2-.1 2 0 2-.1 2-.1 2-.1 2 0 2-.1 2-.1 2-.1 2-.2 2-.1 2-.1 2-.2 2-.1 2-.2 2-.1 2-.2 2-.2 2-.3 2-.2 2-.3 2-.3 2-.3 2-.3 2-.3 2-.4 2-.4 2-.5 2-.5 2-.5 2-.5 2-.6 2-.6 2-.6 2-.7 2-.7 2-.8 2-.8 2-.8 2-.8 2-.9 2-.9 2-1 2-.9 2-1 2-.9 2-1 2-1 2-.9 2-1 2-1 2-.9 2-1 2-1 2-1 2-1 2-1.1 2-1.2 2-1.1 2-1.2 2-1.2 2-1.1 2-1 2-.8 2-.8 2-.5 2-.4 2-.2 2-.1 2 0 2 0 2 .1 2-.1 2-.2 2-.3 2-.5 2-.7 2-.9 2-1.2 2-1.4 2-1.6 2-1.9 2-2.2 2-2.3 2-2.6 2-2.8 2-2.9 2-3 2-3.1 2-3.1 2-3.1 2-3 2-2.8 2-2.6 2-2.3 2-1.9 2-1.5 2-1 2-.5 2 .1 2 .5 2 1 2 1.4 2 1.8 2 2.1 2 2.4 2 2.7 2 2.9 2 3 2 3.1 2 3.2 2 3.3 2 3.2 2 3.2 2 3.2 2 3.1 2 3 2 3 2 2.8 2 2.7 2 2.6 2 2.5 2 2.3 2 2.3 2 2.1 2 2 2 1.8 2 1.8 2 1.6 2 1.5 2 1.5 2 1.3 2 1.2 2 1.2 2 1 2 1 2 .9 2 .8 2 .8 2 .7 2 .7 2 .6 2 .6 2 .5 2 .5 2 .4 2 .4 2 .4 2 .4 2 .3 2 .4 2 .3 2 .2 2 .3 2 .3 2 .2 2 .2 2 .2 2 .2 2 .2 2 .2 2 .2 2 .2 2 .1 2 .2 2 .1 2 .2 2 .1 2 .2 2 .1 2 .1 2 .1 2 .2 2 .1 2 .1 2 .1 2 .1 2 .1 2 .1 2 .1 2 .1 2 .1 2 0 2 .1 2 .1 2 .1 2 .1 2 0 2 .1 2 .1 2 .1 2 0 2 .1 2 .1 2 0 2 .1 2 0 0 2.4-2 0-2 0-2 0-2-.1-2 0-2 0-2 0-2 0-2 0-2 0-2-.1-2 0-2 0-2 0-2 0-2 0-2 0-2 0-2-.1-2 0-2 0-2 0-2 0-2 0-2 0-2-.1-2 0-2 0-2 0-2 0-2 0-2 0-2-.1-2 0-2 0-2 0-2 0-2 0-2-.1-2 0-2 0-2 0-2 0-2 0-2 0-2-.1-2 0-2 0-2 0-2 0-2 0-2-.1-2 0-2 0-2 0-2 0-2 0-2-.1-2 0-2 0-2 0-2 0-2-.1-2 0-2 0-2 0-2 0-2-.1-2 0-2 0-2 0-2 0-2-.1-2 0-2 0-2-.1-2 0-2 0-2 0-2-.1-2 0-2 0-2-.1-2 0-2 0-2-.1-2 0-2-.1-2 0-2-.1-2 0-2 0-2-.1-2 0-2-.1-2 0-2-.1-2 0-2-.1-2 0-2-.1-2 0-2 0-2-.1-2 0-2-.1-2 0-2-.1-2 0-2 0-2-.1-2 0-2 0-2-.1-2 0-2 0-2-.1-2 0-2 0-2 0-2-.1-2 0-2 0-2-.1-2 0-2 0-2-.1-2 0-2 0-2 0-2-.1-2 0-2 0-2 0-2-.1-2 0-2 0-2-.1-2 0-2 0-2 0-2-.1-2 0-2 0-2 0-2 0-2-.1-2 0-2 0-2 0-2-.1-2 0-2 0-2 0-2 0-2-.1-2 0-2 0-2 0-2 0-2 0-2-.1-2 0-2 0-2 0-2 0-2 0-2-.1-2 0-2 0-2 0-2 0-2 0-2-.1-2 0-2 0-2 0-2 0-2 0-2 0-2-.1-2 0-2 0-2 0-2 0-2 0-2 0-2-.1-2 0-2 0-2 0-2 0-2 0-2 0-2-.1-2 0-2 0-2 0-2 0-2 0-2 0-2-.1-2 0-2 0-2 0-2 0-2 0-2 0-2-.1-2 0-2 0-2 0-2 0-2 0-2 0-2 0-2-.1-2 0-2 0-2 0-2 0-2 0-2 0-2-.1-2 0-2 0-2 0-2 0-2 0-2 0-2 0-2-.1-2 0-2 0-2 0Z" fill="#fcd8d8" fill-opacity="0.45"/>
<path d="M850.4 1066a4.2 4.2 0 1 0 8.4 0a4.2 4.2 0 1 0 -8.4 0M862.2 1067.4a4.2 4.2 0 1 0 8.4 0a4.2 4.2 0 1 0 -8.4 0M874 1066.9a4.2 4.2 0 1 0 8.4 0a4.2 4.2 0 1 0 -8.4 0M885.8 1066.7a4.2 4.2 0 1 0 8.4 0a4.2 4.2 0 1 0 -8.4 0M897.6 1067.8a4.2 4.2 0 1 0 8.4 0a4.2 4.2 0 1 0 -8.4 0M909.3 1063.6a4.2 4.2 0 1 0 8.4 0a4.2 4.2 0 1 0 -8.4 0M921.1 1064.1a4.2 4.2 0 1 0 8.4 0a4.2 4.2 0 1 0 -8.4 0M932.9 1062.7a4.2 4.2 0 1 0 8.4 0a4.2 4.2 0 1 0 -8.4 0M944.7 1063.8a4.2 4.2 0 1 0 8.4 0a4.2 4.2 0 1 0 -8.4 0M956.5 1064.5a4.2 4.2 0 1 0 8.4 0a4.2 4.2 0 1 0 -8.4 0M968.3 1061.7a4.2 4.2 0 1 0 8.4 0a4.2 4.2 0 1 0 -8.4 0M980.1 1060.4a4.2 4.2 0 1 0 8.4 0a4.2 4.2 0 1 0 -8.4 0M991.9 1054a4.2 4.2 0 1 0 8.4 0a4.2 4.2 0 1 0 -8.4 0M1003.7 1052.6a4.2 4.2 0 1 0 8.4 0a4.2 4.2 0 1 0 -8.4 0M1015.5 1045.8a4.2 4.2 0 1 0 8.4 0a4.2 4.2 0 1 0 -8.4 0M1027.2 1043.5a4.2 4.2 0 1 0 8.4 0a4.2 4.2 0 1 0 -8.4 0M1039 1036a4.2 4.2 0 1 0 8.4 0a4.2 4.2 0 1 0 -8.4 0M1050.8 1029.3a4.2 4.2 0 1 0 8.4 0a4.2 4.2 0 1 0 -8.4 0M1062.6 1023.3a4.2 4.2 0 1 0 8.4 0a4.2 4.2 0 1 0 -8.4 0M1074.4 1022.9a4.2 4.2 0 1 0 8.4 0a4.2 4.2 0 1 0 -8.4 0M1086.2 1018.5a4.2 4.2 0 1 0 8.4 0a4.2 4.2 0 1 0 -8.4 0M1098 1005.6a4.2 4.2 0 1 0 8.4 0a4.2 4.2 0 1 0 -8.4 0M1109.8 989.3a4.2 4.2 0 1 0 8.4 0a4.2 4.2 0 1 0 -8.4 0M1121.6 977.4a4.2 4.2 0 1 0 8.4 0a4.2 4.2 0 1 0 -8.4 0M1133.4 977.7a4.2 4.2 0 1 0 8.4 0a4.2 4.2 0 1 0 -8.4 0M1145.1 990.6a4.2 4.2 0 1 0 8.4 0a4.2 4.2 0 1 0 -8.4 0M1156.9 1008.7a4.2 4.2 0 1 0 8.4 0a4.2 4.2 0 1 0 -8.4 0M1168.7 1024.9a4.2 4.2 0 1 0 8.4 0a4.2 4.2 0 1 0 -8.4 0M1180.5 1040.4a4.2 4.2 0 1 0 8.4 0a4.2 4.2 0 1 0 -8.4 0M1192.3 1046.8a4.2 4.2 0 1 0 8.4 0a4.2 4.2 0 1 0 -8.4 0M1204.1 1056.8a4.2 4.2 0 1 0 8.4 0a4.2 4.2 0 1 0 -8.4 0M1215.9 1059a4.2 4.2 0 1 0 8.4 0a4.2 4.2 0 1 0 -8.4 0M1227.7 1061.9a4.2 4.2 0 1 0 8.4 0a4.2 4.2 0 1 0 -8.4 0M1239.5 1062.7a4.2 4.2 0 1 0 8.4 0a4.2 4.2 0 1 0 -8.4 0M1251.3 1065.7a4.2 4.2 0 1 0 8.4 0a4.2 4.2 0 1 0 -8.4 0M1263 1066.6a4.2 4.2 0 1 0 8.4 0a4.2 4.2 0 1 0 -8.4 0M1274.8 1068a4.2 4.2 0 1 0 8.4 0a4.2 4.2 0 1 0 -8.4 0M1286.6 1067.7a4.2 4.2 0 1 0 8.4 0a4.2 4.2 0 1 0 -8.4 0M1298.4 1069.1a4.2 4.2 0 1 0 8.4 0a4.2 4.2 0 1 0 -8.4 0M1310.2 1072a4.2 4.2 0 1 0 8.4 0a4.2 4.2 0 1 0 -8.4 0M1322 1070.4a4.2 4.2 0 1 0 8.4 0a4.2 4.2 0 1 0 -8.4 0" fill="none" stroke="#000" stroke-width="1.5"/>
<path d="M854.6 1068.1l2 0 2 0 2 0 2 0 2 0 2 0 2 0 2 0 2 0 2 0 2 0 2 0 2 0 2 0 2 0 2 0 2 0 2 0 2-.1 2 0 2 0 2 0 2 0 2 0 2 0 2 0 2 0 2 0 2 0 2-.1 2 0 2 0 2 0 2 0 2 0 2 0 2-.1 2 0 2 0 2 0 2 0 2-.1 2 0 2 0 2 0 2-.1 2 0 2 0 2-.1 2 0 2 0 2-.1 2 0 2 0 2-.1 2 0 2-.1 2 0 2-.1 2 0 2-.1 2 0 2-.1 2-.1 2 0 2-.1 2-.1 2 0 2-.1 2-.1 2-.1 2-.1 2-.1 2-.1 2-.1 2-.1 2-.1 2-.1 2-.1 2-.2 2-.1 2-.1 2-.2 2-.2 2-.2 2-.1 2-.2 2-.3 2-.2 2-.3 2-.2 2-.3 2-.3 2-.4 2-.4 2-.4 2-.4 2-.5 2-.6 2-.5 2-.7 2-.7 2-.8 2-.8 2-1 2-1 2-1.2 2-1.2 2-1.3 2-1.5 2-1.6 2-1.7 2-1.9 2-2 2-2.1 2-2.3 2-2.5 2-2.6 2-2.7 2-2.9 2-3.1 2-3.1 2-3.3 2-3.4 2-3.4 2-3.5 2-3.5 2-3.5 2-3.4 2-3.3 2-3 2-2.8 2-2.5 2-2.1 2-1.6 2-1.2 2-.5 2 0 2 .4 2 .9 2 1.3 2 1.7 2 2.1 2 2.4 2 2.6 2 2.8 2 3 2 3.1 2 3.1 2 3.2 2 3.2 2 3.2 2 3.2 2 3 2 3 2 2.9 2 2.8 2 2.7 2 2.6 2 2.4 2 2.4 2 2.2 2 2.1 2 1.9 2 1.9 2 1.7 2 1.6 2 1.5 2 1.4 2 1.3 2 1.3 2 1.1 2 1 2 1 2 .9 2 .8 2 .8 2 .7 2 .6 2 .6 2 .6 2 .5 2 .5 2 .4 2 .4 2 .4 2 .4 2 .3 2 .3 2 .3 2 .3 2 .3 2 .2 2 .2 2 .2 2 .3 2 .2 2 .1 2 .2 2 .2 2 .2 2 .1 2 .2 2 .1 2 .2 2 .1 2 .1 2 .1 2 .2 2 .1 2 .1 2 .1 2 .1 2 .1 2 .1 2 .1 2 .1 2 .1 2 .1 2 .1 2 0 2 .1 2 .1 2 .1 2 .1 2 0 2 .1 2 .1 2 0 2 .1 2 .1 2 0 2 .1 2 0 2 .1 0 2.2-2 0-2 0-2 0-2-.1-2 0-2 0-2 0-2 0-2 0-2 0-2-.1-2 0-2 0-2 0-2 0-2 0-2 0-2 0-2-.1-2 0-2 0-2 0-2 0-2 0-2 0-2-.1-2 0-2 0-2 0-2 0-2 0-2 0-2-.1-2 0-2 0-2 0-2 0-2 0-2-.1-2 0-2 0-2 0-2 0-2 0-2 0-2-.1-2 0-2 0-2 0-2 0-2 0-2-.1-2 0-2 0-2 0-2 0-2 0-2-.1-2 0-2 0-2 0-2 0-2-.1-2 0-2 0-2 0-2 0-2-.1-2 0-2 0-2 0-2 0-2-.1-2 0-2 0-2-.1-2 0-2 0-2 0-2-.1-2 0-2 0-2-.1-2 0-2 0-2-.1-2 0-2-.1-2 0-2-.1-2 0-2 0-2-.1-2 0-2-.1-2 0-2-.1-2 0-2-.1-2 0-2-.1-2 0-2 0-2-.1-2 0-2-.1-2 0-2-.1-2 0-2 0-2-.1-2 0-2 0-2-.1-2 0-2 0-2-.1-2 0-2 0-2 0-2-.1-2 0-2 0-2-.1-2 0-2 0-2-.1-2 0-2 0-2 0-2-.1-2 0-2 0-2 0-2-.1-2 0-2 0-2-.1-2 0-2 0-2 0-2-.1-2 0-2 0-2 0-2 0-2-.1-2 0-2 0-2 0-2-.1-2 0-2 0-2 0-2 0-2-.1-2 0-2 0-2 0-2 0-2 0-2-.1-2 0-2 0-2 0-2 0-2 0-2-.1-2 0-2 0-2 0-2 0-2 0-2-.1-2 0-2 0-2 0-2 0-2 0-2 0-2-.1-2 0-2 0-2 0-2 0-2 0-2 0-2-.1-2 0-2 0-2 0-2 0-2 0-2 0-2-.1-2 0-2 0-2 0-2 0-2 0-2 0-2-.1-2 0-2 0-2 0-2 0-2 0-2 0-2-.1-2 0-2 0-2 0-2 0-2 0-2 0-2 0-2-.1-2 0-2 0-2 0-2 0-2 0-2 0-2-.1-2 0-2 0-2 0-2 0-2 0-2 0-2 0-2-.1-2 0-2 0-2 0Z" fill="url(#dB)" fill-opacity="0.7"/>
<path d="M854.6 1068.9l2 0 2 0 2 0 2 0 2 0 2 0 2 0 2 .1 2 0 2 0 2 0 2 0 2 0 2 0 2 0 2 0 2 0 2 .1 2 0 2 0 2 0 2 0 2 0 2 0 2 0 2 0 2 0 2 0 2 0 2 .1 2 0 2 0 2 0 2 0 2 0 2 0 2 0 2 0 2 0 2 0 2 0 2 0 2 0 2 0 2 0 2 0 2 0 2 0 2 0 2 0 2 0 2 0 2 0 2 0 2 0 2 0 2 0 2 0 2 0 2 0 2-.1 2 0 2 0 2 0 2 0 2-.1 2 0 2 0 2-.1 2 0 2-.1 2 0 2-.1 2-.1 2-.1 2-.1 2-.2 2-.2 2-.2 2-.2 2-.3 2-.4 2-.4 2-.4 2-.6 2-.6 2-.7 2-.8 2-.8 2-1 2-1.1 2-1.1 2-1.2 2-1.3 2-1.2 2-1.4 2-1.3 2-1.2 2-1.2 2-1.1 2-.8 2-.7 2-.4 2-.1 2 .2 2 .4 2 .7 2 1 2 1.1 2 1.2 2 1.3 2 1.4 2 1.3 2 1.4 2 1.3 2 1.3 2 1.1 2 1.2 2 1 2 .9 2 .8 2 .8 2 .7 2 .6 2 .5 2 .5 2 .4 2 .3 2 .3 2 .3 2 .2 2 .2 2 .2 2 .2 2 .1 2 .2 2 .1 2 .1 2 .1 2 .1 2 .1 2 .1 2 .1 2 .1 2 .1 2 .1 2 0 2 .1 2 .1 2 0 2 .1 2 .1 2 0 2 .1 2 0 2 .1 2 0 2 .1 2 0 2 .1 2 0 2 0 2 .1 2 0 2 0 2 .1 2 0 2 0 2 .1 2 0 2 0 2 .1 2 0 2 0 2 0 2 .1 2 0 2 0 2 0 2 .1 2 0 2 0 2 0 2 0 2 .1 2 0 2 0 2 0 2 .1 2 0 2 0 2 0 2 0 2 0 2 .1 2 0 2 0 2 0 2 0 2 .1 2 0 2 0 2 0 2 0 2 0 2 .1 2 0 2 0 2 0 2 0 2 0 2 .1 2 0 2 0 2 0 2 0 2 0 2 .1 2 0 2 0 2 0 2 0 2 0 2 .1 2 0 2 0 2 0 2 0 2 0 2 0 2 .1 2 0 2 0 2 0 2 0 0 .1-2 0-2 0-2 0-2-.1-2 0-2 0-2 0-2 0-2 0-2 0-2-.1-2 0-2 0-2 0-2 0-2 0-2 0-2 0-2-.1-2 0-2 0-2 0-2 0-2 0-2 0-2-.1-2 0-2 0-2 0-2 0-2 0-2 0-2-.1-2 0-2 0-2 0-2 0-2 0-2-.1-2 0-2 0-2 0-2 0-2 0-2 0-2-.1-2 0-2 0-2 0-2 0-2 0-2-.1-2 0-2 0-2 0-2 0-2 0-2-.1-2 0-2 0-2 0-2 0-2-.1-2 0-2 0-2 0-2 0-2-.1-2 0-2 0-2 0-2 0-2-.1-2 0-2 0-2-.1-2 0-2 0-2 0-2-.1-2 0-2 0-2-.1-2 0-2 0-2-.1-2 0-2-.1-2 0-2-.1-2 0-2 0-2-.1-2 0-2-.1-2 0-2-.1-2 0-2-.1-2 0-2-.1-2 0-2 0-2-.1-2 0-2-.1-2 0-2-.1-2 0-2 0-2-.1-2 0-2 0-2-.1-2 0-2 0-2-.1-2 0-2 0-2 0-2-.1-2 0-2 0-2-.1-2 0-2 0-2-.1-2 0-2 0-2 0-2-.1-2 0-2 0-2 0-2-.1-2 0-2 0-2-.1-2 0-2 0-2 0-2-.1-2 0-2 0-2 0-2 0-2-.1-2 0-2 0-2 0-2-.1-2 0-2 0-2 0-2 0-2-.1-2 0-2 0-2 0-2 0-2 0-2-.1-2 0-2 0-2 0-2 0-2 0-2-.1-2 0-2 0-2 0-2 0-2 0-2-.1-2 0-2 0-2 0-2 0-2 0-2 0-2-.1-2 0-2 0-2 0-2 0-2 0-2 0-2-.1-2 0-2 0-2 0-2 0-2 0-2 0-2-.1-2 0-2 0-2 0-2 0-2 0-2 0-2-.1-2 0-2 0-2 0-2 0-2 0-2 0-2-.1-2 0-2 0-2 0-2 0-2 0-2 0-2 0-2-.1-2 0-2 0-2 0-2 0-2 0-2 0-2-.1-2 0-2 0-2 0-2 0-2 0-2 0-2 0-2-.1-2 0-2 0-2 0Z" fill="#b8f0c8" fill-opacity="0.5"/>
<path d="M854.6 1068.7l2 0 2 0 2 0 2 0 2 0 2 0 2 0 2 0 2 0 2 0 2 .1 2 0 2 0 2 0 2 0 2 0 2 0 2 0 2 0 2 0 2 0 2 0 2 0 2 0 2 0 2-.1 2 0 2 0 2 0 2 0 2 0 2 0 2 0 2 0 2 0 2-.1 2 0 2 0 2 0 2 0 2-.1 2 0 2 0 2-.1 2 0 2 0 2-.1 2-.1 2 0 2-.1 2-.1 2 0 2-.1 2-.1 2-.2 2-.1 2-.1 2-.2 2-.2 2-.1 2-.2 2-.3 2-.2 2-.3 2-.3 2-.3 2-.3 2-.4 2-.4 2-.4 2-.4 2-.5 2-.5 2-.5 2-.5 2-.5 2-.5 2-.5 2-.5 2-.5 2-.5 2-.4 2-.4 2-.2 2-.2 2-.2 2 0 2 .1 2 .2 2 .3 2 .4 2 .5 2 .5 2 .6 2 .7 2 .6 2 .6 2 .7 2 .6 2 .6 2 .6 2 .5 2 .5 2 .5 2 .5 2 .4 2 .4 2 .3 2 .4 2 .3 2 .2 2 .3 2 .2 2 .2 2 .2 2 .2 2 .2 2 .1 2 .2 2 .1 2 .1 2 .1 2 .1 2 .1 2 .1 2 .1 2 .1 2 .1 2 .1 2 .1 2 0 2 .1 2 .1 2 .1 2 .1 2 0 2 .1 2 .1 2 0 2 .1 2 .1 2 0 2 .1 2 .1 2 0 2 .1 2 .1 2 0 2 .1 2 0 2 .1 2 0 2 .1 2 0 2 0 2 .1 2 0 2 .1 2 0 2 0 2 .1 2 0 2 0 2 .1 2 0 2 0 2 .1 2 0 2 0 2 0 2 .1 2 0 2 0 2 .1 2 0 2 0 2 0 2 0 2 .1 2 0 2 0 2 0 2 0 2 .1 2 0 2 0 2 0 2 0 2 .1 2 0 2 0 2 0 2 0 2 .1 2 0 2 0 2 0 2 0 2 0 2 .1 2 0 2 0 2 0 2 0 2 0 2 .1 2 0 2 0 2 0 2 0 2 0 2 .1 2 0 2 0 2 0 2 0 2 0 2 .1 2 0 2 0 2 0 2 0 2 0 2 .1 2 0 2 0 2 0 2 0 2 0 2 0 2 .1 2 0 2 0 2 0 2 0 0 .1-2 0-2 0-2 0-2-.1-2 0-2 0-2 0-2 0-2 0-2 0-2-.1-2 0-2 0-2 0-2 0-2 0-2 0-2 0-2-.1-2 0-2 0-2 0-2 0-2 0-2 0-2-.1-2 0-2 0-2 0-2 0-2 0-2 0-2-.1-2 0-2 0-2 0-2 0-2 0-2-.1-2 0-2 0-2 0-2 0-2 0-2 0-2-.1-2 0-2 0-2 0-2 0-2 0-2-.1-2 0-2 0-2 0-2 0-2 0-2-.1-2 0-2 0-2 0-2 0-2-.1-2 0-2 0-2 0-2 0-2-.1-2 0-2 0-2 0-2 0-2-.1-2 0-2 0-2-.1-2 0-2 0-2 0-2-.1-2 0-2 0-2-.1-2 0-2 0-2-.1-2 0-2-.1-2 0-2-.1-2 0-2 0-2-.1-2 0-2-.1-2 0-2-.1-2 0-2-.1-2 0-2-.1-2 0-2 0-2-.1-2 0-2-.1-2 0-2-.1-2 0-2 0-2-.1-2 0-2 0-2-.1-2 0-2 0-2-.1-2 0-2 0-2 0-2-.1-2 0-2 0-2-.1-2 0-2 0-2-.1-2 0-2 0-2 0-2-.1-2 0-2 0-2 0-2-.1-2 0-2 0-2-.1-2 0-2 0-2 0-2-.1-2 0-2 0-2 0-2 0-2-.1-2 0-2 0-2 0-2-.1-2 0-2 0-2 0-2 0-2-.1-2 0-2 0-2 0-2 0-2 0-2-.1-2 0-2 0-2 0-2 0-2 0-2-.1-2 0-2 0-2 0-2 0-2 0-2-.1-2 0-2 0-2 0-2 0-2 0-2 0-2-.1-2 0-2 0-2 0-2 0-2 0-2 0-2-.1-2 0-2 0-2 0-2 0-2 0-2 0-2-.1-2 0-2 0-2 0-2 0-2 0-2 0-2-.1-2 0-2 0-2 0-2 0-2 0-2 0-2-.1-2 0-2 0-2 0-2 0-2 0-2 0-2 0-2-.1-2 0-2 0-2 0-2 0-2 0-2 0-2-.1-2 0-2 0-2 0-2 0-2 0-2 0-2 0-2-.1-2 0-2 0-2 0Z" fill="#f8d0e0" fill-opacity="0.35"/>
<path d="M854.6 1067.1l2 0 2-.1 2 0 2 0 2 0 2 0 2 0 2 0 2 0 2-.1 2 0 2 0 2 0 2 0 2 0 2-.1 2 0 2 0 2 0 2-.1 2 0 2 0 2 0 2-.1 2 0 2 0 2-.1 2 0 2 0 2-.1 2 0 2-.1 2 0 2-.1 2 0 2-.1 2 0 2-.1 2-.1 2 0 2-.1 2-.1 2-.1 2 0 2-.1 2-.1 2-.1 2-.2 2-.1 2-.1 2-.2 2-.1 2-.2 2-.1 2-.2 2-.2 2-.3 2-.2 2-.3 2-.3 2-.3 2-.3 2-.3 2-.4 2-.4 2-.5 2-.5 2-.5 2-.5 2-.6 2-.6 2-.6 2-.7 2-.7 2-.8 2-.8 2-.8 2-.8 2-.9 2-.9 2-1 2-.9 2-1 2-.9 2-1 2-1 2-.9 2-1 2-1 2-.9 2-1 2-1 2-1 2-1 2-1.1 2-1.2 2-1.1 2-1.2 2-1.2 2-1.1 2-1 2-.8 2-.8 2-.5 2-.4 2-.2 2-.1 2 0 2 0 2 .1 2-.1 2-.2 2-.3 2-.5 2-.7 2-.9 2-1.2 2-1.4 2-1.6 2-1.9 2-2.2 2-2.3 2-2.6 2-2.8 2-2.9 2-3 2-3.1 2-3.1 2-3.1 2-3 2-2.8 2-2.6 2-2.3 2-1.9 2-1.5 2-1 2-.5 2 .1 2 .5 2 1 2 1.4 2 1.8 2 2.1 2 2.4 2 2.7 2 2.9 2 3 2 3.1 2 3.2 2 3.3 2 3.2 2 3.2 2 3.2 2 3.1 2 3 2 3 2 2.8 2 2.7 2 2.6 2 2.5 2 2.3 2 2.3 2 2.1 2 2 2 1.8 2 1.8 2 1.6 2 1.5 2 1.5 2 1.3 2 1.2 2 1.2 2 1 2 1 2 .9 2 .8 2 .8 2 .7 2 .7 2 .6 2 .6 2 .5 2 .5 2 .4 2 .4 2 .4 2 .4 2 .3 2 .4 2 .3 2 .2 2 .3 2 .3 2 .2 2 .2 2 .2 2 .2 2 .2 2 .2 2 .2 2 .2 2 .1 2 .2 2 .1 2 .2 2 .1 2 .2 2 .1 2 .1 2 .1 2 .2 2 .1 2 .1 2 .1 2 .1 2 .1 2 .1 2 .1 2 .1 2 .1 2 0 2 .1 2 .1 2 .1 2 .1 2 0 2 .1 2 .1 2 .1 2 0 2 .1 2 .1 2 0 2 .1 2 0" fill="none" stroke="#ff1414" stroke-width="4.0"/>
<path d="M854.6 1068.7l2 0 2 0 2 0 2 0 2 0 2 0 2 0 2 0 2 0 2 0 2 0 2 0 2 0 2 0 2 0 2 0 2 0 2 0 2-.1 2 0 2 0 2 0 2 0 2 0 2 0 2 0 2 0 2 0 2 0 2-.1 2 0 2 0 2 0 2 0 2 0 2 0 2-.1 2 0 2 0 2 0 2 0 2-.1 2 0 2 0 2 0 2-.1 2 0 2 0 2-.1 2 0 2 0 2-.1 2 0 2 0 2-.1 2 0 2-.1 2 0 2-.1 2 0 2-.1 2 0 2-.1 2-.1 2 0 2-.1 2-.1 2 0 2-.1 2-.1 2-.1 2-.1 2-.1 2-.1 2-.1 2-.1 2-.1 2-.1 2-.1 2-.2 2-.1 2-.1 2-.2 2-.2 2-.2 2-.1 2-.2 2-.3 2-.2 2-.3 2-.2 2-.3 2-.3 2-.4 2-.4 2-.4 2-.4 2-.5 2-.6 2-.5 2-.7 2-.7 2-.8 2-.8 2-1 2-1 2-1.2 2-1.2 2-1.3 2-1.5 2-1.6 2-1.7 2-1.9 2-2 2-2.1 2-2.3 2-2.5 2-2.6 2-2.7 2-2.9 2-3.1 2-3.1 2-3.3 2-3.4 2-3.4 2-3.5 2-3.5 2-3.5 2-3.4 2-3.3 2-3 2-2.8 2-2.5 2-2.1 2-1.6 2-1.2 2-.5 2 0 2 .4 2 .9 2 1.3 2 1.7 2 2.1 2 2.4 2 2.6 2 2.8 2 3 2 3.1 2 3.1 2 3.2 2 3.2 2 3.2 2 3.2 2 3 2 3 2 2.9 2 2.8 2 2.7 2 2.6 2 2.4 2 2.4 2 2.2 2 2.1 2 1.9 2 1.9 2 1.7 2 1.6 2 1.5 2 1.4 2 1.3 2 1.3 2 1.1 2 1 2 1 2 .9 2 .8 2 .8 2 .7 2 .6 2 .6 2 .6 2 .5 2 .5 2 .4 2 .4 2 .4 2 .4 2 .3 2 .3 2 .3 2 .3 2 .3 2 .2 2 .2 2 .2 2 .3 2 .2 2 .1 2 .2 2 .2 2 .2 2 .1 2 .2 2 .1 2 .2 2 .1 2 .1 2 .1 2 .2 2 .1 2 .1 2 .1 2 .1 2 .1 2 .1 2 .1 2 .1 2 .1 2 .1 2 .1 2 0 2 .1 2 .1 2 .1 2 .1 2 0 2 .1 2 .1 2 0 2 .1 2 .1 2 0 2 .1 2 0 2 .1" fill="none" stroke="#5a5af0" stroke-width="3.6" stroke-opacity="0.62"/>
<path d="M854.6 1068.9l2 0 2 0 2 0 2 0 2 0 2 0 2 0 2 .1 2 0 2 0 2 0 2 0 2 0 2 0 2 0 2 0 2 0 2 .1 2 0 2 0 2 0 2 0 2 0 2 0 2 0 2 0 2 0 2 0 2 0 2 .1 2 0 2 0 2 0 2 0 2 0 2 0 2 0 2 0 2 0 2 0 2 0 2 0 2 0 2 0 2 0 2 0 2 0 2 0 2 0 2 0 2 0 2 0 2 0 2 0 2 0 2 0 2 0 2 0 2 0 2 0 2-.1 2 0 2 0 2 0 2 0 2-.1 2 0 2 0 2-.1 2 0 2-.1 2 0 2-.1 2-.1 2-.1 2-.1 2-.2 2-.2 2-.2 2-.2 2-.3 2-.4 2-.4 2-.4 2-.6 2-.6 2-.7 2-.8 2-.8 2-1 2-1.1 2-1.1 2-1.2 2-1.3 2-1.2 2-1.4 2-1.3 2-1.2 2-1.2 2-1.1 2-.8 2-.7 2-.4 2-.1 2 .2 2 .4 2 .7 2 1 2 1.1 2 1.2 2 1.3 2 1.4 2 1.3 2 1.4 2 1.3 2 1.3 2 1.1 2 1.2 2 1 2 .9 2 .8 2 .8 2 .7 2 .6 2 .5 2 .5 2 .4 2 .3 2 .3 2 .3 2 .2 2 .2 2 .2 2 .2 2 .1 2 .2 2 .1 2 .1 2 .1 2 .1 2 .1 2 .1 2 .1 2 .1 2 .1 2 .1 2 0 2 .1 2 .1 2 0 2 .1 2 .1 2 0 2 .1 2 0 2 .1 2 0 2 .1 2 0 2 .1 2 0 2 0 2 .1 2 0 2 0 2 .1 2 0 2 0 2 .1 2 0 2 0 2 .1 2 0 2 0 2 0 2 .1 2 0 2 0 2 0 2 .1 2 0 2 0 2 0 2 0 2 .1 2 0 2 0 2 0 2 .1 2 0 2 0 2 0 2 0 2 0 2 .1 2 0 2 0 2 0 2 0 2 .1 2 0 2 0 2 0 2 0 2 0 2 .1 2 0 2 0 2 0 2 0 2 0 2 .1 2 0 2 0 2 0 2 0 2 0 2 .1 2 0 2 0 2 0 2 0 2 0 2 .1 2 0 2 0 2 0 2 0 2 0 2 0 2 .1 2 0 2 0 2 0 2 0" fill="none" stroke="#4aa650" stroke-width="3.6" stroke-opacity="0.85"/>
<path d="M854.6 1068.7l2 0 2 0 2 0 2 0 2 0 2 0 2 0 2 0 2 0 2 0 2 .1 2 0 2 0 2 0 2 0 2 0 2 0 2 0 2 0 2 0 2 0 2 0 2 0 2 0 2 0 2-.1 2 0 2 0 2 0 2 0 2 0 2 0 2 0 2 0 2 0 2-.1 2 0 2 0 2 0 2 0 2-.1 2 0 2 0 2-.1 2 0 2 0 2-.1 2-.1 2 0 2-.1 2-.1 2 0 2-.1 2-.1 2-.2 2-.1 2-.1 2-.2 2-.2 2-.1 2-.2 2-.3 2-.2 2-.3 2-.3 2-.3 2-.3 2-.4 2-.4 2-.4 2-.4 2-.5 2-.5 2-.5 2-.5 2-.5 2-.5 2-.5 2-.5 2-.5 2-.5 2-.4 2-.4 2-.2 2-.2 2-.2 2 0 2 .1 2 .2 2 .3 2 .4 2 .5 2 .5 2 .6 2 .7 2 .6 2 .6 2 .7 2 .6 2 .6 2 .6 2 .5 2 .5 2 .5 2 .5 2 .4 2 .4 2 .3 2 .4 2 .3 2 .2 2 .3 2 .2 2 .2 2 .2 2 .2 2 .2 2 .1 2 .2 2 .1 2 .1 2 .1 2 .1 2 .1 2 .1 2 .1 2 .1 2 .1 2 .1 2 .1 2 0 2 .1 2 .1 2 .1 2 .1 2 0 2 .1 2 .1 2 0 2 .1 2 .1 2 0 2 .1 2 .1 2 0 2 .1 2 .1 2 0 2 .1 2 0 2 .1 2 0 2 .1 2 0 2 0 2 .1 2 0 2 .1 2 0 2 0 2 .1 2 0 2 0 2 .1 2 0 2 0 2 .1 2 0 2 0 2 0 2 .1 2 0 2 0 2 .1 2 0 2 0 2 0 2 0 2 .1 2 0 2 0 2 0 2 0 2 .1 2 0 2 0 2 0 2 0 2 .1 2 0 2 0 2 0 2 0 2 .1 2 0 2 0 2 0 2 0 2 0 2 .1 2 0 2 0 2 0 2 0 2 0 2 .1 2 0 2 0 2 0 2 0 2 0 2 .1 2 0 2 0 2 0 2 0 2 0 2 .1 2 0 2 0 2 0 2 0 2 0 2 .1 2 0 2 0 2 0 2 0 2 0 2 0 2 .1 2 0 2 0 2 0 2 0" fill="none" stroke="#f0329a" stroke-width="3.6"/>
<path d="M854.6 1069.8l2 0 2 0 2 0 2 .1 2 0 2 0 2 0 2 0 2 0 2 0 2 0 2 .1 2 0 2 0 2 0 2 0 2 0 2 0 2 .1 2 0 2 0 2 0 2 0 2 0 2 0 2 0 2 .1 2 0 2 0 2 0 2 0 2 0 2 0 2 .1 2 0 2 0 2 0 2 0 2 0 2 0 2 .1 2 0 2 0 2 0 2 0 2 0 2 0 2 .1 2 0 2 0 2 0 2 0 2 0 2 0 2 .1 2 0 2 0 2 0 2 0 2 0 2 0 2 .1 2 0 2 0 2 0 2 0 2 0 2 .1 2 0 2 0 2 0 2 0 2 0 2 .1 2 0 2 0 2 0 2 0 2 0 2 .1 2 0 2 0 2 0 2 0 2 .1 2 0 2 0 2 0 2 .1 2 0 2 0 2 0 2 0 2 .1 2 0 2 0 2 0 2 .1 2 0 2 0 2 .1 2 0 2 0 2 0 2 .1 2 0 2 0 2 0 2 .1 2 0 2 0 2 .1 2 0 2 0 2 .1 2 0 2 0 2 0 2 .1 2 0 2 0 2 .1 2 0 2 0 2 .1 2 0 2 0 2 .1 2 0 2 .1 2 0 2 .1 2 0 2 0 2 .1 2 0 2 .1 2 0 2 .1 2 0 2 .1 2 0 2 .1 2 0 2 0 2 .1 2 0 2 .1 2 0 2 .1 2 0 2 0 2 .1 2 0 2 0 2 .1 2 0 2 0 2 0 2 .1 2 0 2 0 2 .1 2 0 2 0 2 0 2 0 2 .1 2 0 2 0 2 0 2 0 2 .1 2 0 2 0 2 0 2 0 2 .1 2 0 2 0 2 0 2 0 2 0 2 .1 2 0 2 0 2 0 2 0 2 0 2 .1 2 0 2 0 2 0 2 0 2 0 2 0 2 .1 2 0 2 0 2 0 2 0 2 0 2 .1 2 0 2 0 2 0 2 0 2 0 2 0 2 .1 2 0 2 0 2 0 2 0 2 0 2 0 2 .1 2 0 2 0 2 0 2 0 2 0 2 0 2 0 2 .1 2 0 2 0 2 0 2 0 2 0 2 0 2 .1 2 0 2 0 2 0" fill="none" stroke="#7c0000" stroke-width="4.4" stroke-linecap="square"/>
<path d="M854.6 1194.3l2 0 2 0 2 0 2-.1 2 0 2 0 2 0 2 0 2 0 2-.1 2 0 2 0 2 0 2-.1 2 0 2 0 2 0 2-.1 2 0 2 0 2-.1 2 0 2 0 2-.1 2 0 2 0 2-.1 2 0 2-.1 2 0 2-.1 2 0 2-.1 2-.1 2 0 2-.1 2-.1 2 0 2-.1 2-.1 2-.1 2-.1 2-.1 2-.1 2-.1 2-.1 2-.1 2-.2 2-.1 2-.2 2-.2 2-.1 2-.2 2-.3 2-.2 2-.2 2-.3 2-.3 2-.3 2-.4 2-.4 2-.4 2-.4 2-.5 2-.5 2-.5 2-.6 2-.6 2-.7 2-.7 2-.7 2-.8 2-.8 2-.9 2-.9 2-.9 2-1 2-1 2-1 2-1 2-1.1 2-1 2-1 2-1 2-1 2-.9 2-.9 2-.9 2-.8 2-.8 2-.8 2-.7 2-.8 2-.9 2-.9 2-.9 2-1 2-1.1 2-1.1 2-1.1 2-1.2 2-1 2-1 2-1 2-.7 2-.7 2-.6 2-.5 2-.5 2-.5 2-.5 2-.7 2-.8 2-1 2-1.3 2-1.4 2-1.7 2-1.9 2-2.1 2-2.4 2-2.6 2-2.8 2-2.9 2-3.2 2-3.2 2-3.2 2-3.2 2-3.2 2-3 2-2.8 2-2.4 2-2.1 2-1.6 2-1.1 2-.6 2 .1 2 .6 2 1 2 1.5 2 1.8 2 2.3 2 2.6 2 2.9 2 3 2 3.3 2 3.4 2 3.5 2 3.5 2 3.5 2 3.5 2 3.4 2 3.4 2 3.2 2 3.2 2 3.1 2 2.9 2 2.9 2 2.6 2 2.6 2 2.4 2 2.3 2 2.2 2 2 2 1.9 2 1.8 2 1.6 2 1.6 2 1.4 2 1.4 2 1.2 2 1.2 2 1 2 1 2 .9 2 .9 2 .8 2 .7 2 .6 2 .7 2 .5 2 .6 2 .4 2 .5 2 .4 2 .4 2 .4 2 .3 2 .4 2 .3 2 .3 2 .2 2 .3 2 .2 2 .3 2 .2 2 .2 2 .2 2 .2 2 .2 2 .2 2 .1 2 .2 2 .2 2 .1 2 .2 2 .1 2 .1 2 .2 2 .1 2 .1 2 .1 2 .1 2 .1 2 .2 2 .1 2 .1 2 .1 2 0 2 .1 2 .1 2 .1 2 .1 2 .1 2 .1 2 0 2 .1 2 .1 2 .1 2 0 2 .1 2 .1 2 0 2 .1 2 .1 2 0 0 2.5-2 0-2 0-2 0-2-.1-2 0-2 0-2 0-2 0-2 0-2 0-2-.1-2 0-2 0-2 0-2 0-2 0-2 0-2 0-2-.1-2 0-2 0-2 0-2 0-2 0-2 0-2-.1-2 0-2 0-2 0-2 0-2 0-2 0-2-.1-2 0-2 0-2 0-2 0-2 0-2-.1-2 0-2 0-2 0-2 0-2 0-2 0-2-.1-2 0-2 0-2 0-2 0-2 0-2-.1-2 0-2 0-2 0-2 0-2 0-2-.1-2 0-2 0-2 0-2 0-2 0-2-.1-2 0-2 0-2 0-2 0-2-.1-2 0-2 0-2 0-2-.1-2 0-2 0-2 0-2-.1-2 0-2 0-2 0-2-.1-2 0-2 0-2-.1-2 0-2 0-2-.1-2 0-2-.1-2 0-2 0-2-.1-2 0-2-.1-2 0-2-.1-2 0-2-.1-2 0-2-.1-2 0-2 0-2-.1-2 0-2-.1-2 0-2-.1-2 0-2 0-2-.1-2 0-2-.1-2 0-2 0-2-.1-2 0-2 0-2-.1-2 0-2 0-2-.1-2 0-2 0-2 0-2-.1-2 0-2 0-2-.1-2 0-2 0-2 0-2-.1-2 0-2 0-2-.1-2 0-2 0-2 0-2-.1-2 0-2 0-2 0-2-.1-2 0-2 0-2 0-2-.1-2 0-2 0-2 0-2 0-2-.1-2 0-2 0-2 0-2 0-2-.1-2 0-2 0-2 0-2 0-2-.1-2 0-2 0-2 0-2 0-2 0-2-.1-2 0-2 0-2 0-2 0-2 0-2-.1-2 0-2 0-2 0-2 0-2 0-2 0-2-.1-2 0-2 0-2 0-2 0-2 0-2 0-2-.1-2 0-2 0-2 0-2 0-2 0-2 0-2-.1-2 0-2 0-2 0-2 0-2 0-2 0-2-.1-2 0-2 0-2 0-2 0-2 0-2 0-2-.1-2 0-2 0-2 0-2 0-2 0-2 0-2 0-2-.1-2 0-2 0-2 0-2 0-2 0-2 0-2-.1-2 0-2 0-2 0-2 0-2 0-2 0-2 0-2-.1-2 0-2 0-2 0Z" fill="#fcd8d8" fill-opacity="0.45"/>
<path d="M850.4 1195.2a4.2 4.2 0 1 0 8.4 0a4.2 4.2 0 1 0 -8.4 0M862.2 1188.2a4.2 4.2 0 1 0 8.4 0a4.2 4.2 0 1 0 -8.4 0M874 1193.7a4.2 4.2 0 1 0 8.4 0a4.2 4.2 0 1 0 -8.4 0M885.8 1192.3a4.2 4.2 0 1 0 8.4 0a4.2 4.2 0 1 0 -8.4 0M897.6 1193.9a4.2 4.2 0 1 0 8.4 0a4.2 4.2 0 1 0 -8.4 0M909.3 1192.3a4.2 4.2 0 1 0 8.4 0a4.2 4.2 0 1 0 -8.4 0M921.1 1193.9a4.2 4.2 0 1 0 8.4 0a4.2 4.2 0 1 0 -8.4 0M932.9 1190.9a4.2 4.2 0 1 0 8.4 0a4.2 4.2 0 1 0 -8.4 0M944.7 1189.4a4.2 4.2 0 1 0 8.4 0a4.2 4.2 0 1 0 -8.4 0M956.5 1189.9a4.2 4.2 0 1 0 8.4 0a4.2 4.2 0 1 0 -8.4 0M968.3 1188a4.2 4.2 0 1 0 8.4 0a4.2 4.2 0 1 0 -8.4 0M980.1 1184.4a4.2 4.2 0 1 0 8.4 0a4.2 4.2 0 1 0 -8.4 0M991.9 1180.8a4.2 4.2 0 1 0 8.4 0a4.2 4.2 0 1 0 -8.4 0M1003.7 1177.2a4.2 4.2 0 1 0 8.4 0a4.2 4.2 0 1 0 -8.4 0M1015.5 1171.1a4.2 4.2 0 1 0 8.4 0a4.2 4.2 0 1 0 -8.4 0M1027.2 1163.5a4.2 4.2 0 1 0 8.4 0a4.2 4.2 0 1 0 -8.4 0M1039 1158.3a4.2 4.2 0 1 0 8.4 0a4.2 4.2 0 1 0 -8.4 0M1050.8 1150a4.2 4.2 0 1 0 8.4 0a4.2 4.2 0 1 0 -8.4 0M1062.6 1148.7a4.2 4.2 0 1 0 8.4 0a4.2 4.2 0 1 0 -8.4 0M1074.4 1141.9a4.2 4.2 0 1 0 8.4 0a4.2 4.2 0 1 0 -8.4 0M1086.2 1136.7a4.2 4.2 0 1 0 8.4 0a4.2 4.2 0 1 0 -8.4 0M1098 1121.6a4.2 4.2 0 1 0 8.4 0a4.2 4.2 0 1 0 -8.4 0M1109.8 1107a4.2 4.2 0 1 0 8.4 0a4.2 4.2 0 1 0 -8.4 0M1121.6 1097.2a4.2 4.2 0 1 0 8.4 0a4.2 4.2 0 1 0 -8.4 0M1133.4 1101.5a4.2 4.2 0 1 0 8.4 0a4.2 4.2 0 1 0 -8.4 0M1145.1 1119.7a4.2 4.2 0 1 0 8.4 0a4.2 4.2 0 1 0 -8.4 0M1156.9 1135.6a4.2 4.2 0 1 0 8.4 0a4.2 4.2 0 1 0 -8.4 0M1168.7 1155.8a4.2 4.2 0 1 0 8.4 0a4.2 4.2 0 1 0 -8.4 0M1180.5 1165.2a4.2 4.2 0 1 0 8.4 0a4.2 4.2 0 1 0 -8.4 0M1192.3 1177.1a4.2 4.2 0 1 0 8.4 0a4.2 4.2 0 1 0 -8.4 0M1204.1 1184.3a4.2 4.2 0 1 0 8.4 0a4.2 4.2 0 1 0 -8.4 0M1215.9 1187.1a4.2 4.2 0 1 0 8.4 0a4.2 4.2 0 1 0 -8.4 0M1227.7 1188.9a4.2 4.2 0 1 0 8.4 0a4.2 4.2 0 1 0 -8.4 0M1239.5 1190.1a4.2 4.2 0 1 0 8.4 0a4.2 4.2 0 1 0 -8.4 0M1251.3 1192.1a4.2 4.2 0 1 0 8.4 0a4.2 4.2 0 1 0 -8.4 0M1263 1195.1a4.2 4.2 0 1 0 8.4 0a4.2 4.2 0 1 0 -8.4 0M1274.8 1195.7a4.2 4.2 0 1 0 8.4 0a4.2 4.2 0 1 0 -8.4 0M1286.6 1194.7a4.2 4.2 0 1 0 8.4 0a4.2 4.2 0 1 0 -8.4 0M1298.4 1193.9a4.2 4.2 0 1 0 8.4 0a4.2 4.2 0 1 0 -8.4 0M1310.2 1197.1a4.2 4.2 0 1 0 8.4 0a4.2 4.2 0 1 0 -8.4 0M1322 1194.5a4.2 4.2 0 1 0 8.4 0a4.2 4.2 0 1 0 -8.4 0" fill="none" stroke="#000" stroke-width="1.5"/>
<path d="M854.6 1194.8l2 0 2 0 2 0 2 0 2 0 2 0 2 0 2 0 2 0 2 0 2 0 2 0 2 0 2-.1 2 0 2 0 2 0 2 0 2 0 2 0 2 0 2 0 2 0 2 0 2-.1 2 0 2 0 2 0 2 0 2 0 2 0 2-.1 2 0 2 0 2 0 2 0 2-.1 2 0 2 0 2 0 2-.1 2 0 2 0 2-.1 2 0 2 0 2-.1 2 0 2 0 2-.1 2 0 2-.1 2 0 2-.1 2 0 2-.1 2 0 2-.1 2 0 2-.1 2 0 2-.1 2-.1 2-.1 2 0 2-.1 2-.1 2-.1 2-.1 2-.1 2-.1 2-.1 2-.1 2-.1 2-.1 2-.2 2-.1 2-.2 2-.1 2-.2 2-.1 2-.2 2-.2 2-.2 2-.2 2-.3 2-.2 2-.3 2-.3 2-.3 2-.4 2-.3 2-.5 2-.4 2-.5 2-.5 2-.6 2-.6 2-.7 2-.8 2-.8 2-1 2-1 2-1.1 2-1.2 2-1.3 2-1.5 2-1.5 2-1.7 2-1.9 2-2 2-2.1 2-2.3 2-2.5 2-2.6 2-2.8 2-3 2-3.1 2-3.3 2-3.4 2-3.5 2-3.7 2-3.7 2-3.8 2-3.8 2-3.7 2-3.7 2-3.6 2-3.3 2-3.1 2-2.7 2-2.3 2-1.8 2-1.3 2-.7 2-.1 2 .5 2 .9 2 1.4 2 1.8 2 2.2 2 2.5 2 2.8 2 3 2 3.2 2 3.3 2 3.4 2 3.5 2 3.5 2 3.4 2 3.4 2 3.3 2 3.3 2 3.1 2 3.1 2 2.9 2 2.8 2 2.6 2 2.6 2 2.4 2 2.2 2 2.2 2 2 2 1.8 2 1.8 2 1.6 2 1.6 2 1.4 2 1.3 2 1.2 2 1.2 2 1 2 1 2 .9 2 .8 2 .8 2 .7 2 .7 2 .6 2 .5 2 .5 2 .5 2 .5 2 .4 2 .4 2 .3 2 .4 2 .3 2 .3 2 .3 2 .2 2 .3 2 .2 2 .2 2 .3 2 .2 2 .2 2 .1 2 .2 2 .2 2 .2 2 .1 2 .2 2 .1 2 .1 2 .2 2 .1 2 .1 2 .2 2 .1 2 .1 2 .1 2 .1 2 .1 2 .1 2 .1 2 .1 2 .1 2 .1 2 .1 2 0 2 .1 2 .1 2 .1 2 .1 2 0 2 .1 2 .1 2 0 2 .1 2 .1 2 0 2 .1 2 0 2 .1 0 2.3-2 0-2 0-2 0-2-.1-2 0-2 0-2 0-2 0-2 0-2 0-2-.1-2 0-2 0-2 0-2 0-2 0-2 0-2 0-2-.1-2 0-2 0-2 0-2 0-2 0-2 0-2-.1-2 0-2 0-2 0-2 0-2 0-2 0-2-.1-2 0-2 0-2 0-2 0-2 0-2-.1-2 0-2 0-2 0-2 0-2 0-2 0-2-.1-2 0-2 0-2 0-2 0-2 0-2-.1-2 0-2 0-2 0-2 0-2 0-2-.1-2 0-2 0-2 0-2 0-2 0-2-.1-2 0-2 0-2 0-2 0-2-.1-2 0-2 0-2 0-2-.1-2 0-2 0-2 0-2-.1-2 0-2 0-2 0-2-.1-2 0-2 0-2-.1-2 0-2 0-2-.1-2 0-2-.1-2 0-2 0-2-.1-2 0-2-.1-2 0-2-.1-2 0-2-.1-2 0-2-.1-2 0-2 0-2-.1-2 0-2-.1-2 0-2-.1-2 0-2 0-2-.1-2 0-2-.1-2 0-2 0-2-.1-2 0-2 0-2-.1-2 0-2 0-2-.1-2 0-2 0-2 0-2-.1-2 0-2 0-2-.1-2 0-2 0-2 0-2-.1-2 0-2 0-2-.1-2 0-2 0-2 0-2-.1-2 0-2 0-2 0-2-.1-2 0-2 0-2 0-2-.1-2 0-2 0-2 0-2 0-2-.1-2 0-2 0-2 0-2 0-2-.1-2 0-2 0-2 0-2 0-2-.1-2 0-2 0-2 0-2 0-2 0-2-.1-2 0-2 0-2 0-2 0-2 0-2-.1-2 0-2 0-2 0-2 0-2 0-2 0-2-.1-2 0-2 0-2 0-2 0-2 0-2 0-2-.1-2 0-2 0-2 0-2 0-2 0-2 0-2-.1-2 0-2 0-2 0-2 0-2 0-2 0-2-.1-2 0-2 0-2 0-2 0-2 0-2 0-2-.1-2 0-2 0-2 0-2 0-2 0-2 0-2 0-2-.1-2 0-2 0-2 0-2 0-2 0-2 0-2-.1-2 0-2 0-2 0-2 0-2 0-2 0-2 0-2-.1-2 0-2 0-2 0Z" fill="url(#dB)" fill-opacity="0.7"/>
<path d="M854.6 1195.7l2 0 2 0 2 0 2 0 2 0 2 .1 2 0 2 0 2 0 2 0 2 0 2 0 2 0 2 0 2 0 2 .1 2 0 2 0 2 0 2 0 2 0 2 0 2 0 2 0 2 0 2 0 2 .1 2 0 2 0 2 0 2 0 2 0 2 0 2 0 2 0 2 0 2 0 2 0 2 0 2 0 2 .1 2 0 2 0 2 0 2 0 2 0 2 0 2 0 2 0 2 0 2 0 2 0 2 0 2 0 2 0 2 0 2 0 2 0 2-.1 2 0 2 0 2 0 2 0 2 0 2 0 2-.1 2 0 2 0 2 0 2-.1 2 0 2-.1 2 0 2-.1 2-.1 2-.1 2-.1 2-.1 2-.2 2-.2 2-.2 2-.3 2-.3 2-.3 2-.5 2-.5 2-.5 2-.7 2-.7 2-.8 2-.9 2-1 2-1 2-1.1 2-1.2 2-1.2 2-1.2 2-1.2 2-1.1 2-1.1 2-1 2-.8 2-.6 2-.3 2-.1 2 .2 2 .4 2 .7 2 .8 2 1.1 2 1.1 2 1.2 2 1.3 2 1.2 2 1.3 2 1.2 2 1.2 2 1 2 1.1 2 .9 2 .9 2 .7 2 .7 2 .7 2 .5 2 .5 2 .4 2 .4 2 .3 2 .3 2 .3 2 .2 2 .2 2 .2 2 .1 2 .2 2 .1 2 .1 2 .1 2 .1 2 .1 2 .1 2 .1 2 .1 2 .1 2 0 2 .1 2 .1 2 0 2 .1 2 .1 2 0 2 .1 2 0 2 .1 2 0 2 .1 2 0 2 .1 2 0 2 0 2 .1 2 0 2 0 2 .1 2 0 2 0 2 .1 2 0 2 0 2 .1 2 0 2 0 2 0 2 .1 2 0 2 0 2 0 2 .1 2 0 2 0 2 0 2 0 2 .1 2 0 2 0 2 0 2 0 2 .1 2 0 2 0 2 0 2 0 2 .1 2 0 2 0 2 0 2 0 2 .1 2 0 2 0 2 0 2 0 2 0 2 .1 2 0 2 0 2 0 2 0 2 0 2 .1 2 0 2 0 2 0 2 0 2 0 2 .1 2 0 2 0 2 0 2 0 2 0 2 0 2 .1 2 0 2 0 2 0 2 0 2 0 2 .1 2 0 2 0 2 0 2 0 2 0 0 .1-2 0-2 0-2 0-2-.1-2 0-2 0-2 0-2 0-2 0-2 0-2-.1-2 0-2 0-2 0-2 0-2 0-2 0-2 0-2-.1-2 0-2 0-2 0-2 0-2 0-2 0-2-.1-2 0-2 0-2 0-2 0-2 0-2 0-2-.1-2 0-2 0-2 0-2 0-2 0-2-.1-2 0-2 0-2 0-2 0-2 0-2 0-2-.1-2 0-2 0-2 0-2 0-2 0-2-.1-2 0-2 0-2 0-2 0-2 0-2-.1-2 0-2 0-2 0-2 0-2 0-2-.1-2 0-2 0-2 0-2 0-2-.1-2 0-2 0-2 0-2-.1-2 0-2 0-2 0-2-.1-2 0-2 0-2 0-2-.1-2 0-2 0-2-.1-2 0-2 0-2-.1-2 0-2-.1-2 0-2 0-2-.1-2 0-2-.1-2 0-2-.1-2 0-2-.1-2 0-2-.1-2 0-2 0-2-.1-2 0-2-.1-2 0-2-.1-2 0-2 0-2-.1-2 0-2-.1-2 0-2 0-2-.1-2 0-2 0-2-.1-2 0-2 0-2-.1-2 0-2 0-2 0-2-.1-2 0-2 0-2-.1-2 0-2 0-2 0-2-.1-2 0-2 0-2-.1-2 0-2 0-2 0-2-.1-2 0-2 0-2 0-2-.1-2 0-2 0-2 0-2-.1-2 0-2 0-2 0-2 0-2-.1-2 0-2 0-2 0-2 0-2-.1-2 0-2 0-2 0-2 0-2-.1-2 0-2 0-2 0-2 0-2 0-2-.1-2 0-2 0-2 0-2 0-2 0-2-.1-2 0-2 0-2 0-2 0-2 0-2 0-2-.1-2 0-2 0-2 0-2 0-2 0-2 0-2-.1-2 0-2 0-2 0-2 0-2 0-2 0-2-.1-2 0-2 0-2 0-2 0-2 0-2 0-2-.1-2 0-2 0-2 0-2 0-2 0-2 0-2-.1-2 0-2 0-2 0-2 0-2 0-2 0-2 0-2-.1-2 0-2 0-2 0-2 0-2 0-2 0-2-.1-2 0-2 0-2 0-2 0-2 0-2 0-2 0-2-.1-2 0-2 0-2 0Z" fill="#b8f0c8" fill-opacity="0.5"/>
<path d="M854.6 1195.4l2 0 2 0 2 0 2 0 2 0 2 0 2 0 2 0 2 0 2 0 2 0 2 0 2 0 2 0 2 0 2 0 2 0 2 0 2 0 2 0 2 0 2 0 2 0 2 0 2 0 2 0 2 0 2 0 2-.1 2 0 2 0 2 0 2 0 2 0 2-.1 2 0 2 0 2 0 2-.1 2 0 2-.1 2 0 2 0 2-.1 2 0 2-.1 2-.1 2-.1 2 0 2-.1 2-.1 2-.1 2-.2 2-.1 2-.2 2-.1 2-.2 2-.2 2-.2 2-.3 2-.3 2-.3 2-.3 2-.3 2-.4 2-.4 2-.5 2-.4 2-.5 2-.6 2-.5 2-.6 2-.6 2-.7 2-.6 2-.7 2-.7 2-.7 2-.6 2-.7 2-.5 2-.6 2-.4 2-.4 2-.3 2-.2 2 0 2 .1 2 .2 2 .4 2 .6 2 .6 2 .7 2 .7 2 .8 2 .9 2 .8 2 .8 2 .8 2 .7 2 .8 2 .7 2 .6 2 .6 2 .6 2 .5 2 .5 2 .5 2 .4 2 .4 2 .3 2 .3 2 .3 2 .3 2 .2 2 .3 2 .2 2 .2 2 .1 2 .2 2 .1 2 .2 2 .1 2 .1 2 .1 2 .2 2 .1 2 .1 2 .1 2 .1 2 .1 2 0 2 .1 2 .1 2 .1 2 .1 2 .1 2 0 2 .1 2 .1 2 .1 2 0 2 .1 2 .1 2 0 2 .1 2 .1 2 0 2 .1 2 0 2 .1 2 0 2 .1 2 0 2 .1 2 0 2 .1 2 0 2 0 2 .1 2 0 2 0 2 .1 2 0 2 0 2 .1 2 0 2 0 2 .1 2 0 2 0 2 0 2 .1 2 0 2 0 2 0 2 .1 2 0 2 0 2 0 2 .1 2 0 2 0 2 0 2 0 2 .1 2 0 2 0 2 0 2 0 2 .1 2 0 2 0 2 0 2 0 2 .1 2 0 2 0 2 0 2 0 2 0 2 .1 2 0 2 0 2 0 2 0 2 0 2 .1 2 0 2 0 2 0 2 0 2 0 2 .1 2 0 2 0 2 0 2 0 2 0 2 .1 2 0 2 0 2 0 2 0 2 0 2 .1 2 0 2 0 2 0 2 0 2 0 2 0 2 .1 2 0 2 0 0 .1-2 0-2 0-2 0-2-.1-2 0-2 0-2 0-2 0-2 0-2 0-2-.1-2 0-2 0-2 0-2 0-2 0-2 0-2 0-2-.1-2 0-2 0-2 0-2 0-2 0-2 0-2-.1-2 0-2 0-2 0-2 0-2 0-2 0-2-.1-2 0-2 0-2 0-2 0-2 0-2-.1-2 0-2 0-2 0-2 0-2 0-2 0-2-.1-2 0-2 0-2 0-2 0-2 0-2-.1-2 0-2 0-2 0-2 0-2 0-2-.1-2 0-2 0-2 0-2 0-2 0-2-.1-2 0-2 0-2 0-2 0-2-.1-2 0-2 0-2 0-2-.1-2 0-2 0-2 0-2-.1-2 0-2 0-2 0-2-.1-2 0-2 0-2-.1-2 0-2 0-2-.1-2 0-2-.1-2 0-2 0-2-.1-2 0-2-.1-2 0-2-.1-2 0-2-.1-2 0-2-.1-2 0-2 0-2-.1-2 0-2-.1-2 0-2-.1-2 0-2 0-2-.1-2 0-2-.1-2 0-2 0-2-.1-2 0-2 0-2-.1-2 0-2 0-2-.1-2 0-2 0-2 0-2-.1-2 0-2 0-2-.1-2 0-2 0-2 0-2-.1-2 0-2 0-2-.1-2 0-2 0-2 0-2-.1-2 0-2 0-2 0-2-.1-2 0-2 0-2 0-2-.1-2 0-2 0-2 0-2 0-2-.1-2 0-2 0-2 0-2 0-2-.1-2 0-2 0-2 0-2 0-2-.1-2 0-2 0-2 0-2 0-2 0-2-.1-2 0-2 0-2 0-2 0-2 0-2-.1-2 0-2 0-2 0-2 0-2 0-2 0-2-.1-2 0-2 0-2 0-2 0-2 0-2 0-2-.1-2 0-2 0-2 0-2 0-2 0-2 0-2-.1-2 0-2 0-2 0-2 0-2 0-2 0-2-.1-2 0-2 0-2 0-2 0-2 0-2 0-2-.1-2 0-2 0-2 0-2 0-2 0-2 0-2 0-2-.1-2 0-2 0-2 0-2 0-2 0-2 0-2-.1-2 0-2 0-2 0-2 0-2 0-2 0-2 0-2-.1-2 0-2 0-2 0Z" fill="#f8d0e0" fill-opacity="0.35"/>
<path d="M854.6 1193.7l2 0 2 0 2 0 2-.1 2 0 2 0 2 0 2 0 2 0 2-.1 2 0 2 0 2 0 2-.1 2 0 2 0 2 0 2-.1 2 0 2 0 2-.1 2 0 2 0 2-.1 2 0 2 0 2-.1 2 0 2-.1 2 0 2-.1 2 0 2-.1 2-.1 2 0 2-.1 2-.1 2 0 2-.1 2-.1 2-.1 2-.1 2-.1 2-.1 2-.1 2-.1 2-.1 2-.2 2-.1 2-.2 2-.2 2-.1 2-.2 2-.3 2-.2 2-.2 2-.3 2-.3 2-.3 2-.4 2-.4 2-.4 2-.4 2-.5 2-.5 2-.5 2-.6 2-.6 2-.7 2-.7 2-.7 2-.8 2-.8 2-.9 2-.9 2-.9 2-1 2-1 2-1 2-1 2-1.1 2-1 2-1 2-1 2-1 2-.9 2-.9 2-.9 2-.8 2-.8 2-.8 2-.7 2-.8 2-.9 2-.9 2-.9 2-1 2-1.1 2-1.1 2-1.1 2-1.2 2-1 2-1 2-1 2-.7 2-.7 2-.6 2-.5 2-.5 2-.5 2-.5 2-.7 2-.8 2-1 2-1.3 2-1.4 2-1.7 2-1.9 2-2.1 2-2.4 2-2.6 2-2.8 2-2.9 2-3.2 2-3.2 2-3.2 2-3.2 2-3.2 2-3 2-2.8 2-2.4 2-2.1 2-1.6 2-1.1 2-.6 2 .1 2 .6 2 1 2 1.5 2 1.8 2 2.3 2 2.6 2 2.9 2 3 2 3.3 2 3.4 2 3.5 2 3.5 2 3.5 2 3.5 2 3.4 2 3.4 2 3.2 2 3.2 2 3.1 2 2.9 2 2.9 2 2.6 2 2.6 2 2.4 2 2.3 2 2.2 2 2 2 1.9 2 1.8 2 1.6 2 1.6 2 1.4 2 1.4 2 1.2 2 1.2 2 1 2 1 2 .9 2 .9 2 .8 2 .7 2 .6 2 .7 2 .5 2 .6 2 .4 2 .5 2 .4 2 .4 2 .4 2 .3 2 .4 2 .3 2 .3 2 .2 2 .3 2 .2 2 .3 2 .2 2 .2 2 .2 2 .2 2 .2 2 .2 2 .1 2 .2 2 .2 2 .1 2 .2 2 .1 2 .1 2 .2 2 .1 2 .1 2 .1 2 .1 2 .1 2 .2 2 .1 2 .1 2 .1 2 0 2 .1 2 .1 2 .1 2 .1 2 .1 2 .1 2 0 2 .1 2 .1 2 .1 2 0 2 .1 2 .1 2 0 2 .1 2 .1 2 0" fill="none" stroke="#ff1414" stroke-width="4.0"/>
<path d="M854.6 1195.4l2 0 2 0 2 0 2 0 2 0 2 0 2 0 2 0 2 0 2 0 2 0 2 0 2 0 2-.1 2 0 2 0 2 0 2 0 2 0 2 0 2 0 2 0 2 0 2 0 2-.1 2 0 2 0 2 0 2 0 2 0 2 0 2-.1 2 0 2 0 2 0 2 0 2-.1 2 0 2 0 2 0 2-.1 2 0 2 0 2-.1 2 0 2 0 2-.1 2 0 2 0 2-.1 2 0 2-.1 2 0 2-.1 2 0 2-.1 2 0 2-.1 2 0 2-.1 2 0 2-.1 2-.1 2-.1 2 0 2-.1 2-.1 2-.1 2-.1 2-.1 2-.1 2-.1 2-.1 2-.1 2-.1 2-.2 2-.1 2-.2 2-.1 2-.2 2-.1 2-.2 2-.2 2-.2 2-.2 2-.3 2-.2 2-.3 2-.3 2-.3 2-.4 2-.3 2-.5 2-.4 2-.5 2-.5 2-.6 2-.6 2-.7 2-.8 2-.8 2-1 2-1 2-1.1 2-1.2 2-1.3 2-1.5 2-1.5 2-1.7 2-1.9 2-2 2-2.1 2-2.3 2-2.5 2-2.6 2-2.8 2-3 2-3.1 2-3.3 2-3.4 2-3.5 2-3.7 2-3.7 2-3.8 2-3.8 2-3.7 2-3.7 2-3.6 2-3.3 2-3.1 2-2.7 2-2.3 2-1.8 2-1.3 2-.7 2-.1 2 .5 2 .9 2 1.4 2 1.8 2 2.2 2 2.5 2 2.8 2 3 2 3.2 2 3.3 2 3.4 2 3.5 2 3.5 2 3.4 2 3.4 2 3.3 2 3.3 2 3.1 2 3.1 2 2.9 2 2.8 2 2.6 2 2.6 2 2.4 2 2.2 2 2.2 2 2 2 1.8 2 1.8 2 1.6 2 1.6 2 1.4 2 1.3 2 1.2 2 1.2 2 1 2 1 2 .9 2 .8 2 .8 2 .7 2 .7 2 .6 2 .5 2 .5 2 .5 2 .5 2 .4 2 .4 2 .3 2 .4 2 .3 2 .3 2 .3 2 .2 2 .3 2 .2 2 .2 2 .3 2 .2 2 .2 2 .1 2 .2 2 .2 2 .2 2 .1 2 .2 2 .1 2 .1 2 .2 2 .1 2 .1 2 .2 2 .1 2 .1 2 .1 2 .1 2 .1 2 .1 2 .1 2 .1 2 .1 2 .1 2 .1 2 0 2 .1 2 .1 2 .1 2 .1 2 0 2 .1 2 .1 2 0 2 .1 2 .1 2 0 2 .1 2 0 2 .1" fill="none" stroke="#5a5af0" stroke-width="3.6" stroke-opacity="0.62"/>
<path d="M854.6 1195.7l2 0 2 0 2 0 2 0 2 0 2 .1 2 0 2 0 2 0 2 0 2 0 2 0 2 0 2 0 2 0 2 .1 2 0 2 0 2 0 2 0 2 0 2 0 2 0 2 0 2 0 2 0 2 .1 2 0 2 0 2 0 2 0 2 0 2 0 2 0 2 0 2 0 2 0 2 0 2 0 2 0 2 .1 2 0 2 0 2 0 2 0 2 0 2 0 2 0 2 0 2 0 2 0 2 0 2 0 2 0 2 0 2 0 2 0 2 0 2-.1 2 0 2 0 2 0 2 0 2 0 2 0 2-.1 2 0 2 0 2 0 2-.1 2 0 2-.1 2 0 2-.1 2-.1 2-.1 2-.1 2-.1 2-.2 2-.2 2-.2 2-.3 2-.3 2-.3 2-.5 2-.5 2-.5 2-.7 2-.7 2-.8 2-.9 2-1 2-1 2-1.1 2-1.2 2-1.2 2-1.2 2-1.2 2-1.1 2-1.1 2-1 2-.8 2-.6 2-.3 2-.1 2 .2 2 .4 2 .7 2 .8 2 1.1 2 1.1 2 1.2 2 1.3 2 1.2 2 1.3 2 1.2 2 1.2 2 1 2 1.1 2 .9 2 .9 2 .7 2 .7 2 .7 2 .5 2 .5 2 .4 2 .4 2 .3 2 .3 2 .3 2 .2 2 .2 2 .2 2 .1 2 .2 2 .1 2 .1 2 .1 2 .1 2 .1 2 .1 2 .1 2 .1 2 .1 2 0 2 .1 2 .1 2 0 2 .1 2 .1 2 0 2 .1 2 0 2 .1 2 0 2 .1 2 0 2 .1 2 0 2 0 2 .1 2 0 2 0 2 .1 2 0 2 0 2 .1 2 0 2 0 2 .1 2 0 2 0 2 0 2 .1 2 0 2 0 2 0 2 .1 2 0 2 0 2 0 2 0 2 .1 2 0 2 0 2 0 2 0 2 .1 2 0 2 0 2 0 2 0 2 .1 2 0 2 0 2 0 2 0 2 .1 2 0 2 0 2 0 2 0 2 0 2 .1 2 0 2 0 2 0 2 0 2 0 2 .1 2 0 2 0 2 0 2 0 2 0 2 .1 2 0 2 0 2 0 2 0 2 0 2 0 2 .1 2 0 2 0 2 0 2 0 2 0 2 .1 2 0 2 0 2 0 2 0 2 0" fill="none" stroke="#4aa650" stroke-width="3.6" stroke-opacity="0.85"/>
<path d="M854.6 1195.4l2 0 2 0 2 0 2 0 2 0 2 0 2 0 2 0 2 0 2 0 2 0 2 0 2 0 2 0 2 0 2 0 2 0 2 0 2 0 2 0 2 0 2 0 2 0 2 0 2 0 2 0 2 0 2 0 2-.1 2 0 2 0 2 0 2 0 2 0 2-.1 2 0 2 0 2 0 2-.1 2 0 2-.1 2 0 2 0 2-.1 2 0 2-.1 2-.1 2-.1 2 0 2-.1 2-.1 2-.1 2-.2 2-.1 2-.2 2-.1 2-.2 2-.2 2-.2 2-.3 2-.3 2-.3 2-.3 2-.3 2-.4 2-.4 2-.5 2-.4 2-.5 2-.6 2-.5 2-.6 2-.6 2-.7 2-.6 2-.7 2-.7 2-.7 2-.6 2-.7 2-.5 2-.6 2-.4 2-.4 2-.3 2-.2 2 0 2 .1 2 .2 2 .4 2 .6 2 .6 2 .7 2 .7 2 .8 2 .9 2 .8 2 .8 2 .8 2 .7 2 .8 2 .7 2 .6 2 .6 2 .6 2 .5 2 .5 2 .5 2 .4 2 .4 2 .3 2 .3 2 .3 2 .3 2 .2 2 .3 2 .2 2 .2 2 .1 2 .2 2 .1 2 .2 2 .1 2 .1 2 .1 2 .2 2 .1 2 .1 2 .1 2 .1 2 .1 2 0 2 .1 2 .1 2 .1 2 .1 2 .1 2 0 2 .1 2 .1 2 .1 2 0 2 .1 2 .1 2 0 2 .1 2 .1 2 0 2 .1 2 0 2 .1 2 0 2 .1 2 0 2 .1 2 0 2 .1 2 0 2 0 2 .1 2 0 2 0 2 .1 2 0 2 0 2 .1 2 0 2 0 2 .1 2 0 2 0 2 0 2 .1 2 0 2 0 2 0 2 .1 2 0 2 0 2 0 2 .1 2 0 2 0 2 0 2 0 2 .1 2 0 2 0 2 0 2 0 2 .1 2 0 2 0 2 0 2 0 2 .1 2 0 2 0 2 0 2 0 2 0 2 .1 2 0 2 0 2 0 2 0 2 0 2 .1 2 0 2 0 2 0 2 0 2 0 2 .1 2 0 2 0 2 0 2 0 2 0 2 .1 2 0 2 0 2 0 2 0 2 0 2 .1 2 0 2 0 2 0 2 0 2 0 2 0 2 .1 2 0 2 0" fill="none" stroke="#f0329a" stroke-width="3.6"/>
<path d="M854.6 1196.6l2 0 2 0 2 0 2 .1 2 0 2 0 2 0 2 0 2 0 2 0 2 0 2 .1 2 0 2 0 2 0 2 0 2 0 2 0 2 .1 2 0 2 0 2 0 2 0 2 0 2 0 2 0 2 .1 2 0 2 0 2 0 2 0 2 0 2 0 2 .1 2 0 2 0 2 0 2 0 2 0 2 0 2 .1 2 0 2 0 2 0 2 0 2 0 2 0 2 .1 2 0 2 0 2 0 2 0 2 0 2 0 2 .1 2 0 2 0 2 0 2 0 2 0 2 0 2 .1 2 0 2 0 2 0 2 0 2 0 2 .1 2 0 2 0 2 0 2 0 2 0 2 .1 2 0 2 0 2 0 2 0 2 .1 2 0 2 0 2 0 2 0 2 .1 2 0 2 0 2 0 2 0 2 .1 2 0 2 0 2 0 2 .1 2 0 2 0 2 0 2 .1 2 0 2 0 2 0 2 .1 2 0 2 0 2 .1 2 0 2 0 2 0 2 .1 2 0 2 0 2 .1 2 0 2 0 2 0 2 .1 2 0 2 0 2 .1 2 0 2 0 2 .1 2 0 2 0 2 .1 2 0 2 .1 2 0 2 0 2 .1 2 0 2 .1 2 0 2 .1 2 0 2 0 2 .1 2 0 2 .1 2 0 2 .1 2 0 2 .1 2 0 2 .1 2 0 2 0 2 .1 2 0 2 .1 2 0 2 0 2 .1 2 0 2 0 2 .1 2 0 2 0 2 0 2 .1 2 0 2 0 2 0 2 .1 2 0 2 0 2 0 2 .1 2 0 2 0 2 0 2 0 2 .1 2 0 2 0 2 0 2 0 2 0 2 .1 2 0 2 0 2 0 2 0 2 0 2 .1 2 0 2 0 2 0 2 0 2 0 2 .1 2 0 2 0 2 0 2 0 2 0 2 0 2 .1 2 0 2 0 2 0 2 0 2 0 2 .1 2 0 2 0 2 0 2 0 2 0 2 0 2 .1 2 0 2 0 2 0 2 0 2 0 2 0 2 .1 2 0 2 0 2 0 2 0 2 0 2 0 2 0 2 .1 2 0 2 0 2 0 2 0 2 0 2 0 2 .1 2 0 2 0 2 0" fill="none" stroke="#7c0000" stroke-width="4.4" stroke-linecap="square"/>
<path d="M854.6 1311.9l2 0 2 0 2 0 2 0 2 0 2-.1 2 0 2 0 2 0 2 0 2 0 2 0 2-.1 2 0 2 0 2 0 2 0 2-.1 2 0 2 0 2 0 2-.1 2 0 2 0 2 0 2-.1 2 0 2 0 2-.1 2 0 2-.1 2 0 2 0 2-.1 2 0 2-.1 2 0 2-.1 2-.1 2 0 2-.1 2-.1 2 0 2-.1 2-.1 2-.1 2-.1 2-.1 2-.1 2-.1 2-.2 2-.1 2-.1 2-.2 2-.2 2-.2 2-.2 2-.2 2-.2 2-.3 2-.2 2-.3 2-.3 2-.4 2-.3 2-.4 2-.4 2-.5 2-.4 2-.5 2-.5 2-.6 2-.6 2-.6 2-.6 2-.7 2-.6 2-.7 2-.8 2-.7 2-.7 2-.8 2-.7 2-.7 2-.8 2-.7 2-.7 2-.7 2-.8 2-.7 2-.7 2-.8 2-.9 2-.9 2-1 2-1.1 2-1.1 2-1.2 2-1.3 2-1.3 2-1.3 2-1.3 2-1.2 2-1.2 2-1 2-.9 2-.8 2-.6 2-.6 2-.6 2-.5 2-.6 2-.7 2-.8 2-1 2-1.1 2-1.4 2-1.6 2-1.8 2-2 2-2.2 2-2.5 2-2.6 2-2.9 2-2.9 2-3.1 2-3.1 2-3.1 2-3 2-3 2-2.7 2-2.5 2-2.1 2-1.7 2-1.3 2-.7 2-.1 2 .3 2 .8 2 1.3 2 1.6 2 2 2 2.3 2 2.6 2 2.9 2 3 2 3.2 2 3.2 2 3.3 2 3.3 2 3.3 2 3.3 2 3.2 2 3.1 2 3 2 2.9 2 2.9 2 2.7 2 2.5 2 2.5 2 2.3 2 2.2 2 2.1 2 2 2 1.8 2 1.7 2 1.6 2 1.5 2 1.4 2 1.3 2 1.2 2 1.1 2 1.1 2 .9 2 .9 2 .8 2 .8 2 .7 2 .6 2 .6 2 .6 2 .5 2 .4 2 .5 2 .4 2 .4 2 .3 2 .4 2 .3 2 .3 2 .2 2 .3 2 .3 2 .2 2 .2 2 .2 2 .2 2 .2 2 .2 2 .2 2 .1 2 .2 2 .2 2 .1 2 .1 2 .2 2 .1 2 .1 2 .2 2 .1 2 .1 2 .1 2 .1 2 .1 2 .1 2 .1 2 .1 2 .1 2 .1 2 .1 2 .1 2 0 2 .1 2 .1 2 .1 2 .1 2 0 2 .1 2 .1 2 0 2 .1 2 .1 2 0 2 .1 2 0 0 2.4-2 0-2 0-2 0-2-.1-2 0-2 0-2 0-2 0-2 0-2 0-2 0-2 0-2-.1-2 0-2 0-2 0-2 0-2 0-2 0-2-.1-2 0-2 0-2 0-2 0-2 0-2 0-2 0-2-.1-2 0-2 0-2 0-2 0-2 0-2 0-2 0-2-.1-2 0-2 0-2 0-2 0-2 0-2 0-2-.1-2 0-2 0-2 0-2 0-2 0-2 0-2-.1-2 0-2 0-2 0-2 0-2 0-2 0-2-.1-2 0-2 0-2 0-2 0-2 0-2-.1-2 0-2 0-2 0-2 0-2-.1-2 0-2 0-2 0-2 0-2-.1-2 0-2 0-2 0-2-.1-2 0-2 0-2 0-2-.1-2 0-2 0-2-.1-2 0-2 0-2-.1-2 0-2 0-2-.1-2 0-2-.1-2 0-2 0-2-.1-2 0-2-.1-2 0-2-.1-2 0-2 0-2-.1-2 0-2-.1-2 0-2 0-2-.1-2 0-2-.1-2 0-2 0-2-.1-2 0-2 0-2-.1-2 0-2 0-2 0-2-.1-2 0-2 0-2 0-2-.1-2 0-2 0-2-.1-2 0-2 0-2 0-2-.1-2 0-2 0-2 0-2-.1-2 0-2 0-2 0-2 0-2-.1-2 0-2 0-2 0-2 0-2-.1-2 0-2 0-2 0-2 0-2-.1-2 0-2 0-2 0-2 0-2 0-2-.1-2 0-2 0-2 0-2 0-2 0-2-.1-2 0-2 0-2 0-2 0-2 0-2 0-2-.1-2 0-2 0-2 0-2 0-2 0-2 0-2-.1-2 0-2 0-2 0-2 0-2 0-2 0-2-.1-2 0-2 0-2 0-2 0-2 0-2 0-2 0-2-.1-2 0-2 0-2 0-2 0-2 0-2 0-2 0-2-.1-2 0-2 0-2 0-2 0-2 0-2 0-2 0-2-.1-2 0-2 0-2 0-2 0-2 0-2 0-2 0-2 0-2-.1-2 0-2 0-2 0-2 0-2 0-2 0-2 0-2-.1-2 0-2 0-2 0-2 0-2 0-2 0-2 0-2-.1-2 0-2 0-2 0-2 0Z" fill="#fcd8d8" fill-opacity="0.45"/>
<path d="M850.4 1311.2a4.2 4.2 0 1 0 8.4 0a4.2 4.2 0 1 0 -8.4 0M862.2 1308.8a4.2 4.2 0 1 0 8.4 0a4.2 4.2 0 1 0 -8.4 0M874 1307.9a4.2 4.2 0 1 0 8.4 0a4.2 4.2 0 1 0 -8.4 0M885.8 1305.9a4.2 4.2 0 1 0 8.4 0a4.2 4.2 0 1 0 -8.4 0M897.6 1309.3a4.2 4.2 0 1 0 8.4 0a4.2 4.2 0 1 0 -8.4 0M909.3 1311.3a4.2 4.2 0 1 0 8.4 0a4.2 4.2 0 1 0 -8.4 0M921.1 1309.3a4.2 4.2 0 1 0 8.4 0a4.2 4.2 0 1 0 -8.4 0M932.9 1309.6a4.2 4.2 0 1 0 8.4 0a4.2 4.2 0 1 0 -8.4 0M944.7 1309.8a4.2 4.2 0 1 0 8.4 0a4.2 4.2 0 1 0 -8.4 0M956.5 1306.3a4.2 4.2 0 1 0 8.4 0a4.2 4.2 0 1 0 -8.4 0M968.3 1310.1a4.2 4.2 0 1 0 8.4 0a4.2 4.2 0 1 0 -8.4 0M980.1 1303.3a4.2 4.2 0 1 0 8.4 0a4.2 4.2 0 1 0 -8.4 0M991.9 1302.4a4.2 4.2 0 1 0 8.4 0a4.2 4.2 0 1 0 -8.4 0M1003.7 1302.2a4.2 4.2 0 1 0 8.4 0a4.2 4.2 0 1 0 -8.4 0M1015.5 1293.9a4.2 4.2 0 1 0 8.4 0a4.2 4.2 0 1 0 -8.4 0M1027.2 1289.5a4.2 4.2 0 1 0 8.4 0a4.2 4.2 0 1 0 -8.4 0M1039 1283.5a4.2 4.2 0 1 0 8.4 0a4.2 4.2 0 1 0 -8.4 0M1050.8 1277.7a4.2 4.2 0 1 0 8.4 0a4.2 4.2 0 1 0 -8.4 0M1062.6 1266.9a4.2 4.2 0 1 0 8.4 0a4.2 4.2 0 1 0 -8.4 0M1074.4 1264.3a4.2 4.2 0 1 0 8.4 0a4.2 4.2 0 1 0 -8.4 0M1086.2 1261.3a4.2 4.2 0 1 0 8.4 0a4.2 4.2 0 1 0 -8.4 0M1098 1247a4.2 4.2 0 1 0 8.4 0a4.2 4.2 0 1 0 -8.4 0M1109.8 1230.2a4.2 4.2 0 1 0 8.4 0a4.2 4.2 0 1 0 -8.4 0M1121.6 1219.5a4.2 4.2 0 1 0 8.4 0a4.2 4.2 0 1 0 -8.4 0M1133.4 1221.9a4.2 4.2 0 1 0 8.4 0a4.2 4.2 0 1 0 -8.4 0M1145.1 1235.5a4.2 4.2 0 1 0 8.4 0a4.2 4.2 0 1 0 -8.4 0M1156.9 1254.3a4.2 4.2 0 1 0 8.4 0a4.2 4.2 0 1 0 -8.4 0M1168.7 1268a4.2 4.2 0 1 0 8.4 0a4.2 4.2 0 1 0 -8.4 0M1180.5 1284.4a4.2 4.2 0 1 0 8.4 0a4.2 4.2 0 1 0 -8.4 0M1192.3 1292.2a4.2 4.2 0 1 0 8.4 0a4.2 4.2 0 1 0 -8.4 0M1204.1 1300.7a4.2 4.2 0 1 0 8.4 0a4.2 4.2 0 1 0 -8.4 0M1215.9 1303.8a4.2 4.2 0 1 0 8.4 0a4.2 4.2 0 1 0 -8.4 0M1227.7 1305.1a4.2 4.2 0 1 0 8.4 0a4.2 4.2 0 1 0 -8.4 0M1239.5 1308.3a4.2 4.2 0 1 0 8.4 0a4.2 4.2 0 1 0 -8.4 0M1251.3 1308.3a4.2 4.2 0 1 0 8.4 0a4.2 4.2 0 1 0 -8.4 0M1263 1312.1a4.2 4.2 0 1 0 8.4 0a4.2 4.2 0 1 0 -8.4 0M1274.8 1311.5a4.2 4.2 0 1 0 8.4 0a4.2 4.2 0 1 0 -8.4 0M1286.6 1313.3a4.2 4.2 0 1 0 8.4 0a4.2 4.2 0 1 0 -8.4 0M1298.4 1311.1a4.2 4.2 0 1 0 8.4 0a4.2 4.2 0 1 0 -8.4 0M1310.2 1315.4a4.2 4.2 0 1 0 8.4 0a4.2 4.2 0 1 0 -8.4 0M1322 1313.1a4.2 4.2 0 1 0 8.4 0a4.2 4.2 0 1 0 -8.4 0" fill="none" stroke="#000" stroke-width="1.5"/>
<path d="M854.6 1312.3l2 0 2 0 2 0 2 0 2 0 2 0 2 0 2 0 2-.1 2 0 2 0 2 0 2 0 2 0 2 0 2 0 2 0 2 0 2 0 2 0 2 0 2 0 2-.1 2 0 2 0 2 0 2 0 2 0 2 0 2 0 2-.1 2 0 2 0 2 0 2 0 2-.1 2 0 2 0 2 0 2 0 2-.1 2 0 2 0 2 0 2-.1 2 0 2 0 2-.1 2 0 2 0 2-.1 2 0 2-.1 2 0 2 0 2-.1 2 0 2-.1 2 0 2-.1 2-.1 2 0 2-.1 2-.1 2 0 2-.1 2-.1 2-.1 2 0 2-.1 2-.1 2-.1 2-.1 2-.1 2-.1 2-.1 2-.2 2-.1 2-.1 2-.2 2-.1 2-.2 2-.2 2-.1 2-.2 2-.2 2-.3 2-.2 2-.2 2-.3 2-.3 2-.3 2-.4 2-.4 2-.4 2-.4 2-.5 2-.5 2-.6 2-.7 2-.7 2-.7 2-.9 2-.9 2-1 2-1.1 2-1.2 2-1.4 2-1.4 2-1.6 2-1.7 2-1.8 2-2 2-2.1 2-2.3 2-2.5 2-2.6 2-2.7 2-2.9 2-3 2-3.2 2-3.3 2-3.4 2-3.5 2-3.6 2-3.6 2-3.5 2-3.6 2-3.4 2-3.2 2-3 2-2.7 2-2.3 2-1.9 2-1.4 2-.8 2-.3 2 .3 2 .7 2 1.1 2 1.6 2 1.9 2 2.3 2 2.6 2 2.7 2 3 2 3.1 2 3.2 2 3.3 2 3.2 2 3.3 2 3.2 2 3.2 2 3.1 2 3 2 2.9 2 2.8 2 2.7 2 2.5 2 2.5 2 2.3 2 2.2 2 2 2 2 2 1.8 2 1.7 2 1.6 2 1.4 2 1.4 2 1.3 2 1.2 2 1.1 2 1 2 1 2 .8 2 .8 2 .8 2 .7 2 .6 2 .6 2 .5 2 .5 2 .5 2 .4 2 .4 2 .4 2 .4 2 .3 2 .3 2 .3 2 .2 2 .3 2 .2 2 .3 2 .2 2 .2 2 .2 2 .2 2 .2 2 .1 2 .2 2 .1 2 .2 2 .1 2 .2 2 .1 2 .1 2 .2 2 .1 2 .1 2 .1 2 .1 2 .1 2 .1 2 .1 2 .1 2 .1 2 .1 2 .1 2 .1 2 0 2 .1 2 .1 2 .1 2 0 2 .1 2 .1 2 .1 2 0 2 .1 2 0 2 .1 2 .1 2 0 2 .1 0 2.2-2 0-2 0-2 0-2-.1-2 0-2 0-2 0-2 0-2 0-2 0-2 0-2 0-2-.1-2 0-2 0-2 0-2 0-2 0-2 0-2-.1-2 0-2 0-2 0-2 0-2 0-2 0-2 0-2-.1-2 0-2 0-2 0-2 0-2 0-2 0-2 0-2-.1-2 0-2 0-2 0-2 0-2 0-2 0-2-.1-2 0-2 0-2 0-2 0-2 0-2 0-2-.1-2 0-2 0-2 0-2 0-2 0-2 0-2-.1-2 0-2 0-2 0-2 0-2 0-2-.1-2 0-2 0-2 0-2 0-2-.1-2 0-2 0-2 0-2 0-2-.1-2 0-2 0-2 0-2-.1-2 0-2 0-2 0-2-.1-2 0-2 0-2-.1-2 0-2 0-2-.1-2 0-2 0-2-.1-2 0-2-.1-2 0-2 0-2-.1-2 0-2-.1-2 0-2-.1-2 0-2 0-2-.1-2 0-2-.1-2 0-2 0-2-.1-2 0-2-.1-2 0-2 0-2-.1-2 0-2 0-2-.1-2 0-2 0-2 0-2-.1-2 0-2 0-2 0-2-.1-2 0-2 0-2-.1-2 0-2 0-2 0-2-.1-2 0-2 0-2 0-2-.1-2 0-2 0-2 0-2 0-2-.1-2 0-2 0-2 0-2 0-2-.1-2 0-2 0-2 0-2 0-2-.1-2 0-2 0-2 0-2 0-2 0-2-.1-2 0-2 0-2 0-2 0-2 0-2-.1-2 0-2 0-2 0-2 0-2 0-2 0-2-.1-2 0-2 0-2 0-2 0-2 0-2 0-2-.1-2 0-2 0-2 0-2 0-2 0-2 0-2-.1-2 0-2 0-2 0-2 0-2 0-2 0-2 0-2-.1-2 0-2 0-2 0-2 0-2 0-2 0-2 0-2-.1-2 0-2 0-2 0-2 0-2 0-2 0-2 0-2-.1-2 0-2 0-2 0-2 0-2 0-2 0-2 0-2 0-2-.1-2 0-2 0-2 0-2 0-2 0-2 0-2 0-2-.1-2 0-2 0-2 0-2 0-2 0-2 0-2 0-2-.1-2 0-2 0-2 0-2 0Z" fill="url(#dB)" fill-opacity="0.7"/>
<path d="M854.6 1313.1l2 0 2 0 2 0 2 0 2 0 2 .1 2 0 2 0 2 0 2 0 2 0 2 0 2 0 2 0 2 0 2 0 2 .1 2 0 2 0 2 0 2 0 2 0 2 0 2 0 2 0 2 0 2 0 2 0 2 0 2 .1 2 0 2 0 2 0 2 0 2 0 2 0 2 0 2 0 2 0 2 0 2 0 2 0 2 0 2 0 2 0 2 0 2 0 2 0 2 0 2 0 2 0 2 0 2 0 2 0 2 0 2 0 2 0 2 0 2 0 2 0 2 0 2 0 2 0 2-.1 2 0 2 0 2 0 2 0 2-.1 2 0 2 0 2-.1 2 0 2-.1 2 0 2-.1 2-.1 2-.1 2-.2 2-.1 2-.2 2-.2 2-.3 2-.3 2-.4 2-.4 2-.5 2-.5 2-.6 2-.7 2-.8 2-.9 2-.9 2-1 2-1.1 2-1.1 2-1.1 2-1.2 2-1.1 2-1.1 2-1.1 2-.9 2-.7 2-.6 2-.3 2-.1 2 .2 2 .4 2 .7 2 .8 2 1 2 1.1 2 1.1 2 1.2 2 1.2 2 1.2 2 1.2 2 1.1 2 1 2 1 2 .9 2 .8 2 .7 2 .7 2 .6 2 .5 2 .5 2 .4 2 .3 2 .3 2 .3 2 .3 2 .2 2 .2 2 .1 2 .2 2 .1 2 .1 2 .1 2 .1 2 .1 2 .1 2 .1 2 .1 2 .1 2 .1 2 0 2 .1 2 .1 2 0 2 .1 2 0 2 .1 2 0 2 .1 2 0 2 .1 2 0 2 .1 2 0 2 0 2 .1 2 0 2 0 2 .1 2 0 2 0 2 .1 2 0 2 0 2 0 2 .1 2 0 2 0 2 0 2 .1 2 0 2 0 2 0 2 .1 2 0 2 0 2 0 2 0 2 .1 2 0 2 0 2 0 2 0 2 0 2 .1 2 0 2 0 2 0 2 0 2 .1 2 0 2 0 2 0 2 0 2 0 2 .1 2 0 2 0 2 0 2 0 2 0 2 0 2 .1 2 0 2 0 2 0 2 0 2 0 2 0 2 .1 2 0 2 0 2 0 2 0 2 0 2 0 2 .1 2 0 2 0 2 0 2 0 2 0 2 0 2 .1 2 0 2 0 2 0 2 0 2 0 0 .1-2 0-2 0-2 0-2-.1-2 0-2 0-2 0-2 0-2 0-2 0-2 0-2 0-2-.1-2 0-2 0-2 0-2 0-2 0-2 0-2-.1-2 0-2 0-2 0-2 0-2 0-2 0-2 0-2-.1-2 0-2 0-2 0-2 0-2 0-2 0-2 0-2-.1-2 0-2 0-2 0-2 0-2 0-2 0-2-.1-2 0-2 0-2 0-2 0-2 0-2 0-2-.1-2 0-2 0-2 0-2 0-2 0-2 0-2-.1-2 0-2 0-2 0-2 0-2 0-2-.1-2 0-2 0-2 0-2 0-2-.1-2 0-2 0-2 0-2 0-2-.1-2 0-2 0-2 0-2-.1-2 0-2 0-2 0-2-.1-2 0-2 0-2-.1-2 0-2 0-2-.1-2 0-2 0-2-.1-2 0-2-.1-2 0-2 0-2-.1-2 0-2-.1-2 0-2-.1-2 0-2 0-2-.1-2 0-2-.1-2 0-2 0-2-.1-2 0-2-.1-2 0-2 0-2-.1-2 0-2 0-2-.1-2 0-2 0-2 0-2-.1-2 0-2 0-2 0-2-.1-2 0-2 0-2-.1-2 0-2 0-2 0-2-.1-2 0-2 0-2 0-2-.1-2 0-2 0-2 0-2 0-2-.1-2 0-2 0-2 0-2 0-2-.1-2 0-2 0-2 0-2 0-2-.1-2 0-2 0-2 0-2 0-2 0-2-.1-2 0-2 0-2 0-2 0-2 0-2-.1-2 0-2 0-2 0-2 0-2 0-2 0-2-.1-2 0-2 0-2 0-2 0-2 0-2 0-2-.1-2 0-2 0-2 0-2 0-2 0-2 0-2-.1-2 0-2 0-2 0-2 0-2 0-2 0-2 0-2-.1-2 0-2 0-2 0-2 0-2 0-2 0-2 0-2-.1-2 0-2 0-2 0-2 0-2 0-2 0-2 0-2-.1-2 0-2 0-2 0-2 0-2 0-2 0-2 0-2 0-2-.1-2 0-2 0-2 0-2 0-2 0-2 0-2 0-2-.1-2 0-2 0-2 0-2 0-2 0-2 0-2 0-2-.1-2 0-2 0-2 0-2 0Z" fill="#b8f0c8" fill-opacity="0.5"/>
<path d="M854.6 1312.9l2 .1 2 0 2 0 2 0 2 0 2 0 2 0 2 0 2 0 2 0 2 0 2 0 2 0 2 0 2 0 2 0 2 0 2 0 2 0 2 0 2 0 2 0 2 0 2 0 2 0 2 0 2 0 2 0 2 0 2 0 2 0 2 0 2 0 2 0 2-.1 2 0 2 0 2 0 2 0 2 0 2-.1 2 0 2 0 2 0 2-.1 2 0 2 0 2-.1 2 0 2-.1 2-.1 2 0 2-.1 2-.1 2-.1 2-.1 2-.1 2-.2 2-.1 2-.2 2-.1 2-.2 2-.2 2-.3 2-.2 2-.3 2-.3 2-.3 2-.3 2-.4 2-.3 2-.4 2-.4 2-.4 2-.4 2-.5 2-.4 2-.4 2-.4 2-.4 2-.4 2-.3 2-.3 2-.2 2-.1 2-.1 2 0 2 .1 2 .2 2 .3 2 .4 2 .4 2 .5 2 .5 2 .5 2 .5 2 .6 2 .5 2 .5 2 .5 2 .4 2 .5 2 .4 2 .4 2 .3 2 .4 2 .3 2 .3 2 .2 2 .3 2 .2 2 .2 2 .2 2 .2 2 .1 2 .2 2 .1 2 .1 2 .1 2 .1 2 .1 2 .1 2 .1 2 .1 2 .1 2 .1 2 0 2 .1 2 .1 2 .1 2 0 2 .1 2 .1 2 0 2 .1 2 .1 2 0 2 .1 2 .1 2 0 2 .1 2 0 2 .1 2 0 2 .1 2 .1 2 0 2 .1 2 0 2 0 2 .1 2 0 2 .1 2 0 2 .1 2 0 2 0 2 .1 2 0 2 0 2 .1 2 0 2 0 2 0 2 .1 2 0 2 0 2 0 2 .1 2 0 2 0 2 0 2 .1 2 0 2 0 2 0 2 0 2 .1 2 0 2 0 2 0 2 0 2 .1 2 0 2 0 2 0 2 0 2 0 2 .1 2 0 2 0 2 0 2 0 2 0 2 .1 2 0 2 0 2 0 2 0 2 0 2 .1 2 0 2 0 2 0 2 0 2 0 2 0 2 .1 2 0 2 0 2 0 2 0 2 0 2 0 2 .1 2 0 2 0 2 0 2 0 2 0 2 0 2 .1 2 0 2 0 2 0 2 0 2 0 2 0 2 .1 2 0 2 0 2 0 2 0 2 0 2 0 0 .1-2 0-2 0-2 0-2-.1-2 0-2 0-2 0-2 0-2 0-2 0-2 0-2 0-2-.1-2 0-2 0-2 0-2 0-2 0-2 0-2-.1-2 0-2 0-2 0-2 0-2 0-2 0-2 0-2-.1-2 0-2 0-2 0-2 0-2 0-2 0-2 0-2-.1-2 0-2 0-2 0-2 0-2 0-2 0-2-.1-2 0-2 0-2 0-2 0-2 0-2 0-2-.1-2 0-2 0-2 0-2 0-2 0-2 0-2-.1-2 0-2 0-2 0-2 0-2 0-2-.1-2 0-2 0-2 0-2 0-2-.1-2 0-2 0-2 0-2 0-2-.1-2 0-2 0-2 0-2-.1-2 0-2 0-2 0-2-.1-2 0-2 0-2-.1-2 0-2 0-2-.1-2 0-2 0-2-.1-2 0-2-.1-2 0-2 0-2-.1-2 0-2-.1-2 0-2-.1-2 0-2 0-2-.1-2 0-2-.1-2 0-2 0-2-.1-2 0-2-.1-2 0-2 0-2-.1-2 0-2 0-2-.1-2 0-2 0-2 0-2-.1-2 0-2 0-2 0-2-.1-2 0-2 0-2-.1-2 0-2 0-2 0-2-.1-2 0-2 0-2 0-2-.1-2 0-2 0-2 0-2 0-2-.1-2 0-2 0-2 0-2 0-2-.1-2 0-2 0-2 0-2 0-2-.1-2 0-2 0-2 0-2 0-2 0-2-.1-2 0-2 0-2 0-2 0-2 0-2-.1-2 0-2 0-2 0-2 0-2 0-2 0-2-.1-2 0-2 0-2 0-2 0-2 0-2 0-2-.1-2 0-2 0-2 0-2 0-2 0-2 0-2-.1-2 0-2 0-2 0-2 0-2 0-2 0-2 0-2-.1-2 0-2 0-2 0-2 0-2 0-2 0-2 0-2-.1-2 0-2 0-2 0-2 0-2 0-2 0-2 0-2-.1-2 0-2 0-2 0-2 0-2 0-2 0-2 0-2 0-2-.1-2 0-2 0-2 0-2 0-2 0-2 0-2 0-2-.1-2 0-2 0-2 0-2 0-2 0-2 0-2 0-2-.1-2 0-2 0-2 0-2 0Z" fill="#f8d0e0" fill-opacity="0.35"/>
<path d="M854.6 1311.3l2 0 2 0 2 0 2 0 2 0 2-.1 2 0 2 0 2 0 2 0 2 0 2 0 2-.1 2 0 2 0 2 0 2 0 2-.1 2 0 2 0 2 0 2-.1 2 0 2 0 2 0 2-.1 2 0 2 0 2-.1 2 0 2-.1 2 0 2 0 2-.1 2 0 2-.1 2 0 2-.1 2-.1 2 0 2-.1 2-.1 2 0 2-.1 2-.1 2-.1 2-.1 2-.1 2-.1 2-.1 2-.2 2-.1 2-.1 2-.2 2-.2 2-.2 2-.2 2-.2 2-.2 2-.3 2-.2 2-.3 2-.3 2-.4 2-.3 2-.4 2-.4 2-.5 2-.4 2-.5 2-.5 2-.6 2-.6 2-.6 2-.6 2-.7 2-.6 2-.7 2-.8 2-.7 2-.7 2-.8 2-.7 2-.7 2-.8 2-.7 2-.7 2-.7 2-.8 2-.7 2-.7 2-.8 2-.9 2-.9 2-1 2-1.1 2-1.1 2-1.2 2-1.3 2-1.3 2-1.3 2-1.3 2-1.2 2-1.2 2-1 2-.9 2-.8 2-.6 2-.6 2-.6 2-.5 2-.6 2-.7 2-.8 2-1 2-1.1 2-1.4 2-1.6 2-1.8 2-2 2-2.2 2-2.5 2-2.6 2-2.9 2-2.9 2-3.1 2-3.1 2-3.1 2-3 2-3 2-2.7 2-2.5 2-2.1 2-1.7 2-1.3 2-.7 2-.1 2 .3 2 .8 2 1.3 2 1.6 2 2 2 2.3 2 2.6 2 2.9 2 3 2 3.2 2 3.2 2 3.3 2 3.3 2 3.3 2 3.3 2 3.2 2 3.1 2 3 2 2.9 2 2.9 2 2.7 2 2.5 2 2.5 2 2.3 2 2.2 2 2.1 2 2 2 1.8 2 1.7 2 1.6 2 1.5 2 1.4 2 1.3 2 1.2 2 1.1 2 1.1 2 .9 2 .9 2 .8 2 .8 2 .7 2 .6 2 .6 2 .6 2 .5 2 .4 2 .5 2 .4 2 .4 2 .3 2 .4 2 .3 2 .3 2 .2 2 .3 2 .3 2 .2 2 .2 2 .2 2 .2 2 .2 2 .2 2 .2 2 .1 2 .2 2 .2 2 .1 2 .1 2 .2 2 .1 2 .1 2 .2 2 .1 2 .1 2 .1 2 .1 2 .1 2 .1 2 .1 2 .1 2 .1 2 .1 2 .1 2 .1 2 0 2 .1 2 .1 2 .1 2 .1 2 0 2 .1 2 .1 2 0 2 .1 2 .1 2 0 2 .1 2 0" fill="none" stroke="#ff1414" stroke-width="4.0"/>
<path d="M854.6 1312.9l2 0 2 0 2 0 2 0 2 0 2 0 2 0 2 0 2-.1 2 0 2 0 2 0 2 0 2 0 2 0 2 0 2 0 2 0 2 0 2 0 2 0 2 0 2-.1 2 0 2 0 2 0 2 0 2 0 2 0 2 0 2-.1 2 0 2 0 2 0 2 0 2-.1 2 0 2 0 2 0 2 0 2-.1 2 0 2 0 2 0 2-.1 2 0 2 0 2-.1 2 0 2 0 2-.1 2 0 2-.1 2 0 2 0 2-.1 2 0 2-.1 2 0 2-.1 2-.1 2 0 2-.1 2-.1 2 0 2-.1 2-.1 2-.1 2 0 2-.1 2-.1 2-.1 2-.1 2-.1 2-.1 2-.1 2-.2 2-.1 2-.1 2-.2 2-.1 2-.2 2-.2 2-.1 2-.2 2-.2 2-.3 2-.2 2-.2 2-.3 2-.3 2-.3 2-.4 2-.4 2-.4 2-.4 2-.5 2-.5 2-.6 2-.7 2-.7 2-.7 2-.9 2-.9 2-1 2-1.1 2-1.2 2-1.4 2-1.4 2-1.6 2-1.7 2-1.8 2-2 2-2.1 2-2.3 2-2.5 2-2.6 2-2.7 2-2.9 2-3 2-3.2 2-3.3 2-3.4 2-3.5 2-3.6 2-3.6 2-3.5 2-3.6 2-3.4 2-3.2 2-3 2-2.7 2-2.3 2-1.9 2-1.4 2-.8 2-.3 2 .3 2 .7 2 1.1 2 1.6 2 1.9 2 2.3 2 2.6 2 2.7 2 3 2 3.1 2 3.2 2 3.3 2 3.2 2 3.3 2 3.2 2 3.2 2 3.1 2 3 2 2.9 2 2.8 2 2.7 2 2.5 2 2.5 2 2.3 2 2.2 2 2 2 2 2 1.8 2 1.7 2 1.6 2 1.4 2 1.4 2 1.3 2 1.2 2 1.1 2 1 2 1 2 .8 2 .8 2 .8 2 .7 2 .6 2 .6 2 .5 2 .5 2 .5 2 .4 2 .4 2 .4 2 .4 2 .3 2 .3 2 .3 2 .2 2 .3 2 .2 2 .3 2 .2 2 .2 2 .2 2 .2 2 .2 2 .1 2 .2 2 .1 2 .2 2 .1 2 .2 2 .1 2 .1 2 .2 2 .1 2 .1 2 .1 2 .1 2 .1 2 .1 2 .1 2 .1 2 .1 2 .1 2 .1 2 .1 2 0 2 .1 2 .1 2 .1 2 0 2 .1 2 .1 2 .1 2 0 2 .1 2 0 2 .1 2 .1 2 0 2 .1" fill="none" stroke="#5a5af0" stroke-width="3.6" stroke-opacity="0.62"/>
<path d="M854.6 1313.1l2 0 2 0 2 0 2 0 2 0 2 .1 2 0 2 0 2 0 2 0 2 0 2 0 2 0 2 0 2 0 2 0 2 .1 2 0 2 0 2 0 2 0 2 0 2 0 2 0 2 0 2 0 2 0 2 0 2 0 2 .1 2 0 2 0 2 0 2 0 2 0 2 0 2 0 2 0 2 0 2 0 2 0 2 0 2 0 2 0 2 0 2 0 2 0 2 0 2 0 2 0 2 0 2 0 2 0 2 0 2 0 2 0 2 0 2 0 2 0 2 0 2 0 2 0 2 0 2-.1 2 0 2 0 2 0 2 0 2-.1 2 0 2 0 2-.1 2 0 2-.1 2 0 2-.1 2-.1 2-.1 2-.2 2-.1 2-.2 2-.2 2-.3 2-.3 2-.4 2-.4 2-.5 2-.5 2-.6 2-.7 2-.8 2-.9 2-.9 2-1 2-1.1 2-1.1 2-1.1 2-1.2 2-1.1 2-1.1 2-1.1 2-.9 2-.7 2-.6 2-.3 2-.1 2 .2 2 .4 2 .7 2 .8 2 1 2 1.1 2 1.1 2 1.2 2 1.2 2 1.2 2 1.2 2 1.1 2 1 2 1 2 .9 2 .8 2 .7 2 .7 2 .6 2 .5 2 .5 2 .4 2 .3 2 .3 2 .3 2 .3 2 .2 2 .2 2 .1 2 .2 2 .1 2 .1 2 .1 2 .1 2 .1 2 .1 2 .1 2 .1 2 .1 2 .1 2 0 2 .1 2 .1 2 0 2 .1 2 0 2 .1 2 0 2 .1 2 0 2 .1 2 0 2 .1 2 0 2 0 2 .1 2 0 2 0 2 .1 2 0 2 0 2 .1 2 0 2 0 2 0 2 .1 2 0 2 0 2 0 2 .1 2 0 2 0 2 0 2 .1 2 0 2 0 2 0 2 0 2 .1 2 0 2 0 2 0 2 0 2 0 2 .1 2 0 2 0 2 0 2 0 2 .1 2 0 2 0 2 0 2 0 2 0 2 .1 2 0 2 0 2 0 2 0 2 0 2 0 2 .1 2 0 2 0 2 0 2 0 2 0 2 0 2 .1 2 0 2 0 2 0 2 0 2 0 2 0 2 .1 2 0 2 0 2 0 2 0 2 0 2 0 2 .1 2 0 2 0 2 0 2 0 2 0" fill="none" stroke="#4aa650" stroke-width="3.6" stroke-opacity="0.85"/>
<path d="M854.6 1312.9l2 .1 2 0 2 0 2 0 2 0 2 0 2 0 2 0 2 0 2 0 2 0 2 0 2 0 2 0 2 0 2 0 2 0 2 0 2 0 2 0 2 0 2 0 2 0 2 0 2 0 2 0 2 0 2 0 2 0 2 0 2 0 2 0 2 0 2 0 2-.1 2 0 2 0 2 0 2 0 2 0 2-.1 2 0 2 0 2 0 2-.1 2 0 2 0 2-.1 2 0 2-.1 2-.1 2 0 2-.1 2-.1 2-.1 2-.1 2-.1 2-.2 2-.1 2-.2 2-.1 2-.2 2-.2 2-.3 2-.2 2-.3 2-.3 2-.3 2-.3 2-.4 2-.3 2-.4 2-.4 2-.4 2-.4 2-.5 2-.4 2-.4 2-.4 2-.4 2-.4 2-.3 2-.3 2-.2 2-.1 2-.1 2 0 2 .1 2 .2 2 .3 2 .4 2 .4 2 .5 2 .5 2 .5 2 .5 2 .6 2 .5 2 .5 2 .5 2 .4 2 .5 2 .4 2 .4 2 .3 2 .4 2 .3 2 .3 2 .2 2 .3 2 .2 2 .2 2 .2 2 .2 2 .1 2 .2 2 .1 2 .1 2 .1 2 .1 2 .1 2 .1 2 .1 2 .1 2 .1 2 .1 2 0 2 .1 2 .1 2 .1 2 0 2 .1 2 .1 2 0 2 .1 2 .1 2 0 2 .1 2 .1 2 0 2 .1 2 0 2 .1 2 0 2 .1 2 .1 2 0 2 .1 2 0 2 0 2 .1 2 0 2 .1 2 0 2 .1 2 0 2 0 2 .1 2 0 2 0 2 .1 2 0 2 0 2 0 2 .1 2 0 2 0 2 0 2 .1 2 0 2 0 2 0 2 .1 2 0 2 0 2 0 2 0 2 .1 2 0 2 0 2 0 2 0 2 .1 2 0 2 0 2 0 2 0 2 0 2 .1 2 0 2 0 2 0 2 0 2 0 2 .1 2 0 2 0 2 0 2 0 2 0 2 .1 2 0 2 0 2 0 2 0 2 0 2 0 2 .1 2 0 2 0 2 0 2 0 2 0 2 0 2 .1 2 0 2 0 2 0 2 0 2 0 2 0 2 .1 2 0 2 0 2 0 2 0 2 0 2 0 2 .1 2 0 2 0 2 0 2 0 2 0 2 0" fill="none" stroke="#f0329a" stroke-width="3.6"/>
<path d="M854.6 1314l2 0 2 0 2 0 2 0 2 .1 2 0 2 0 2 0 2 0 2 0 2 0 2 0 2 .1 2 0 2 0 2 0 2 0 2 0 2 0 2 0 2 .1 2 0 2 0 2 0 2 0 2 0 2 0 2 0 2 0 2 .1 2 0 2 0 2 0 2 0 2 0 2 0 2 0 2 .1 2 0 2 0 2 0 2 0 2 0 2 0 2 0 2 .1 2 0 2 0 2 0 2 0 2 0 2 0 2 0 2 .1 2 0 2 0 2 0 2 0 2 0 2 0 2 .1 2 0 2 0 2 0 2 0 2 0 2 0 2 .1 2 0 2 0 2 0 2 0 2 0 2 0 2 .1 2 0 2 0 2 0 2 0 2 0 2 .1 2 0 2 0 2 0 2 0 2 0 2 .1 2 0 2 0 2 0 2 0 2 .1 2 0 2 0 2 0 2 0 2 .1 2 0 2 0 2 0 2 0 2 .1 2 0 2 0 2 0 2 .1 2 0 2 0 2 0 2 .1 2 0 2 0 2 .1 2 0 2 0 2 0 2 .1 2 0 2 0 2 0 2 .1 2 0 2 0 2 .1 2 0 2 0 2 .1 2 0 2 .1 2 0 2 0 2 .1 2 0 2 .1 2 0 2 0 2 .1 2 0 2 .1 2 0 2 .1 2 0 2 0 2 .1 2 0 2 .1 2 0 2 0 2 .1 2 0 2 0 2 .1 2 0 2 0 2 .1 2 0 2 0 2 0 2 .1 2 0 2 0 2 0 2 .1 2 0 2 0 2 0 2 0 2 .1 2 0 2 0 2 0 2 0 2 .1 2 0 2 0 2 0 2 0 2 0 2 .1 2 0 2 0 2 0 2 0 2 0 2 0 2 .1 2 0 2 0 2 0 2 0 2 0 2 0 2 .1 2 0 2 0 2 0 2 0 2 0 2 0 2 .1 2 0 2 0 2 0 2 0 2 0 2 0 2 0 2 .1 2 0 2 0 2 0 2 0 2 0 2 0 2 0 2 .1 2 0 2 0 2 0 2 0 2 0 2 0 2 .1 2 0 2 0 2 0 2 0 2 0 2 0 2 0 2 0 2 .1 2 0 2 0 2 0" fill="none" stroke="#7c0000" stroke-width="4.4" stroke-linecap="square"/>
<path d="M854.6 1430.9l2 0 2-.1 2 0 2 0 2 0 2 0 2 0 2 0 2 0 2 0 2-.1 2 0 2 0 2 0 2 0 2-.1 2 0 2 0 2 0 2 0 2-.1 2 0 2 0 2 0 2-.1 2 0 2 0 2-.1 2 0 2 0 2-.1 2 0 2 0 2-.1 2 0 2-.1 2 0 2-.1 2 0 2-.1 2-.1 2 0 2-.1 2-.1 2 0 2-.1 2-.1 2-.1 2-.1 2-.1 2-.1 2-.2 2-.1 2-.2 2-.1 2-.2 2-.2 2-.2 2-.2 2-.2 2-.2 2-.3 2-.3 2-.2 2-.4 2-.3 2-.3 2-.4 2-.4 2-.4 2-.4 2-.5 2-.5 2-.5 2-.5 2-.5 2-.5 2-.6 2-.5 2-.6 2-.6 2-.5 2-.6 2-.6 2-.6 2-.7 2-.6 2-.7 2-.7 2-.8 2-.8 2-1 2-1 2-1.1 2-1.2 2-1.3 2-1.3 2-1.4 2-1.4 2-1.4 2-1.4 2-1.3 2-1.1 2-1.1 2-.8 2-.7 2-.6 2-.5 2-.4 2-.3 2-.4 2-.5 2-.6 2-.7 2-.9 2-1.1 2-1.3 2-1.5 2-1.8 2-2 2-2.3 2-2.5 2-2.7 2-2.9 2-3 2-3.2 2-3.3 2-3.4 2-3.4 2-3.3 2-3.2 2-3 2-2.7 2-2.4 2-1.9 2-1.5 2-1 2-.4 2 .2 2 .7 2 1.1 2 1.5 2 2 2 2.3 2 2.6 2 2.8 2 3.1 2 3.2 2 3.3 2 3.4 2 3.4 2 3.4 2 3.4 2 3.3 2 3.2 2 3.2 2 3 2 3 2 2.8 2 2.7 2 2.5 2 2.5 2 2.3 2 2.2 2 2 2 2 2 1.8 2 1.6 2 1.6 2 1.5 2 1.4 2 1.2 2 1.2 2 1.1 2 1 2 .9 2 .9 2 .8 2 .7 2 .7 2 .6 2 .6 2 .5 2 .5 2 .5 2 .4 2 .4 2 .4 2 .3 2 .4 2 .3 2 .2 2 .3 2 .3 2 .2 2 .3 2 .2 2 .2 2 .2 2 .2 2 .1 2 .2 2 .2 2 .1 2 .2 2 .1 2 .2 2 .1 2 .1 2 .2 2 .1 2 .1 2 .1 2 .1 2 .1 2 .1 2 .1 2 .1 2 .1 2 .1 2 .1 2 .1 2 .1 2 .1 2 0 2 .1 2 .1 2 .1 2 0 2 .1 2 .1 2 0 2 .1 2 .1 2 0 0 2.5-2 0-2 0-2 0-2 0-2-.1-2 0-2 0-2 0-2 0-2 0-2 0-2 0-2 0-2-.1-2 0-2 0-2 0-2 0-2 0-2 0-2 0-2-.1-2 0-2 0-2 0-2 0-2 0-2 0-2 0-2 0-2-.1-2 0-2 0-2 0-2 0-2 0-2 0-2 0-2-.1-2 0-2 0-2 0-2 0-2 0-2 0-2 0-2-.1-2 0-2 0-2 0-2 0-2 0-2 0-2-.1-2 0-2 0-2 0-2 0-2 0-2 0-2-.1-2 0-2 0-2 0-2 0-2 0-2-.1-2 0-2 0-2 0-2 0-2-.1-2 0-2 0-2 0-2-.1-2 0-2 0-2 0-2-.1-2 0-2 0-2 0-2-.1-2 0-2 0-2-.1-2 0-2 0-2-.1-2 0-2-.1-2 0-2 0-2-.1-2 0-2-.1-2 0-2 0-2-.1-2 0-2-.1-2 0-2 0-2-.1-2 0-2 0-2-.1-2 0-2 0-2-.1-2 0-2 0-2 0-2-.1-2 0-2 0-2 0-2-.1-2 0-2 0-2 0-2-.1-2 0-2 0-2 0-2-.1-2 0-2 0-2 0-2 0-2-.1-2 0-2 0-2 0-2 0-2-.1-2 0-2 0-2 0-2 0-2-.1-2 0-2 0-2 0-2 0-2 0-2-.1-2 0-2 0-2 0-2 0-2 0-2 0-2-.1-2 0-2 0-2 0-2 0-2 0-2 0-2-.1-2 0-2 0-2 0-2 0-2 0-2 0-2-.1-2 0-2 0-2 0-2 0-2 0-2 0-2 0-2-.1-2 0-2 0-2 0-2 0-2 0-2 0-2 0-2 0-2-.1-2 0-2 0-2 0-2 0-2 0-2 0-2 0-2 0-2-.1-2 0-2 0-2 0-2 0-2 0-2 0-2 0-2 0-2-.1-2 0-2 0-2 0-2 0-2 0-2 0-2 0-2 0-2-.1-2 0-2 0-2 0-2 0-2 0-2 0-2 0-2 0-2-.1-2 0-2 0-2 0-2 0-2 0-2 0-2 0-2 0-2-.1-2 0-2 0-2 0-2 0Z" fill="#fcd8d8" fill-opacity="0.45"/>
<path d="M850.4 1427.2a4.2 4.2 0 1 0 8.4 0a4.2 4.2 0 1 0 -8.4 0M862.2 1427.8a4.2 4.2 0 1 0 8.4 0a4.2 4.2 0 1 0 -8.4 0M874 1429.6a4.2 4.2 0 1 0 8.4 0a4.2 4.2 0 1 0 -8.4 0M885.8 1428.2a4.2 4.2 0 1 0 8.4 0a4.2 4.2 0 1 0 -8.4 0M897.6 1429.5a4.2 4.2 0 1 0 8.4 0a4.2 4.2 0 1 0 -8.4 0M909.3 1429.7a4.2 4.2 0 1 0 8.4 0a4.2 4.2 0 1 0 -8.4 0M921.1 1426.3a4.2 4.2 0 1 0 8.4 0a4.2 4.2 0 1 0 -8.4 0M932.9 1429.4a4.2 4.2 0 1 0 8.4 0a4.2 4.2 0 1 0 -8.4 0M944.7 1426.6a4.2 4.2 0 1 0 8.4 0a4.2 4.2 0 1 0 -8.4 0M956.5 1429.6a4.2 4.2 0 1 0 8.4 0a4.2 4.2 0 1 0 -8.4 0M968.3 1426.6a4.2 4.2 0 1 0 8.4 0a4.2 4.2 0 1 0 -8.4 0M980.1 1423.3a4.2 4.2 0 1 0 8.4 0a4.2 4.2 0 1 0 -8.4 0M991.9 1422.1a4.2 4.2 0 1 0 8.4 0a4.2 4.2 0 1 0 -8.4 0M1003.7 1419.2a4.2 4.2 0 1 0 8.4 0a4.2 4.2 0 1 0 -8.4 0M1015.5 1415.9a4.2 4.2 0 1 0 8.4 0a4.2 4.2 0 1 0 -8.4 0M1027.2 1413.3a4.2 4.2 0 1 0 8.4 0a4.2 4.2 0 1 0 -8.4 0M1039 1406.4a4.2 4.2 0 1 0 8.4 0a4.2 4.2 0 1 0 -8.4 0M1050.8 1400.2a4.2 4.2 0 1 0 8.4 0a4.2 4.2 0 1 0 -8.4 0M1062.6 1391.8a4.2 4.2 0 1 0 8.4 0a4.2 4.2 0 1 0 -8.4 0M1074.4 1386.9a4.2 4.2 0 1 0 8.4 0a4.2 4.2 0 1 0 -8.4 0M1086.2 1379.1a4.2 4.2 0 1 0 8.4 0a4.2 4.2 0 1 0 -8.4 0M1098 1366.6a4.2 4.2 0 1 0 8.4 0a4.2 4.2 0 1 0 -8.4 0M1109.8 1351.7a4.2 4.2 0 1 0 8.4 0a4.2 4.2 0 1 0 -8.4 0M1121.6 1337.7a4.2 4.2 0 1 0 8.4 0a4.2 4.2 0 1 0 -8.4 0M1133.4 1337.5a4.2 4.2 0 1 0 8.4 0a4.2 4.2 0 1 0 -8.4 0M1145.1 1346.9a4.2 4.2 0 1 0 8.4 0a4.2 4.2 0 1 0 -8.4 0M1156.9 1366.2a4.2 4.2 0 1 0 8.4 0a4.2 4.2 0 1 0 -8.4 0M1168.7 1382.9a4.2 4.2 0 1 0 8.4 0a4.2 4.2 0 1 0 -8.4 0M1180.5 1398a4.2 4.2 0 1 0 8.4 0a4.2 4.2 0 1 0 -8.4 0M1192.3 1406.1a4.2 4.2 0 1 0 8.4 0a4.2 4.2 0 1 0 -8.4 0M1204.1 1417.6a4.2 4.2 0 1 0 8.4 0a4.2 4.2 0 1 0 -8.4 0M1215.9 1420.3a4.2 4.2 0 1 0 8.4 0a4.2 4.2 0 1 0 -8.4 0M1227.7 1424.2a4.2 4.2 0 1 0 8.4 0a4.2 4.2 0 1 0 -8.4 0M1239.5 1427a4.2 4.2 0 1 0 8.4 0a4.2 4.2 0 1 0 -8.4 0M1251.3 1428.3a4.2 4.2 0 1 0 8.4 0a4.2 4.2 0 1 0 -8.4 0M1263 1427.1a4.2 4.2 0 1 0 8.4 0a4.2 4.2 0 1 0 -8.4 0M1274.8 1431.9a4.2 4.2 0 1 0 8.4 0a4.2 4.2 0 1 0 -8.4 0M1286.6 1431.5a4.2 4.2 0 1 0 8.4 0a4.2 4.2 0 1 0 -8.4 0M1298.4 1431.7a4.2 4.2 0 1 0 8.4 0a4.2 4.2 0 1 0 -8.4 0M1310.2 1430.6a4.2 4.2 0 1 0 8.4 0a4.2 4.2 0 1 0 -8.4 0M1322 1429.6a4.2 4.2 0 1 0 8.4 0a4.2 4.2 0 1 0 -8.4 0" fill="none" stroke="#000" stroke-width="1.5"/>
<path d="M854.6 1431.2l2 0 2 0 2-.1 2 0 2 0 2 0 2 0 2 0 2 0 2 0 2 0 2 0 2 0 2 0 2 0 2 0 2 0 2 0 2-.1 2 0 2 0 2 0 2 0 2 0 2 0 2 0 2 0 2-.1 2 0 2 0 2 0 2 0 2 0 2-.1 2 0 2 0 2 0 2 0 2-.1 2 0 2 0 2 0 2-.1 2 0 2 0 2-.1 2 0 2 0 2-.1 2 0 2 0 2-.1 2 0 2-.1 2 0 2-.1 2 0 2-.1 2 0 2-.1 2 0 2-.1 2-.1 2 0 2-.1 2-.1 2 0 2-.1 2-.1 2-.1 2-.1 2-.1 2-.1 2-.1 2-.1 2-.1 2-.1 2-.2 2-.1 2-.1 2-.2 2-.1 2-.2 2-.2 2-.2 2-.2 2-.2 2-.2 2-.2 2-.3 2-.3 2-.3 2-.3 2-.4 2-.3 2-.5 2-.4 2-.5 2-.5 2-.6 2-.7 2-.7 2-.8 2-.8 2-1 2-1 2-1.1 2-1.2 2-1.4 2-1.4 2-1.6 2-1.7 2-1.9 2-2 2-2.2 2-2.3 2-2.5 2-2.6 2-2.8 2-2.9 2-3.1 2-3.3 2-3.4 2-3.5 2-3.6 2-3.6 2-3.7 2-3.7 2-3.7 2-3.6 2-3.4 2-3.1 2-2.9 2-2.6 2-2.1 2-1.6 2-1 2-.5 2 .1 2 .6 2 1.1 2 1.5 2 1.9 2 2.2 2 2.6 2 2.8 2 3 2 3.1 2 3.3 2 3.4 2 3.4 2 3.3 2 3.4 2 3.3 2 3.2 2 3.1 2 3 2 3 2 2.8 2 2.6 2 2.6 2 2.4 2 2.3 2 2.2 2 2 2 1.9 2 1.8 2 1.7 2 1.6 2 1.4 2 1.4 2 1.2 2 1.2 2 1.1 2 1 2 .9 2 .8 2 .8 2 .7 2 .7 2 .6 2 .6 2 .5 2 .5 2 .5 2 .4 2 .4 2 .3 2 .4 2 .3 2 .3 2 .3 2 .3 2 .2 2 .3 2 .2 2 .2 2 .2 2 .2 2 .2 2 .2 2 .1 2 .2 2 .1 2 .2 2 .1 2 .2 2 .1 2 .1 2 .1 2 .2 2 .1 2 .1 2 .1 2 .1 2 .1 2 .1 2 .1 2 .1 2 .1 2 .1 2 0 2 .1 2 .1 2 .1 2 .1 2 0 2 .1 2 .1 2 0 2 .1 2 .1 2 0 2 .1 2 0 0 2.4-2 0-2 0-2 0-2 0-2-.1-2 0-2 0-2 0-2 0-2 0-2 0-2 0-2 0-2-.1-2 0-2 0-2 0-2 0-2 0-2 0-2 0-2-.1-2 0-2 0-2 0-2 0-2 0-2 0-2 0-2 0-2-.1-2 0-2 0-2 0-2 0-2 0-2 0-2 0-2-.1-2 0-2 0-2 0-2 0-2 0-2 0-2 0-2-.1-2 0-2 0-2 0-2 0-2 0-2 0-2-.1-2 0-2 0-2 0-2 0-2 0-2 0-2-.1-2 0-2 0-2 0-2 0-2 0-2-.1-2 0-2 0-2 0-2 0-2-.1-2 0-2 0-2 0-2-.1-2 0-2 0-2 0-2-.1-2 0-2 0-2 0-2-.1-2 0-2 0-2-.1-2 0-2 0-2-.1-2 0-2-.1-2 0-2 0-2-.1-2 0-2-.1-2 0-2 0-2-.1-2 0-2-.1-2 0-2 0-2-.1-2 0-2 0-2-.1-2 0-2 0-2-.1-2 0-2 0-2 0-2-.1-2 0-2 0-2 0-2-.1-2 0-2 0-2 0-2-.1-2 0-2 0-2 0-2-.1-2 0-2 0-2 0-2 0-2-.1-2 0-2 0-2 0-2 0-2-.1-2 0-2 0-2 0-2 0-2-.1-2 0-2 0-2 0-2 0-2 0-2-.1-2 0-2 0-2 0-2 0-2 0-2 0-2-.1-2 0-2 0-2 0-2 0-2 0-2 0-2-.1-2 0-2 0-2 0-2 0-2 0-2 0-2-.1-2 0-2 0-2 0-2 0-2 0-2 0-2 0-2-.1-2 0-2 0-2 0-2 0-2 0-2 0-2 0-2 0-2-.1-2 0-2 0-2 0-2 0-2 0-2 0-2 0-2 0-2-.1-2 0-2 0-2 0-2 0-2 0-2 0-2 0-2 0-2-.1-2 0-2 0-2 0-2 0-2 0-2 0-2 0-2 0-2-.1-2 0-2 0-2 0-2 0-2 0-2 0-2 0-2 0-2-.1-2 0-2 0-2 0-2 0-2 0-2 0-2 0-2 0-2-.1-2 0-2 0-2 0-2 0Z" fill="url(#dB)" fill-opacity="0.7"/>
<path d="M854.6 1432l2 0 2 0 2 0 2 0 2 0 2 0 2 0 2 .1 2 0 2 0 2 0 2 0 2 0 2 0 2 0 2 0 2 0 2 0 2 0 2 0 2 .1 2 0 2 0 2 0 2 0 2 0 2 0 2 0 2 0 2 0 2 0 2 0 2 0 2 0 2 0 2 0 2 0 2 0 2 .1 2 0 2 0 2 0 2 0 2 0 2 0 2 0 2 0 2 0 2 0 2 0 2 0 2 0 2-.1 2 0 2 0 2 0 2 0 2 0 2 0 2 0 2 0 2 0 2-.1 2 0 2 0 2 0 2 0 2-.1 2 0 2 0 2-.1 2 0 2-.1 2-.1 2-.1 2-.1 2-.1 2-.1 2-.2 2-.2 2-.2 2-.3 2-.3 2-.3 2-.5 2-.5 2-.5 2-.7 2-.7 2-.8 2-.9 2-.9 2-1.1 2-1 2-1.2 2-1.2 2-1.2 2-1.1 2-1.2 2-1 2-1 2-.8 2-.6 2-.3 2-.1 2 .2 2 .4 2 .6 2 .9 2 1 2 1.1 2 1.2 2 1.2 2 1.2 2 1.3 2 1.1 2 1.2 2 1 2 1 2 .9 2 .9 2 .7 2 .7 2 .6 2 .5 2 .5 2 .4 2 .4 2 .3 2 .3 2 .2 2 .2 2 .2 2 .2 2 .1 2 .1 2 .2 2 .1 2 .1 2 .1 2 .1 2 .1 2 0 2 .1 2 .1 2 .1 2 0 2 .1 2 .1 2 0 2 .1 2 0 2 .1 2 0 2 .1 2 0 2 .1 2 0 2 0 2 .1 2 0 2 .1 2 0 2 0 2 0 2 .1 2 0 2 0 2 .1 2 0 2 0 2 0 2 .1 2 0 2 0 2 0 2 .1 2 0 2 0 2 0 2 0 2 .1 2 0 2 0 2 0 2 0 2 0 2 .1 2 0 2 0 2 0 2 0 2 0 2 .1 2 0 2 0 2 0 2 0 2 0 2 .1 2 0 2 0 2 0 2 0 2 0 2 0 2 .1 2 0 2 0 2 0 2 0 2 0 2 0 2 .1 2 0 2 0 2 0 2 0 2 0 2 0 2 0 2 .1 2 0 2 0 2 0 2 0 2 0 2 0 2 .1 2 0 2 0 2 0 2 0 2 0 2 0 0 .1-2 0-2 0-2 0-2 0-2-.1-2 0-2 0-2 0-2 0-2 0-2 0-2 0-2 0-2-.1-2 0-2 0-2 0-2 0-2 0-2 0-2 0-2-.1-2 0-2 0-2 0-2 0-2 0-2 0-2 0-2 0-2-.1-2 0-2 0-2 0-2 0-2 0-2 0-2 0-2-.1-2 0-2 0-2 0-2 0-2 0-2 0-2 0-2-.1-2 0-2 0-2 0-2 0-2 0-2 0-2-.1-2 0-2 0-2 0-2 0-2 0-2 0-2-.1-2 0-2 0-2 0-2 0-2 0-2-.1-2 0-2 0-2 0-2 0-2-.1-2 0-2 0-2 0-2-.1-2 0-2 0-2 0-2-.1-2 0-2 0-2 0-2-.1-2 0-2 0-2-.1-2 0-2 0-2-.1-2 0-2-.1-2 0-2 0-2-.1-2 0-2-.1-2 0-2 0-2-.1-2 0-2-.1-2 0-2 0-2-.1-2 0-2 0-2-.1-2 0-2 0-2-.1-2 0-2 0-2 0-2-.1-2 0-2 0-2 0-2-.1-2 0-2 0-2 0-2-.1-2 0-2 0-2 0-2-.1-2 0-2 0-2 0-2 0-2-.1-2 0-2 0-2 0-2 0-2-.1-2 0-2 0-2 0-2 0-2-.1-2 0-2 0-2 0-2 0-2 0-2-.1-2 0-2 0-2 0-2 0-2 0-2 0-2-.1-2 0-2 0-2 0-2 0-2 0-2 0-2-.1-2 0-2 0-2 0-2 0-2 0-2 0-2-.1-2 0-2 0-2 0-2 0-2 0-2 0-2 0-2-.1-2 0-2 0-2 0-2 0-2 0-2 0-2 0-2 0-2-.1-2 0-2 0-2 0-2 0-2 0-2 0-2 0-2 0-2-.1-2 0-2 0-2 0-2 0-2 0-2 0-2 0-2 0-2-.1-2 0-2 0-2 0-2 0-2 0-2 0-2 0-2 0-2-.1-2 0-2 0-2 0-2 0-2 0-2 0-2 0-2 0-2-.1-2 0-2 0-2 0-2 0-2 0-2 0-2 0-2 0-2-.1-2 0-2 0-2 0-2 0Z" fill="#b8f0c8" fill-opacity="0.5"/>
<path d="M854.6 1431.9l2 0 2 0 2 0 2 0 2 .1 2 0 2 0 2 0 2 0 2 0 2 0 2 0 2 0 2 0 2 0 2 0 2 0 2 0 2 0 2 0 2 0 2 0 2 0 2 0 2 0 2 0 2 0 2 0 2 0 2 0 2 0 2 0 2 0 2 0 2 0 2 0 2 0 2 0 2-.1 2 0 2 0 2 0 2 0 2-.1 2 0 2 0 2 0 2-.1 2 0 2-.1 2 0 2-.1 2 0 2-.1 2-.1 2-.1 2-.1 2-.1 2-.1 2-.2 2-.1 2-.2 2-.1 2-.2 2-.2 2-.2 2-.2 2-.3 2-.2 2-.3 2-.3 2-.2 2-.3 2-.3 2-.3 2-.3 2-.2 2-.3 2-.2 2-.2 2-.2 2-.1 2-.1 2 0 2 0 2 .1 2 .2 2 .2 2 .3 2 .3 2 .3 2 .4 2 .3 2 .4 2 .4 2 .3 2 .4 2 .3 2 .3 2 .3 2 .3 2 .2 2 .3 2 .2 2 .2 2 .2 2 .2 2 .1 2 .2 2 .1 2 .1 2 .1 2 .2 2 .1 2 0 2 .1 2 .1 2 .1 2 .1 2 0 2 .1 2 0 2 .1 2 .1 2 0 2 .1 2 0 2 .1 2 0 2 .1 2 0 2 .1 2 0 2 .1 2 .1 2 0 2 .1 2 0 2 .1 2 0 2 .1 2 0 2 .1 2 0 2 .1 2 0 2 0 2 .1 2 0 2 .1 2 0 2 0 2 .1 2 0 2 0 2 .1 2 0 2 0 2 .1 2 0 2 0 2 .1 2 0 2 0 2 0 2 .1 2 0 2 0 2 0 2 0 2 .1 2 0 2 0 2 0 2 0 2 .1 2 0 2 0 2 0 2 0 2 0 2 .1 2 0 2 0 2 0 2 0 2 0 2 0 2 .1 2 0 2 0 2 0 2 0 2 0 2 0 2 .1 2 0 2 0 2 0 2 0 2 0 2 0 2 .1 2 0 2 0 2 0 2 0 2 0 2 0 2 0 2 .1 2 0 2 0 2 0 2 0 2 0 2 0 2 0 2 .1 2 0 2 0 2 0 2 0 2 0 2 0 2 0 2 .1 2 0 2 0 2 0 2 0 2 0 2 0 2 0 2 .1 0 0-2 0-2 0-2 0-2 0-2-.1-2 0-2 0-2 0-2 0-2 0-2 0-2 0-2 0-2-.1-2 0-2 0-2 0-2 0-2 0-2 0-2 0-2-.1-2 0-2 0-2 0-2 0-2 0-2 0-2 0-2 0-2-.1-2 0-2 0-2 0-2 0-2 0-2 0-2 0-2-.1-2 0-2 0-2 0-2 0-2 0-2 0-2 0-2-.1-2 0-2 0-2 0-2 0-2 0-2 0-2-.1-2 0-2 0-2 0-2 0-2 0-2 0-2-.1-2 0-2 0-2 0-2 0-2 0-2-.1-2 0-2 0-2 0-2 0-2-.1-2 0-2 0-2 0-2-.1-2 0-2 0-2 0-2-.1-2 0-2 0-2 0-2-.1-2 0-2 0-2-.1-2 0-2 0-2-.1-2 0-2-.1-2 0-2 0-2-.1-2 0-2-.1-2 0-2 0-2-.1-2 0-2-.1-2 0-2 0-2-.1-2 0-2 0-2-.1-2 0-2 0-2-.1-2 0-2 0-2 0-2-.1-2 0-2 0-2 0-2-.1-2 0-2 0-2 0-2-.1-2 0-2 0-2 0-2-.1-2 0-2 0-2 0-2 0-2-.1-2 0-2 0-2 0-2 0-2-.1-2 0-2 0-2 0-2 0-2-.1-2 0-2 0-2 0-2 0-2 0-2-.1-2 0-2 0-2 0-2 0-2 0-2 0-2-.1-2 0-2 0-2 0-2 0-2 0-2 0-2-.1-2 0-2 0-2 0-2 0-2 0-2 0-2-.1-2 0-2 0-2 0-2 0-2 0-2 0-2 0-2-.1-2 0-2 0-2 0-2 0-2 0-2 0-2 0-2 0-2-.1-2 0-2 0-2 0-2 0-2 0-2 0-2 0-2 0-2-.1-2 0-2 0-2 0-2 0-2 0-2 0-2 0-2 0-2-.1-2 0-2 0-2 0-2 0-2 0-2 0-2 0-2 0-2-.1-2 0-2 0-2 0-2 0-2 0-2 0-2 0-2 0-2-.1-2 0-2 0-2 0-2 0-2 0-2 0-2 0-2 0-2-.1-2 0-2 0-2 0-2 0Z" fill="#f8d0e0" fill-opacity="0.35"/>
<path d="M854.6 1430.3l2 0 2-.1 2 0 2 0 2 0 2 0 2 0 2 0 2 0 2 0 2-.1 2 0 2 0 2 0 2 0 2-.1 2 0 2 0 2 0 2 0 2-.1 2 0 2 0 2 0 2-.1 2 0 2 0 2-.1 2 0 2 0 2-.1 2 0 2 0 2-.1 2 0 2-.1 2 0 2-.1 2 0 2-.1 2-.1 2 0 2-.1 2-.1 2 0 2-.1 2-.1 2-.1 2-.1 2-.1 2-.1 2-.2 2-.1 2-.2 2-.1 2-.2 2-.2 2-.2 2-.2 2-.2 2-.2 2-.3 2-.3 2-.2 2-.4 2-.3 2-.3 2-.4 2-.4 2-.4 2-.4 2-.5 2-.5 2-.5 2-.5 2-.5 2-.5 2-.6 2-.5 2-.6 2-.6 2-.5 2-.6 2-.6 2-.6 2-.7 2-.6 2-.7 2-.7 2-.8 2-.8 2-1 2-1 2-1.1 2-1.2 2-1.3 2-1.3 2-1.4 2-1.4 2-1.4 2-1.4 2-1.3 2-1.1 2-1.1 2-.8 2-.7 2-.6 2-.5 2-.4 2-.3 2-.4 2-.5 2-.6 2-.7 2-.9 2-1.1 2-1.3 2-1.5 2-1.8 2-2 2-2.3 2-2.5 2-2.7 2-2.9 2-3 2-3.2 2-3.3 2-3.4 2-3.4 2-3.3 2-3.2 2-3 2-2.7 2-2.4 2-1.9 2-1.5 2-1 2-.4 2 .2 2 .7 2 1.1 2 1.5 2 2 2 2.3 2 2.6 2 2.8 2 3.1 2 3.2 2 3.3 2 3.4 2 3.4 2 3.4 2 3.4 2 3.3 2 3.2 2 3.2 2 3 2 3 2 2.8 2 2.7 2 2.5 2 2.5 2 2.3 2 2.2 2 2 2 2 2 1.8 2 1.6 2 1.6 2 1.5 2 1.4 2 1.2 2 1.2 2 1.1 2 1 2 .9 2 .9 2 .8 2 .7 2 .7 2 .6 2 .6 2 .5 2 .5 2 .5 2 .4 2 .4 2 .4 2 .3 2 .4 2 .3 2 .2 2 .3 2 .3 2 .2 2 .3 2 .2 2 .2 2 .2 2 .2 2 .1 2 .2 2 .2 2 .1 2 .2 2 .1 2 .2 2 .1 2 .1 2 .2 2 .1 2 .1 2 .1 2 .1 2 .1 2 .1 2 .1 2 .1 2 .1 2 .1 2 .1 2 .1 2 .1 2 .1 2 0 2 .1 2 .1 2 .1 2 0 2 .1 2 .1 2 0 2 .1 2 .1 2 0" fill="none" stroke="#ff1414" stroke-width="4.0"/>
<path d="M854.6 1431.8l2 0 2 0 2-.1 2 0 2 0 2 0 2 0 2 0 2 0 2 0 2 0 2 0 2 0 2 0 2 0 2 0 2 0 2 0 2-.1 2 0 2 0 2 0 2 0 2 0 2 0 2 0 2 0 2-.1 2 0 2 0 2 0 2 0 2 0 2-.1 2 0 2 0 2 0 2 0 2-.1 2 0 2 0 2 0 2-.1 2 0 2 0 2-.1 2 0 2 0 2-.1 2 0 2 0 2-.1 2 0 2-.1 2 0 2-.1 2 0 2-.1 2 0 2-.1 2 0 2-.1 2-.1 2 0 2-.1 2-.1 2 0 2-.1 2-.1 2-.1 2-.1 2-.1 2-.1 2-.1 2-.1 2-.1 2-.1 2-.2 2-.1 2-.1 2-.2 2-.1 2-.2 2-.2 2-.2 2-.2 2-.2 2-.2 2-.2 2-.3 2-.3 2-.3 2-.3 2-.4 2-.3 2-.5 2-.4 2-.5 2-.5 2-.6 2-.7 2-.7 2-.8 2-.8 2-1 2-1 2-1.1 2-1.2 2-1.4 2-1.4 2-1.6 2-1.7 2-1.9 2-2 2-2.2 2-2.3 2-2.5 2-2.6 2-2.8 2-2.9 2-3.1 2-3.3 2-3.4 2-3.5 2-3.6 2-3.6 2-3.7 2-3.7 2-3.7 2-3.6 2-3.4 2-3.1 2-2.9 2-2.6 2-2.1 2-1.6 2-1 2-.5 2 .1 2 .6 2 1.1 2 1.5 2 1.9 2 2.2 2 2.6 2 2.8 2 3 2 3.1 2 3.3 2 3.4 2 3.4 2 3.3 2 3.4 2 3.3 2 3.2 2 3.1 2 3 2 3 2 2.8 2 2.6 2 2.6 2 2.4 2 2.3 2 2.2 2 2 2 1.9 2 1.8 2 1.7 2 1.6 2 1.4 2 1.4 2 1.2 2 1.2 2 1.1 2 1 2 .9 2 .8 2 .8 2 .7 2 .7 2 .6 2 .6 2 .5 2 .5 2 .5 2 .4 2 .4 2 .3 2 .4 2 .3 2 .3 2 .3 2 .3 2 .2 2 .3 2 .2 2 .2 2 .2 2 .2 2 .2 2 .2 2 .1 2 .2 2 .1 2 .2 2 .1 2 .2 2 .1 2 .1 2 .1 2 .2 2 .1 2 .1 2 .1 2 .1 2 .1 2 .1 2 .1 2 .1 2 .1 2 .1 2 0 2 .1 2 .1 2 .1 2 .1 2 0 2 .1 2 .1 2 0 2 .1 2 .1 2 0 2 .1 2 0" fill="none" stroke="#5a5af0" stroke-width="3.6" stroke-opacity="0.62"/>
<path d="M854.6 1432l2 0 2 0 2 0 2 0 2 0 2 0 2 0 2 .1 2 0 2 0 2 0 2 0 2 0 2 0 2 0 2 0 2 0 2 0 2 0 2 0 2 .1 2 0 2 0 2 0 2 0 2 0 2 0 2 0 2 0 2 0 2 0 2 0 2 0 2 0 2 0 2 0 2 0 2 0 2 .1 2 0 2 0 2 0 2 0 2 0 2 0 2 0 2 0 2 0 2 0 2 0 2 0 2 0 2-.1 2 0 2 0 2 0 2 0 2 0 2 0 2 0 2 0 2 0 2-.1 2 0 2 0 2 0 2 0 2-.1 2 0 2 0 2-.1 2 0 2-.1 2-.1 2-.1 2-.1 2-.1 2-.1 2-.2 2-.2 2-.2 2-.3 2-.3 2-.3 2-.5 2-.5 2-.5 2-.7 2-.7 2-.8 2-.9 2-.9 2-1.1 2-1 2-1.2 2-1.2 2-1.2 2-1.1 2-1.2 2-1 2-1 2-.8 2-.6 2-.3 2-.1 2 .2 2 .4 2 .6 2 .9 2 1 2 1.1 2 1.2 2 1.2 2 1.2 2 1.3 2 1.1 2 1.2 2 1 2 1 2 .9 2 .9 2 .7 2 .7 2 .6 2 .5 2 .5 2 .4 2 .4 2 .3 2 .3 2 .2 2 .2 2 .2 2 .2 2 .1 2 .1 2 .2 2 .1 2 .1 2 .1 2 .1 2 .1 2 0 2 .1 2 .1 2 .1 2 0 2 .1 2 .1 2 0 2 .1 2 0 2 .1 2 0 2 .1 2 0 2 .1 2 0 2 0 2 .1 2 0 2 .1 2 0 2 0 2 0 2 .1 2 0 2 0 2 .1 2 0 2 0 2 0 2 .1 2 0 2 0 2 0 2 .1 2 0 2 0 2 0 2 0 2 .1 2 0 2 0 2 0 2 0 2 0 2 .1 2 0 2 0 2 0 2 0 2 0 2 .1 2 0 2 0 2 0 2 0 2 0 2 .1 2 0 2 0 2 0 2 0 2 0 2 0 2 .1 2 0 2 0 2 0 2 0 2 0 2 0 2 .1 2 0 2 0 2 0 2 0 2 0 2 0 2 0 2 .1 2 0 2 0 2 0 2 0 2 0 2 0 2 .1 2 0 2 0 2 0 2 0 2 0 2 0" fill="none" stroke="#4aa650" stroke-width="3.6" stroke-opacity="0.85"/>
<path d="M854.6 1431.9l2 0 2 0 2 0 2 0 2 .1 2 0 2 0 2 0 2 0 2 0 2 0 2 0 2 0 2 0 2 0 2 0 2 0 2 0 2 0 2 0 2 0 2 0 2 0 2 0 2 0 2 0 2 0 2 0 2 0 2 0 2 0 2 0 2 0 2 0 2 0 2 0 2 0 2 0 2-.1 2 0 2 0 2 0 2 0 2-.1 2 0 2 0 2 0 2-.1 2 0 2-.1 2 0 2-.1 2 0 2-.1 2-.1 2-.1 2-.1 2-.1 2-.1 2-.2 2-.1 2-.2 2-.1 2-.2 2-.2 2-.2 2-.2 2-.3 2-.2 2-.3 2-.3 2-.2 2-.3 2-.3 2-.3 2-.3 2-.2 2-.3 2-.2 2-.2 2-.2 2-.1 2-.1 2 0 2 0 2 .1 2 .2 2 .2 2 .3 2 .3 2 .3 2 .4 2 .3 2 .4 2 .4 2 .3 2 .4 2 .3 2 .3 2 .3 2 .3 2 .2 2 .3 2 .2 2 .2 2 .2 2 .2 2 .1 2 .2 2 .1 2 .1 2 .1 2 .2 2 .1 2 0 2 .1 2 .1 2 .1 2 .1 2 0 2 .1 2 0 2 .1 2 .1 2 0 2 .1 2 0 2 .1 2 0 2 .1 2 0 2 .1 2 0 2 .1 2 .1 2 0 2 .1 2 0 2 .1 2 0 2 .1 2 0 2 .1 2 0 2 .1 2 0 2 0 2 .1 2 0 2 .1 2 0 2 0 2 .1 2 0 2 0 2 .1 2 0 2 0 2 .1 2 0 2 0 2 .1 2 0 2 0 2 0 2 .1 2 0 2 0 2 0 2 0 2 .1 2 0 2 0 2 0 2 0 2 .1 2 0 2 0 2 0 2 0 2 0 2 .1 2 0 2 0 2 0 2 0 2 0 2 0 2 .1 2 0 2 0 2 0 2 0 2 0 2 0 2 .1 2 0 2 0 2 0 2 0 2 0 2 0 2 .1 2 0 2 0 2 0 2 0 2 0 2 0 2 0 2 .1 2 0 2 0 2 0 2 0 2 0 2 0 2 0 2 .1 2 0 2 0 2 0 2 0 2 0 2 0 2 0 2 .1 2 0 2 0 2 0 2 0 2 0 2 0 2 0 2 .1" fill="none" stroke="#f0329a" stroke-width="3.6"/>
<path d="M854.6 1432.9l2 0 2 0 2 0 2 0 2 .1 2 0 2 0 2 0 2 0 2 0 2 0 2 0 2 0 2 .1 2 0 2 0 2 0 2 0 2 0 2 0 2 0 2 0 2 .1 2 0 2 0 2 0 2 0 2 0 2 0 2 0 2 0 2 .1 2 0 2 0 2 0 2 0 2 0 2 0 2 0 2 0 2 .1 2 0 2 0 2 0 2 0 2 0 2 0 2 0 2 0 2 .1 2 0 2 0 2 0 2 0 2 0 2 0 2 0 2 0 2 .1 2 0 2 0 2 0 2 0 2 0 2 0 2 0 2 .1 2 0 2 0 2 0 2 0 2 0 2 0 2 .1 2 0 2 0 2 0 2 0 2 0 2 0 2 .1 2 0 2 0 2 0 2 0 2 0 2 0 2 .1 2 0 2 0 2 0 2 0 2 0 2 .1 2 0 2 0 2 0 2 0 2 .1 2 0 2 0 2 0 2 0 2 .1 2 0 2 0 2 0 2 0 2 .1 2 0 2 0 2 0 2 .1 2 0 2 0 2 0 2 .1 2 0 2 0 2 0 2 .1 2 0 2 0 2 0 2 .1 2 0 2 0 2 .1 2 0 2 0 2 .1 2 0 2 0 2 .1 2 0 2 .1 2 0 2 0 2 .1 2 0 2 .1 2 0 2 0 2 .1 2 0 2 .1 2 0 2 0 2 .1 2 0 2 0 2 .1 2 0 2 0 2 0 2 .1 2 0 2 0 2 0 2 .1 2 0 2 0 2 0 2 .1 2 0 2 0 2 0 2 0 2 .1 2 0 2 0 2 0 2 0 2 0 2 .1 2 0 2 0 2 0 2 0 2 0 2 0 2 .1 2 0 2 0 2 0 2 0 2 0 2 0 2 .1 2 0 2 0 2 0 2 0 2 0 2 0 2 0 2 .1 2 0 2 0 2 0 2 0 2 0 2 0 2 0 2 .1 2 0 2 0 2 0 2 0 2 0 2 0 2 0 2 0 2 .1 2 0 2 0 2 0 2 0 2 0 2 0 2 0 2 .1 2 0 2 0 2 0 2 0 2 0 2 0 2 0 2 0 2 .1 2 0 2 0 2 0 2 0" fill="none" stroke="#7c0000" stroke-width="4.4" stroke-linecap="square"/>
<path d="M854.6 1544.2l2 0 2 0 2 0 2 0 2-.1 2 0 2 0 2 0 2 0 2-.1 2 0 2 0 2 0 2-.1 2 0 2 0 2-.1 2 0 2-.1 2 0 2 0 2-.1 2 0 2-.1 2 0 2-.1 2-.1 2 0 2-.1 2-.1 2 0 2-.1 2-.1 2-.1 2-.1 2-.1 2-.1 2-.1 2-.1 2-.1 2-.1 2-.2 2-.1 2-.2 2-.1 2-.2 2-.2 2-.2 2-.2 2-.3 2-.3 2-.2 2-.4 2-.3 2-.4 2-.4 2-.4 2-.5 2-.5 2-.5 2-.6 2-.7 2-.6 2-.8 2-.8 2-.8 2-.9 2-.9 2-1 2-1.1 2-1.1 2-1.2 2-1.1 2-1.3 2-1.2 2-1.3 2-1.3 2-1.3 2-1.2 2-1.2 2-1.2 2-1 2-1 2-.8 2-.8 2-.6 2-.5 2-.4 2-.2 2-.2 2-.2 2-.2 2-.2 2-.3 2-.4 2-.5 2-.6 2-.7 2-.9 2-.9 2-1 2-1 2-1.1 2-1.1 2-1 2-1.1 2-1 2-1 2-1 2-1 2-1.1 2-1.2 2-1.2 2-1.3 2-1.5 2-1.5 2-1.7 2-1.8 2-1.9 2-2 2-2.1 2-2.2 2-2.1 2-2.2 2-2.2 2-2.1 2-2 2-1.9 2-1.8 2-1.5 2-1.3 2-1 2-.7 2-.3 2-.1 2 .4 2 .7 2 1.2 2 1.6 2 1.9 2 2.2 2 2.5 2 2.7 2 2.9 2 3.1 2 3.1 2 3.2 2 3.2 2 3.3 2 3.2 2 3.1 2 3.1 2 3 2 3 2 2.8 2 2.7 2 2.6 2 2.5 2 2.3 2 2.3 2 2.1 2 2 2 1.9 2 1.8 2 1.6 2 1.6 2 1.4 2 1.4 2 1.3 2 1.2 2 1.1 2 1 2 .9 2 .9 2 .8 2 .8 2 .7 2 .6 2 .6 2 .6 2 .5 2 .5 2 .4 2 .4 2 .4 2 .4 2 .3 2 .4 2 .3 2 .3 2 .2 2 .3 2 .2 2 .3 2 .2 2 .2 2 .2 2 .2 2 .2 2 .2 2 .2 2 .1 2 .2 2 .1 2 .2 2 .1 2 .2 2 .1 2 .1 2 .2 2 .1 2 .1 2 .1 2 .1 2 .2 2 .1 2 .1 2 .1 2 .1 2 .1 2 .1 2 0 2 .1 2 .1 2 .1 2 .1 2 .1 2 .1 2 0 2 .1 2 .1 2 .1 2 0 2 .1 2 .1 0 2.4-2 0-2 0-2-.1-2 0-2 0-2 0-2-.1-2 0-2 0-2 0-2-.1-2 0-2 0-2 0-2 0-2-.1-2 0-2 0-2 0-2-.1-2 0-2 0-2 0-2-.1-2 0-2 0-2 0-2 0-2-.1-2 0-2 0-2 0-2-.1-2 0-2 0-2 0-2-.1-2 0-2 0-2 0-2-.1-2 0-2 0-2 0-2-.1-2 0-2 0-2 0-2-.1-2 0-2 0-2 0-2-.1-2 0-2 0-2 0-2-.1-2 0-2 0-2-.1-2 0-2 0-2 0-2-.1-2 0-2 0-2-.1-2 0-2 0-2-.1-2 0-2 0-2-.1-2 0-2-.1-2 0-2 0-2-.1-2 0-2-.1-2 0-2-.1-2 0-2-.1-2 0-2-.1-2 0-2-.1-2-.1-2 0-2-.1-2 0-2-.1-2-.1-2-.1-2 0-2-.1-2-.1-2 0-2-.1-2-.1-2-.1-2 0-2-.1-2-.1-2 0-2-.1-2-.1-2 0-2-.1-2-.1-2 0-2-.1-2 0-2-.1-2-.1-2 0-2-.1-2 0-2-.1-2 0-2-.1-2 0-2-.1-2 0-2-.1-2 0-2-.1-2 0-2-.1-2 0-2-.1-2 0-2-.1-2 0-2-.1-2 0-2 0-2-.1-2 0-2-.1-2 0-2-.1-2 0-2 0-2-.1-2 0-2-.1-2 0-2 0-2-.1-2 0-2-.1-2 0-2 0-2-.1-2 0-2-.1-2 0-2 0-2-.1-2 0-2 0-2-.1-2 0-2 0-2-.1-2 0-2 0-2 0-2-.1-2 0-2 0-2-.1-2 0-2 0-2 0-2-.1-2 0-2 0-2 0-2-.1-2 0-2 0-2 0-2-.1-2 0-2 0-2 0-2-.1-2 0-2 0-2 0-2-.1-2 0-2 0-2 0-2-.1-2 0-2 0-2 0-2 0-2-.1-2 0-2 0-2 0-2-.1-2 0-2 0-2 0-2-.1-2 0-2 0-2 0-2 0-2-.1-2 0-2 0-2 0-2-.1-2 0-2 0-2 0-2-.1-2 0-2 0-2 0-2 0-2-.1-2 0-2 0-2 0-2-.1-2 0-2 0Z" fill="#fcd8d8" fill-opacity="0.45"/>
<path d="M850.4 1541.7a4.2 4.2 0 1 0 8.4 0a4.2 4.2 0 1 0 -8.4 0M862.2 1543.3a4.2 4.2 0 1 0 8.4 0a4.2 4.2 0 1 0 -8.4 0M874 1543.7a4.2 4.2 0 1 0 8.4 0a4.2 4.2 0 1 0 -8.4 0M885.8 1543.4a4.2 4.2 0 1 0 8.4 0a4.2 4.2 0 1 0 -8.4 0M897.6 1544.2a4.2 4.2 0 1 0 8.4 0a4.2 4.2 0 1 0 -8.4 0M909.3 1540.8a4.2 4.2 0 1 0 8.4 0a4.2 4.2 0 1 0 -8.4 0M921.1 1541.5a4.2 4.2 0 1 0 8.4 0a4.2 4.2 0 1 0 -8.4 0M932.9 1539.5a4.2 4.2 0 1 0 8.4 0a4.2 4.2 0 1 0 -8.4 0M944.7 1537a4.2 4.2 0 1 0 8.4 0a4.2 4.2 0 1 0 -8.4 0M956.5 1536.3a4.2 4.2 0 1 0 8.4 0a4.2 4.2 0 1 0 -8.4 0M968.3 1534.9a4.2 4.2 0 1 0 8.4 0a4.2 4.2 0 1 0 -8.4 0M980.1 1529.5a4.2 4.2 0 1 0 8.4 0a4.2 4.2 0 1 0 -8.4 0M991.9 1525a4.2 4.2 0 1 0 8.4 0a4.2 4.2 0 1 0 -8.4 0M1003.7 1519.8a4.2 4.2 0 1 0 8.4 0a4.2 4.2 0 1 0 -8.4 0M1015.5 1511.9a4.2 4.2 0 1 0 8.4 0a4.2 4.2 0 1 0 -8.4 0M1027.2 1507.2a4.2 4.2 0 1 0 8.4 0a4.2 4.2 0 1 0 -8.4 0M1039 1504.5a4.2 4.2 0 1 0 8.4 0a4.2 4.2 0 1 0 -8.4 0M1050.8 1499.6a4.2 4.2 0 1 0 8.4 0a4.2 4.2 0 1 0 -8.4 0M1062.6 1491a4.2 4.2 0 1 0 8.4 0a4.2 4.2 0 1 0 -8.4 0M1074.4 1488.7a4.2 4.2 0 1 0 8.4 0a4.2 4.2 0 1 0 -8.4 0M1086.2 1477.1a4.2 4.2 0 1 0 8.4 0a4.2 4.2 0 1 0 -8.4 0M1098 1468.7a4.2 4.2 0 1 0 8.4 0a4.2 4.2 0 1 0 -8.4 0M1109.8 1457.8a4.2 4.2 0 1 0 8.4 0a4.2 4.2 0 1 0 -8.4 0M1121.6 1453.9a4.2 4.2 0 1 0 8.4 0a4.2 4.2 0 1 0 -8.4 0M1133.4 1460.9a4.2 4.2 0 1 0 8.4 0a4.2 4.2 0 1 0 -8.4 0M1145.1 1475.7a4.2 4.2 0 1 0 8.4 0a4.2 4.2 0 1 0 -8.4 0M1156.9 1495.2a4.2 4.2 0 1 0 8.4 0a4.2 4.2 0 1 0 -8.4 0M1168.7 1507.9a4.2 4.2 0 1 0 8.4 0a4.2 4.2 0 1 0 -8.4 0M1180.5 1523.1a4.2 4.2 0 1 0 8.4 0a4.2 4.2 0 1 0 -8.4 0M1192.3 1528.3a4.2 4.2 0 1 0 8.4 0a4.2 4.2 0 1 0 -8.4 0M1204.1 1538.3a4.2 4.2 0 1 0 8.4 0a4.2 4.2 0 1 0 -8.4 0M1215.9 1539.8a4.2 4.2 0 1 0 8.4 0a4.2 4.2 0 1 0 -8.4 0M1227.7 1543.7a4.2 4.2 0 1 0 8.4 0a4.2 4.2 0 1 0 -8.4 0M1239.5 1547.1a4.2 4.2 0 1 0 8.4 0a4.2 4.2 0 1 0 -8.4 0M1251.3 1543.3a4.2 4.2 0 1 0 8.4 0a4.2 4.2 0 1 0 -8.4 0M1263 1546.9a4.2 4.2 0 1 0 8.4 0a4.2 4.2 0 1 0 -8.4 0M1274.8 1549a4.2 4.2 0 1 0 8.4 0a4.2 4.2 0 1 0 -8.4 0M1286.6 1550.2a4.2 4.2 0 1 0 8.4 0a4.2 4.2 0 1 0 -8.4 0M1298.4 1551.4a4.2 4.2 0 1 0 8.4 0a4.2 4.2 0 1 0 -8.4 0M1310.2 1550.9a4.2 4.2 0 1 0 8.4 0a4.2 4.2 0 1 0 -8.4 0M1322 1551.2a4.2 4.2 0 1 0 8.4 0a4.2 4.2 0 1 0 -8.4 0" fill="none" stroke="#000" stroke-width="1.5"/>
<path d="M854.6 1544.9l2 0 2 0 2 0 2 0 2 0 2 0 2 0 2 0 2 0 2 0 2 0 2 0 2 0 2 0 2-.1 2 0 2 0 2 0 2 0 2 0 2 0 2 0 2 0 2-.1 2 0 2 0 2 0 2 0 2 0 2-.1 2 0 2 0 2 0 2-.1 2 0 2 0 2 0 2-.1 2 0 2 0 2-.1 2 0 2-.1 2 0 2 0 2-.1 2 0 2-.1 2 0 2-.1 2 0 2-.1 2-.1 2 0 2-.1 2-.1 2 0 2-.1 2-.1 2-.1 2-.1 2-.1 2-.1 2-.1 2-.1 2-.1 2-.1 2-.1 2-.2 2-.1 2-.2 2-.1 2-.2 2-.2 2-.2 2-.2 2-.2 2-.2 2-.3 2-.2 2-.3 2-.3 2-.3 2-.4 2-.4 2-.4 2-.4 2-.5 2-.5 2-.5 2-.6 2-.7 2-.7 2-.7 2-.8 2-.9 2-.9 2-1 2-1.1 2-1.1 2-1.2 2-1.3 2-1.4 2-1.5 2-1.6 2-1.6 2-1.8 2-1.8 2-2 2-2 2-2.2 2-2.2 2-2.3 2-2.4 2-2.5 2-2.6 2-2.6 2-2.7 2-2.7 2-2.8 2-2.8 2-2.7 2-2.8 2-2.7 2-2.6 2-2.5 2-2.4 2-2.2 2-2 2-1.8 2-1.5 2-1.2 2-.8 2-.5 2-.2 2 .2 2 .7 2 1.1 2 1.4 2 1.9 2 2.1 2 2.4 2 2.7 2 2.9 2 3 2 3 2 3.2 2 3.2 2 3.2 2 3.1 2 3.2 2 3 2 3 2 2.9 2 2.8 2 2.7 2 2.5 2 2.5 2 2.3 2 2.2 2 2.1 2 2 2 1.9 2 1.7 2 1.7 2 1.5 2 1.5 2 1.3 2 1.2 2 1.2 2 1.1 2 1 2 .9 2 .9 2 .8 2 .7 2 .7 2 .6 2 .6 2 .6 2 .5 2 .5 2 .4 2 .4 2 .4 2 .3 2 .4 2 .3 2 .3 2 .3 2 .2 2 .3 2 .2 2 .3 2 .2 2 .2 2 .2 2 .2 2 .2 2 .1 2 .2 2 .2 2 .1 2 .2 2 .1 2 .1 2 .2 2 .1 2 .1 2 .2 2 .1 2 .1 2 .1 2 .1 2 .1 2 .1 2 .1 2 .1 2 .1 2 .1 2 .1 2 .1 2 .1 2 .1 2 0 2 .1 2 .1 2 .1 2 0 2 .1 2 .1 2 .1 2 0 2 .1 2 .1 0 2.2-2 0-2 0-2-.1-2 0-2 0-2 0-2-.1-2 0-2 0-2 0-2-.1-2 0-2 0-2 0-2 0-2-.1-2 0-2 0-2 0-2-.1-2 0-2 0-2 0-2-.1-2 0-2 0-2 0-2 0-2-.1-2 0-2 0-2 0-2-.1-2 0-2 0-2 0-2-.1-2 0-2 0-2 0-2-.1-2 0-2 0-2 0-2-.1-2 0-2 0-2 0-2-.1-2 0-2 0-2 0-2-.1-2 0-2 0-2 0-2-.1-2 0-2 0-2-.1-2 0-2 0-2 0-2-.1-2 0-2 0-2-.1-2 0-2 0-2-.1-2 0-2 0-2-.1-2 0-2-.1-2 0-2 0-2-.1-2 0-2-.1-2 0-2-.1-2 0-2-.1-2 0-2-.1-2 0-2-.1-2-.1-2 0-2-.1-2 0-2-.1-2-.1-2-.1-2 0-2-.1-2-.1-2 0-2-.1-2-.1-2-.1-2 0-2-.1-2-.1-2 0-2-.1-2-.1-2 0-2-.1-2-.1-2 0-2-.1-2 0-2-.1-2-.1-2 0-2-.1-2 0-2-.1-2 0-2-.1-2 0-2-.1-2 0-2-.1-2 0-2-.1-2 0-2-.1-2 0-2-.1-2 0-2-.1-2 0-2-.1-2 0-2 0-2-.1-2 0-2-.1-2 0-2-.1-2 0-2 0-2-.1-2 0-2-.1-2 0-2 0-2-.1-2 0-2-.1-2 0-2 0-2-.1-2 0-2-.1-2 0-2 0-2-.1-2 0-2 0-2-.1-2 0-2 0-2-.1-2 0-2 0-2 0-2-.1-2 0-2 0-2-.1-2 0-2 0-2 0-2-.1-2 0-2 0-2 0-2-.1-2 0-2 0-2 0-2-.1-2 0-2 0-2 0-2-.1-2 0-2 0-2 0-2-.1-2 0-2 0-2 0-2-.1-2 0-2 0-2 0-2 0-2-.1-2 0-2 0-2 0-2-.1-2 0-2 0-2 0-2-.1-2 0-2 0-2 0-2 0-2-.1-2 0-2 0-2 0-2-.1-2 0-2 0-2 0-2-.1-2 0-2 0-2 0-2 0-2-.1-2 0-2 0-2 0-2-.1-2 0-2 0Z" fill="url(#dB)" fill-opacity="0.7"/>
<path d="M854.6 1546.3l2 0 2 .1 2 0 2 0 2 0 2 .1 2 0 2 0 2 0 2 0 2 .1 2 0 2 0 2 0 2 0 2 .1 2 0 2 0 2 0 2 0 2 .1 2 0 2 0 2 0 2 0 2 .1 2 0 2 0 2 0 2 0 2 .1 2 0 2 0 2 0 2 0 2 .1 2 0 2 0 2 0 2 0 2 .1 2 0 2 0 2 0 2 0 2 0 2 .1 2 0 2 0 2 0 2 0 2 0 2 .1 2 0 2 0 2 0 2 0 2 0 2 0 2 0 2 .1 2 0 2 0 2 0 2 0 2 0 2 0 2 0 2 0 2 0 2 0 2 0 2 0 2 0 2-.1 2 0 2 0 2-.1 2 0 2-.1 2-.1 2-.2 2-.1 2-.2 2-.3 2-.2 2-.3 2-.4 2-.4 2-.5 2-.5 2-.5 2-.6 2-.7 2-.7 2-.7 2-.8 2-.7 2-.8 2-.7 2-.6 2-.5 2-.5 2-.3 2-.1 2 0 2 .2 2 .4 2 .5 2 .7 2 .7 2 .8 2 .8 2 .9 2 .8 2 .8 2 .8 2 .8 2 .7 2 .7 2 .6 2 .6 2 .5 2 .4 2 .5 2 .3 2 .4 2 .3 2 .2 2 .3 2 .2 2 .2 2 .2 2 .1 2 .2 2 .1 2 .2 2 .1 2 .1 2 .1 2 .1 2 .1 2 .1 2 .1 2 .1 2 .1 2 .1 2 0 2 .1 2 .1 2 .1 2 0 2 .1 2 0 2 .1 2 .1 2 0 2 .1 2 0 2 .1 2 0 2 .1 2 0 2 .1 2 0 2 0 2 .1 2 0 2 .1 2 0 2 0 2 .1 2 0 2 0 2 .1 2 0 2 0 2 .1 2 0 2 0 2 .1 2 0 2 0 2 .1 2 0 2 0 2 0 2 .1 2 0 2 0 2 .1 2 0 2 0 2 0 2 .1 2 0 2 0 2 0 2 .1 2 0 2 0 2 .1 2 0 2 0 2 0 2 .1 2 0 2 0 2 0 2 .1 2 0 2 0 2 0 2 .1 2 0 2 0 2 0 2 0 2 .1 2 0 2 0 2 0 2 .1 2 0 2 0 2 0 2 .1 2 0 2 0 2 0 2 .1 2 0 2 0 2 0 2 .1 0 0-2 0-2 0-2-.1-2 0-2 0-2 0-2-.1-2 0-2 0-2 0-2-.1-2 0-2 0-2 0-2 0-2-.1-2 0-2 0-2 0-2-.1-2 0-2 0-2 0-2-.1-2 0-2 0-2 0-2 0-2-.1-2 0-2 0-2 0-2-.1-2 0-2 0-2 0-2-.1-2 0-2 0-2 0-2-.1-2 0-2 0-2 0-2-.1-2 0-2 0-2 0-2-.1-2 0-2 0-2 0-2-.1-2 0-2 0-2 0-2-.1-2 0-2 0-2-.1-2 0-2 0-2 0-2-.1-2 0-2 0-2-.1-2 0-2 0-2-.1-2 0-2 0-2-.1-2 0-2-.1-2 0-2 0-2-.1-2 0-2-.1-2 0-2-.1-2 0-2-.1-2 0-2-.1-2 0-2-.1-2-.1-2 0-2-.1-2 0-2-.1-2-.1-2-.1-2 0-2-.1-2-.1-2 0-2-.1-2-.1-2-.1-2 0-2-.1-2-.1-2 0-2-.1-2-.1-2 0-2-.1-2-.1-2 0-2-.1-2 0-2-.1-2-.1-2 0-2-.1-2 0-2-.1-2 0-2-.1-2 0-2-.1-2 0-2-.1-2 0-2-.1-2 0-2-.1-2 0-2-.1-2 0-2-.1-2 0-2-.1-2 0-2 0-2-.1-2 0-2-.1-2 0-2-.1-2 0-2 0-2-.1-2 0-2-.1-2 0-2 0-2-.1-2 0-2-.1-2 0-2 0-2-.1-2 0-2-.1-2 0-2 0-2-.1-2 0-2 0-2-.1-2 0-2 0-2-.1-2 0-2 0-2 0-2-.1-2 0-2 0-2-.1-2 0-2 0-2 0-2-.1-2 0-2 0-2 0-2-.1-2 0-2 0-2 0-2-.1-2 0-2 0-2 0-2-.1-2 0-2 0-2 0-2-.1-2 0-2 0-2 0-2-.1-2 0-2 0-2 0-2 0-2-.1-2 0-2 0-2 0-2-.1-2 0-2 0-2 0-2-.1-2 0-2 0-2 0-2 0-2-.1-2 0-2 0-2 0-2-.1-2 0-2 0-2 0-2-.1-2 0-2 0-2 0-2 0-2-.1-2 0-2 0-2 0-2-.1-2 0-2 0Z" fill="#b8f0c8" fill-opacity="0.5"/>
<path d="M854.6 1545.8l2 0 2 0 2 0 2 0 2 0 2 .1 2 0 2 0 2 0 2 0 2 0 2 0 2 0 2 0 2 0 2 0 2 0 2 0 2 0 2 0 2 0 2-.1 2 0 2 0 2 0 2 0 2 0 2 0 2 0 2-.1 2 0 2 0 2-.1 2 0 2 0 2-.1 2 0 2 0 2-.1 2-.1 2 0 2-.1 2-.1 2 0 2-.1 2-.1 2-.2 2-.1 2-.1 2-.2 2-.2 2-.2 2-.2 2-.2 2-.3 2-.3 2-.3 2-.3 2-.4 2-.4 2-.5 2-.5 2-.5 2-.6 2-.7 2-.6 2-.7 2-.8 2-.8 2-.9 2-.9 2-.9 2-.9 2-1 2-1 2-.9 2-1 2-.9 2-.9 2-.8 2-.6 2-.6 2-.4 2-.2 2-.1 2 .1 2 .4 2 .5 2 .8 2 .9 2 1 2 1.1 2 1.1 2 1.2 2 1.2 2 1.2 2 1.2 2 1.1 2 1.1 2 1 2 .9 2 .9 2 .9 2 .8 2 .7 2 .7 2 .6 2 .5 2 .6 2 .4 2 .5 2 .4 2 .3 2 .4 2 .3 2 .2 2 .3 2 .2 2 .3 2 .2 2 .2 2 .2 2 .1 2 .2 2 .2 2 .1 2 .2 2 .1 2 .2 2 .1 2 .1 2 .1 2 .2 2 .1 2 .1 2 .1 2 .2 2 .1 2 .1 2 .1 2 .1 2 .1 2 .1 2 .1 2 .1 2 .1 2 .1 2 0 2 .1 2 .1 2 .1 2 0 2 .1 2 .1 2 .1 2 0 2 .1 2 0 2 .1 2 .1 2 0 2 .1 2 0 2 .1 2 0 2 .1 2 0 2 0 2 .1 2 0 2 .1 2 0 2 .1 2 0 2 0 2 .1 2 0 2 0 2 .1 2 0 2 0 2 .1 2 0 2 0 2 .1 2 0 2 0 2 .1 2 0 2 0 2 .1 2 0 2 0 2 .1 2 0 2 0 2 0 2 .1 2 0 2 0 2 .1 2 0 2 0 2 0 2 .1 2 0 2 0 2 .1 2 0 2 0 2 0 2 .1 2 0 2 0 2 0 2 .1 2 0 2 0 2 0 2 .1 2 0 2 0 2 0 2 .1 2 0 2 0 2 .1 2 0 2 0 2 0 2 0 2 .1 2 0 2 0 2 0 0 .2-2 0-2 0-2-.1-2 0-2 0-2 0-2-.1-2 0-2 0-2 0-2-.1-2 0-2 0-2 0-2 0-2-.1-2 0-2 0-2 0-2-.1-2 0-2 0-2 0-2-.1-2 0-2 0-2 0-2 0-2-.1-2 0-2 0-2 0-2-.1-2 0-2 0-2 0-2-.1-2 0-2 0-2 0-2-.1-2 0-2 0-2 0-2-.1-2 0-2 0-2 0-2-.1-2 0-2 0-2 0-2-.1-2 0-2 0-2 0-2-.1-2 0-2 0-2-.1-2 0-2 0-2 0-2-.1-2 0-2 0-2-.1-2 0-2 0-2-.1-2 0-2 0-2-.1-2 0-2-.1-2 0-2 0-2-.1-2 0-2-.1-2 0-2-.1-2 0-2-.1-2 0-2-.1-2 0-2-.1-2-.1-2 0-2-.1-2 0-2-.1-2-.1-2-.1-2 0-2-.1-2-.1-2 0-2-.1-2-.1-2-.1-2 0-2-.1-2-.1-2 0-2-.1-2-.1-2 0-2-.1-2-.1-2 0-2-.1-2 0-2-.1-2-.1-2 0-2-.1-2 0-2-.1-2 0-2-.1-2 0-2-.1-2 0-2-.1-2 0-2-.1-2 0-2-.1-2 0-2-.1-2 0-2-.1-2 0-2-.1-2 0-2 0-2-.1-2 0-2-.1-2 0-2-.1-2 0-2 0-2-.1-2 0-2-.1-2 0-2 0-2-.1-2 0-2-.1-2 0-2 0-2-.1-2 0-2-.1-2 0-2 0-2-.1-2 0-2 0-2-.1-2 0-2 0-2-.1-2 0-2 0-2 0-2-.1-2 0-2 0-2-.1-2 0-2 0-2 0-2-.1-2 0-2 0-2 0-2-.1-2 0-2 0-2 0-2-.1-2 0-2 0-2 0-2-.1-2 0-2 0-2 0-2-.1-2 0-2 0-2 0-2-.1-2 0-2 0-2 0-2 0-2-.1-2 0-2 0-2 0-2-.1-2 0-2 0-2 0-2-.1-2 0-2 0-2 0-2 0-2-.1-2 0-2 0-2 0-2-.1-2 0-2 0-2 0-2-.1-2 0-2 0-2 0-2 0-2-.1-2 0-2 0-2 0-2-.1-2 0-2 0Z" fill="#f8d0e0" fill-opacity="0.35"/>
<path d="M854.6 1543.6l2 0 2 0 2 0 2 0 2-.1 2 0 2 0 2 0 2 0 2-.1 2 0 2 0 2 0 2-.1 2 0 2 0 2-.1 2 0 2-.1 2 0 2 0 2-.1 2 0 2-.1 2 0 2-.1 2-.1 2 0 2-.1 2-.1 2 0 2-.1 2-.1 2-.1 2-.1 2-.1 2-.1 2-.1 2-.1 2-.1 2-.1 2-.2 2-.1 2-.2 2-.1 2-.2 2-.2 2-.2 2-.2 2-.3 2-.3 2-.2 2-.4 2-.3 2-.4 2-.4 2-.4 2-.5 2-.5 2-.5 2-.6 2-.7 2-.6 2-.8 2-.8 2-.8 2-.9 2-.9 2-1 2-1.1 2-1.1 2-1.2 2-1.1 2-1.3 2-1.2 2-1.3 2-1.3 2-1.3 2-1.2 2-1.2 2-1.2 2-1 2-1 2-.8 2-.8 2-.6 2-.5 2-.4 2-.2 2-.2 2-.2 2-.2 2-.2 2-.3 2-.4 2-.5 2-.6 2-.7 2-.9 2-.9 2-1 2-1 2-1.1 2-1.1 2-1 2-1.1 2-1 2-1 2-1 2-1 2-1.1 2-1.2 2-1.2 2-1.3 2-1.5 2-1.5 2-1.7 2-1.8 2-1.9 2-2 2-2.1 2-2.2 2-2.1 2-2.2 2-2.2 2-2.1 2-2 2-1.9 2-1.8 2-1.5 2-1.3 2-1 2-.7 2-.3 2-.1 2 .4 2 .7 2 1.2 2 1.6 2 1.9 2 2.2 2 2.5 2 2.7 2 2.9 2 3.1 2 3.1 2 3.2 2 3.2 2 3.3 2 3.2 2 3.1 2 3.1 2 3 2 3 2 2.8 2 2.7 2 2.6 2 2.5 2 2.3 2 2.3 2 2.1 2 2 2 1.9 2 1.8 2 1.6 2 1.6 2 1.4 2 1.4 2 1.3 2 1.2 2 1.1 2 1 2 .9 2 .9 2 .8 2 .8 2 .7 2 .6 2 .6 2 .6 2 .5 2 .5 2 .4 2 .4 2 .4 2 .4 2 .3 2 .4 2 .3 2 .3 2 .2 2 .3 2 .2 2 .3 2 .2 2 .2 2 .2 2 .2 2 .2 2 .2 2 .2 2 .1 2 .2 2 .1 2 .2 2 .1 2 .2 2 .1 2 .1 2 .2 2 .1 2 .1 2 .1 2 .1 2 .2 2 .1 2 .1 2 .1 2 .1 2 .1 2 .1 2 0 2 .1 2 .1 2 .1 2 .1 2 .1 2 .1 2 0 2 .1 2 .1 2 .1 2 0 2 .1 2 .1" fill="none" stroke="#ff1414" stroke-width="4.0"/>
<path d="M854.6 1545.5l2 0 2 0 2 0 2 0 2 0 2 0 2 0 2 0 2 0 2 0 2 0 2 0 2 0 2 0 2-.1 2 0 2 0 2 0 2 0 2 0 2 0 2 0 2 0 2-.1 2 0 2 0 2 0 2 0 2 0 2-.1 2 0 2 0 2 0 2-.1 2 0 2 0 2 0 2-.1 2 0 2 0 2-.1 2 0 2-.1 2 0 2 0 2-.1 2 0 2-.1 2 0 2-.1 2 0 2-.1 2-.1 2 0 2-.1 2-.1 2 0 2-.1 2-.1 2-.1 2-.1 2-.1 2-.1 2-.1 2-.1 2-.1 2-.1 2-.1 2-.2 2-.1 2-.2 2-.1 2-.2 2-.2 2-.2 2-.2 2-.2 2-.2 2-.3 2-.2 2-.3 2-.3 2-.3 2-.4 2-.4 2-.4 2-.4 2-.5 2-.5 2-.5 2-.6 2-.7 2-.7 2-.7 2-.8 2-.9 2-.9 2-1 2-1.1 2-1.1 2-1.2 2-1.3 2-1.4 2-1.5 2-1.6 2-1.6 2-1.8 2-1.8 2-2 2-2 2-2.2 2-2.2 2-2.3 2-2.4 2-2.5 2-2.6 2-2.6 2-2.7 2-2.7 2-2.8 2-2.8 2-2.7 2-2.8 2-2.7 2-2.6 2-2.5 2-2.4 2-2.2 2-2 2-1.8 2-1.5 2-1.2 2-.8 2-.5 2-.2 2 .2 2 .7 2 1.1 2 1.4 2 1.9 2 2.1 2 2.4 2 2.7 2 2.9 2 3 2 3 2 3.2 2 3.2 2 3.2 2 3.1 2 3.2 2 3 2 3 2 2.9 2 2.8 2 2.7 2 2.5 2 2.5 2 2.3 2 2.2 2 2.1 2 2 2 1.9 2 1.7 2 1.7 2 1.5 2 1.5 2 1.3 2 1.2 2 1.2 2 1.1 2 1 2 .9 2 .9 2 .8 2 .7 2 .7 2 .6 2 .6 2 .6 2 .5 2 .5 2 .4 2 .4 2 .4 2 .3 2 .4 2 .3 2 .3 2 .3 2 .2 2 .3 2 .2 2 .3 2 .2 2 .2 2 .2 2 .2 2 .2 2 .1 2 .2 2 .2 2 .1 2 .2 2 .1 2 .1 2 .2 2 .1 2 .1 2 .2 2 .1 2 .1 2 .1 2 .1 2 .1 2 .1 2 .1 2 .1 2 .1 2 .1 2 .1 2 .1 2 .1 2 .1 2 0 2 .1 2 .1 2 .1 2 0 2 .1 2 .1 2 .1 2 0 2 .1 2 .1" fill="none" stroke="#5a5af0" stroke-width="3.6" stroke-opacity="0.62"/>
<path d="M854.6 1546.3l2 0 2 .1 2 0 2 0 2 0 2 .1 2 0 2 0 2 0 2 0 2 .1 2 0 2 0 2 0 2 0 2 .1 2 0 2 0 2 0 2 0 2 .1 2 0 2 0 2 0 2 0 2 .1 2 0 2 0 2 0 2 0 2 .1 2 0 2 0 2 0 2 0 2 .1 2 0 2 0 2 0 2 0 2 .1 2 0 2 0 2 0 2 0 2 0 2 .1 2 0 2 0 2 0 2 0 2 0 2 .1 2 0 2 0 2 0 2 0 2 0 2 0 2 0 2 .1 2 0 2 0 2 0 2 0 2 0 2 0 2 0 2 0 2 0 2 0 2 0 2 0 2 0 2-.1 2 0 2 0 2-.1 2 0 2-.1 2-.1 2-.2 2-.1 2-.2 2-.3 2-.2 2-.3 2-.4 2-.4 2-.5 2-.5 2-.5 2-.6 2-.7 2-.7 2-.7 2-.8 2-.7 2-.8 2-.7 2-.6 2-.5 2-.5 2-.3 2-.1 2 0 2 .2 2 .4 2 .5 2 .7 2 .7 2 .8 2 .8 2 .9 2 .8 2 .8 2 .8 2 .8 2 .7 2 .7 2 .6 2 .6 2 .5 2 .4 2 .5 2 .3 2 .4 2 .3 2 .2 2 .3 2 .2 2 .2 2 .2 2 .1 2 .2 2 .1 2 .2 2 .1 2 .1 2 .1 2 .1 2 .1 2 .1 2 .1 2 .1 2 .1 2 .1 2 0 2 .1 2 .1 2 .1 2 0 2 .1 2 0 2 .1 2 .1 2 0 2 .1 2 0 2 .1 2 0 2 .1 2 0 2 .1 2 0 2 0 2 .1 2 0 2 .1 2 0 2 0 2 .1 2 0 2 0 2 .1 2 0 2 0 2 .1 2 0 2 0 2 .1 2 0 2 0 2 .1 2 0 2 0 2 0 2 .1 2 0 2 0 2 .1 2 0 2 0 2 0 2 .1 2 0 2 0 2 0 2 .1 2 0 2 0 2 .1 2 0 2 0 2 0 2 .1 2 0 2 0 2 0 2 .1 2 0 2 0 2 0 2 .1 2 0 2 0 2 0 2 0 2 .1 2 0 2 0 2 0 2 .1 2 0 2 0 2 0 2 .1 2 0 2 0 2 0 2 .1 2 0 2 0 2 0 2 .1" fill="none" stroke="#4aa650" stroke-width="3.6" stroke-opacity="0.85"/>
<path d="M854.6 1545.8l2 0 2 0 2 0 2 0 2 0 2 .1 2 0 2 0 2 0 2 0 2 0 2 0 2 0 2 0 2 0 2 0 2 0 2 0 2 0 2 0 2 0 2-.1 2 0 2 0 2 0 2 0 2 0 2 0 2 0 2-.1 2 0 2 0 2-.1 2 0 2 0 2-.1 2 0 2 0 2-.1 2-.1 2 0 2-.1 2-.1 2 0 2-.1 2-.1 2-.2 2-.1 2-.1 2-.2 2-.2 2-.2 2-.2 2-.2 2-.3 2-.3 2-.3 2-.3 2-.4 2-.4 2-.5 2-.5 2-.5 2-.6 2-.7 2-.6 2-.7 2-.8 2-.8 2-.9 2-.9 2-.9 2-.9 2-1 2-1 2-.9 2-1 2-.9 2-.9 2-.8 2-.6 2-.6 2-.4 2-.2 2-.1 2 .1 2 .4 2 .5 2 .8 2 .9 2 1 2 1.1 2 1.1 2 1.2 2 1.2 2 1.2 2 1.2 2 1.1 2 1.1 2 1 2 .9 2 .9 2 .9 2 .8 2 .7 2 .7 2 .6 2 .5 2 .6 2 .4 2 .5 2 .4 2 .3 2 .4 2 .3 2 .2 2 .3 2 .2 2 .3 2 .2 2 .2 2 .2 2 .1 2 .2 2 .2 2 .1 2 .2 2 .1 2 .2 2 .1 2 .1 2 .1 2 .2 2 .1 2 .1 2 .1 2 .2 2 .1 2 .1 2 .1 2 .1 2 .1 2 .1 2 .1 2 .1 2 .1 2 .1 2 0 2 .1 2 .1 2 .1 2 0 2 .1 2 .1 2 .1 2 0 2 .1 2 0 2 .1 2 .1 2 0 2 .1 2 0 2 .1 2 0 2 .1 2 0 2 0 2 .1 2 0 2 .1 2 0 2 .1 2 0 2 0 2 .1 2 0 2 0 2 .1 2 0 2 0 2 .1 2 0 2 0 2 .1 2 0 2 0 2 .1 2 0 2 0 2 .1 2 0 2 0 2 .1 2 0 2 0 2 0 2 .1 2 0 2 0 2 .1 2 0 2 0 2 0 2 .1 2 0 2 0 2 .1 2 0 2 0 2 0 2 .1 2 0 2 0 2 0 2 .1 2 0 2 0 2 0 2 .1 2 0 2 0 2 0 2 .1 2 0 2 0 2 .1 2 0 2 0 2 0 2 0 2 .1 2 0 2 0 2 0" fill="none" stroke="#f0329a" stroke-width="3.6"/>
<path d="M854.6 1547.2l2 0 2 0 2 .1 2 0 2 0 2 0 2 .1 2 0 2 0 2 0 2 0 2 .1 2 0 2 0 2 0 2 .1 2 0 2 0 2 0 2 .1 2 0 2 0 2 0 2 0 2 .1 2 0 2 0 2 0 2 .1 2 0 2 0 2 0 2 .1 2 0 2 0 2 0 2 0 2 .1 2 0 2 0 2 0 2 .1 2 0 2 0 2 0 2 .1 2 0 2 0 2 0 2 .1 2 0 2 0 2 0 2 .1 2 0 2 0 2 0 2 .1 2 0 2 0 2 0 2 .1 2 0 2 0 2 .1 2 0 2 0 2 0 2 .1 2 0 2 0 2 .1 2 0 2 0 2 .1 2 0 2 0 2 .1 2 0 2 .1 2 0 2 0 2 .1 2 0 2 .1 2 0 2 0 2 .1 2 0 2 .1 2 0 2 0 2 .1 2 0 2 .1 2 0 2 .1 2 0 2 0 2 .1 2 0 2 .1 2 0 2 .1 2 0 2 .1 2 0 2 .1 2 0 2 .1 2 0 2 .1 2 0 2 .1 2 0 2 .1 2 0 2 .1 2 0 2 .1 2 .1 2 0 2 .1 2 0 2 .1 2 .1 2 0 2 .1 2 .1 2 0 2 .1 2 .1 2 0 2 .1 2 .1 2 .1 2 0 2 .1 2 .1 2 0 2 .1 2 .1 2 .1 2 0 2 .1 2 0 2 .1 2 .1 2 0 2 .1 2 0 2 .1 2 0 2 .1 2 0 2 .1 2 0 2 .1 2 0 2 0 2 .1 2 0 2 .1 2 0 2 0 2 .1 2 0 2 0 2 .1 2 0 2 0 2 .1 2 0 2 0 2 0 2 .1 2 0 2 0 2 .1 2 0 2 0 2 0 2 .1 2 0 2 0 2 0 2 .1 2 0 2 0 2 0 2 .1 2 0 2 0 2 0 2 .1 2 0 2 0 2 0 2 .1 2 0 2 0 2 0 2 .1 2 0 2 0 2 0 2 .1 2 0 2 0 2 0 2 0 2 .1 2 0 2 0 2 0 2 .1 2 0 2 0 2 0 2 .1 2 0 2 0 2 0 2 0 2 .1 2 0 2 0 2 0 2 .1 2 0 2 0 2 0 2 .1 2 0 2 0" fill="none" stroke="#7c0000" stroke-width="4.4" stroke-linecap="square"/>
</g>
<g stroke="#000" stroke-width="1.6" stroke-dasharray="3.5 2.5">
<line x1="1023.2" y1="889" x2="1023.2" y2="1575"/>
<line x1="1063.2" y1="851" x2="1063.2" y2="1575"/>
<line x1="1131.6" y1="846" x2="1131.6" y2="1575"/>
</g>
<text x="770.2" y="881" font-family="'Liberation Serif', serif" font-weight="bold" font-size="50" fill="#000" textLength="63.5" lengthAdjust="spacingAndGlyphs">(d)</text>
<text x="936.2" y="873.2" font-family="'Liberation Serif', serif" font-weight="bold" font-size="23" fill="#000" textLength="101.9" lengthAdjust="spacingAndGlyphs">532.7 ± 0.1</text>
<text x="1092" y="968.3" font-family="'Liberation Serif', serif" font-weight="bold" font-size="23" fill="#000" textLength="83.8" lengthAdjust="spacingAndGlyphs">530 ± 0.1</text>
<text x="1009" y="1102.6" font-family="'Liberation Serif', serif" font-weight="bold" font-size="23" fill="#000" textLength="102" lengthAdjust="spacingAndGlyphs">531.7 ± 0.1</text>
<text x="1224.7" y="926" font-family="'Liberation Serif', serif" font-weight="bold" font-size="23" fill="#000" textLength="112.7" lengthAdjust="spacingAndGlyphs">800 °C 24 h</text>
<text x="1238.2" y="1054.3" font-family="'Liberation Serif', serif" font-weight="bold" font-size="23" fill="#000" textLength="100.7" lengthAdjust="spacingAndGlyphs">800 °C 2 h</text>
<text x="1224.7" y="1183.8" font-family="'Liberation Serif', serif" font-weight="bold" font-size="23" fill="#000" textLength="112.7" lengthAdjust="spacingAndGlyphs">650 °C 24 h</text>
<text x="1235.2" y="1300.8" font-family="'Liberation Serif', serif" font-weight="bold" font-size="23" fill="#000" textLength="99.9" lengthAdjust="spacingAndGlyphs">650 °C 2 h</text>
<text x="1229.6" y="1420" font-family="'Liberation Serif', serif" font-weight="bold" font-size="23" fill="#000" textLength="114.2" lengthAdjust="spacingAndGlyphs">500 °C 24 h</text>
<text x="1236" y="1535.8" font-family="'Liberation Serif', serif" font-weight="bold" font-size="23" fill="#000" textLength="100.2" lengthAdjust="spacingAndGlyphs">500 °C 2 h</text>
<text x="1190.5" y="1229.3" font-family="'Liberation Serif', serif" font-weight="bold" font-size="27">O<tspan font-size="17" dy="-11">2-</tspan></text>
<text x="1008" y="1368.8" font-family="'Liberation Serif', serif" font-weight="bold" font-size="26" textLength="38.5" lengthAdjust="spacingAndGlyphs">OH</text>
<text x="1047.5" y="1357.5" font-family="'Liberation Serif', serif" font-weight="bold" font-size="17">-</text>
<text x="952.5" y="1475.5" font-family="'Liberation Serif', serif" font-weight="bold" font-size="26">H<tspan font-size="16" dy="4">2</tspan><tspan dy="-4">O</tspan></text>
<line x1="1191.1" y1="1231.9" x2="1166.2" y2="1250.9" stroke="#000" stroke-width="2.7"/>
<polygon points="1156.7,1258.2 1163.1,1246.8 1169.4,1255" fill="#000"/>
<line x1="1032.2" y1="1375.6" x2="1051.3" y2="1400.3" stroke="#000" stroke-width="2.7"/>
<polygon points="1058.6,1409.8 1047.2,1403.5 1055.4,1397.1" fill="#000"/>
<line x1="987.2" y1="1487.9" x2="1005.2" y2="1509.9" stroke="#000" stroke-width="2.7"/>
<polygon points="1012.8,1519.2 1001.2,1513.2 1009.2,1506.6" fill="#000"/>
<path d="M854.6 1575.0V1569.5M874.2 1575.0V1569.5M893.9 1575.0V1563M913.5 1575.0V1569.5M933.2 1575.0V1569.5M952.8 1575.0V1569.5M972.5 1575.0V1563M992.1 1575.0V1569.5M1011.8 1575.0V1569.5M1031.5 1575.0V1569.5M1051.1 1575.0V1563M1070.8 1575.0V1569.5M1090.4 1575.0V1569.5M1110 1575.0V1569.5M1129.7 1575.0V1563M1149.3 1575.0V1569.5M1169 1575.0V1569.5M1188.6 1575.0V1569.5M1208.3 1575.0V1563M1228 1575.0V1569.5M1247.6 1575.0V1569.5M1267.2 1575.0V1569.5M1286.9 1575.0V1563M1306.5 1575.0V1569.5M1326.2 1575.0V1569.5" stroke="#000" stroke-width="2.2" fill="none"/>
<path d="M854.6 1575.0V1568.0M1326.2 1575.0V1568.0" stroke="#8a0000" stroke-width="2.6" fill="none"/>
<rect x="837.5" y="842.6" width="507.9000000000001" height="732.4" stroke="#000" stroke-width="2.5" fill="none"/>
<text x="1286.9" y="1608" font-family="'Liberation Sans', sans-serif" font-weight="bold" font-size="25.5" fill="#000" text-anchor="middle">526</text>
<text x="1208.3" y="1608" font-family="'Liberation Sans', sans-serif" font-weight="bold" font-size="25.5" fill="#000" text-anchor="middle">528</text>
<text x="1129.7" y="1608" font-family="'Liberation Sans', sans-serif" font-weight="bold" font-size="25.5" fill="#000" text-anchor="middle">530</text>
<text x="1051.1" y="1608" font-family="'Liberation Sans', sans-serif" font-weight="bold" font-size="25.5" fill="#000" text-anchor="middle">532</text>
<text x="972.5" y="1608" font-family="'Liberation Sans', sans-serif" font-weight="bold" font-size="25.5" fill="#000" text-anchor="middle">534</text>
<text x="893.9" y="1608" font-family="'Liberation Sans', sans-serif" font-weight="bold" font-size="25.5" fill="#000" text-anchor="middle">536</text>
<text x="960" y="1650.6" font-family="'Liberation Serif', serif" font-weight="bold" font-size="30" fill="#000" textLength="261.9" lengthAdjust="spacingAndGlyphs">Binding Energy (eV)</text>
<text x="811.5" y="1308.9" font-family="'Liberation Serif', serif" font-weight="bold" font-size="32" fill="#000" textLength="199.2" lengthAdjust="spacingAndGlyphs" transform="rotate(-90 811.5 1308.9)">Intensity (a.u.)</text>
</svg></body></html>
